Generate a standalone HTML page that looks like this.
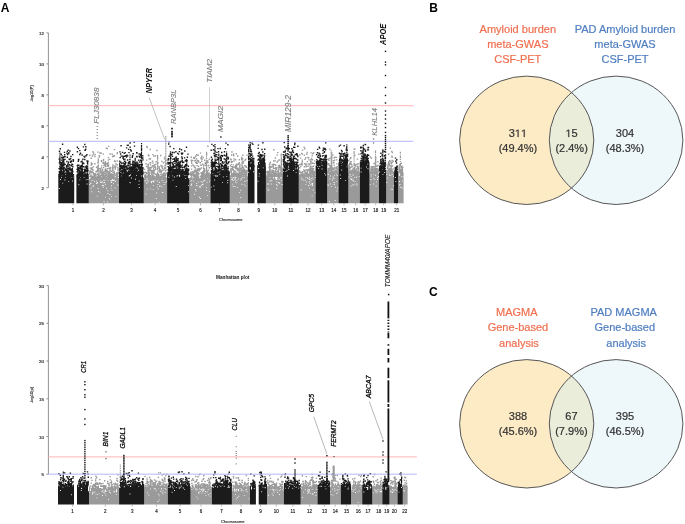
<!DOCTYPE html>
<html><head><meta charset="utf-8"><style>
html,body{margin:0;padding:0;background:#fff;width:685px;height:524px;overflow:hidden}
svg{display:block;font-family:"Liberation Sans",sans-serif;will-change:transform}
</style></head><body>
<svg width="685" height="524" viewBox="0 0 685 524">
<path fill="#9a9a9a" d="M88.8 203.2L88.8 178.8L89.8 178.8L89.8 180.1L90.8 180.1L90.8 177.1L91.8 177.1L91.8 178L92.8 178L92.8 179L93.8 179L93.8 177.3L94.8 177.3L94.8 179.1L95.8 179.1L95.8 177L96.8 177L96.8 177.2L97.8 177.2L97.8 178.1L98.8 178.1L98.8 179.1L99.8 179.1L99.8 177.7L100.8 177.7L100.8 177.5L101.8 177.5L101.8 177.3L102.8 177.3L102.8 177.2L103.8 177.2L103.8 178.8L104.8 178.8L104.8 179.1L105.8 179.1L105.8 177.8L106.8 177.8L106.8 177.9L107.8 177.9L107.8 178.7L108.8 178.7L108.8 177.7L109.8 177.7L109.8 177.8L110.8 177.8L110.8 177.8L111.8 177.8L111.8 181L112.8 181L112.8 177.7L113.8 177.7L113.8 180.6L114.8 180.6L114.8 178.9L115.8 178.9L115.8 178.3L116.8 178.3L116.8 177.8L117.8 177.8L117.8 177.9L119 177.9L119 203.2ZM143.8 203.2L143.8 178.3L144.8 178.3L144.8 181.5L145.8 181.5L145.8 179.4L146.8 179.4L146.8 180.8L147.8 180.8L147.8 178.4L148.8 178.4L148.8 178.7L149.8 178.7L149.8 179L150.8 179L150.8 177.4L151.8 177.4L151.8 177.5L152.8 177.5L152.8 178.2L153.8 178.2L153.8 180.5L154.8 180.5L154.8 177.7L155.8 177.7L155.8 178.8L156.8 178.8L156.8 178.2L157.8 178.2L157.8 178.4L158.8 178.4L158.8 177.3L159.8 177.3L159.8 177.9L160.8 177.9L160.8 177.2L161.8 177.2L161.8 177.1L162.8 177.1L162.8 177.4L163.8 177.4L163.8 177.8L164.8 177.8L164.8 178L165.8 178L165.8 178.5L167.1 178.5L167.1 203.2ZM189.3 203.2L189.3 178.3L190.3 178.3L190.3 178L191.3 178L191.3 180.6L192.3 180.6L192.3 177.1L193.3 177.1L193.3 178.2L194.3 178.2L194.3 177.9L195.3 177.9L195.3 179.1L196.3 179.1L196.3 177.9L197.3 177.9L197.3 179L198.3 179L198.3 179.2L199.3 179.2L199.3 178.3L200.3 178.3L200.3 178L201.3 178L201.3 177.8L202.3 177.8L202.3 179.3L203.3 179.3L203.3 177.1L204.3 177.1L204.3 180.5L205.3 180.5L205.3 178L206.3 178L206.3 178.1L207.3 178.1L207.3 178.1L208.3 178.1L208.3 177.3L209.3 177.3L209.3 177.4L210.4 177.4L210.4 203.2ZM229.8 203.2L229.8 175.5L230.8 175.5L230.8 175.8L231.8 175.8L231.8 174.8L232.8 174.8L232.8 174.1L233.8 174.1L233.8 174.3L234.8 174.3L234.8 178.8L235.8 178.8L235.8 174L236.8 174L236.8 174.5L237.8 174.5L237.8 174.7L238.8 174.7L238.8 174.1L239.8 174.1L239.8 174.5L240.8 174.5L240.8 176.3L241.8 176.3L241.8 178L242.8 178L242.8 174.6L243.8 174.6L243.8 177.2L244.8 177.2L244.8 174.5L245.8 174.5L245.8 174.3L246.8 174.3L246.8 176.3L247.8 176.3L247.8 203.2ZM265.9 203.2L265.9 175L266.9 175L266.9 175.9L267.9 175.9L267.9 174.4L268.9 174.4L268.9 175.2L269.9 175.2L269.9 175.8L270.9 175.8L270.9 175.2L271.9 175.2L271.9 174.9L272.9 174.9L272.9 177.5L273.9 177.5L273.9 174.1L274.9 174.1L274.9 178.4L275.9 178.4L275.9 179.4L276.9 179.4L276.9 176.6L277.9 176.6L277.9 174.1L278.9 174.1L278.9 175.9L279.9 175.9L279.9 174.3L280.9 174.3L280.9 175.1L281.9 175.1L281.9 174.2L282.6 174.2L282.6 203.2ZM298.8 203.2L298.8 174.2L299.8 174.2L299.8 174.9L300.8 174.9L300.8 175.4L301.8 175.4L301.8 176.4L302.8 176.4L302.8 174.7L303.8 174.7L303.8 175.6L304.8 175.6L304.8 175L305.8 175L305.8 174.9L306.8 174.9L306.8 174.1L307.8 174.1L307.8 174.7L308.8 174.7L308.8 177L309.8 177L309.8 174.8L310.8 174.8L310.8 175.4L311.8 175.4L311.8 174.5L312.8 174.5L312.8 174.2L313.8 174.2L313.8 175.5L314.8 175.5L314.8 175.4L315.6 175.4L315.6 203.2ZM327.2 203.2L327.2 171L328.2 171L328.2 171.2L329.2 171.2L329.2 173.5L330.2 173.5L330.2 172.1L331.2 172.1L331.2 173.2L332.2 173.2L332.2 173L333.2 173L333.2 171.1L334.2 171.1L334.2 172.2L335.2 172.2L335.2 172.8L336.2 172.8L336.2 174.5L337.2 174.5L337.2 173.4L338.5 173.4L338.5 203.2ZM348.4 203.2L348.4 172.3L349.4 172.3L349.4 171.1L350.4 171.1L350.4 171.6L351.4 171.6L351.4 171.3L352.4 171.3L352.4 171.9L353.4 171.9L353.4 171.8L354.4 171.8L354.4 172.5L355.4 172.5L355.4 171.8L356.4 171.8L356.4 173.9L357.4 173.9L357.4 173.5L358.4 173.5L358.4 172.6L359.4 172.6L359.4 171.5L359.8 171.5L359.8 203.2ZM369.5 203.2L369.5 172.3L370.5 172.3L370.5 171.3L371.5 171.3L371.5 172L372.5 172L372.5 171.3L373.5 171.3L373.5 171L374.5 171L374.5 171.1L375.5 171.1L375.5 171.3L376.5 171.3L376.5 172.3L377.5 172.3L377.5 172.1L378.5 172.1L378.5 171L379 171L379 203.2ZM386.2 203.2L386.2 171.5L387.2 171.5L387.2 170.7L388.2 170.7L388.2 170.1L389.2 170.1L389.2 171.4L390.2 171.4L390.2 171L391.2 171L391.2 172.5L392.2 172.5L392.2 170.6L393.2 170.6L393.2 171.7L393.9 171.7L393.9 203.2ZM398.1 203.2L398.1 170.7L399.1 170.7L399.1 175.6L400.1 175.6L400.1 170.7L401.1 170.7L401.1 170.5L402.1 170.5L402.1 170.8L403.1 170.8L403.1 172.6L403.6 172.6L403.6 203.2Z"/>
<path fill="#1b1b1b" d="M58.3 203.2L58.3 174L59.3 174L59.3 174.6L60.3 174.6L60.3 174.5L61.3 174.5L61.3 175.8L62.3 175.8L62.3 174.9L63.3 174.9L63.3 176L64.3 176L64.3 174.1L65.3 174.1L65.3 176.7L66.3 176.7L66.3 175L67.3 175L67.3 175.2L68.3 175.2L68.3 175L69.3 175L69.3 174.7L70.3 174.7L70.3 174.2L71.3 174.2L71.3 175.9L72.3 175.9L72.3 174.1L73.3 174.1L73.3 175.4L74.2 175.4L74.2 203.2ZM76.4 203.2L76.4 174.8L77.4 174.8L77.4 177L78.4 177L78.4 176.6L79.4 176.6L79.4 175.3L80.4 175.3L80.4 176.5L81.4 176.5L81.4 174.7L82.4 174.7L82.4 174.5L83.4 174.5L83.4 177.5L84.4 177.5L84.4 177.2L85.4 177.2L85.4 174.2L86.4 174.2L86.4 174.5L87.4 174.5L87.4 176.5L88.4 176.5L88.4 175.4L88.8 175.4L88.8 203.2ZM119 203.2L119 172.1L120 172.1L120 174.6L121 174.6L121 174.4L122 174.4L122 173.8L123 173.8L123 173.4L124 173.4L124 172.1L125 172.1L125 173.3L126 173.3L126 173.6L127 173.6L127 172.7L128 172.7L128 172.1L129 172.1L129 173.7L130 173.7L130 175.5L131 175.5L131 173.3L132 173.3L132 174.2L133 174.2L133 172L134 172L134 173.4L135 173.4L135 173L136 173L136 175.7L137 175.7L137 174.7L138 174.7L138 173.1L139 173.1L139 172.2L140 172.2L140 174.6L141 174.6L141 172.5L142 172.5L142 172.3L143 172.3L143 177.4L143.8 177.4L143.8 203.2ZM167.1 203.2L167.1 172.4L168.1 172.4L168.1 172.2L169.1 172.2L169.1 173.3L170.1 173.3L170.1 172.9L171.1 172.9L171.1 173L172.1 173L172.1 172.3L173.1 172.3L173.1 173.5L174.1 173.5L174.1 172.5L175.1 172.5L175.1 173.9L176.1 173.9L176.1 174L177.1 174L177.1 176.2L178.1 176.2L178.1 172.4L179.1 172.4L179.1 176.8L180.1 176.8L180.1 172.7L181.1 172.7L181.1 174.3L182.1 174.3L182.1 172L183.1 172L183.1 174.6L184.1 174.6L184.1 172.3L185.1 172.3L185.1 173.2L186.1 173.2L186.1 172.2L187.1 172.2L187.1 172.7L188.1 172.7L188.1 178.3L189.3 178.3L189.3 203.2ZM210.4 203.2L210.4 174.2L211.4 174.2L211.4 174.7L212.4 174.7L212.4 172.2L213.4 172.2L213.4 175.6L214.4 175.6L214.4 172.4L215.4 172.4L215.4 176.7L216.4 176.7L216.4 173.7L217.4 173.7L217.4 172.7L218.4 172.7L218.4 172.5L219.4 172.5L219.4 175.1L220.4 175.1L220.4 172.5L221.4 172.5L221.4 174.3L222.4 174.3L222.4 172L223.4 172L223.4 173.5L224.4 173.5L224.4 173L225.4 173L225.4 173.2L226.4 173.2L226.4 174.5L227.4 174.5L227.4 173.9L228.4 173.9L228.4 172.1L229.4 172.1L229.4 173.2L229.8 173.2L229.8 203.2ZM247.8 203.2L247.8 166.7L248.8 166.7L248.8 166.1L249.8 166.1L249.8 169.5L250.8 169.5L250.8 165.8L251.8 165.8L251.8 164.4L252.8 164.4L252.8 166.1L253.8 166.1L253.8 164.3L254.5 164.3L254.5 203.2ZM257.2 203.2L257.2 165.3L258.2 165.3L258.2 165.4L259.2 165.4L259.2 166.4L260.2 166.4L260.2 164.9L261.2 164.9L261.2 166.9L262.2 166.9L262.2 164L263.2 164L263.2 167.1L264.2 167.1L264.2 165.4L265.2 165.4L265.2 166.3L265.9 166.3L265.9 203.2ZM282.6 203.2L282.6 167.7L283.6 167.7L283.6 168.8L284.6 168.8L284.6 165.2L285.6 165.2L285.6 166.4L286.6 166.4L286.6 167.4L287.6 167.4L287.6 168.3L288.6 168.3L288.6 166.9L289.6 166.9L289.6 165.8L290.6 165.8L290.6 167.1L291.6 167.1L291.6 166.6L292.6 166.6L292.6 167.7L293.6 167.7L293.6 167.3L294.6 167.3L294.6 166.8L295.6 166.8L295.6 165.9L296.6 165.9L296.6 169.3L297.6 169.3L297.6 166.4L298.8 166.4L298.8 203.2ZM315.6 203.2L315.6 165.4L316.6 165.4L316.6 163.5L317.6 163.5L317.6 162.2L318.6 162.2L318.6 163L319.6 163L319.6 162.4L320.6 162.4L320.6 163.5L321.6 163.5L321.6 163.2L322.6 163.2L322.6 163.4L323.6 163.4L323.6 162.2L324.6 162.2L324.6 162.2L325.6 162.2L325.6 162.7L326.6 162.7L326.6 162L327.2 162L327.2 203.2ZM338.5 203.2L338.5 162.2L339.5 162.2L339.5 164.4L340.5 164.4L340.5 162.5L341.5 162.5L341.5 164.6L342.5 164.6L342.5 162.8L343.5 162.8L343.5 165L344.5 165L344.5 162.8L345.5 162.8L345.5 162.9L346.5 162.9L346.5 163.1L347.5 163.1L347.5 164.6L348.4 164.6L348.4 203.2ZM359.8 203.2L359.8 161.8L360.8 161.8L360.8 162.7L361.8 162.7L361.8 160.2L362.8 160.2L362.8 160.7L363.8 160.7L363.8 160.9L364.8 160.9L364.8 160L365.8 160L365.8 160.4L366.8 160.4L366.8 161.4L367.8 161.4L367.8 160.6L368.8 160.6L368.8 161.7L369.5 161.7L369.5 203.2ZM379 203.2L379 167L380 167L380 167L381 167L381 166.1L382 166.1L382 168.1L383 168.1L383 166.6L384 166.6L384 167.8L385 167.8L385 169.6L386.2 169.6L386.2 203.2ZM393.9 203.2L393.9 172.5L394.9 172.5L394.9 170.5L395.9 170.5L395.9 170.6L396.9 170.6L396.9 172.1L398.1 172.1L398.1 203.2Z"/>
<path fill="#fff" d="M65.2 176.7h0.9v0.9h-0.9zM62.3 182.7h0.9v0.9h-0.9zM61.1 176.8h0.9v0.9h-0.9zM64.4 179.6h0.9v0.9h-0.9zM70.6 176.7h0.9v0.9h-0.9zM72.2 180.6h0.9v0.9h-0.9zM68.3 174.6h0.9v0.9h-0.9zM68.2 181.2h0.9v0.9h-0.9zM69.9 174.9h0.9v0.9h-0.9zM72.6 176.7h0.9v0.9h-0.9zM60 179h0.9v0.9h-0.9zM58.8 188h0.9v0.9h-0.9zM80.2 176.9h0.9v0.9h-0.9zM87 174.8h0.9v0.9h-0.9zM85.7 179.4h0.9v0.9h-0.9zM80.8 174.6h0.9v0.9h-0.9zM79.4 179.4h0.9v0.9h-0.9zM77.5 175.8h0.9v0.9h-0.9zM87.5 179.1h0.9v0.9h-0.9zM86.6 183.6h0.9v0.9h-0.9zM78.4 184.3h0.9v0.9h-0.9zM92.5 186.2h0.9v0.9h-0.9zM101.5 182.1h0.9v0.9h-0.9zM113 182.9h0.9v0.9h-0.9zM90.3 183h0.9v0.9h-0.9zM109.1 198.6h0.9v0.9h-0.9zM96.7 182.4h0.9v0.9h-0.9zM114.4 179.3h0.9v0.9h-0.9zM100.8 179.3h0.9v0.9h-0.9zM89 178h0.9v0.9h-0.9zM98.5 178.4h0.9v0.9h-0.9zM111.2 185.3h0.9v0.9h-0.9zM105.4 179.6h0.9v0.9h-0.9zM99.4 191.7h0.9v0.9h-0.9zM102.6 184.9h0.9v0.9h-0.9zM101.2 181.5h0.9v0.9h-0.9zM115.1 181.1h0.9v0.9h-0.9zM104 179.8h0.9v0.9h-0.9zM91.3 191.3h0.9v0.9h-0.9zM103.4 185.3h0.9v0.9h-0.9zM111.1 195.9h0.9v0.9h-0.9zM107.3 201.5h0.9v0.9h-0.9zM91.4 180.2h0.9v0.9h-0.9zM110.6 187.7h0.9v0.9h-0.9zM107.6 179.9h0.9v0.9h-0.9zM100.2 182h0.9v0.9h-0.9zM105.1 196.7h0.9v0.9h-0.9zM113 180h0.9v0.9h-0.9zM115.9 178h0.9v0.9h-0.9zM111.3 182.2h0.9v0.9h-0.9zM110.8 181.9h0.9v0.9h-0.9zM102.5 178.7h0.9v0.9h-0.9zM89.8 179h0.9v0.9h-0.9zM103.1 180.2h0.9v0.9h-0.9zM96.7 195.7h0.9v0.9h-0.9zM96 180.5h0.9v0.9h-0.9zM105 183.8h0.9v0.9h-0.9zM114.6 187.5h0.9v0.9h-0.9zM96.1 183h0.9v0.9h-0.9zM107.4 190.3h0.9v0.9h-0.9zM111.5 189.8h0.9v0.9h-0.9zM102.8 186.9h0.9v0.9h-0.9zM92.5 179.3h0.9v0.9h-0.9zM111.2 180.6h0.9v0.9h-0.9zM106 187.8h0.9v0.9h-0.9zM93.1 185.3h0.9v0.9h-0.9zM110.5 178h0.9v0.9h-0.9zM96.4 183h0.9v0.9h-0.9zM115.5 195.9h0.9v0.9h-0.9zM103.5 178.8h0.9v0.9h-0.9zM101.8 181.4h0.9v0.9h-0.9zM103.3 178.3h0.9v0.9h-0.9zM93.5 179.4h0.9v0.9h-0.9zM90.7 187.8h0.9v0.9h-0.9zM109.2 198.3h0.9v0.9h-0.9zM117.4 184.5h0.9v0.9h-0.9zM107.4 193.1h0.9v0.9h-0.9zM101.8 185.1h0.9v0.9h-0.9zM97.1 182.1h0.9v0.9h-0.9zM117.5 203.3h0.9v0.9h-0.9zM103.6 201h0.9v0.9h-0.9zM98 191.1h0.9v0.9h-0.9zM89.3 184.1h0.9v0.9h-0.9zM94 180.9h0.9v0.9h-0.9zM116.5 177.8h0.9v0.9h-0.9zM97.6 188.1h0.9v0.9h-0.9zM109.4 194h0.9v0.9h-0.9zM100 180.3h0.9v0.9h-0.9zM113.8 179.4h0.9v0.9h-0.9zM90.7 182.7h0.9v0.9h-0.9zM103.2 182.4h0.9v0.9h-0.9zM110.2 180.3h0.9v0.9h-0.9zM104.1 182h0.9v0.9h-0.9zM135.6 173.8h0.9v0.9h-0.9zM140.9 175.5h0.9v0.9h-0.9zM137.8 172.8h0.9v0.9h-0.9zM129.9 182.4h0.9v0.9h-0.9zM140.4 174h0.9v0.9h-0.9zM132.1 173h0.9v0.9h-0.9zM129.3 175.1h0.9v0.9h-0.9zM142.8 175.3h0.9v0.9h-0.9zM128.7 175.6h0.9v0.9h-0.9zM137.3 173.3h0.9v0.9h-0.9zM138.5 184.2h0.9v0.9h-0.9zM129.4 182.2h0.9v0.9h-0.9zM128.5 173h0.9v0.9h-0.9zM129 173.2h0.9v0.9h-0.9zM121.1 175.4h0.9v0.9h-0.9zM138.7 180.5h0.9v0.9h-0.9zM131 177.6h0.9v0.9h-0.9zM138.8 187.1h0.9v0.9h-0.9zM135.1 178.8h0.9v0.9h-0.9zM152.8 188.9h0.9v0.9h-0.9zM151 182.3h0.9v0.9h-0.9zM161.4 179.9h0.9v0.9h-0.9zM151.2 181.3h0.9v0.9h-0.9zM149.9 188.4h0.9v0.9h-0.9zM145.7 178.3h0.9v0.9h-0.9zM153.2 181.7h0.9v0.9h-0.9zM162.6 179.7h0.9v0.9h-0.9zM153.2 180.8h0.9v0.9h-0.9zM162.4 179.8h0.9v0.9h-0.9zM162.4 192h0.9v0.9h-0.9zM149.8 178.7h0.9v0.9h-0.9zM161.5 186.3h0.9v0.9h-0.9zM148.9 178.8h0.9v0.9h-0.9zM157.5 184h0.9v0.9h-0.9zM163.5 181.9h0.9v0.9h-0.9zM153.6 203h0.9v0.9h-0.9zM158.6 201.9h0.9v0.9h-0.9zM159.2 182.2h0.9v0.9h-0.9zM159.5 185.2h0.9v0.9h-0.9zM149.5 179.2h0.9v0.9h-0.9zM164.7 179.1h0.9v0.9h-0.9zM146.6 182.1h0.9v0.9h-0.9zM152.6 180.5h0.9v0.9h-0.9zM145.8 179.3h0.9v0.9h-0.9zM161.5 178.1h0.9v0.9h-0.9zM150.7 180.9h0.9v0.9h-0.9zM155.9 198h0.9v0.9h-0.9zM153 184.9h0.9v0.9h-0.9zM152.6 178h0.9v0.9h-0.9zM161 204.4h0.9v0.9h-0.9zM163.5 178.7h0.9v0.9h-0.9zM148.2 180.6h0.9v0.9h-0.9zM165.5 178.6h0.9v0.9h-0.9zM157.8 179.3h0.9v0.9h-0.9zM166 178.2h0.9v0.9h-0.9zM156.3 192.6h0.9v0.9h-0.9zM161.9 192.2h0.9v0.9h-0.9zM152.5 181.2h0.9v0.9h-0.9zM150.1 178.7h0.9v0.9h-0.9zM161.8 216h0.9v0.9h-0.9zM156.6 186.7h0.9v0.9h-0.9zM158.6 181.7h0.9v0.9h-0.9zM156.8 180.5h0.9v0.9h-0.9zM163.6 184h0.9v0.9h-0.9zM154.7 179.3h0.9v0.9h-0.9zM159.4 186.1h0.9v0.9h-0.9zM165.4 182.2h0.9v0.9h-0.9zM146.3 182.9h0.9v0.9h-0.9zM162.3 179.4h0.9v0.9h-0.9zM157.6 188.5h0.9v0.9h-0.9zM166.2 180.8h0.9v0.9h-0.9zM145.6 193.5h0.9v0.9h-0.9zM150.5 178.9h0.9v0.9h-0.9zM146.7 188.7h0.9v0.9h-0.9zM185.2 178.2h0.9v0.9h-0.9zM171.9 175.4h0.9v0.9h-0.9zM168.9 174.3h0.9v0.9h-0.9zM179.4 173.2h0.9v0.9h-0.9zM176.1 175.4h0.9v0.9h-0.9zM168.9 173.3h0.9v0.9h-0.9zM183.7 172.5h0.9v0.9h-0.9zM188.1 184.9h0.9v0.9h-0.9zM188.1 191.3h0.9v0.9h-0.9zM167.2 173.5h0.9v0.9h-0.9zM173.9 176.6h0.9v0.9h-0.9zM168.4 176.8h0.9v0.9h-0.9zM186.5 174.9h0.9v0.9h-0.9zM172.5 179.7h0.9v0.9h-0.9zM184.5 174.9h0.9v0.9h-0.9zM169.8 173.6h0.9v0.9h-0.9zM175.8 186h0.9v0.9h-0.9zM190.7 184.9h0.9v0.9h-0.9zM209.4 179.5h0.9v0.9h-0.9zM209.4 179.7h0.9v0.9h-0.9zM195.5 190.6h0.9v0.9h-0.9zM208.9 178.8h0.9v0.9h-0.9zM203.9 179.2h0.9v0.9h-0.9zM197.3 185.4h0.9v0.9h-0.9zM202.1 178.5h0.9v0.9h-0.9zM199.2 186.3h0.9v0.9h-0.9zM201.9 181.8h0.9v0.9h-0.9zM204.2 179.9h0.9v0.9h-0.9zM190.2 177.8h0.9v0.9h-0.9zM201.8 184h0.9v0.9h-0.9zM206.2 190.2h0.9v0.9h-0.9zM191.6 179.2h0.9v0.9h-0.9zM197.8 181.5h0.9v0.9h-0.9zM207.7 178.3h0.9v0.9h-0.9zM195.5 179.1h0.9v0.9h-0.9zM195.9 185h0.9v0.9h-0.9zM191.3 183.5h0.9v0.9h-0.9zM199 196.8h0.9v0.9h-0.9zM200.7 185h0.9v0.9h-0.9zM204.2 178.3h0.9v0.9h-0.9zM204.5 179.4h0.9v0.9h-0.9zM203.2 180.6h0.9v0.9h-0.9zM191 184h0.9v0.9h-0.9zM206 235.7h0.9v0.9h-0.9zM207.2 194.9h0.9v0.9h-0.9zM200.4 186.4h0.9v0.9h-0.9zM205.8 179.4h0.9v0.9h-0.9zM192 178.3h0.9v0.9h-0.9zM200.1 198h0.9v0.9h-0.9zM200.7 181.1h0.9v0.9h-0.9zM205.5 178.1h0.9v0.9h-0.9zM196.2 183.1h0.9v0.9h-0.9zM204.6 177.7h0.9v0.9h-0.9zM202 178.6h0.9v0.9h-0.9zM199.5 186.8h0.9v0.9h-0.9zM205.9 187.3h0.9v0.9h-0.9zM209.1 191.2h0.9v0.9h-0.9zM190.6 180.5h0.9v0.9h-0.9zM206.7 178.3h0.9v0.9h-0.9zM203.5 178.4h0.9v0.9h-0.9zM193.4 180.6h0.9v0.9h-0.9zM195.2 189h0.9v0.9h-0.9zM194 193.8h0.9v0.9h-0.9zM199.1 196.7h0.9v0.9h-0.9zM208.9 181.4h0.9v0.9h-0.9zM206.7 181.9h0.9v0.9h-0.9zM202.7 183.8h0.9v0.9h-0.9zM227.2 182.3h0.9v0.9h-0.9zM222.9 176.4h0.9v0.9h-0.9zM222.6 172.6h0.9v0.9h-0.9zM213.3 172.5h0.9v0.9h-0.9zM212.5 173h0.9v0.9h-0.9zM217.5 174.5h0.9v0.9h-0.9zM226.3 175.9h0.9v0.9h-0.9zM213.4 185.6h0.9v0.9h-0.9zM227.4 180h0.9v0.9h-0.9zM210.8 186.7h0.9v0.9h-0.9zM222.1 182.2h0.9v0.9h-0.9zM213.9 189.4h0.9v0.9h-0.9zM220.3 173.1h0.9v0.9h-0.9zM216.8 175.8h0.9v0.9h-0.9zM214.2 179.5h0.9v0.9h-0.9zM236.4 179.9h0.9v0.9h-0.9zM243.5 175.5h0.9v0.9h-0.9zM231.8 179.2h0.9v0.9h-0.9zM232 178.6h0.9v0.9h-0.9zM243.8 184.4h0.9v0.9h-0.9zM231.2 178.9h0.9v0.9h-0.9zM239 192.2h0.9v0.9h-0.9zM241 178.7h0.9v0.9h-0.9zM240 179.7h0.9v0.9h-0.9zM240.2 174.7h0.9v0.9h-0.9zM236.9 186.9h0.9v0.9h-0.9zM233.3 177h0.9v0.9h-0.9zM242.1 175.2h0.9v0.9h-0.9zM244.5 181h0.9v0.9h-0.9zM246.3 175.9h0.9v0.9h-0.9zM240.3 197h0.9v0.9h-0.9zM243.8 177.4h0.9v0.9h-0.9zM233.1 177.4h0.9v0.9h-0.9zM239.9 175.1h0.9v0.9h-0.9zM236.3 182.4h0.9v0.9h-0.9zM238.8 175.7h0.9v0.9h-0.9zM240.8 178.3h0.9v0.9h-0.9zM245.4 185.7h0.9v0.9h-0.9zM230.2 176.3h0.9v0.9h-0.9zM232.8 186h0.9v0.9h-0.9zM235.9 176.8h0.9v0.9h-0.9zM246.5 180.3h0.9v0.9h-0.9zM240.4 189.8h0.9v0.9h-0.9zM245.4 175.3h0.9v0.9h-0.9zM237.9 178.6h0.9v0.9h-0.9zM241.8 176.9h0.9v0.9h-0.9zM232.8 180h0.9v0.9h-0.9zM232 183.7h0.9v0.9h-0.9zM234.6 179.4h0.9v0.9h-0.9zM234.5 186h0.9v0.9h-0.9zM235 181.5h0.9v0.9h-0.9zM241.9 176.2h0.9v0.9h-0.9zM241.5 183.8h0.9v0.9h-0.9zM231.4 176.7h0.9v0.9h-0.9zM245.2 174.8h0.9v0.9h-0.9zM234.5 178.7h0.9v0.9h-0.9zM231.2 175.3h0.9v0.9h-0.9zM234.4 186.1h0.9v0.9h-0.9zM251.5 165.6h0.9v0.9h-0.9zM248.2 171.8h0.9v0.9h-0.9zM253.5 165.2h0.9v0.9h-0.9zM253.1 171.3h0.9v0.9h-0.9zM251.6 165.4h0.9v0.9h-0.9zM257.6 180.8h0.9v0.9h-0.9zM262.3 165.5h0.9v0.9h-0.9zM258.2 168h0.9v0.9h-0.9zM258.6 175.7h0.9v0.9h-0.9zM258.9 173.3h0.9v0.9h-0.9zM262.8 167.4h0.9v0.9h-0.9zM267.6 189.8h0.9v0.9h-0.9zM269.9 174.9h0.9v0.9h-0.9zM276.3 184h0.9v0.9h-0.9zM270.9 174.8h0.9v0.9h-0.9zM281.3 180.2h0.9v0.9h-0.9zM269.8 176.1h0.9v0.9h-0.9zM269.7 175.7h0.9v0.9h-0.9zM280.5 177h0.9v0.9h-0.9zM279.1 182.8h0.9v0.9h-0.9zM266.5 175.4h0.9v0.9h-0.9zM276.3 179.1h0.9v0.9h-0.9zM269.7 180.5h0.9v0.9h-0.9zM280.6 178.1h0.9v0.9h-0.9zM276.4 184.2h0.9v0.9h-0.9zM269.6 176.9h0.9v0.9h-0.9zM279.1 176.2h0.9v0.9h-0.9zM273 177.5h0.9v0.9h-0.9zM281.7 184h0.9v0.9h-0.9zM278.1 181.9h0.9v0.9h-0.9zM277.1 176.5h0.9v0.9h-0.9zM269.9 180.2h0.9v0.9h-0.9zM276.7 185.3h0.9v0.9h-0.9zM277.8 178.4h0.9v0.9h-0.9zM276.3 176.7h0.9v0.9h-0.9zM278.9 182.5h0.9v0.9h-0.9zM269.8 175.7h0.9v0.9h-0.9zM267.2 183.6h0.9v0.9h-0.9zM271.3 180.3h0.9v0.9h-0.9zM276.3 188.1h0.9v0.9h-0.9zM278.8 179.2h0.9v0.9h-0.9zM271.6 174.7h0.9v0.9h-0.9zM275.2 175.3h0.9v0.9h-0.9zM266.7 188.2h0.9v0.9h-0.9zM268.5 189.4h0.9v0.9h-0.9zM276.5 181.5h0.9v0.9h-0.9zM280.7 177.2h0.9v0.9h-0.9zM270.8 183.6h0.9v0.9h-0.9zM281.2 175.5h0.9v0.9h-0.9zM275.4 178.7h0.9v0.9h-0.9zM268.2 183.6h0.9v0.9h-0.9zM295.1 167.3h0.9v0.9h-0.9zM294.8 168.4h0.9v0.9h-0.9zM285.5 170.9h0.9v0.9h-0.9zM283.2 171.2h0.9v0.9h-0.9zM297.3 165.6h0.9v0.9h-0.9zM295.7 172.2h0.9v0.9h-0.9zM283.2 166.4h0.9v0.9h-0.9zM286.6 169.9h0.9v0.9h-0.9zM288.4 169.1h0.9v0.9h-0.9zM282.7 166.4h0.9v0.9h-0.9zM287 175.6h0.9v0.9h-0.9zM293.2 170.1h0.9v0.9h-0.9zM309 182.5h0.9v0.9h-0.9zM310.9 176.1h0.9v0.9h-0.9zM306.5 176.6h0.9v0.9h-0.9zM300.8 177.3h0.9v0.9h-0.9zM301.2 178.9h0.9v0.9h-0.9zM307.7 178.4h0.9v0.9h-0.9zM306.5 174.7h0.9v0.9h-0.9zM302.2 178.4h0.9v0.9h-0.9zM309.8 184.6h0.9v0.9h-0.9zM314.5 192.4h0.9v0.9h-0.9zM312.1 177.2h0.9v0.9h-0.9zM310.8 180.4h0.9v0.9h-0.9zM312.6 178.5h0.9v0.9h-0.9zM314.6 174.8h0.9v0.9h-0.9zM311.5 184.1h0.9v0.9h-0.9zM311.8 175.2h0.9v0.9h-0.9zM312.1 185h0.9v0.9h-0.9zM309 187.7h0.9v0.9h-0.9zM300.7 189.5h0.9v0.9h-0.9zM307.1 177.6h0.9v0.9h-0.9zM309.4 179h0.9v0.9h-0.9zM307.2 211.8h0.9v0.9h-0.9zM313.4 174.7h0.9v0.9h-0.9zM307.9 185.1h0.9v0.9h-0.9zM305.1 175.5h0.9v0.9h-0.9zM311.4 183.2h0.9v0.9h-0.9zM304.9 176.9h0.9v0.9h-0.9zM312.1 183.1h0.9v0.9h-0.9zM312.1 184.4h0.9v0.9h-0.9zM303 179.7h0.9v0.9h-0.9zM306.2 181.6h0.9v0.9h-0.9zM305.3 184.2h0.9v0.9h-0.9zM314.7 177.1h0.9v0.9h-0.9zM304.6 179.8h0.9v0.9h-0.9zM308.8 178.4h0.9v0.9h-0.9zM309.1 180.9h0.9v0.9h-0.9zM310.7 178.1h0.9v0.9h-0.9zM309.2 177.2h0.9v0.9h-0.9zM312.8 189.5h0.9v0.9h-0.9zM311.7 195.4h0.9v0.9h-0.9zM325.2 174.6h0.9v0.9h-0.9zM317.3 165.9h0.9v0.9h-0.9zM324.2 173.2h0.9v0.9h-0.9zM321.7 164.5h0.9v0.9h-0.9zM321.7 165.1h0.9v0.9h-0.9zM321.6 168.6h0.9v0.9h-0.9zM319.3 165.9h0.9v0.9h-0.9zM320.3 163.5h0.9v0.9h-0.9zM318.2 167.9h0.9v0.9h-0.9zM332.5 178.4h0.9v0.9h-0.9zM332.8 176.6h0.9v0.9h-0.9zM327.6 183.9h0.9v0.9h-0.9zM334.6 200h0.9v0.9h-0.9zM337 172.2h0.9v0.9h-0.9zM333.9 182.4h0.9v0.9h-0.9zM327.7 185h0.9v0.9h-0.9zM330 175.6h0.9v0.9h-0.9zM333.7 177.9h0.9v0.9h-0.9zM330.1 183.6h0.9v0.9h-0.9zM328.2 173.8h0.9v0.9h-0.9zM329.1 201h0.9v0.9h-0.9zM336.9 187.5h0.9v0.9h-0.9zM336.4 180.9h0.9v0.9h-0.9zM334 175.2h0.9v0.9h-0.9zM336.7 175h0.9v0.9h-0.9zM334.8 173.2h0.9v0.9h-0.9zM332 179.6h0.9v0.9h-0.9zM333.8 184h0.9v0.9h-0.9zM336.6 190.5h0.9v0.9h-0.9zM327.9 173.2h0.9v0.9h-0.9zM327.7 173.5h0.9v0.9h-0.9zM330.8 186.2h0.9v0.9h-0.9zM329.4 178.5h0.9v0.9h-0.9zM335.1 186.8h0.9v0.9h-0.9zM333.5 181.9h0.9v0.9h-0.9zM329.6 203.9h0.9v0.9h-0.9zM346.6 166.4h0.9v0.9h-0.9zM340.2 178h0.9v0.9h-0.9zM339.8 174.5h0.9v0.9h-0.9zM345.2 179.9h0.9v0.9h-0.9zM347.4 164.3h0.9v0.9h-0.9zM341.3 164.7h0.9v0.9h-0.9zM341.3 169.5h0.9v0.9h-0.9zM349.6 174.4h0.9v0.9h-0.9zM350.6 179.2h0.9v0.9h-0.9zM350.6 185.6h0.9v0.9h-0.9zM352.6 175.2h0.9v0.9h-0.9zM352.2 184.4h0.9v0.9h-0.9zM349.5 174.1h0.9v0.9h-0.9zM352.8 184.5h0.9v0.9h-0.9zM354.6 180.9h0.9v0.9h-0.9zM357.4 172.1h0.9v0.9h-0.9zM351.7 205.8h0.9v0.9h-0.9zM356.3 176.6h0.9v0.9h-0.9zM352.6 180.5h0.9v0.9h-0.9zM348.6 176.6h0.9v0.9h-0.9zM352.1 172.1h0.9v0.9h-0.9zM350.8 175.9h0.9v0.9h-0.9zM356.5 183.4h0.9v0.9h-0.9zM354.3 183.7h0.9v0.9h-0.9zM350.8 179h0.9v0.9h-0.9zM352.8 179.8h0.9v0.9h-0.9zM352 173.2h0.9v0.9h-0.9zM356.5 184.6h0.9v0.9h-0.9zM355.9 176.9h0.9v0.9h-0.9zM350.4 177.9h0.9v0.9h-0.9zM354 176.9h0.9v0.9h-0.9zM352.6 174.2h0.9v0.9h-0.9zM351.6 178.5h0.9v0.9h-0.9zM358.7 175.9h0.9v0.9h-0.9zM360.6 171.6h0.9v0.9h-0.9zM360.7 167.7h0.9v0.9h-0.9zM361.8 160.9h0.9v0.9h-0.9zM367.5 168.3h0.9v0.9h-0.9zM367.3 163.6h0.9v0.9h-0.9zM360.6 160.6h0.9v0.9h-0.9zM366.1 166.5h0.9v0.9h-0.9zM377.7 173.1h0.9v0.9h-0.9zM377.5 172.2h0.9v0.9h-0.9zM375.9 181.4h0.9v0.9h-0.9zM370.5 179h0.9v0.9h-0.9zM373.6 174.2h0.9v0.9h-0.9zM373.7 171.9h0.9v0.9h-0.9zM378.1 176.1h0.9v0.9h-0.9zM375.7 185.6h0.9v0.9h-0.9zM377.9 172.2h0.9v0.9h-0.9zM377.2 179h0.9v0.9h-0.9zM375.1 175.2h0.9v0.9h-0.9zM370.7 174.1h0.9v0.9h-0.9zM377.3 177h0.9v0.9h-0.9zM377.7 173h0.9v0.9h-0.9zM369.7 184.2h0.9v0.9h-0.9zM370.5 172.2h0.9v0.9h-0.9zM374.3 178.9h0.9v0.9h-0.9zM370.7 175.5h0.9v0.9h-0.9zM369.9 171.9h0.9v0.9h-0.9zM373.2 183.6h0.9v0.9h-0.9zM373.9 171.6h0.9v0.9h-0.9zM373.2 177.9h0.9v0.9h-0.9zM382.5 174.2h0.9v0.9h-0.9zM384.3 172.1h0.9v0.9h-0.9zM379.1 171.5h0.9v0.9h-0.9zM381.9 168.5h0.9v0.9h-0.9zM379.4 166.8h0.9v0.9h-0.9zM392.4 170.8h0.9v0.9h-0.9zM386.8 177.7h0.9v0.9h-0.9zM391.3 173.4h0.9v0.9h-0.9zM393 185.3h0.9v0.9h-0.9zM386.3 182h0.9v0.9h-0.9zM389.1 174.4h0.9v0.9h-0.9zM390.7 188.8h0.9v0.9h-0.9zM390.4 174.9h0.9v0.9h-0.9zM387.4 171.3h0.9v0.9h-0.9zM387.3 171h0.9v0.9h-0.9zM388.5 172.3h0.9v0.9h-0.9zM391.9 174.2h0.9v0.9h-0.9zM386.7 172h0.9v0.9h-0.9zM389.2 174.8h0.9v0.9h-0.9zM386.8 170.6h0.9v0.9h-0.9zM386.4 174h0.9v0.9h-0.9zM393 175.8h0.9v0.9h-0.9zM392 189.2h0.9v0.9h-0.9zM395.4 181h0.9v0.9h-0.9zM396.9 171.4h0.9v0.9h-0.9zM394.9 177.1h0.9v0.9h-0.9zM399.2 184.7h0.9v0.9h-0.9zM401.5 171.4h0.9v0.9h-0.9zM401.9 180.7h0.9v0.9h-0.9zM398.7 171.1h0.9v0.9h-0.9zM399.9 186.9h0.9v0.9h-0.9zM402.6 176.4h0.9v0.9h-0.9zM399.1 181.1h0.9v0.9h-0.9zM398.8 174.9h0.9v0.9h-0.9zM401.2 176.2h0.9v0.9h-0.9zM399.6 183.9h0.9v0.9h-0.9zM402.3 187.5h0.9v0.9h-0.9zM398.5 172.3h0.9v0.9h-0.9zM400.8 186.7h0.9v0.9h-0.9z"/>
<path fill="#9a9a9a" d="M103.3 175h1.4v1.4h-1.4zM108.2 174.4h1.4v1.4h-1.4zM92.7 166.2h1.4v1.4h-1.4zM89.6 167.4h1.4v1.4h-1.4zM116.4 178.9h1.4v1.4h-1.4zM93.4 177.5h1.4v1.4h-1.4zM91.3 162.9h1.4v1.4h-1.4zM105.9 175.1h1.4v1.4h-1.4zM91.9 168.7h1.4v1.4h-1.4zM112 174.8h1.4v1.4h-1.4zM92.8 173.1h1.4v1.4h-1.4zM106.9 172.7h1.4v1.4h-1.4zM113.7 173.1h1.4v1.4h-1.4zM103.5 175.4h1.4v1.4h-1.4zM105 169.6h1.4v1.4h-1.4zM109.9 177.7h1.4v1.4h-1.4zM117.4 169.6h1.4v1.4h-1.4zM101 167.3h1.4v1.4h-1.4zM111.2 175.5h1.4v1.4h-1.4zM107.2 164.8h1.4v1.4h-1.4zM103.7 164.7h1.4v1.4h-1.4zM102.3 162.3h1.4v1.4h-1.4zM97 168.8h1.4v1.4h-1.4zM97.9 174.8h1.4v1.4h-1.4zM100.6 170.2h1.4v1.4h-1.4zM116.1 178.4h1.4v1.4h-1.4zM117.4 171.6h1.4v1.4h-1.4zM90.9 168.7h1.4v1.4h-1.4zM90.2 175.5h1.4v1.4h-1.4zM94.1 173.2h1.4v1.4h-1.4zM97.6 175.4h1.4v1.4h-1.4zM112.5 169.7h1.4v1.4h-1.4zM98.3 167.9h1.4v1.4h-1.4zM89 171.9h1.4v1.4h-1.4zM116.5 178.1h1.4v1.4h-1.4zM113.9 175.3h1.4v1.4h-1.4zM97.3 178.1h1.4v1.4h-1.4zM114.6 178.7h1.4v1.4h-1.4zM92.2 151.1h1.4v1.4h-1.4zM101.7 177.8h1.4v1.4h-1.4zM103.6 172.8h1.4v1.4h-1.4zM104.6 168.8h1.4v1.4h-1.4zM113.5 177.9h1.4v1.4h-1.4zM105.9 162.7h1.4v1.4h-1.4zM102 171.7h1.4v1.4h-1.4zM91.6 155.4h1.4v1.4h-1.4zM111.5 153.6h1.4v1.4h-1.4zM90.5 157.6h1.4v1.4h-1.4zM94.5 177h1.4v1.4h-1.4zM98.2 175.2h1.4v1.4h-1.4zM106.9 178.8h1.4v1.4h-1.4zM94.4 153.8h1.4v1.4h-1.4zM112.4 166.8h1.4v1.4h-1.4zM103.5 164.5h1.4v1.4h-1.4zM107.7 171.1h1.4v1.4h-1.4zM91.3 167h1.4v1.4h-1.4zM114.1 160.7h1.4v1.4h-1.4zM90.3 164.4h1.4v1.4h-1.4zM99.9 168.6h1.4v1.4h-1.4zM105.7 147.5h1.4v1.4h-1.4zM98.5 156.3h1.4v1.4h-1.4zM106.5 169.8h1.4v1.4h-1.4zM109.1 172.5h1.4v1.4h-1.4zM112.3 164.3h1.4v1.4h-1.4zM116.5 176.6h1.4v1.4h-1.4zM92.5 154.2h1.4v1.4h-1.4zM97.4 170.3h1.4v1.4h-1.4zM106.4 165.7h1.4v1.4h-1.4zM91.3 175.8h1.4v1.4h-1.4zM90.7 167.8h1.4v1.4h-1.4zM114.1 165.3h1.4v1.4h-1.4zM92.5 171.7h1.4v1.4h-1.4zM102.6 176.4h1.4v1.4h-1.4zM103.2 171.5h1.4v1.4h-1.4zM100.5 171.7h1.4v1.4h-1.4zM115.2 165.8h1.4v1.4h-1.4zM93.4 173.8h1.4v1.4h-1.4zM103 161.5h1.4v1.4h-1.4zM91.3 171h1.4v1.4h-1.4zM96.3 166.2h1.4v1.4h-1.4zM98 174.5h1.4v1.4h-1.4zM91.2 171h1.4v1.4h-1.4zM91.2 163.8h1.4v1.4h-1.4zM97.2 177.3h1.4v1.4h-1.4zM114.5 160.9h1.4v1.4h-1.4zM96.2 179h1.4v1.4h-1.4zM100 178.6h1.4v1.4h-1.4zM109 177.3h1.4v1.4h-1.4zM113.7 171.9h1.4v1.4h-1.4zM99.1 176.6h1.4v1.4h-1.4zM109.8 177.4h1.4v1.4h-1.4zM99.9 177.9h1.4v1.4h-1.4zM116.1 175.7h1.4v1.4h-1.4zM117.6 172.8h1.4v1.4h-1.4zM99.3 167.7h1.4v1.4h-1.4zM92.4 169.7h1.4v1.4h-1.4zM94.2 178.8h1.4v1.4h-1.4zM114.4 168.4h1.4v1.4h-1.4zM108.1 175.5h1.4v1.4h-1.4zM90 178.3h1.4v1.4h-1.4zM103.2 178.8h1.4v1.4h-1.4zM103.3 164.8h1.4v1.4h-1.4zM107.7 156.9h1.4v1.4h-1.4zM90.1 178.3h1.4v1.4h-1.4zM114.6 174.6h1.4v1.4h-1.4zM104.2 177.6h1.4v1.4h-1.4zM115.8 177.9h1.4v1.4h-1.4zM100.6 174.7h1.4v1.4h-1.4zM109.5 153.3h1.4v1.4h-1.4zM110 173.8h1.4v1.4h-1.4zM91 163h1.4v1.4h-1.4zM116.8 178.8h1.4v1.4h-1.4zM111.1 175.9h1.4v1.4h-1.4zM102 175.4h1.4v1.4h-1.4zM106.5 164.1h1.4v1.4h-1.4zM108.6 173.1h1.4v1.4h-1.4zM109.4 167.7h1.4v1.4h-1.4zM100.7 160h1.4v1.4h-1.4zM103 177.1h1.4v1.4h-1.4zM95.8 177.8h1.4v1.4h-1.4zM101.5 175.6h1.4v1.4h-1.4zM112.9 155.3h1.4v1.4h-1.4zM98.7 175.4h1.4v1.4h-1.4zM114.8 178.8h1.4v1.4h-1.4zM101.6 174.3h1.4v1.4h-1.4zM116.4 175.6h1.4v1.4h-1.4zM116.6 152.1h1.4v1.4h-1.4zM111.7 167.5h1.4v1.4h-1.4zM113.9 175.4h1.4v1.4h-1.4zM109.2 171.4h1.4v1.4h-1.4zM103.4 176.8h1.4v1.4h-1.4zM94.6 178.4h1.4v1.4h-1.4zM111.6 174.3h1.4v1.4h-1.4zM108 176.4h1.4v1.4h-1.4zM107.8 176.8h1.4v1.4h-1.4zM107.9 164.4h1.4v1.4h-1.4zM106.6 147.9h1.4v1.4h-1.4zM95.3 174.6h1.4v1.4h-1.4zM102.2 172.2h1.4v1.4h-1.4zM99.3 176.8h1.4v1.4h-1.4zM104.4 163.2h1.4v1.4h-1.4zM115.3 163.3h1.4v1.4h-1.4zM90.4 175.4h1.4v1.4h-1.4zM99.7 177.5h1.4v1.4h-1.4zM102.9 166.9h1.4v1.4h-1.4zM108.8 173.1h1.4v1.4h-1.4zM108.3 167.5h1.4v1.4h-1.4zM108.3 176.6h1.4v1.4h-1.4zM106.3 171h1.4v1.4h-1.4zM105 179h1.4v1.4h-1.4zM103.2 172.2h1.4v1.4h-1.4zM99.9 177.8h1.4v1.4h-1.4zM107.7 165.3h1.4v1.4h-1.4zM99 176.3h1.4v1.4h-1.4zM106.7 178.6h1.4v1.4h-1.4zM114.5 178.2h1.4v1.4h-1.4zM99.2 176.7h1.4v1.4h-1.4zM92.2 177.6h1.4v1.4h-1.4zM96.7 170.8h1.4v1.4h-1.4zM117.2 166.8h1.4v1.4h-1.4zM111.6 176.7h1.4v1.4h-1.4zM105.5 169.3h1.4v1.4h-1.4zM97.1 151.4h1.4v1.4h-1.4zM110.3 177.9h1.4v1.4h-1.4zM97.2 162.1h1.4v1.4h-1.4zM117.4 168.6h1.4v1.4h-1.4zM113.9 160.3h1.4v1.4h-1.4zM110.1 173.6h1.4v1.4h-1.4zM95.2 177.5h1.4v1.4h-1.4zM106.8 167.9h1.4v1.4h-1.4zM97.5 176.7h1.4v1.4h-1.4zM89.4 171.8h1.4v1.4h-1.4zM101.6 170.8h1.4v1.4h-1.4zM107.8 178.3h1.4v1.4h-1.4zM102.2 177.7h1.4v1.4h-1.4zM100.4 178.6h1.4v1.4h-1.4zM91.4 168.8h1.4v1.4h-1.4zM95.6 170.5h1.4v1.4h-1.4zM112.3 174h1.4v1.4h-1.4zM113 166.7h1.4v1.4h-1.4zM94.2 155.8h1.4v1.4h-1.4zM109.8 166.7h1.4v1.4h-1.4zM108.9 158.7h1.4v1.4h-1.4zM97.4 167.9h1.4v1.4h-1.4zM103.7 174.9h1.4v1.4h-1.4zM98.2 177.8h1.4v1.4h-1.4zM103 177.3h1.4v1.4h-1.4zM100.9 165.2h1.4v1.4h-1.4zM108.4 172h1.4v1.4h-1.4zM117.1 175.5h1.4v1.4h-1.4zM103.4 177.9h1.4v1.4h-1.4zM100.1 171.9h1.4v1.4h-1.4zM91.3 176.7h1.4v1.4h-1.4zM113.7 155.1h1.4v1.4h-1.4zM111.8 176.9h1.4v1.4h-1.4zM99 176.3h1.4v1.4h-1.4zM94.4 173.1h1.4v1.4h-1.4zM97.6 165.2h1.4v1.4h-1.4zM98.5 175.1h1.4v1.4h-1.4zM115.9 175.8h1.4v1.4h-1.4zM116.6 164h1.4v1.4h-1.4zM107.4 173.6h1.4v1.4h-1.4zM94.5 175.3h1.4v1.4h-1.4zM91.8 175.4h1.4v1.4h-1.4zM100.5 171.8h1.4v1.4h-1.4zM117.3 177.9h1.4v1.4h-1.4zM93 173.8h1.4v1.4h-1.4zM93.4 178.9h1.4v1.4h-1.4zM116 175.4h1.4v1.4h-1.4zM94.3 177.7h1.4v1.4h-1.4zM107.6 159.4h1.4v1.4h-1.4zM89.1 170.8h1.4v1.4h-1.4zM96.2 166.8h1.4v1.4h-1.4zM102.9 171.9h1.4v1.4h-1.4zM102 172.6h1.4v1.4h-1.4zM117.3 175.7h1.4v1.4h-1.4zM90.8 171.6h1.4v1.4h-1.4zM95.5 177.4h1.4v1.4h-1.4zM94.4 175.7h1.4v1.4h-1.4zM116.4 160.3h1.4v1.4h-1.4zM113.4 173.7h1.4v1.4h-1.4zM97.9 170.4h1.4v1.4h-1.4zM101.5 173.1h1.4v1.4h-1.4zM100.9 160.8h1.4v1.4h-1.4zM91 176.9h1.4v1.4h-1.4zM102.6 153.4h1.4v1.4h-1.4zM107.4 175.3h1.4v1.4h-1.4zM94 175.1h1.4v1.4h-1.4zM96.9 170.3h1.4v1.4h-1.4zM117.4 171.7h1.4v1.4h-1.4zM89.8 175.6h1.4v1.4h-1.4zM111.9 155.8h1.4v1.4h-1.4zM105.9 177.1h1.4v1.4h-1.4zM99 175.1h1.4v1.4h-1.4zM113.7 177.4h1.4v1.4h-1.4zM94.3 178.9h1.4v1.4h-1.4zM92.8 152.3h1.4v1.4h-1.4zM106.8 175.8h1.4v1.4h-1.4zM99.3 170.3h1.4v1.4h-1.4zM107.8 177.4h1.4v1.4h-1.4zM100.4 152.6h1.4v1.4h-1.4zM108.6 171.5h1.4v1.4h-1.4zM94.2 163.1h1.4v1.4h-1.4zM102.2 176.2h1.4v1.4h-1.4zM104.2 177.9h1.4v1.4h-1.4zM95.6 178.5h1.4v1.4h-1.4zM94.3 178.1h1.4v1.4h-1.4zM100.7 178.2h1.4v1.4h-1.4zM99.2 152.3h1.4v1.4h-1.4zM89.4 175.8h1.4v1.4h-1.4zM112.1 168h1.4v1.4h-1.4zM101.4 172.9h1.4v1.4h-1.4zM104.4 174.6h1.4v1.4h-1.4zM113.5 171.1h1.4v1.4h-1.4zM98.1 178h1.4v1.4h-1.4zM114.4 178.1h1.4v1.4h-1.4zM107.7 161.8h1.4v1.4h-1.4zM111.8 175h1.4v1.4h-1.4zM102.9 158.8h1.4v1.4h-1.4zM102.1 176.1h1.4v1.4h-1.4zM102.7 176.8h1.4v1.4h-1.4zM110.9 170.7h1.4v1.4h-1.4zM92.9 176h1.4v1.4h-1.4zM99.8 176.7h1.4v1.4h-1.4zM116.3 172.9h1.4v1.4h-1.4zM116.7 152.8h1.4v1.4h-1.4zM108.3 176.1h1.4v1.4h-1.4zM99.5 179h1.4v1.4h-1.4zM112.8 175.5h1.4v1.4h-1.4zM91.1 176.8h1.4v1.4h-1.4zM98.1 176.4h1.4v1.4h-1.4zM89 173h1.4v1.4h-1.4zM114.6 174.4h1.4v1.4h-1.4zM106.9 163.4h1.4v1.4h-1.4zM95.2 177.1h1.4v1.4h-1.4zM110.7 173.3h1.4v1.4h-1.4zM93.4 172.9h1.4v1.4h-1.4zM99.7 169.6h1.4v1.4h-1.4zM90.6 162.2h1.4v1.4h-1.4zM101.7 171.2h1.4v1.4h-1.4zM99.9 177.2h1.4v1.4h-1.4zM99.7 174.9h1.4v1.4h-1.4zM103.1 176.1h1.4v1.4h-1.4zM111.7 176.6h1.4v1.4h-1.4zM102 169.1h1.4v1.4h-1.4zM110.5 175.1h1.4v1.4h-1.4zM112.2 167.1h1.4v1.4h-1.4zM109.6 178.5h1.4v1.4h-1.4zM108.9 172.2h1.4v1.4h-1.4zM96.2 176.6h1.4v1.4h-1.4zM100.2 178.9h1.4v1.4h-1.4zM107.7 174.2h1.4v1.4h-1.4zM111.1 177.5h1.4v1.4h-1.4zM107.3 162.8h1.4v1.4h-1.4zM89.8 169.9h1.4v1.4h-1.4zM96.5 177.3h1.4v1.4h-1.4zM93.8 175.6h1.4v1.4h-1.4zM98.7 155.1h1.4v1.4h-1.4zM104.1 177h1.4v1.4h-1.4zM109.2 175.1h1.4v1.4h-1.4zM109.6 176.1h1.4v1.4h-1.4zM116 172.3h1.4v1.4h-1.4zM96.6 173.6h1.4v1.4h-1.4zM103.7 170.4h1.4v1.4h-1.4zM95.9 176.8h1.4v1.4h-1.4zM99.3 172.3h1.4v1.4h-1.4zM101.4 178.8h1.4v1.4h-1.4zM101.8 171.8h1.4v1.4h-1.4zM89.2 171h1.4v1.4h-1.4zM97.3 173.3h1.4v1.4h-1.4zM99.1 178.7h1.4v1.4h-1.4zM114.7 167.1h1.4v1.4h-1.4zM94.2 176.4h1.4v1.4h-1.4zM99.6 176h1.4v1.4h-1.4zM107.9 145.7h1.4v1.4h-1.4zM108.2 179h1.4v1.4h-1.4zM95.4 171h1.4v1.4h-1.4zM109 168h1.4v1.4h-1.4zM101.7 178.3h1.4v1.4h-1.4zM96.5 175.9h1.4v1.4h-1.4zM117.4 175.8h1.4v1.4h-1.4zM90.2 174.2h1.4v1.4h-1.4zM107.5 176.3h1.4v1.4h-1.4zM113 177.6h1.4v1.4h-1.4zM109.1 178.7h1.4v1.4h-1.4zM114.2 176.9h1.4v1.4h-1.4zM109.9 169.6h1.4v1.4h-1.4zM96.1 178.7h1.4v1.4h-1.4zM105.7 174.5h1.4v1.4h-1.4zM102.6 173.9h1.4v1.4h-1.4zM102.1 176h1.4v1.4h-1.4zM102.8 159.6h1.4v1.4h-1.4zM100.5 177.2h1.4v1.4h-1.4zM97.3 175.4h1.4v1.4h-1.4zM95.9 166.7h1.4v1.4h-1.4zM92.1 175.4h1.4v1.4h-1.4zM104 164.3h1.4v1.4h-1.4zM95.7 177h1.4v1.4h-1.4zM103.3 162.5h1.4v1.4h-1.4zM116.8 174.2h1.4v1.4h-1.4zM101.2 173.7h1.4v1.4h-1.4zM100.8 174.1h1.4v1.4h-1.4zM116.2 178.6h1.4v1.4h-1.4zM94.7 173.5h1.4v1.4h-1.4zM105.8 174.8h1.4v1.4h-1.4zM115.8 177.6h1.4v1.4h-1.4zM114.5 178.6h1.4v1.4h-1.4zM100.1 171.8h1.4v1.4h-1.4zM116 173.9h1.4v1.4h-1.4zM112.6 176.3h1.4v1.4h-1.4zM89.7 178.8h1.4v1.4h-1.4zM116.5 178.7h1.4v1.4h-1.4zM98.2 172.4h1.4v1.4h-1.4zM89.2 154.5h1.4v1.4h-1.4zM91 172.2h1.4v1.4h-1.4zM108.6 171.6h1.4v1.4h-1.4zM113 155.5h1.4v1.4h-1.4zM98.2 174.3h1.4v1.4h-1.4zM115.6 172.8h1.4v1.4h-1.4zM98.9 174.4h1.4v1.4h-1.4zM98.8 178.2h1.4v1.4h-1.4zM113.8 148.9h1.4v1.4h-1.4zM97.7 158.3h1.2v1.2h-1.2zM97.7 159.4h1.2v1.2h-1.2zM97.7 160.3h1.2v1.2h-1.2zM97.7 161h1.2v1.2h-1.2zM97.7 162.2h1.2v1.2h-1.2zM97.7 164.3h1.2v1.2h-1.2zM97.7 165.3h1.2v1.2h-1.2zM97.7 166.6h1.2v1.2h-1.2zM97.7 168.8h1.2v1.2h-1.2zM97.7 169.4h1.2v1.2h-1.2zM97.7 170.5h1.2v1.2h-1.2zM97.7 172.4h1.2v1.2h-1.2zM97.7 173.1h1.2v1.2h-1.2zM97.7 175.2h1.2v1.2h-1.2zM97.7 177.2h1.2v1.2h-1.2zM97.7 178h1.2v1.2h-1.2zM104.9 160.9h1.2v1.2h-1.2zM104.9 162h1.2v1.2h-1.2zM104.9 163.2h1.2v1.2h-1.2zM104.9 164.2h1.2v1.2h-1.2zM104.9 165.2h1.2v1.2h-1.2zM104.9 166.1h1.2v1.2h-1.2zM104.9 168.2h1.2v1.2h-1.2zM104.9 170.2h1.2v1.2h-1.2zM104.9 171.4h1.2v1.2h-1.2zM104.9 173.1h1.2v1.2h-1.2zM104.9 174.5h1.2v1.2h-1.2zM104.9 175.5h1.2v1.2h-1.2zM104.9 176.7h1.2v1.2h-1.2zM104.9 178.8h1.2v1.2h-1.2zM105.6 169.4h1.2v1.2h-1.2zM105.6 170.5h1.2v1.2h-1.2zM105.6 172.4h1.2v1.2h-1.2zM105.6 173.2h1.2v1.2h-1.2zM105.6 175h1.2v1.2h-1.2zM105.6 176.9h1.2v1.2h-1.2zM105.6 178.8h1.2v1.2h-1.2zM109.4 169.7h1.2v1.2h-1.2zM109.4 170.8h1.2v1.2h-1.2zM109.4 172.2h1.2v1.2h-1.2zM109.4 173.2h1.2v1.2h-1.2zM109.4 173.9h1.2v1.2h-1.2zM109.4 175.2h1.2v1.2h-1.2zM109.4 176.9h1.2v1.2h-1.2zM109.4 178.8h1.2v1.2h-1.2zM116.1 175.8h1.2v1.2h-1.2zM116.1 176.9h1.2v1.2h-1.2zM116.1 178.8h1.2v1.2h-1.2zM110.2 174.9h1.2v1.2h-1.2zM110.2 176.3h1.2v1.2h-1.2zM110.2 178.2h1.2v1.2h-1.2zM112.2 165.7h1.2v1.2h-1.2zM112.2 167.1h1.2v1.2h-1.2zM112.2 169.1h1.2v1.2h-1.2zM112.2 170.3h1.2v1.2h-1.2zM112.2 172.1h1.2v1.2h-1.2zM112.2 173.7h1.2v1.2h-1.2zM112.2 174.9h1.2v1.2h-1.2zM112.2 176.3h1.2v1.2h-1.2zM112.2 177.9h1.2v1.2h-1.2zM92 176.7h1.2v1.2h-1.2zM92 178.8h1.2v1.2h-1.2zM144.8 177.6h1.4v1.4h-1.4zM160 154.8h1.4v1.4h-1.4zM158.8 171.1h1.4v1.4h-1.4zM165.5 177.6h1.4v1.4h-1.4zM165.6 172.4h1.4v1.4h-1.4zM148.2 172h1.4v1.4h-1.4zM151.8 170h1.4v1.4h-1.4zM155.3 177.9h1.4v1.4h-1.4zM159.5 176.6h1.4v1.4h-1.4zM161.6 178.6h1.4v1.4h-1.4zM162.7 178.9h1.4v1.4h-1.4zM154.2 176.5h1.4v1.4h-1.4zM155.4 178h1.4v1.4h-1.4zM163.2 178h1.4v1.4h-1.4zM158.4 177.4h1.4v1.4h-1.4zM148.5 168.8h1.4v1.4h-1.4zM144.7 171.5h1.4v1.4h-1.4zM151 176.4h1.4v1.4h-1.4zM151.9 178.4h1.4v1.4h-1.4zM156.3 173.7h1.4v1.4h-1.4zM159.2 177.8h1.4v1.4h-1.4zM150.5 178.9h1.4v1.4h-1.4zM155.5 176.1h1.4v1.4h-1.4zM153.5 166.7h1.4v1.4h-1.4zM148.2 155h1.4v1.4h-1.4zM159.5 176.6h1.4v1.4h-1.4zM164 174.1h1.4v1.4h-1.4zM164 167.5h1.4v1.4h-1.4zM158.7 167.9h1.4v1.4h-1.4zM156.8 175.6h1.4v1.4h-1.4zM145.4 163h1.4v1.4h-1.4zM149.1 175.4h1.4v1.4h-1.4zM152.1 153.9h1.4v1.4h-1.4zM147.6 175.3h1.4v1.4h-1.4zM163 178h1.4v1.4h-1.4zM164.7 170h1.4v1.4h-1.4zM152.3 162.3h1.4v1.4h-1.4zM153.5 172.9h1.4v1.4h-1.4zM153.1 176.9h1.4v1.4h-1.4zM149.9 174.9h1.4v1.4h-1.4zM153.3 178.1h1.4v1.4h-1.4zM153.6 177.4h1.4v1.4h-1.4zM161 178.4h1.4v1.4h-1.4zM152.5 171h1.4v1.4h-1.4zM151.2 173.5h1.4v1.4h-1.4zM159.5 178.5h1.4v1.4h-1.4zM152.2 174.5h1.4v1.4h-1.4zM155.3 173.7h1.4v1.4h-1.4zM165.5 172.7h1.4v1.4h-1.4zM155.8 174.3h1.4v1.4h-1.4zM153.2 178.8h1.4v1.4h-1.4zM149.8 158h1.4v1.4h-1.4zM164.6 164.5h1.4v1.4h-1.4zM150 162h1.4v1.4h-1.4zM148.8 172.1h1.4v1.4h-1.4zM151.3 177.6h1.4v1.4h-1.4zM159.4 171.3h1.4v1.4h-1.4zM165.1 177.7h1.4v1.4h-1.4zM163.7 168.4h1.4v1.4h-1.4zM149.3 178.1h1.4v1.4h-1.4zM157.6 176.5h1.4v1.4h-1.4zM146.2 145.8h1.4v1.4h-1.4zM147.4 163.9h1.4v1.4h-1.4zM153.4 170.8h1.4v1.4h-1.4zM156 177h1.4v1.4h-1.4zM165.2 172.4h1.4v1.4h-1.4zM159.7 176.9h1.4v1.4h-1.4zM160.4 170.9h1.4v1.4h-1.4zM161.9 167.7h1.4v1.4h-1.4zM148.7 174h1.4v1.4h-1.4zM163.7 178.4h1.4v1.4h-1.4zM144.2 176.6h1.4v1.4h-1.4zM164.2 178.9h1.4v1.4h-1.4zM145 177.5h1.4v1.4h-1.4zM163.3 172.2h1.4v1.4h-1.4zM158.9 168.9h1.4v1.4h-1.4zM153.3 155.6h1.4v1.4h-1.4zM153.9 169.3h1.4v1.4h-1.4zM150.5 178.9h1.4v1.4h-1.4zM156.8 178.4h1.4v1.4h-1.4zM149.8 177h1.4v1.4h-1.4zM151.7 177.1h1.4v1.4h-1.4zM157.6 174.9h1.4v1.4h-1.4zM145.1 175.3h1.4v1.4h-1.4zM157.2 177.5h1.4v1.4h-1.4zM165.4 173h1.4v1.4h-1.4zM154.8 167.1h1.4v1.4h-1.4zM144.6 174.2h1.4v1.4h-1.4zM163.8 177.2h1.4v1.4h-1.4zM147.5 165.2h1.4v1.4h-1.4zM159.8 169.4h1.4v1.4h-1.4zM144.8 178.5h1.4v1.4h-1.4zM152.7 178.9h1.4v1.4h-1.4zM145.6 172.1h1.4v1.4h-1.4zM153.4 178.8h1.4v1.4h-1.4zM163 177.7h1.4v1.4h-1.4zM163.1 173.5h1.4v1.4h-1.4zM157.4 173.6h1.4v1.4h-1.4zM158.5 165.9h1.4v1.4h-1.4zM149.4 166.7h1.4v1.4h-1.4zM148.3 170.1h1.4v1.4h-1.4zM160.1 177h1.4v1.4h-1.4zM151.8 170.4h1.4v1.4h-1.4zM148.3 167.3h1.4v1.4h-1.4zM163.2 174.3h1.4v1.4h-1.4zM151 172h1.4v1.4h-1.4zM150.8 178.2h1.4v1.4h-1.4zM148.6 158.3h1.4v1.4h-1.4zM161.9 176.6h1.4v1.4h-1.4zM148.3 176.1h1.4v1.4h-1.4zM146.8 176.9h1.4v1.4h-1.4zM154.8 166.6h1.4v1.4h-1.4zM145 175.9h1.4v1.4h-1.4zM146.4 175.5h1.4v1.4h-1.4zM147.9 168.3h1.4v1.4h-1.4zM152 176.5h1.4v1.4h-1.4zM158.4 167.2h1.4v1.4h-1.4zM161.2 160.7h1.4v1.4h-1.4zM152.1 176.9h1.4v1.4h-1.4zM150.4 167.3h1.4v1.4h-1.4zM161.4 166.9h1.4v1.4h-1.4zM162.7 162.1h1.4v1.4h-1.4zM158.8 177.5h1.4v1.4h-1.4zM149.1 172.6h1.4v1.4h-1.4zM163.8 178.1h1.4v1.4h-1.4zM163.5 172.4h1.4v1.4h-1.4zM161.4 173.8h1.4v1.4h-1.4zM160.6 178.2h1.4v1.4h-1.4zM158.2 178.9h1.4v1.4h-1.4zM165 159.5h1.4v1.4h-1.4zM147.4 170.5h1.4v1.4h-1.4zM161.8 176.7h1.4v1.4h-1.4zM156.2 178.1h1.4v1.4h-1.4zM157.4 162.2h1.4v1.4h-1.4zM159.6 176.1h1.4v1.4h-1.4zM155.9 173.5h1.4v1.4h-1.4zM144 175.8h1.4v1.4h-1.4zM151.7 175.4h1.4v1.4h-1.4zM149 168.3h1.4v1.4h-1.4zM164.9 174.8h1.4v1.4h-1.4zM157.9 174.1h1.4v1.4h-1.4zM158.5 170.3h1.4v1.4h-1.4zM143.8 172h1.4v1.4h-1.4zM147.3 175.3h1.4v1.4h-1.4zM155 168.6h1.4v1.4h-1.4zM160.3 175.7h1.4v1.4h-1.4zM164.5 161.3h1.4v1.4h-1.4zM162.3 169.6h1.4v1.4h-1.4zM145.4 179h1.4v1.4h-1.4zM157.8 173.4h1.4v1.4h-1.4zM153.4 175.8h1.4v1.4h-1.4zM147.7 167.2h1.4v1.4h-1.4zM149.4 148.8h1.4v1.4h-1.4zM147.7 173.2h1.4v1.4h-1.4zM162.6 178.6h1.4v1.4h-1.4zM160.7 176.7h1.4v1.4h-1.4zM154 165.1h1.4v1.4h-1.4zM162 178.7h1.4v1.4h-1.4zM163.6 178.3h1.4v1.4h-1.4zM143.9 175h1.4v1.4h-1.4zM150.4 170.7h1.4v1.4h-1.4zM154.3 178.1h1.4v1.4h-1.4zM163.7 177.8h1.4v1.4h-1.4zM150.1 176.3h1.4v1.4h-1.4zM148.1 174.8h1.4v1.4h-1.4zM159.5 179h1.4v1.4h-1.4zM160.7 165.7h1.4v1.4h-1.4zM152.3 174.9h1.4v1.4h-1.4zM155.6 161h1.4v1.4h-1.4zM161.8 174.2h1.4v1.4h-1.4zM150.5 169.8h1.4v1.4h-1.4zM157.1 175.7h1.4v1.4h-1.4zM152.9 169.2h1.4v1.4h-1.4zM164.5 176.9h1.4v1.4h-1.4zM153.6 164.2h1.4v1.4h-1.4zM153.1 171.5h1.4v1.4h-1.4zM145.9 176.3h1.4v1.4h-1.4zM147.8 163.4h1.4v1.4h-1.4zM155.9 175.5h1.4v1.4h-1.4zM145.8 176.6h1.4v1.4h-1.4zM145.9 175.4h1.4v1.4h-1.4zM159.8 177.8h1.4v1.4h-1.4zM147.5 174.2h1.4v1.4h-1.4zM147.4 166.4h1.4v1.4h-1.4zM145.9 159.4h1.4v1.4h-1.4zM151.1 166.6h1.4v1.4h-1.4zM160.7 175.5h1.4v1.4h-1.4zM160.4 164.8h1.4v1.4h-1.4zM156.2 149.8h1.4v1.4h-1.4zM150.9 177.4h1.4v1.4h-1.4zM160.1 169.3h1.4v1.4h-1.4zM148.3 178h1.4v1.4h-1.4zM151.5 170.3h1.4v1.4h-1.4zM151.8 160.6h1.4v1.4h-1.4zM163.9 177.3h1.4v1.4h-1.4zM160.4 176.2h1.4v1.4h-1.4zM144.6 175.4h1.4v1.4h-1.4zM147.9 170.6h1.4v1.4h-1.4zM148.9 169.6h1.4v1.4h-1.4zM151.1 174.1h1.4v1.4h-1.4zM158.7 175.2h1.4v1.4h-1.4zM162.9 175.1h1.4v1.4h-1.4zM158.9 177.7h1.4v1.4h-1.4zM145.9 165.8h1.4v1.4h-1.4zM163.7 158.2h1.4v1.4h-1.4zM155.1 163.6h1.4v1.4h-1.4zM159.8 173.7h1.4v1.4h-1.4zM151.8 174.8h1.4v1.4h-1.4zM151.9 165h1.4v1.4h-1.4zM161.3 175.1h1.4v1.4h-1.4zM162.1 165.4h1.4v1.4h-1.4zM165.5 163h1.4v1.4h-1.4zM152.1 172.3h1.4v1.4h-1.4zM157.6 178.3h1.4v1.4h-1.4zM144.6 175.5h1.4v1.4h-1.4zM161.1 170.2h1.4v1.4h-1.4zM152 175.4h1.4v1.4h-1.4zM155 178.3h1.4v1.4h-1.4zM143.8 168.7h1.4v1.4h-1.4zM154.8 155h1.4v1.4h-1.4zM147.8 154.3h1.4v1.4h-1.4zM149.7 169.3h1.4v1.4h-1.4zM159.3 177.9h1.4v1.4h-1.4zM164.5 179h1.4v1.4h-1.4zM157.9 176.3h1.4v1.4h-1.4zM163.1 178.1h1.4v1.4h-1.4zM146.5 146.9h1.4v1.4h-1.4zM149.5 178.5h1.4v1.4h-1.4zM145.8 173h1.4v1.4h-1.4zM155.5 160.9h1.4v1.4h-1.4zM161.5 178.9h1.4v1.4h-1.4zM164.2 166.6h1.4v1.4h-1.4zM164.2 175.9h1.4v1.4h-1.4zM152.2 177.9h1.4v1.4h-1.4zM163.8 173.7h1.4v1.4h-1.4zM154.5 173.4h1.4v1.4h-1.4zM158.9 170.1h1.4v1.4h-1.4zM160.6 171.8h1.4v1.4h-1.4zM149.5 162h1.4v1.4h-1.4zM162.3 176.1h1.4v1.4h-1.4zM147.5 178.9h1.4v1.4h-1.4zM164 156.4h1.4v1.4h-1.4zM149.8 164.2h1.4v1.4h-1.4zM144.2 178.5h1.4v1.4h-1.4zM163.6 174h1.2v1.2h-1.2zM163.6 174.6h1.2v1.2h-1.2zM163.6 175.3h1.2v1.2h-1.2zM163.6 177.5h1.2v1.2h-1.2zM157.3 175.7h1.2v1.2h-1.2zM157.3 177.7h1.2v1.2h-1.2zM156.9 176h1.2v1.2h-1.2zM156.9 177.8h1.2v1.2h-1.2zM156.9 178.7h1.2v1.2h-1.2zM157 155h1.2v1.2h-1.2zM157 156h1.2v1.2h-1.2zM157 157.1h1.2v1.2h-1.2zM157 158h1.2v1.2h-1.2zM157 159.5h1.2v1.2h-1.2zM157 161.4h1.2v1.2h-1.2zM157 162.2h1.2v1.2h-1.2zM157 163.6h1.2v1.2h-1.2zM157 165.1h1.2v1.2h-1.2zM157 165.9h1.2v1.2h-1.2zM157 167.3h1.2v1.2h-1.2zM157 168.3h1.2v1.2h-1.2zM157 169.3h1.2v1.2h-1.2zM157 171.4h1.2v1.2h-1.2zM157 172.2h1.2v1.2h-1.2zM157 173.3h1.2v1.2h-1.2zM157 174.9h1.2v1.2h-1.2zM157 176.2h1.2v1.2h-1.2zM157 176.8h1.2v1.2h-1.2zM157 178.8h1.2v1.2h-1.2zM152.9 165.5h1.2v1.2h-1.2zM152.9 167.7h1.2v1.2h-1.2zM152.9 169.7h1.2v1.2h-1.2zM152.9 171h1.2v1.2h-1.2zM152.9 172.8h1.2v1.2h-1.2zM152.9 174.8h1.2v1.2h-1.2zM152.9 175.7h1.2v1.2h-1.2zM152.9 177.8h1.2v1.2h-1.2zM152.9 178.6h1.2v1.2h-1.2zM149.1 176h1.2v1.2h-1.2zM149.1 176.8h1.2v1.2h-1.2zM149.1 178.9h1.2v1.2h-1.2zM164 174.6h1.2v1.2h-1.2zM164 175.7h1.2v1.2h-1.2zM164 176.7h1.2v1.2h-1.2zM164 178.9h1.2v1.2h-1.2zM162.8 172.9h1.2v1.2h-1.2zM162.8 175.1h1.2v1.2h-1.2zM162.8 176.9h1.2v1.2h-1.2zM162.8 177.9h1.2v1.2h-1.2zM147.4 167.8h1.2v1.2h-1.2zM147.4 168.5h1.2v1.2h-1.2zM147.4 170.1h1.2v1.2h-1.2zM147.4 171.7h1.2v1.2h-1.2zM147.4 172.7h1.2v1.2h-1.2zM147.4 173.4h1.2v1.2h-1.2zM147.4 175.5h1.2v1.2h-1.2zM147.4 176.3h1.2v1.2h-1.2zM147.4 177.4h1.2v1.2h-1.2zM147.4 178h1.2v1.2h-1.2zM208.5 172.8h1.4v1.4h-1.4zM190.2 171.8h1.4v1.4h-1.4zM194.9 169.6h1.4v1.4h-1.4zM189.7 178.8h1.4v1.4h-1.4zM201.1 160.5h1.4v1.4h-1.4zM200.4 172.6h1.4v1.4h-1.4zM201.1 178.1h1.4v1.4h-1.4zM190.6 173.1h1.4v1.4h-1.4zM200.1 175.7h1.4v1.4h-1.4zM192.8 172h1.4v1.4h-1.4zM197.4 177.3h1.4v1.4h-1.4zM207.6 174.1h1.4v1.4h-1.4zM190.2 174.4h1.4v1.4h-1.4zM194 176.3h1.4v1.4h-1.4zM189.9 178.1h1.4v1.4h-1.4zM190 178.5h1.4v1.4h-1.4zM202.1 178.6h1.4v1.4h-1.4zM206.8 170.6h1.4v1.4h-1.4zM194.6 159.7h1.4v1.4h-1.4zM208.1 177.6h1.4v1.4h-1.4zM200.3 157.9h1.4v1.4h-1.4zM195.4 178h1.4v1.4h-1.4zM191 165.2h1.4v1.4h-1.4zM193.2 170.4h1.4v1.4h-1.4zM207.6 165.2h1.4v1.4h-1.4zM195.5 174.6h1.4v1.4h-1.4zM200.8 176.7h1.4v1.4h-1.4zM193.7 166.4h1.4v1.4h-1.4zM196.8 168.2h1.4v1.4h-1.4zM197.1 178.9h1.4v1.4h-1.4zM206.6 172.6h1.4v1.4h-1.4zM208.2 174.8h1.4v1.4h-1.4zM194.8 177.4h1.4v1.4h-1.4zM195.3 175h1.4v1.4h-1.4zM192.9 172.8h1.4v1.4h-1.4zM195.1 155.3h1.4v1.4h-1.4zM198.1 169.2h1.4v1.4h-1.4zM190.3 177h1.4v1.4h-1.4zM208.1 178.2h1.4v1.4h-1.4zM190.7 173.1h1.4v1.4h-1.4zM195 175.9h1.4v1.4h-1.4zM201.3 173.8h1.4v1.4h-1.4zM193 175.6h1.4v1.4h-1.4zM198.3 170.1h1.4v1.4h-1.4zM190.6 173.1h1.4v1.4h-1.4zM200.4 179h1.4v1.4h-1.4zM208.4 172.3h1.4v1.4h-1.4zM204.6 161.7h1.4v1.4h-1.4zM208 177.6h1.4v1.4h-1.4zM189.4 178.2h1.4v1.4h-1.4zM198.3 178.1h1.4v1.4h-1.4zM208.6 167.1h1.4v1.4h-1.4zM200.5 156.9h1.4v1.4h-1.4zM197.5 154.5h1.4v1.4h-1.4zM203.3 174.4h1.4v1.4h-1.4zM194.9 177.7h1.4v1.4h-1.4zM195.5 176.8h1.4v1.4h-1.4zM190.9 160.9h1.4v1.4h-1.4zM194.4 166.7h1.4v1.4h-1.4zM190.6 159.5h1.4v1.4h-1.4zM202 177.4h1.4v1.4h-1.4zM208.5 177.5h1.4v1.4h-1.4zM194.5 169.9h1.4v1.4h-1.4zM195.9 172.5h1.4v1.4h-1.4zM194 174.1h1.4v1.4h-1.4zM202.9 167.7h1.4v1.4h-1.4zM195 171.2h1.4v1.4h-1.4zM197.4 171.9h1.4v1.4h-1.4zM193.8 175.8h1.4v1.4h-1.4zM203.4 177.8h1.4v1.4h-1.4zM195.5 175.6h1.4v1.4h-1.4zM207.6 174.8h1.4v1.4h-1.4zM201.4 173.2h1.4v1.4h-1.4zM207.9 178.2h1.4v1.4h-1.4zM189.6 178h1.4v1.4h-1.4zM202.9 166.2h1.4v1.4h-1.4zM205.7 176h1.4v1.4h-1.4zM202.8 175.4h1.4v1.4h-1.4zM200.9 175.3h1.4v1.4h-1.4zM196.7 176.3h1.4v1.4h-1.4zM205.9 153.6h1.4v1.4h-1.4zM196.2 178.6h1.4v1.4h-1.4zM205.9 170.2h1.4v1.4h-1.4zM208.4 177.7h1.4v1.4h-1.4zM196.6 160.1h1.4v1.4h-1.4zM200.1 164.4h1.4v1.4h-1.4zM206.7 171.8h1.4v1.4h-1.4zM208 164.7h1.4v1.4h-1.4zM196.8 175.4h1.4v1.4h-1.4zM197.3 169.8h1.4v1.4h-1.4zM199.8 152.4h1.4v1.4h-1.4zM205.6 169.3h1.4v1.4h-1.4zM207.3 161.8h1.4v1.4h-1.4zM206.2 178.8h1.4v1.4h-1.4zM189.6 172.4h1.4v1.4h-1.4zM195.9 161.6h1.4v1.4h-1.4zM197 175h1.4v1.4h-1.4zM194.1 156.8h1.4v1.4h-1.4zM207 160.3h1.4v1.4h-1.4zM196.5 168.8h1.4v1.4h-1.4zM199.8 175.6h1.4v1.4h-1.4zM198.8 169.8h1.4v1.4h-1.4zM206.6 174.9h1.4v1.4h-1.4zM202.8 171.1h1.4v1.4h-1.4zM196.4 174.5h1.4v1.4h-1.4zM205 164.8h1.4v1.4h-1.4zM191 162.6h1.4v1.4h-1.4zM208.6 175.1h1.4v1.4h-1.4zM201.8 176.5h1.4v1.4h-1.4zM201.2 155.5h1.4v1.4h-1.4zM204 159.5h1.4v1.4h-1.4zM195.1 178.5h1.4v1.4h-1.4zM205.4 178.4h1.4v1.4h-1.4zM193.9 175.4h1.4v1.4h-1.4zM204.6 174.4h1.4v1.4h-1.4zM205.8 168h1.4v1.4h-1.4zM205.9 173.4h1.4v1.4h-1.4zM206.6 176.5h1.4v1.4h-1.4zM196.3 176.8h1.4v1.4h-1.4zM200.8 164.6h1.4v1.4h-1.4zM205.2 177.3h1.4v1.4h-1.4zM191.7 171h1.4v1.4h-1.4zM202.8 176.8h1.4v1.4h-1.4zM190.4 178.6h1.4v1.4h-1.4zM194.2 177.2h1.4v1.4h-1.4zM193.4 177.7h1.4v1.4h-1.4zM192.7 174.1h1.4v1.4h-1.4zM191.1 175.4h1.4v1.4h-1.4zM197.9 168.3h1.4v1.4h-1.4zM206.5 175h1.4v1.4h-1.4zM191.8 178.6h1.4v1.4h-1.4zM202.6 174.3h1.4v1.4h-1.4zM200.5 176.3h1.4v1.4h-1.4zM202.3 178.2h1.4v1.4h-1.4zM195.1 178.1h1.4v1.4h-1.4zM199.6 162h1.4v1.4h-1.4zM194.3 178.5h1.4v1.4h-1.4zM198.4 177.9h1.4v1.4h-1.4zM193.1 165.1h1.4v1.4h-1.4zM207.9 172.7h1.4v1.4h-1.4zM203.3 172.3h1.4v1.4h-1.4zM197.3 176.9h1.4v1.4h-1.4zM192.9 157h1.4v1.4h-1.4zM197.8 177.4h1.4v1.4h-1.4zM208.7 158.5h1.4v1.4h-1.4zM194.5 170.2h1.4v1.4h-1.4zM200.5 171.9h1.4v1.4h-1.4zM197.7 175.5h1.4v1.4h-1.4zM205.3 173.2h1.4v1.4h-1.4zM208.8 176h1.4v1.4h-1.4zM195.8 178.6h1.4v1.4h-1.4zM207.3 173.5h1.4v1.4h-1.4zM190.6 156.5h1.4v1.4h-1.4zM197 174.6h1.4v1.4h-1.4zM195.9 158.3h1.4v1.4h-1.4zM193.6 171h1.4v1.4h-1.4zM194.6 167.4h1.4v1.4h-1.4zM197.7 177.1h1.4v1.4h-1.4zM199.6 168.3h1.4v1.4h-1.4zM190.6 177.6h1.4v1.4h-1.4zM208.4 174h1.4v1.4h-1.4zM196.3 169.9h1.4v1.4h-1.4zM202 163.5h1.4v1.4h-1.4zM197.2 172.2h1.4v1.4h-1.4zM196.2 178.9h1.4v1.4h-1.4zM191.1 178.5h1.4v1.4h-1.4zM195.7 172.8h1.4v1.4h-1.4zM192.1 172.7h1.4v1.4h-1.4zM193.4 178.8h1.4v1.4h-1.4zM205.8 177.3h1.4v1.4h-1.4zM192 159.7h1.4v1.4h-1.4zM194.1 169.6h1.4v1.4h-1.4zM207.9 173.3h1.4v1.4h-1.4zM205.7 171.2h1.4v1.4h-1.4zM200.4 177.9h1.4v1.4h-1.4zM196 154h1.4v1.4h-1.4zM207.2 176.3h1.4v1.4h-1.4zM203.6 171.3h1.4v1.4h-1.4zM195.2 178.5h1.4v1.4h-1.4zM202.1 172.8h1.4v1.4h-1.4zM204 170.3h1.4v1.4h-1.4zM197.1 177.4h1.4v1.4h-1.4zM189.4 173.5h1.4v1.4h-1.4zM207.7 169.5h1.4v1.4h-1.4zM201.4 158.5h1.4v1.4h-1.4zM206.3 160.6h1.4v1.4h-1.4zM201 174h1.4v1.4h-1.4zM204 176.3h1.4v1.4h-1.4zM203.2 176.3h1.4v1.4h-1.4zM207.8 175.1h1.4v1.4h-1.4zM204.9 175.1h1.4v1.4h-1.4zM192.3 164.2h1.4v1.4h-1.4zM202 171.6h1.4v1.4h-1.4zM194.3 173.7h1.4v1.4h-1.4zM193.9 171.3h1.4v1.4h-1.4zM202.1 176.7h1.4v1.4h-1.4zM203.2 164.6h1.4v1.4h-1.4zM195.9 172h1.4v1.4h-1.4zM208.5 177.8h1.4v1.4h-1.4zM197.4 173.7h1.4v1.4h-1.4zM208.5 178.9h1.4v1.4h-1.4zM206.9 173.3h1.4v1.4h-1.4zM195.8 162.5h1.4v1.4h-1.4zM196.6 162.6h1.4v1.4h-1.4zM197.7 159.9h1.4v1.4h-1.4zM198.3 173h1.4v1.4h-1.4zM200.7 167.3h1.4v1.4h-1.4zM208.3 174.4h1.4v1.4h-1.4zM207.2 145.5h1.4v1.4h-1.4zM206 171.1h1.4v1.4h-1.4zM201.6 176h1.4v1.4h-1.4zM197.8 176.5h1.4v1.4h-1.4zM204.6 162.8h1.4v1.4h-1.4zM198 161.1h1.4v1.4h-1.4zM191.1 178.6h1.4v1.4h-1.4zM191.4 174.6h1.4v1.4h-1.4zM196.3 170.9h1.4v1.4h-1.4zM190.9 168.4h1.4v1.4h-1.4zM205.8 175.3h1.4v1.4h-1.4zM193.6 170.6h1.4v1.4h-1.4zM193.9 160.2h1.4v1.4h-1.4zM194.7 177.5h1.4v1.4h-1.4zM198.7 167.7h1.4v1.4h-1.4zM195.1 174h1.4v1.4h-1.4zM195.3 178.5h1.4v1.4h-1.4zM201.8 173.4h1.4v1.4h-1.4zM202.5 156.9h1.4v1.4h-1.4zM194.6 178.7h1.4v1.4h-1.4zM203.6 168h1.4v1.4h-1.4zM200.4 175.8h1.4v1.4h-1.4zM207.6 178.8h1.4v1.4h-1.4zM207.3 176.5h1.4v1.4h-1.4zM203 169.7h1.4v1.4h-1.4zM192.3 174.1h1.4v1.4h-1.4zM194.7 174.9h1.4v1.4h-1.4zM197.8 165.6h1.4v1.4h-1.4zM194.9 161.7h1.4v1.4h-1.4zM189.3 172.7h1.4v1.4h-1.4zM196 176.5h1.4v1.4h-1.4zM195.2 178.9h1.4v1.4h-1.4zM193.4 173.7h1.4v1.4h-1.4zM202.5 173.9h1.4v1.4h-1.4zM203.5 169.6h1.4v1.4h-1.4zM196 177.1h1.4v1.4h-1.4zM193.8 170.6h1.4v1.4h-1.4zM198.3 178.4h1.4v1.4h-1.4zM193.6 157.6h1.4v1.4h-1.4zM203.2 173.2h1.4v1.4h-1.4zM205.2 178h1.4v1.4h-1.4zM203.7 178.3h1.4v1.4h-1.4zM202.4 174.9h1.4v1.4h-1.4zM202.3 176.7h1.4v1.4h-1.4zM196.3 164.9h1.4v1.4h-1.4zM196.2 175.7h1.2v1.2h-1.2zM196.2 177.8h1.2v1.2h-1.2zM196.2 178.6h1.2v1.2h-1.2zM204.6 174h1.2v1.2h-1.2zM204.6 175.2h1.2v1.2h-1.2zM204.6 176.7h1.2v1.2h-1.2zM204.6 178.7h1.2v1.2h-1.2zM190.5 171.4h1.2v1.2h-1.2zM190.5 173.2h1.2v1.2h-1.2zM190.5 174.7h1.2v1.2h-1.2zM190.5 176.4h1.2v1.2h-1.2zM190.5 178.5h1.2v1.2h-1.2zM206 151.8h1.2v1.2h-1.2zM206 152.9h1.2v1.2h-1.2zM206 153.8h1.2v1.2h-1.2zM206 154.6h1.2v1.2h-1.2zM206 156.2h1.2v1.2h-1.2zM206 158.1h1.2v1.2h-1.2zM206 160.1h1.2v1.2h-1.2zM206 162.1h1.2v1.2h-1.2zM206 163.2h1.2v1.2h-1.2zM206 164.3h1.2v1.2h-1.2zM206 165.2h1.2v1.2h-1.2zM206 166.7h1.2v1.2h-1.2zM206 168.8h1.2v1.2h-1.2zM206 170.6h1.2v1.2h-1.2zM206 171.9h1.2v1.2h-1.2zM206 172.8h1.2v1.2h-1.2zM206 174.7h1.2v1.2h-1.2zM206 176.8h1.2v1.2h-1.2zM206 178.6h1.2v1.2h-1.2zM197.1 173.1h1.2v1.2h-1.2zM197.1 175.2h1.2v1.2h-1.2zM197.1 176.2h1.2v1.2h-1.2zM197.1 177.4h1.2v1.2h-1.2zM197.1 178.1h1.2v1.2h-1.2zM197.1 178.7h1.2v1.2h-1.2zM205.4 173.1h1.2v1.2h-1.2zM205.4 174.4h1.2v1.2h-1.2zM205.4 175.7h1.2v1.2h-1.2zM205.4 176.7h1.2v1.2h-1.2zM205.4 178.5h1.2v1.2h-1.2zM243.9 169h1.4v1.4h-1.4zM240.8 175.5h1.4v1.4h-1.4zM234.9 165.6h1.4v1.4h-1.4zM240 174.5h1.4v1.4h-1.4zM238.1 174.5h1.4v1.4h-1.4zM245 170.8h1.4v1.4h-1.4zM232.6 164.2h1.4v1.4h-1.4zM231.2 174.7h1.4v1.4h-1.4zM241.6 166.7h1.4v1.4h-1.4zM238.4 173.7h1.4v1.4h-1.4zM231 175.2h1.4v1.4h-1.4zM235.6 175.8h1.4v1.4h-1.4zM232.9 173.4h1.4v1.4h-1.4zM240.2 172h1.4v1.4h-1.4zM232.7 172.8h1.4v1.4h-1.4zM243 167.3h1.4v1.4h-1.4zM241.2 175.1h1.4v1.4h-1.4zM243.7 172.4h1.4v1.4h-1.4zM232.7 169.4h1.4v1.4h-1.4zM240.2 168h1.4v1.4h-1.4zM237.6 175h1.4v1.4h-1.4zM241.9 158.1h1.4v1.4h-1.4zM230.9 174.5h1.4v1.4h-1.4zM246 175.7h1.4v1.4h-1.4zM240.3 174.5h1.4v1.4h-1.4zM239.3 173.7h1.4v1.4h-1.4zM242.5 160.8h1.4v1.4h-1.4zM237.4 173.7h1.4v1.4h-1.4zM232.5 168.5h1.4v1.4h-1.4zM237.2 169.2h1.4v1.4h-1.4zM238.3 168.3h1.4v1.4h-1.4zM242 175.9h1.4v1.4h-1.4zM233.7 166.2h1.4v1.4h-1.4zM230.8 175.1h1.4v1.4h-1.4zM242.3 161.2h1.4v1.4h-1.4zM232.1 174h1.4v1.4h-1.4zM243.8 170.1h1.4v1.4h-1.4zM235 159.1h1.4v1.4h-1.4zM240.9 156.8h1.4v1.4h-1.4zM242.6 169.3h1.4v1.4h-1.4zM233.9 166.4h1.4v1.4h-1.4zM230.1 175.6h1.4v1.4h-1.4zM231.6 161.1h1.4v1.4h-1.4zM241.6 173h1.4v1.4h-1.4zM234.9 165h1.4v1.4h-1.4zM236.2 168.3h1.4v1.4h-1.4zM245.5 170.1h1.4v1.4h-1.4zM238.7 175.3h1.4v1.4h-1.4zM230.5 171.5h1.4v1.4h-1.4zM242.9 168.5h1.4v1.4h-1.4zM244.6 171.6h1.4v1.4h-1.4zM237.7 174.2h1.4v1.4h-1.4zM232.9 174.8h1.4v1.4h-1.4zM233.1 171.3h1.4v1.4h-1.4zM237.1 173h1.4v1.4h-1.4zM242.5 162.3h1.4v1.4h-1.4zM238.8 169.7h1.4v1.4h-1.4zM237.6 173.8h1.4v1.4h-1.4zM238.2 173.7h1.4v1.4h-1.4zM245.7 169.8h1.4v1.4h-1.4zM230.9 173.1h1.4v1.4h-1.4zM231.3 151.3h1.4v1.4h-1.4zM243.9 169.8h1.4v1.4h-1.4zM231.8 175.1h1.4v1.4h-1.4zM233 154.9h1.4v1.4h-1.4zM241.6 165.7h1.4v1.4h-1.4zM235.7 167.2h1.4v1.4h-1.4zM233.3 160.3h1.4v1.4h-1.4zM245.4 175.7h1.4v1.4h-1.4zM239.2 163.8h1.4v1.4h-1.4zM233.6 174.8h1.4v1.4h-1.4zM229.8 165.1h1.4v1.4h-1.4zM230 158.5h1.4v1.4h-1.4zM243.1 175h1.4v1.4h-1.4zM241.5 173.6h1.4v1.4h-1.4zM236.3 164.3h1.4v1.4h-1.4zM235.6 173h1.4v1.4h-1.4zM240.9 172.4h1.4v1.4h-1.4zM231.8 166.1h1.4v1.4h-1.4zM230.9 154.3h1.4v1.4h-1.4zM237.6 163.5h1.4v1.4h-1.4zM231.7 173.1h1.4v1.4h-1.4zM238.7 166.4h1.4v1.4h-1.4zM241.7 172h1.4v1.4h-1.4zM241 176h1.4v1.4h-1.4zM233.4 172.4h1.4v1.4h-1.4zM234.1 170.3h1.4v1.4h-1.4zM236.4 174.1h1.4v1.4h-1.4zM230 171h1.4v1.4h-1.4zM245.7 173.1h1.4v1.4h-1.4zM234.3 174h1.4v1.4h-1.4zM244.9 158.6h1.4v1.4h-1.4zM241.4 169.8h1.4v1.4h-1.4zM246.1 171.2h1.4v1.4h-1.4zM231.6 167.5h1.4v1.4h-1.4zM245.1 175.7h1.4v1.4h-1.4zM230.6 175.6h1.4v1.4h-1.4zM231 174.5h1.4v1.4h-1.4zM242.6 171.3h1.4v1.4h-1.4zM241.9 161.9h1.4v1.4h-1.4zM235.7 168.1h1.4v1.4h-1.4zM232.6 169.5h1.4v1.4h-1.4zM236.7 164.2h1.4v1.4h-1.4zM242.4 161h1.4v1.4h-1.4zM239.9 174.4h1.4v1.4h-1.4zM239.6 167.7h1.4v1.4h-1.4zM237.1 173.3h1.4v1.4h-1.4zM238.2 173.6h1.4v1.4h-1.4zM239.9 167.5h1.4v1.4h-1.4zM233.4 173.1h1.4v1.4h-1.4zM238.7 159.1h1.4v1.4h-1.4zM241.5 173.9h1.4v1.4h-1.4zM235.3 167.1h1.4v1.4h-1.4zM240.7 169.7h1.4v1.4h-1.4zM234.3 175.3h1.4v1.4h-1.4zM245.6 166h1.4v1.4h-1.4zM246.3 169.9h1.4v1.4h-1.4zM233.4 158.3h1.4v1.4h-1.4zM244.9 175.2h1.4v1.4h-1.4zM244.1 171.9h1.4v1.4h-1.4zM244.8 165h1.4v1.4h-1.4zM236.9 168h1.4v1.4h-1.4zM232.8 166.7h1.4v1.4h-1.4zM237.2 175h1.4v1.4h-1.4zM237.8 162.9h1.4v1.4h-1.4zM231.6 174.6h1.4v1.4h-1.4zM238.5 174.4h1.4v1.4h-1.4zM240.5 174.7h1.4v1.4h-1.4zM239.3 169.4h1.4v1.4h-1.4zM242.2 154.5h1.4v1.4h-1.4zM245.2 172h1.4v1.4h-1.4zM234.2 172.7h1.4v1.4h-1.4zM242.9 174.9h1.4v1.4h-1.4zM243 170.8h1.4v1.4h-1.4zM239.2 165.3h1.4v1.4h-1.4zM240.7 173.6h1.4v1.4h-1.4zM243.7 173.6h1.4v1.4h-1.4zM242.5 173.4h1.4v1.4h-1.4zM236.4 173.9h1.4v1.4h-1.4zM234.8 167.5h1.4v1.4h-1.4zM244.3 159.8h1.4v1.4h-1.4zM245.5 166.7h1.4v1.4h-1.4zM243.9 165.1h1.4v1.4h-1.4zM239.9 174.2h1.4v1.4h-1.4zM230.1 158.8h1.4v1.4h-1.4zM242.4 166.8h1.4v1.4h-1.4zM239.4 171.3h1.4v1.4h-1.4zM241.7 170.6h1.4v1.4h-1.4zM240.7 175.2h1.4v1.4h-1.4zM238.7 172.8h1.4v1.4h-1.4zM239.2 172h1.4v1.4h-1.4zM231.9 175.2h1.4v1.4h-1.4zM231.7 168.9h1.4v1.4h-1.4zM232.8 153.6h1.4v1.4h-1.4zM235.7 174.1h1.4v1.4h-1.4zM233.5 174.2h1.4v1.4h-1.4zM241 173h1.4v1.4h-1.4zM235.6 153.1h1.4v1.4h-1.4zM240.8 172.9h1.4v1.4h-1.4zM236.3 167.3h1.4v1.4h-1.4zM234.8 173.7h1.4v1.4h-1.4zM244.9 174.6h1.4v1.4h-1.4zM246.2 154.4h1.4v1.4h-1.4zM237.2 169.8h1.4v1.4h-1.4zM230.9 174.5h1.4v1.4h-1.4zM235.7 163.6h1.4v1.4h-1.4zM244.7 175.3h1.4v1.4h-1.4zM244.1 175.7h1.4v1.4h-1.4zM241 171h1.4v1.4h-1.4zM238.5 162.1h1.4v1.4h-1.4zM243 174.1h1.4v1.4h-1.4zM234.9 171h1.4v1.4h-1.4zM241.7 175.9h1.4v1.4h-1.4zM244.1 173.4h1.4v1.4h-1.4zM245.7 174.2h1.4v1.4h-1.4zM233.3 171.7h1.4v1.4h-1.4zM238.3 175.5h1.4v1.4h-1.4zM230.1 169.2h1.4v1.4h-1.4zM241 158.5h1.4v1.4h-1.4zM235.7 163.6h1.4v1.4h-1.4zM238.3 171.3h1.4v1.4h-1.4zM236.4 174.1h1.4v1.4h-1.4zM235.8 165.8h1.4v1.4h-1.4zM237.1 175.2h1.4v1.4h-1.4zM237 155.3h1.4v1.4h-1.4zM240.4 173.8h1.4v1.4h-1.4zM236.8 169.9h1.4v1.4h-1.4zM230 168.5h1.4v1.4h-1.4zM245 175.6h1.4v1.4h-1.4zM241.4 157.8h1.2v1.2h-1.2zM241.4 159.6h1.2v1.2h-1.2zM241.4 161.5h1.2v1.2h-1.2zM241.4 163h1.2v1.2h-1.2zM241.4 164.1h1.2v1.2h-1.2zM241.4 165h1.2v1.2h-1.2zM241.4 166.6h1.2v1.2h-1.2zM241.4 168.3h1.2v1.2h-1.2zM241.4 170.1h1.2v1.2h-1.2zM241.4 171h1.2v1.2h-1.2zM241.4 171.6h1.2v1.2h-1.2zM241.4 173.6h1.2v1.2h-1.2zM241.4 175.2h1.2v1.2h-1.2zM241.4 176h1.2v1.2h-1.2zM230.7 159.2h1.2v1.2h-1.2zM230.7 160.9h1.2v1.2h-1.2zM230.7 161.7h1.2v1.2h-1.2zM230.7 163.7h1.2v1.2h-1.2zM230.7 165.9h1.2v1.2h-1.2zM230.7 168h1.2v1.2h-1.2zM230.7 169.9h1.2v1.2h-1.2zM230.7 171h1.2v1.2h-1.2zM230.7 173.1h1.2v1.2h-1.2zM230.7 174.7h1.2v1.2h-1.2zM240.9 171.9h1.2v1.2h-1.2zM240.9 173.9h1.2v1.2h-1.2zM240.9 175.5h1.2v1.2h-1.2zM236.2 172.5h1.2v1.2h-1.2zM236.2 173.8h1.2v1.2h-1.2zM272.7 174h1.4v1.4h-1.4zM272.3 172h1.4v1.4h-1.4zM279.4 174.1h1.4v1.4h-1.4zM278.1 167.2h1.4v1.4h-1.4zM270 170.8h1.4v1.4h-1.4zM267.7 173.8h1.4v1.4h-1.4zM275.6 174.2h1.4v1.4h-1.4zM269 165.7h1.4v1.4h-1.4zM279 173.7h1.4v1.4h-1.4zM274 167.7h1.4v1.4h-1.4zM274.8 167h1.4v1.4h-1.4zM275.7 170.8h1.4v1.4h-1.4zM274.5 160.2h1.4v1.4h-1.4zM268.9 173.1h1.4v1.4h-1.4zM278.3 174.6h1.4v1.4h-1.4zM272.6 165.7h1.4v1.4h-1.4zM268.1 172.7h1.4v1.4h-1.4zM269.7 171.3h1.4v1.4h-1.4zM278.4 165.8h1.4v1.4h-1.4zM277.8 174.4h1.4v1.4h-1.4zM274.2 175.1h1.4v1.4h-1.4zM267.7 174.5h1.4v1.4h-1.4zM266.7 172.3h1.4v1.4h-1.4zM268.7 170.7h1.4v1.4h-1.4zM272.7 170.1h1.4v1.4h-1.4zM277.5 171.1h1.4v1.4h-1.4zM278.5 159.3h1.4v1.4h-1.4zM274.8 173.6h1.4v1.4h-1.4zM271.8 170.3h1.4v1.4h-1.4zM271.8 171.1h1.4v1.4h-1.4zM274.4 174.1h1.4v1.4h-1.4zM280.1 166.4h1.4v1.4h-1.4zM271.9 163.9h1.4v1.4h-1.4zM274.5 173.8h1.4v1.4h-1.4zM278.6 165.8h1.4v1.4h-1.4zM280.8 166.8h1.4v1.4h-1.4zM280.8 163.4h1.4v1.4h-1.4zM269.2 162.8h1.4v1.4h-1.4zM277.6 171.9h1.4v1.4h-1.4zM268.5 174.9h1.4v1.4h-1.4zM277.9 173.4h1.4v1.4h-1.4zM266.1 171.6h1.4v1.4h-1.4zM280.8 170.6h1.4v1.4h-1.4zM278.2 167.9h1.4v1.4h-1.4zM274.3 172.9h1.4v1.4h-1.4zM277.3 170.5h1.4v1.4h-1.4zM269 167.8h1.4v1.4h-1.4zM275.1 172.8h1.4v1.4h-1.4zM267.8 175.7h1.4v1.4h-1.4zM268 172h1.4v1.4h-1.4zM280.6 174.9h1.4v1.4h-1.4zM268.3 171h1.4v1.4h-1.4zM270.5 174.8h1.4v1.4h-1.4zM279.5 172.1h1.4v1.4h-1.4zM272.6 165.1h1.4v1.4h-1.4zM277.8 165.3h1.4v1.4h-1.4zM275 175.6h1.4v1.4h-1.4zM267.1 170.8h1.4v1.4h-1.4zM274.1 172.2h1.4v1.4h-1.4zM268.4 173.6h1.4v1.4h-1.4zM270.3 166.3h1.4v1.4h-1.4zM271.3 169.6h1.4v1.4h-1.4zM273 160.3h1.4v1.4h-1.4zM273.6 174.7h1.4v1.4h-1.4zM280 172.2h1.4v1.4h-1.4zM278.8 174.2h1.4v1.4h-1.4zM280.8 173h1.4v1.4h-1.4zM271.6 163.8h1.4v1.4h-1.4zM267.4 174.8h1.4v1.4h-1.4zM268.9 169.1h1.4v1.4h-1.4zM274 172.5h1.4v1.4h-1.4zM266.6 175.9h1.4v1.4h-1.4zM266.5 171h1.4v1.4h-1.4zM275.7 174.2h1.4v1.4h-1.4zM279.4 166.7h1.4v1.4h-1.4zM275.3 175.2h1.4v1.4h-1.4zM268.7 164.2h1.4v1.4h-1.4zM280.2 169.7h1.4v1.4h-1.4zM277.2 160.4h1.4v1.4h-1.4zM267.4 171.9h1.4v1.4h-1.4zM273.2 174.5h1.4v1.4h-1.4zM274.5 170.6h1.4v1.4h-1.4zM280.8 175.2h1.4v1.4h-1.4zM270.5 175.2h1.4v1.4h-1.4zM269.3 167.9h1.4v1.4h-1.4zM271.5 171.5h1.4v1.4h-1.4zM270.9 166.3h1.4v1.4h-1.4zM268.4 166.9h1.4v1.4h-1.4zM269.2 168.9h1.4v1.4h-1.4zM270.5 174.1h1.4v1.4h-1.4zM273.9 175.6h1.4v1.4h-1.4zM279.1 175.5h1.4v1.4h-1.4zM272.2 165.9h1.4v1.4h-1.4zM268.5 175.7h1.4v1.4h-1.4zM273.3 163.6h1.4v1.4h-1.4zM271.7 173.8h1.4v1.4h-1.4zM276.5 161.6h1.4v1.4h-1.4zM271.2 169.7h1.4v1.4h-1.4zM278.8 164.9h1.4v1.4h-1.4zM271.8 170.3h1.4v1.4h-1.4zM273.6 175.2h1.4v1.4h-1.4zM279.7 175.5h1.4v1.4h-1.4zM277.3 169.4h1.4v1.4h-1.4zM277.9 172.7h1.4v1.4h-1.4zM278.5 164.6h1.4v1.4h-1.4zM269.7 161.6h1.4v1.4h-1.4zM278.6 159.3h1.4v1.4h-1.4zM280.1 169.1h1.4v1.4h-1.4zM280.2 174.6h1.4v1.4h-1.4zM280.3 166h1.4v1.4h-1.4zM280.3 170.3h1.4v1.4h-1.4zM274.4 163.9h1.4v1.4h-1.4zM276.2 171.1h1.4v1.4h-1.4zM270.3 175.7h1.4v1.4h-1.4zM269.9 174.2h1.4v1.4h-1.4zM268.8 166.2h1.4v1.4h-1.4zM276.1 173.5h1.4v1.4h-1.4zM269.8 166.7h1.4v1.4h-1.4zM266.5 173.9h1.4v1.4h-1.4zM278.4 174.2h1.4v1.4h-1.4zM273.1 149.1h1.4v1.4h-1.4zM269.1 175.9h1.4v1.4h-1.4zM278.3 173.5h1.4v1.4h-1.4zM271.1 165.9h1.4v1.4h-1.4zM267.1 174.3h1.4v1.4h-1.4zM274.6 157.3h1.4v1.4h-1.4zM270.7 174.8h1.4v1.4h-1.4zM267.2 171.4h1.4v1.4h-1.4zM275.5 168.6h1.4v1.4h-1.4zM276.5 154.4h1.4v1.4h-1.4zM276.3 167h1.4v1.4h-1.4zM275 164.6h1.4v1.4h-1.4zM277.1 151.9h1.4v1.4h-1.4zM268.6 170.5h1.4v1.4h-1.4zM267.8 173.2h1.4v1.4h-1.4zM280.1 173.2h1.4v1.4h-1.4zM274.6 175.2h1.4v1.4h-1.4zM273.7 175.7h1.4v1.4h-1.4zM274.8 171h1.4v1.4h-1.4zM276.4 175.4h1.4v1.4h-1.4zM274.4 171.2h1.4v1.4h-1.4zM277.7 172.9h1.4v1.4h-1.4zM271 173.7h1.4v1.4h-1.4zM280.8 162.2h1.4v1.4h-1.4zM276.2 175.3h1.4v1.4h-1.4zM278.3 169h1.4v1.4h-1.4zM275.5 173.5h1.4v1.4h-1.4zM277.9 175.8h1.4v1.4h-1.4zM267.4 173.3h1.4v1.4h-1.4zM269 166.3h1.4v1.4h-1.4zM267.7 175.3h1.4v1.4h-1.4zM274 175.7h1.4v1.4h-1.4zM278.1 174.1h1.4v1.4h-1.4zM270.5 174.3h1.4v1.4h-1.4zM280.8 173.1h1.4v1.4h-1.4zM269.4 174.1h1.4v1.4h-1.4zM277.8 170.9h1.4v1.4h-1.4zM268.3 175.7h1.4v1.4h-1.4zM270.6 174.8h1.4v1.4h-1.4zM277.3 173.8h1.4v1.4h-1.4zM277.3 175.6h1.4v1.4h-1.4zM272.5 175.5h1.4v1.4h-1.4zM266.2 175.7h1.4v1.4h-1.4zM278.4 175.5h1.4v1.4h-1.4zM276.5 173.2h1.4v1.4h-1.4zM278.3 167h1.4v1.4h-1.4zM270.9 173.5h1.4v1.4h-1.4zM272.2 175.6h1.4v1.4h-1.4zM280.1 167.9h1.4v1.4h-1.4zM270.3 172.4h1.4v1.4h-1.4zM273.1 173.2h1.4v1.4h-1.4zM280.4 173.9h1.4v1.4h-1.4zM275.3 174.5h1.4v1.4h-1.4zM280.5 175h1.4v1.4h-1.4zM275.8 174.4h1.4v1.4h-1.4zM269.3 162.6h1.2v1.2h-1.2zM269.3 164.4h1.2v1.2h-1.2zM269.3 165.7h1.2v1.2h-1.2zM269.3 166.5h1.2v1.2h-1.2zM269.3 167.8h1.2v1.2h-1.2zM269.3 168.5h1.2v1.2h-1.2zM269.3 169.3h1.2v1.2h-1.2zM269.3 170.1h1.2v1.2h-1.2zM269.3 171.5h1.2v1.2h-1.2zM269.3 172.6h1.2v1.2h-1.2zM269.3 173.5h1.2v1.2h-1.2zM269.3 175.3h1.2v1.2h-1.2zM278.6 173.1h1.2v1.2h-1.2zM278.6 174.7h1.2v1.2h-1.2zM278.6 175.7h1.2v1.2h-1.2zM272.8 166.2h1.2v1.2h-1.2zM272.8 167.7h1.2v1.2h-1.2zM272.8 169.8h1.2v1.2h-1.2zM272.8 171.4h1.2v1.2h-1.2zM272.8 172.5h1.2v1.2h-1.2zM272.8 174.4h1.2v1.2h-1.2zM272.8 175.3h1.2v1.2h-1.2zM274.8 168h1.2v1.2h-1.2zM274.8 169.8h1.2v1.2h-1.2zM274.8 170.5h1.2v1.2h-1.2zM274.8 171.2h1.2v1.2h-1.2zM274.8 172.2h1.2v1.2h-1.2zM274.8 173.6h1.2v1.2h-1.2zM274.8 175.3h1.2v1.2h-1.2zM274.9 171.4h1.2v1.2h-1.2zM274.9 172.5h1.2v1.2h-1.2zM274.9 173.9h1.2v1.2h-1.2zM274.9 175.8h1.2v1.2h-1.2zM280.6 153.4h1.2v1.2h-1.2zM280.6 154.5h1.2v1.2h-1.2zM280.6 155.6h1.2v1.2h-1.2zM280.6 157.5h1.2v1.2h-1.2zM280.6 159.6h1.2v1.2h-1.2zM280.6 161.1h1.2v1.2h-1.2zM280.6 162.4h1.2v1.2h-1.2zM280.6 164.1h1.2v1.2h-1.2zM280.6 165.4h1.2v1.2h-1.2zM280.6 166.9h1.2v1.2h-1.2zM280.6 167.8h1.2v1.2h-1.2zM280.6 168.6h1.2v1.2h-1.2zM280.6 169.8h1.2v1.2h-1.2zM280.6 170.8h1.2v1.2h-1.2zM280.6 171.7h1.2v1.2h-1.2zM280.6 173.8h1.2v1.2h-1.2zM280.6 175.5h1.2v1.2h-1.2zM281.3 173.1h1.2v1.2h-1.2zM281.3 174.3h1.2v1.2h-1.2zM280.9 157.3h1.2v1.2h-1.2zM280.9 158.2h1.2v1.2h-1.2zM280.9 159.7h1.2v1.2h-1.2zM280.9 160.4h1.2v1.2h-1.2zM280.9 161.1h1.2v1.2h-1.2zM280.9 163.1h1.2v1.2h-1.2zM280.9 163.7h1.2v1.2h-1.2zM280.9 164.4h1.2v1.2h-1.2zM280.9 165.2h1.2v1.2h-1.2zM280.9 166.9h1.2v1.2h-1.2zM280.9 168.5h1.2v1.2h-1.2zM280.9 169.5h1.2v1.2h-1.2zM280.9 170.7h1.2v1.2h-1.2zM280.9 172.9h1.2v1.2h-1.2zM280.9 173.8h1.2v1.2h-1.2zM280.9 174.5h1.2v1.2h-1.2zM300.2 175.6h1.4v1.4h-1.4zM305.3 169.2h1.4v1.4h-1.4zM304.1 175.4h1.4v1.4h-1.4zM305 157h1.4v1.4h-1.4zM306.9 173.5h1.4v1.4h-1.4zM311.2 166.1h1.4v1.4h-1.4zM305.8 173.4h1.4v1.4h-1.4zM299.1 175.5h1.4v1.4h-1.4zM304.6 172h1.4v1.4h-1.4zM313.7 162.9h1.4v1.4h-1.4zM303.6 175h1.4v1.4h-1.4zM301.4 173.5h1.4v1.4h-1.4zM306.5 151.8h1.4v1.4h-1.4zM301.6 161.1h1.4v1.4h-1.4zM309.8 171.4h1.4v1.4h-1.4zM299.8 157.4h1.4v1.4h-1.4zM311.5 169.6h1.4v1.4h-1.4zM313.9 171h1.4v1.4h-1.4zM312.4 175.5h1.4v1.4h-1.4zM308.5 170.1h1.4v1.4h-1.4zM304.3 158.7h1.4v1.4h-1.4zM300.2 171.8h1.4v1.4h-1.4zM303.5 146.4h1.4v1.4h-1.4zM310.8 175h1.4v1.4h-1.4zM300.8 175.8h1.4v1.4h-1.4zM301.6 171.3h1.4v1.4h-1.4zM312.2 169.3h1.4v1.4h-1.4zM305 164.3h1.4v1.4h-1.4zM307.7 165.4h1.4v1.4h-1.4zM298.9 170.3h1.4v1.4h-1.4zM307.8 174.3h1.4v1.4h-1.4zM313.2 175.6h1.4v1.4h-1.4zM313.8 172.4h1.4v1.4h-1.4zM301.8 172.6h1.4v1.4h-1.4zM308.6 168.4h1.4v1.4h-1.4zM306.1 153.6h1.4v1.4h-1.4zM312.5 162.4h1.4v1.4h-1.4zM304.3 163h1.4v1.4h-1.4zM299.1 171.6h1.4v1.4h-1.4zM304.2 175.4h1.4v1.4h-1.4zM311.6 159h1.4v1.4h-1.4zM300.8 173.6h1.4v1.4h-1.4zM299.2 154.1h1.4v1.4h-1.4zM307 170.2h1.4v1.4h-1.4zM305.2 172.3h1.4v1.4h-1.4zM309.4 166.2h1.4v1.4h-1.4zM301.6 153.4h1.4v1.4h-1.4zM311.5 172.1h1.4v1.4h-1.4zM311.2 167.9h1.4v1.4h-1.4zM310.2 172.8h1.4v1.4h-1.4zM311.7 162.5h1.4v1.4h-1.4zM310.8 175.6h1.4v1.4h-1.4zM302 175.3h1.4v1.4h-1.4zM306 175.6h1.4v1.4h-1.4zM307.3 156.8h1.4v1.4h-1.4zM313.9 175.5h1.4v1.4h-1.4zM309.3 173.5h1.4v1.4h-1.4zM312.1 175.8h1.4v1.4h-1.4zM300.4 174.8h1.4v1.4h-1.4zM298.9 164h1.4v1.4h-1.4zM302 171.1h1.4v1.4h-1.4zM313.4 173.4h1.4v1.4h-1.4zM306 165.5h1.4v1.4h-1.4zM312.4 173.1h1.4v1.4h-1.4zM298.9 174.6h1.4v1.4h-1.4zM309.9 175.6h1.4v1.4h-1.4zM312 168.1h1.4v1.4h-1.4zM310.5 172.2h1.4v1.4h-1.4zM308 157h1.4v1.4h-1.4zM306 163.2h1.4v1.4h-1.4zM309.6 174.3h1.4v1.4h-1.4zM303.6 166.1h1.4v1.4h-1.4zM305.5 173.6h1.4v1.4h-1.4zM310.4 152.2h1.4v1.4h-1.4zM311.1 171h1.4v1.4h-1.4zM304.4 170.3h1.4v1.4h-1.4zM311.7 173.2h1.4v1.4h-1.4zM309.6 168.3h1.4v1.4h-1.4zM309.1 169.1h1.4v1.4h-1.4zM309.1 173.2h1.4v1.4h-1.4zM299.2 171.2h1.4v1.4h-1.4zM312.6 173.8h1.4v1.4h-1.4zM309 175.1h1.4v1.4h-1.4zM305.9 169.1h1.4v1.4h-1.4zM309.6 171.4h1.4v1.4h-1.4zM300.2 165.7h1.4v1.4h-1.4zM311.9 167.9h1.4v1.4h-1.4zM311.5 155.2h1.4v1.4h-1.4zM301.6 159.4h1.4v1.4h-1.4zM304.7 174.9h1.4v1.4h-1.4zM301.3 162.7h1.4v1.4h-1.4zM308.2 174.2h1.4v1.4h-1.4zM300.3 163.4h1.4v1.4h-1.4zM303.7 170.9h1.4v1.4h-1.4zM308.7 172.6h1.4v1.4h-1.4zM312.8 165.5h1.4v1.4h-1.4zM311 169.6h1.4v1.4h-1.4zM305.4 172.4h1.4v1.4h-1.4zM302.7 175.5h1.4v1.4h-1.4zM310.9 157.8h1.4v1.4h-1.4zM311.6 175.8h1.4v1.4h-1.4zM303.3 175.4h1.4v1.4h-1.4zM312.9 175.1h1.4v1.4h-1.4zM307.1 169.5h1.4v1.4h-1.4zM301.9 149.4h1.4v1.4h-1.4zM313.9 171h1.4v1.4h-1.4zM300.9 163.9h1.4v1.4h-1.4zM306.7 160.9h1.4v1.4h-1.4zM308.3 159.2h1.4v1.4h-1.4zM310.6 172.5h1.4v1.4h-1.4zM310.3 173h1.4v1.4h-1.4zM313.8 174.5h1.4v1.4h-1.4zM299 167.1h1.4v1.4h-1.4zM303.1 169.3h1.4v1.4h-1.4zM308.2 163h1.4v1.4h-1.4zM310.2 174.4h1.4v1.4h-1.4zM311.6 162.3h1.4v1.4h-1.4zM303.8 163.2h1.4v1.4h-1.4zM303.1 174.8h1.4v1.4h-1.4zM305.9 171.9h1.4v1.4h-1.4zM303.3 174.4h1.4v1.4h-1.4zM303.6 174.6h1.4v1.4h-1.4zM307.8 175.8h1.4v1.4h-1.4zM302.6 173.6h1.4v1.4h-1.4zM309.7 171.1h1.4v1.4h-1.4zM300.3 173.5h1.4v1.4h-1.4zM305.5 166h1.4v1.4h-1.4zM303.7 174h1.4v1.4h-1.4zM307.4 175.8h1.4v1.4h-1.4zM313.8 173.5h1.4v1.4h-1.4zM312.9 152.1h1.4v1.4h-1.4zM310.6 169.9h1.4v1.4h-1.4zM312.5 170.5h1.4v1.4h-1.4zM305.2 174.5h1.4v1.4h-1.4zM301.4 164h1.4v1.4h-1.4zM313.7 170.7h1.4v1.4h-1.4zM309.9 170h1.4v1.4h-1.4zM306.4 172.5h1.4v1.4h-1.4zM307.3 174.9h1.4v1.4h-1.4zM310.3 160.8h1.4v1.4h-1.4zM306.6 171.1h1.4v1.4h-1.4zM313.8 174.8h1.4v1.4h-1.4zM309.8 170.5h1.4v1.4h-1.4zM304.1 148.1h1.4v1.4h-1.4zM299.4 175.9h1.4v1.4h-1.4zM308.7 163.9h1.4v1.4h-1.4zM309.8 175.9h1.4v1.4h-1.4zM307.4 173.7h1.4v1.4h-1.4zM309.4 171.6h1.4v1.4h-1.4zM304.2 176h1.4v1.4h-1.4zM303.6 173.6h1.4v1.4h-1.4zM304 170h1.4v1.4h-1.4zM308.8 175h1.4v1.4h-1.4zM311.9 166.1h1.4v1.4h-1.4zM305.5 172.5h1.4v1.4h-1.4zM312.7 171.6h1.4v1.4h-1.4zM313.7 176h1.4v1.4h-1.4zM313.5 175.6h1.4v1.4h-1.4zM312.6 175.5h1.4v1.4h-1.4zM312 153.1h1.4v1.4h-1.4zM309.4 174.2h1.4v1.4h-1.4zM304.8 175.3h1.4v1.4h-1.4zM301 152.7h1.4v1.4h-1.4zM304.1 175.7h1.4v1.4h-1.4zM301.4 174.1h1.4v1.4h-1.4zM301.8 171.4h1.4v1.4h-1.4zM312.8 168.1h1.4v1.4h-1.4zM310.2 173.8h1.4v1.4h-1.4zM309.5 167.4h1.4v1.4h-1.4zM314.1 160.2h1.4v1.4h-1.4zM308.2 169h1.4v1.4h-1.4zM300.8 162.9h1.4v1.4h-1.4zM309.9 160.4h1.4v1.4h-1.4zM304.3 175.8h1.4v1.4h-1.4zM301 173.6h1.4v1.4h-1.4zM303.6 154.4h1.4v1.4h-1.4zM304.5 172.2h1.2v1.2h-1.2zM304.5 173.1h1.2v1.2h-1.2zM304.5 175.3h1.2v1.2h-1.2zM308.5 172.9h1.2v1.2h-1.2zM308.5 175h1.2v1.2h-1.2zM301.8 173.1h1.2v1.2h-1.2zM301.8 174.2h1.2v1.2h-1.2zM301.8 174.9h1.2v1.2h-1.2zM307.8 173.9h1.2v1.2h-1.2zM310.2 159.1h1.2v1.2h-1.2zM310.2 161.2h1.2v1.2h-1.2zM310.2 162.6h1.2v1.2h-1.2zM310.2 163.5h1.2v1.2h-1.2zM310.2 165.4h1.2v1.2h-1.2zM310.2 167.5h1.2v1.2h-1.2zM310.2 168.2h1.2v1.2h-1.2zM310.2 169.6h1.2v1.2h-1.2zM310.2 170.6h1.2v1.2h-1.2zM310.2 172.6h1.2v1.2h-1.2zM310.2 173.4h1.2v1.2h-1.2zM310.2 175.3h1.2v1.2h-1.2zM336.1 170.7h1.4v1.4h-1.4zM334.8 170.9h1.4v1.4h-1.4zM336.3 171.8h1.4v1.4h-1.4zM336.1 171.4h1.4v1.4h-1.4zM329.9 165.9h1.4v1.4h-1.4zM328.6 167.6h1.4v1.4h-1.4zM336.4 173h1.4v1.4h-1.4zM333.5 157.1h1.4v1.4h-1.4zM332.6 167.9h1.4v1.4h-1.4zM333 160.1h1.4v1.4h-1.4zM333 162h1.4v1.4h-1.4zM336.7 171.3h1.4v1.4h-1.4zM329.5 173h1.4v1.4h-1.4zM327.9 170.7h1.4v1.4h-1.4zM336.1 163.2h1.4v1.4h-1.4zM333.2 169.4h1.4v1.4h-1.4zM337 169.2h1.4v1.4h-1.4zM331.1 165.2h1.4v1.4h-1.4zM329.3 172.7h1.4v1.4h-1.4zM331.1 171.3h1.4v1.4h-1.4zM327.4 158.6h1.4v1.4h-1.4zM330.6 172.9h1.4v1.4h-1.4zM333.3 162h1.4v1.4h-1.4zM334 166.7h1.4v1.4h-1.4zM328.6 167.7h1.4v1.4h-1.4zM331.1 170.7h1.4v1.4h-1.4zM330.4 170.6h1.4v1.4h-1.4zM329 169.8h1.4v1.4h-1.4zM329.6 167.3h1.4v1.4h-1.4zM330.9 163.4h1.4v1.4h-1.4zM329.2 167.4h1.4v1.4h-1.4zM330.5 168.6h1.4v1.4h-1.4zM336.7 168.3h1.4v1.4h-1.4zM336.6 166h1.4v1.4h-1.4zM330.3 164.9h1.4v1.4h-1.4zM334 172.7h1.4v1.4h-1.4zM328.3 159.5h1.4v1.4h-1.4zM334.3 156.4h1.4v1.4h-1.4zM329.1 148.4h1.4v1.4h-1.4zM330.2 172h1.4v1.4h-1.4zM330.8 171.9h1.4v1.4h-1.4zM327.8 172.2h1.4v1.4h-1.4zM329.2 168.6h1.4v1.4h-1.4zM335.8 167.9h1.4v1.4h-1.4zM332.2 170.9h1.4v1.4h-1.4zM331.8 168.5h1.4v1.4h-1.4zM335.4 170.1h1.4v1.4h-1.4zM327.5 169.1h1.4v1.4h-1.4zM328.9 157.7h1.4v1.4h-1.4zM334.2 167.9h1.4v1.4h-1.4zM336.4 172.4h1.4v1.4h-1.4zM329.2 172.6h1.4v1.4h-1.4zM336.1 172.3h1.4v1.4h-1.4zM336.1 159.2h1.4v1.4h-1.4zM336.4 171.5h1.4v1.4h-1.4zM335.7 156.7h1.4v1.4h-1.4zM334.2 171.3h1.4v1.4h-1.4zM337.1 169.2h1.4v1.4h-1.4zM329.3 165.4h1.4v1.4h-1.4zM328.1 170.3h1.4v1.4h-1.4zM327.3 169.7h1.4v1.4h-1.4zM331.2 172.1h1.4v1.4h-1.4zM332.1 154.3h1.4v1.4h-1.4zM328.1 162.9h1.4v1.4h-1.4zM328.9 169.3h1.4v1.4h-1.4zM330.6 168.4h1.4v1.4h-1.4zM327.3 163.4h1.4v1.4h-1.4zM331.6 171.5h1.4v1.4h-1.4zM336.9 172.9h1.4v1.4h-1.4zM329.1 171.7h1.4v1.4h-1.4zM328.5 171.9h1.4v1.4h-1.4zM332.2 167.2h1.4v1.4h-1.4zM335.8 166.6h1.4v1.4h-1.4zM333.7 172.9h1.4v1.4h-1.4zM336 170.6h1.4v1.4h-1.4zM336.1 168.2h1.4v1.4h-1.4zM332.1 169h1.4v1.4h-1.4zM327.4 163.5h1.4v1.4h-1.4zM334.2 167.7h1.4v1.4h-1.4zM328.8 164.7h1.4v1.4h-1.4zM332.8 171.7h1.4v1.4h-1.4zM328.5 164.6h1.4v1.4h-1.4zM331.1 170.8h1.4v1.4h-1.4zM330.8 160.9h1.4v1.4h-1.4zM328.5 172.9h1.4v1.4h-1.4zM336.1 166.4h1.4v1.4h-1.4zM336.6 168.9h1.4v1.4h-1.4zM330.7 168.7h1.4v1.4h-1.4zM330.8 171.5h1.4v1.4h-1.4zM335 171h1.4v1.4h-1.4zM331.3 171h1.4v1.4h-1.4zM337.1 172.2h1.4v1.4h-1.4zM334 159.4h1.4v1.4h-1.4zM335.1 171.9h1.4v1.4h-1.4zM327.4 168.1h1.4v1.4h-1.4zM330.5 171.2h1.4v1.4h-1.4zM330.1 173h1.4v1.4h-1.4zM334.4 169.4h1.4v1.4h-1.4zM333.5 164.4h1.4v1.4h-1.4zM331 166.2h1.4v1.4h-1.4zM331.9 167.2h1.4v1.4h-1.4zM330.6 150.3h1.2v1.2h-1.2zM330.6 151.9h1.2v1.2h-1.2zM330.6 153.6h1.2v1.2h-1.2zM330.6 155.3h1.2v1.2h-1.2zM330.6 156h1.2v1.2h-1.2zM330.6 157.3h1.2v1.2h-1.2zM330.6 158.4h1.2v1.2h-1.2zM330.6 159.2h1.2v1.2h-1.2zM330.6 160.8h1.2v1.2h-1.2zM330.6 162.6h1.2v1.2h-1.2zM330.6 163.3h1.2v1.2h-1.2zM330.6 164.7h1.2v1.2h-1.2zM330.6 165.5h1.2v1.2h-1.2zM330.6 167.4h1.2v1.2h-1.2zM330.6 168.9h1.2v1.2h-1.2zM330.6 169.6h1.2v1.2h-1.2zM330.6 171h1.2v1.2h-1.2zM330.6 172h1.2v1.2h-1.2zM330.6 172.9h1.2v1.2h-1.2zM331.3 152.2h1.2v1.2h-1.2zM331.3 154.3h1.2v1.2h-1.2zM331.3 156.3h1.2v1.2h-1.2zM331.3 157.5h1.2v1.2h-1.2zM331.3 159.6h1.2v1.2h-1.2zM331.3 160.3h1.2v1.2h-1.2zM331.3 162.1h1.2v1.2h-1.2zM331.3 163.3h1.2v1.2h-1.2zM331.3 165.3h1.2v1.2h-1.2zM331.3 165.9h1.2v1.2h-1.2zM331.3 167.5h1.2v1.2h-1.2zM331.3 168.2h1.2v1.2h-1.2zM331.3 169.2h1.2v1.2h-1.2zM331.3 170.7h1.2v1.2h-1.2zM331.3 171.6h1.2v1.2h-1.2zM349.7 171.7h1.4v1.4h-1.4zM349.6 170.2h1.4v1.4h-1.4zM349 171.2h1.4v1.4h-1.4zM350.2 157h1.4v1.4h-1.4zM354 170.1h1.4v1.4h-1.4zM355.4 169.7h1.4v1.4h-1.4zM353.2 167.9h1.4v1.4h-1.4zM350.9 163.9h1.4v1.4h-1.4zM349.3 168.1h1.4v1.4h-1.4zM357.7 172.7h1.4v1.4h-1.4zM348.5 168.4h1.4v1.4h-1.4zM353.7 163.2h1.4v1.4h-1.4zM351.8 170.9h1.4v1.4h-1.4zM352.4 172.3h1.4v1.4h-1.4zM348.7 166.7h1.4v1.4h-1.4zM349.2 167.7h1.4v1.4h-1.4zM353.2 171.1h1.4v1.4h-1.4zM355 165.6h1.4v1.4h-1.4zM350.1 170.2h1.4v1.4h-1.4zM358.1 153.6h1.4v1.4h-1.4zM352.3 170.2h1.4v1.4h-1.4zM356.6 172.5h1.4v1.4h-1.4zM349.6 161.9h1.4v1.4h-1.4zM354.1 148.2h1.4v1.4h-1.4zM356.1 171.2h1.4v1.4h-1.4zM352.4 168.3h1.4v1.4h-1.4zM356.9 172.4h1.4v1.4h-1.4zM357.2 166.6h1.4v1.4h-1.4zM356.9 165.4h1.4v1.4h-1.4zM349.5 161.4h1.4v1.4h-1.4zM353.4 172.8h1.4v1.4h-1.4zM349.4 167.5h1.4v1.4h-1.4zM349.7 172.7h1.4v1.4h-1.4zM356.8 158.4h1.4v1.4h-1.4zM358.3 171.4h1.4v1.4h-1.4zM354.1 172.8h1.4v1.4h-1.4zM349.6 163.6h1.4v1.4h-1.4zM354.1 154.6h1.4v1.4h-1.4zM355.9 168.3h1.4v1.4h-1.4zM355.5 172.7h1.4v1.4h-1.4zM353.8 164.5h1.4v1.4h-1.4zM356.6 163.3h1.4v1.4h-1.4zM353.6 168.3h1.4v1.4h-1.4zM348.6 171.6h1.4v1.4h-1.4zM354 169h1.4v1.4h-1.4zM357.2 171.7h1.4v1.4h-1.4zM349.8 171h1.4v1.4h-1.4zM356.2 171.2h1.4v1.4h-1.4zM356.1 171.4h1.4v1.4h-1.4zM357.2 171.9h1.4v1.4h-1.4zM352.4 172.7h1.4v1.4h-1.4zM353.6 164.6h1.4v1.4h-1.4zM353.5 170.4h1.4v1.4h-1.4zM357.6 168.1h1.4v1.4h-1.4zM351.5 165.6h1.4v1.4h-1.4zM355.6 171.2h1.4v1.4h-1.4zM350.5 160.9h1.4v1.4h-1.4zM353.5 169.7h1.4v1.4h-1.4zM349.7 157.8h1.4v1.4h-1.4zM357 167.6h1.4v1.4h-1.4zM351.4 171.1h1.4v1.4h-1.4zM353.8 171.5h1.4v1.4h-1.4zM351.2 170h1.4v1.4h-1.4zM355.1 163.9h1.4v1.4h-1.4zM351.5 169.6h1.4v1.4h-1.4zM355 171h1.4v1.4h-1.4zM350 161.2h1.4v1.4h-1.4zM357.8 163.2h1.4v1.4h-1.4zM350.5 170.4h1.4v1.4h-1.4zM348.5 159.4h1.4v1.4h-1.4zM357.8 172h1.4v1.4h-1.4zM351.8 170.7h1.4v1.4h-1.4zM350.3 166.6h1.4v1.4h-1.4zM352.2 172.9h1.4v1.4h-1.4zM350.6 163.3h1.4v1.4h-1.4zM355.4 172.9h1.4v1.4h-1.4zM353.9 167h1.4v1.4h-1.4zM354.8 165.9h1.4v1.4h-1.4zM356.2 170.6h1.4v1.4h-1.4zM356.9 165.7h1.4v1.4h-1.4zM349 163.9h1.4v1.4h-1.4zM351.8 171.7h1.4v1.4h-1.4zM352.1 171.5h1.4v1.4h-1.4zM354 167.8h1.4v1.4h-1.4zM351.4 166h1.4v1.4h-1.4zM348.8 163.1h1.2v1.2h-1.2zM348.8 164.2h1.2v1.2h-1.2zM348.8 165.7h1.2v1.2h-1.2zM348.8 166.8h1.2v1.2h-1.2zM348.8 168.1h1.2v1.2h-1.2zM348.8 170.1h1.2v1.2h-1.2zM348.8 172.2h1.2v1.2h-1.2zM348.8 172.9h1.2v1.2h-1.2zM353.5 148.8h1.2v1.2h-1.2zM353.5 150.9h1.2v1.2h-1.2zM353.5 151.8h1.2v1.2h-1.2zM353.5 153h1.2v1.2h-1.2zM353.5 155.1h1.2v1.2h-1.2zM353.5 156.5h1.2v1.2h-1.2zM353.5 158.5h1.2v1.2h-1.2zM353.5 160.5h1.2v1.2h-1.2zM353.5 162.7h1.2v1.2h-1.2zM353.5 164.3h1.2v1.2h-1.2zM353.5 165h1.2v1.2h-1.2zM353.5 167.1h1.2v1.2h-1.2zM353.5 168h1.2v1.2h-1.2zM353.5 168.8h1.2v1.2h-1.2zM353.5 170h1.2v1.2h-1.2zM353.5 170.9h1.2v1.2h-1.2zM353.5 171.8h1.2v1.2h-1.2zM357.7 166.3h1.2v1.2h-1.2zM357.7 167.5h1.2v1.2h-1.2zM357.7 169.1h1.2v1.2h-1.2zM357.7 170.2h1.2v1.2h-1.2zM357.7 171.6h1.2v1.2h-1.2zM370.8 172.9h1.4v1.4h-1.4zM373.8 170.9h1.4v1.4h-1.4zM370.3 169.1h1.4v1.4h-1.4zM370.7 170.3h1.4v1.4h-1.4zM371.9 169.6h1.4v1.4h-1.4zM369.6 156.3h1.4v1.4h-1.4zM377.2 171h1.4v1.4h-1.4zM375.7 172.1h1.4v1.4h-1.4zM373.4 162.8h1.4v1.4h-1.4zM371.4 166.7h1.4v1.4h-1.4zM375.4 171.6h1.4v1.4h-1.4zM373.3 172.8h1.4v1.4h-1.4zM375 169h1.4v1.4h-1.4zM371.6 170.1h1.4v1.4h-1.4zM375.3 168.3h1.4v1.4h-1.4zM377.6 169.3h1.4v1.4h-1.4zM377 165.2h1.4v1.4h-1.4zM371.4 169.2h1.4v1.4h-1.4zM372.4 172.4h1.4v1.4h-1.4zM373.3 170.6h1.4v1.4h-1.4zM373.7 170.5h1.4v1.4h-1.4zM375.4 167.9h1.4v1.4h-1.4zM373.3 171.8h1.4v1.4h-1.4zM375.4 169.3h1.4v1.4h-1.4zM376 165.9h1.4v1.4h-1.4zM376.6 172.9h1.4v1.4h-1.4zM374.8 169.4h1.4v1.4h-1.4zM375.8 172.8h1.4v1.4h-1.4zM374.2 162.7h1.4v1.4h-1.4zM375.6 172.4h1.4v1.4h-1.4zM370.8 157.6h1.4v1.4h-1.4zM375.5 171.7h1.4v1.4h-1.4zM372 167.9h1.4v1.4h-1.4zM371.4 170.9h1.4v1.4h-1.4zM377.4 164.8h1.4v1.4h-1.4zM375.6 168.7h1.4v1.4h-1.4zM375.5 170.4h1.4v1.4h-1.4zM371.3 172.4h1.4v1.4h-1.4zM377.6 170.7h1.4v1.4h-1.4zM371.3 171.9h1.4v1.4h-1.4zM371 172.1h1.4v1.4h-1.4zM375.5 171.4h1.4v1.4h-1.4zM373.1 168.5h1.4v1.4h-1.4zM370.8 172.9h1.4v1.4h-1.4zM377.3 161h1.4v1.4h-1.4zM376.7 165.1h1.4v1.4h-1.4zM373.6 172.5h1.4v1.4h-1.4zM371.4 172.3h1.4v1.4h-1.4zM373.8 170.8h1.4v1.4h-1.4zM370.9 172.1h1.4v1.4h-1.4zM374.2 171.6h1.4v1.4h-1.4zM369.6 172h1.4v1.4h-1.4zM376 165.8h1.4v1.4h-1.4zM373.7 169h1.4v1.4h-1.4zM373.3 172.9h1.4v1.4h-1.4zM372.1 172.3h1.4v1.4h-1.4zM370.2 170.6h1.4v1.4h-1.4zM373.1 172.5h1.4v1.4h-1.4zM370.7 170.1h1.4v1.4h-1.4zM376.8 172.2h1.4v1.4h-1.4zM374.1 167.8h1.4v1.4h-1.4zM372.6 166.2h1.4v1.4h-1.4zM374.6 170.9h1.4v1.4h-1.4zM373.2 165.8h1.4v1.4h-1.4zM376.5 170.7h1.4v1.4h-1.4zM373.8 169.7h1.4v1.4h-1.4zM370.7 166.1h1.4v1.4h-1.4zM371.4 170.3h1.4v1.4h-1.4zM370.4 166.2h1.4v1.4h-1.4zM376.9 168.1h1.4v1.4h-1.4zM373.8 169.7h1.4v1.4h-1.4zM375.2 156.6h1.2v1.2h-1.2zM375.2 157.7h1.2v1.2h-1.2zM375.2 158.6h1.2v1.2h-1.2zM375.2 160.5h1.2v1.2h-1.2zM375.2 161.9h1.2v1.2h-1.2zM375.2 162.5h1.2v1.2h-1.2zM375.2 164.1h1.2v1.2h-1.2zM375.2 166.1h1.2v1.2h-1.2zM375.2 168.1h1.2v1.2h-1.2zM375.2 170.2h1.2v1.2h-1.2zM375.2 172.2h1.2v1.2h-1.2zM373.8 167.2h1.2v1.2h-1.2zM373.8 168.8h1.2v1.2h-1.2zM373.8 170h1.2v1.2h-1.2zM373.8 170.7h1.2v1.2h-1.2zM373.8 172.7h1.2v1.2h-1.2zM376.7 170.4h1.2v1.2h-1.2zM376.7 171.4h1.2v1.2h-1.2zM374.9 150.5h1.2v1.2h-1.2zM374.9 151.1h1.2v1.2h-1.2zM374.9 151.9h1.2v1.2h-1.2zM374.9 153.7h1.2v1.2h-1.2zM374.9 155.7h1.2v1.2h-1.2zM374.9 156.9h1.2v1.2h-1.2zM374.9 158.9h1.2v1.2h-1.2zM374.9 159.8h1.2v1.2h-1.2zM374.9 161.3h1.2v1.2h-1.2zM374.9 162.5h1.2v1.2h-1.2zM374.9 163.9h1.2v1.2h-1.2zM374.9 164.8h1.2v1.2h-1.2zM374.9 166h1.2v1.2h-1.2zM374.9 167.4h1.2v1.2h-1.2zM374.9 168.9h1.2v1.2h-1.2zM374.9 169.8h1.2v1.2h-1.2zM374.9 171.4h1.2v1.2h-1.2zM374.9 172.3h1.2v1.2h-1.2zM371.5 168.3h1.2v1.2h-1.2zM371.5 169.4h1.2v1.2h-1.2zM371.5 170.9h1.2v1.2h-1.2zM371.5 172.2h1.2v1.2h-1.2zM370.4 166.5h1.2v1.2h-1.2zM370.4 168h1.2v1.2h-1.2zM370.4 170.2h1.2v1.2h-1.2zM370.4 172.2h1.2v1.2h-1.2zM372 165.9h1.2v1.2h-1.2zM372 167.5h1.2v1.2h-1.2zM372 169h1.2v1.2h-1.2zM372 170.3h1.2v1.2h-1.2zM372 172.1h1.2v1.2h-1.2zM376 168.3h1.2v1.2h-1.2zM376 169.4h1.2v1.2h-1.2zM376 171.5h1.2v1.2h-1.2zM391.4 161.5h1.4v1.4h-1.4zM389.5 170.2h1.4v1.4h-1.4zM388.7 163h1.4v1.4h-1.4zM391.1 150.8h1.4v1.4h-1.4zM391.9 165.2h1.4v1.4h-1.4zM391.5 156.7h1.4v1.4h-1.4zM387.3 171.2h1.4v1.4h-1.4zM392.4 168.3h1.4v1.4h-1.4zM389 169.2h1.4v1.4h-1.4zM391.5 171.9h1.4v1.4h-1.4zM389.3 167.8h1.4v1.4h-1.4zM386.8 166.7h1.4v1.4h-1.4zM391.7 171.3h1.4v1.4h-1.4zM387.8 163h1.4v1.4h-1.4zM389.6 147.4h1.4v1.4h-1.4zM388.4 171.2h1.4v1.4h-1.4zM388.5 163.8h1.4v1.4h-1.4zM388.9 165.1h1.4v1.4h-1.4zM391.1 165.6h1.4v1.4h-1.4zM387.1 167.9h1.4v1.4h-1.4zM391.9 172h1.4v1.4h-1.4zM388.1 163.4h1.4v1.4h-1.4zM387.2 166.4h1.4v1.4h-1.4zM391.6 171.6h1.4v1.4h-1.4zM392.2 171.4h1.4v1.4h-1.4zM386.3 170h1.4v1.4h-1.4zM389.4 171.8h1.4v1.4h-1.4zM390.3 167.7h1.4v1.4h-1.4zM392.5 160.6h1.4v1.4h-1.4zM391.7 151.9h1.4v1.4h-1.4zM391.4 159.7h1.4v1.4h-1.4zM387.9 168.5h1.4v1.4h-1.4zM388.1 169.5h1.4v1.4h-1.4zM386.7 171.4h1.4v1.4h-1.4zM389.4 160.8h1.4v1.4h-1.4zM391.2 171.1h1.4v1.4h-1.4zM389.6 168h1.4v1.4h-1.4zM387.5 165.2h1.4v1.4h-1.4zM390.5 167.8h1.4v1.4h-1.4zM386.8 167.7h1.4v1.4h-1.4zM390.9 169.1h1.4v1.4h-1.4zM388.6 169.2h1.4v1.4h-1.4zM386.3 164.2h1.4v1.4h-1.4zM387.9 153.6h1.4v1.4h-1.4zM391.5 170.9h1.4v1.4h-1.4zM390.3 170.5h1.4v1.4h-1.4zM388.9 160h1.4v1.4h-1.4zM387.9 161.5h1.4v1.4h-1.4zM389.7 167.8h1.4v1.4h-1.4zM391.6 171.1h1.4v1.4h-1.4zM390.1 171.8h1.4v1.4h-1.4zM391.2 155.4h1.4v1.4h-1.4zM390.5 161.4h1.4v1.4h-1.4zM389.7 167.4h1.4v1.4h-1.4zM391.2 170.6h1.4v1.4h-1.4zM389.9 171.1h1.4v1.4h-1.4zM390.9 162.8h1.4v1.4h-1.4zM390.5 163.2h1.2v1.2h-1.2zM390.5 164.9h1.2v1.2h-1.2zM390.5 165.7h1.2v1.2h-1.2zM390.5 166.8h1.2v1.2h-1.2zM390.5 167.6h1.2v1.2h-1.2zM390.5 169.4h1.2v1.2h-1.2zM390.5 170.6h1.2v1.2h-1.2zM391.1 169.6h1.2v1.2h-1.2zM391.1 171.2h1.2v1.2h-1.2zM401 171.2h1.4v1.4h-1.4zM401.8 169.3h1.4v1.4h-1.4zM401.6 171.4h1.4v1.4h-1.4zM398.4 171h1.4v1.4h-1.4zM398.6 171.7h1.4v1.4h-1.4zM399.4 169h1.4v1.4h-1.4zM398.9 170.1h1.4v1.4h-1.4zM401.5 171.5h1.4v1.4h-1.4zM399.1 163.9h1.4v1.4h-1.4zM401.6 167.9h1.4v1.4h-1.4zM398.3 168.7h1.4v1.4h-1.4zM400.6 170.8h1.4v1.4h-1.4zM401.1 171.3h1.4v1.4h-1.4zM400.6 171.6h1.4v1.4h-1.4zM398.7 170.6h1.4v1.4h-1.4zM400.7 162.6h1.4v1.4h-1.4zM399.6 163.8h1.4v1.4h-1.4zM402 166.5h1.4v1.4h-1.4zM398.3 171.8h1.4v1.4h-1.4zM401.3 171.1h1.4v1.4h-1.4zM401.2 170.7h1.4v1.4h-1.4zM400.5 170.8h1.4v1.4h-1.4zM400.3 171.5h1.4v1.4h-1.4zM400.5 169.7h1.4v1.4h-1.4zM401 168.6h1.4v1.4h-1.4zM398.3 167.6h1.4v1.4h-1.4zM398.5 168.3h1.4v1.4h-1.4zM401.3 169.7h1.4v1.4h-1.4zM398.6 166.8h1.4v1.4h-1.4zM398.3 171.5h1.4v1.4h-1.4zM401.1 165.4h1.4v1.4h-1.4zM400.7 166.5h1.4v1.4h-1.4zM400.8 171.6h1.4v1.4h-1.4zM398.5 165.3h1.2v1.2h-1.2zM398.5 166.2h1.2v1.2h-1.2zM398.5 167.1h1.2v1.2h-1.2zM398.5 168h1.2v1.2h-1.2zM398.5 169.1h1.2v1.2h-1.2zM398.5 170.3h1.2v1.2h-1.2zM398.5 171.3h1.2v1.2h-1.2zM400 169.7h1.2v1.2h-1.2zM400 171.1h1.2v1.2h-1.2zM400 171.9h1.2v1.2h-1.2zM398.6 167.9h1.2v1.2h-1.2zM398.6 170.1h1.2v1.2h-1.2zM398.6 172h1.2v1.2h-1.2zM399.8 151.8h1.2v1.2h-1.2zM399.8 153.4h1.2v1.2h-1.2zM399.8 155.6h1.2v1.2h-1.2zM399.8 156.8h1.2v1.2h-1.2zM399.8 158.8h1.2v1.2h-1.2zM399.8 160.9h1.2v1.2h-1.2zM399.8 163.1h1.2v1.2h-1.2zM399.8 164.7h1.2v1.2h-1.2zM399.8 166.2h1.2v1.2h-1.2zM399.8 168.4h1.2v1.2h-1.2zM399.8 169.7h1.2v1.2h-1.2zM399.8 171.5h1.2v1.2h-1.2z"/>
<path fill="#1b1b1b" d="M72.7 159.5h1.4v1.4h-1.4zM67.3 169.4h1.4v1.4h-1.4zM60.6 168h1.4v1.4h-1.4zM58.9 175.5h1.4v1.4h-1.4zM65.8 169h1.4v1.4h-1.4zM71.6 171.7h1.4v1.4h-1.4zM65.8 165.4h1.4v1.4h-1.4zM61.9 175.8h1.4v1.4h-1.4zM61.1 166.9h1.4v1.4h-1.4zM61.2 163.4h1.4v1.4h-1.4zM58.4 167.9h1.4v1.4h-1.4zM60.5 172.8h1.4v1.4h-1.4zM71.1 163.4h1.4v1.4h-1.4zM70.6 160.3h1.4v1.4h-1.4zM69.1 174.7h1.4v1.4h-1.4zM66.1 173.9h1.4v1.4h-1.4zM70.9 165h1.4v1.4h-1.4zM67 172.5h1.4v1.4h-1.4zM63.9 175.4h1.4v1.4h-1.4zM60.5 168.2h1.4v1.4h-1.4zM63.8 151.7h1.4v1.4h-1.4zM66.9 164.2h1.4v1.4h-1.4zM67.6 167.6h1.4v1.4h-1.4zM60.5 153.5h1.4v1.4h-1.4zM61.8 168.1h1.4v1.4h-1.4zM59.7 166.2h1.4v1.4h-1.4zM61.4 166.4h1.4v1.4h-1.4zM62.7 163.7h1.4v1.4h-1.4zM67.9 170.1h1.4v1.4h-1.4zM70.6 160.7h1.4v1.4h-1.4zM71.4 169.2h1.4v1.4h-1.4zM60.4 173.8h1.4v1.4h-1.4zM71.8 169.4h1.4v1.4h-1.4zM60.9 164.1h1.4v1.4h-1.4zM67.6 149.4h1.4v1.4h-1.4zM63.8 167.2h1.4v1.4h-1.4zM61.8 175.8h1.4v1.4h-1.4zM71 171.8h1.4v1.4h-1.4zM66.2 174.7h1.4v1.4h-1.4zM69.2 175.9h1.4v1.4h-1.4zM63.7 175.2h1.4v1.4h-1.4zM60.1 161.7h1.4v1.4h-1.4zM67.8 169.9h1.4v1.4h-1.4zM65.9 166.3h1.4v1.4h-1.4zM63.3 155.9h1.4v1.4h-1.4zM68.2 172.9h1.4v1.4h-1.4zM65.8 165.7h1.4v1.4h-1.4zM71.5 175.3h1.4v1.4h-1.4zM71.8 176h1.4v1.4h-1.4zM69.2 164.4h1.4v1.4h-1.4zM60.3 169.9h1.4v1.4h-1.4zM70.1 175.9h1.4v1.4h-1.4zM67.4 165.2h1.4v1.4h-1.4zM65.7 174.5h1.4v1.4h-1.4zM61.2 170.7h1.4v1.4h-1.4zM60.9 171h1.4v1.4h-1.4zM72 163.9h1.4v1.4h-1.4zM63.2 169.3h1.4v1.4h-1.4zM72.1 171.1h1.4v1.4h-1.4zM72.5 159.1h1.4v1.4h-1.4zM65.9 165.1h1.4v1.4h-1.4zM69.1 173.8h1.4v1.4h-1.4zM64.5 163.7h1.4v1.4h-1.4zM64.3 156.1h1.4v1.4h-1.4zM59.3 171.1h1.4v1.4h-1.4zM65.8 166.3h1.4v1.4h-1.4zM61.9 143.5h1.4v1.4h-1.4zM68.1 151.9h1.4v1.4h-1.4zM67.4 165.6h1.4v1.4h-1.4zM63.1 170.7h1.4v1.4h-1.4zM61.2 173.6h1.4v1.4h-1.4zM61.4 155.2h1.4v1.4h-1.4zM70.5 173.3h1.4v1.4h-1.4zM67.1 171.1h1.4v1.4h-1.4zM66.9 153.8h1.4v1.4h-1.4zM62.7 168.1h1.4v1.4h-1.4zM65.1 172.3h1.4v1.4h-1.4zM67.5 173.5h1.4v1.4h-1.4zM59.2 172.9h1.4v1.4h-1.4zM69.4 164.4h1.4v1.4h-1.4zM68.9 174.1h1.4v1.4h-1.4zM71.5 163.8h1.4v1.4h-1.4zM71 171.8h1.4v1.4h-1.4zM71.6 175.5h1.4v1.4h-1.4zM58.7 175.8h1.4v1.4h-1.4zM62 172h1.4v1.4h-1.4zM61 162.1h1.4v1.4h-1.4zM58.9 171.5h1.4v1.4h-1.4zM60.7 168.4h1.4v1.4h-1.4zM58.6 171h1.4v1.4h-1.4zM71.9 165.9h1.4v1.4h-1.4zM70.1 161.6h1.4v1.4h-1.4zM67.2 174.5h1.4v1.4h-1.4zM66.6 175.3h1.4v1.4h-1.4zM69.9 158h1.4v1.4h-1.4zM70.7 172.8h1.4v1.4h-1.4zM63.2 174.9h1.4v1.4h-1.4zM59.9 163.6h1.4v1.4h-1.4zM69.9 168.5h1.4v1.4h-1.4zM70.8 169h1.4v1.4h-1.4zM60.2 170.3h1.4v1.4h-1.4zM71.1 174.6h1.4v1.4h-1.4zM66.6 150.7h1.4v1.4h-1.4zM67.1 175.2h1.4v1.4h-1.4zM67.9 172.1h1.4v1.4h-1.4zM70.2 169.5h1.4v1.4h-1.4zM68.8 158.9h1.4v1.4h-1.4zM71.2 173.6h1.4v1.4h-1.4zM58.7 173.6h1.4v1.4h-1.4zM61.4 162.6h1.4v1.4h-1.4zM72 153.9h1.4v1.4h-1.4zM62 165.5h1.4v1.4h-1.4zM67.8 175.8h1.4v1.4h-1.4zM63.8 174.7h1.4v1.4h-1.4zM67.9 161.5h1.4v1.4h-1.4zM63.8 173h1.4v1.4h-1.4zM66.1 170.9h1.4v1.4h-1.4zM61.9 171.9h1.4v1.4h-1.4zM64.9 175.1h1.4v1.4h-1.4zM69.2 150.3h1.4v1.4h-1.4zM62.6 175.7h1.4v1.4h-1.4zM69.4 173.9h1.4v1.4h-1.4zM60.2 174.8h1.4v1.4h-1.4zM59.5 171.7h1.4v1.4h-1.4zM62.2 173.5h1.4v1.4h-1.4zM70.4 168.6h1.4v1.4h-1.4zM61 169.6h1.4v1.4h-1.4zM71.1 172.9h1.4v1.4h-1.4zM68.6 174.2h1.4v1.4h-1.4zM68.8 168.1h1.4v1.4h-1.4zM68.1 152.8h1.4v1.4h-1.4zM59.2 159.2h1.4v1.4h-1.4zM69.3 173.3h1.4v1.4h-1.4zM62.2 158.4h1.4v1.4h-1.4zM69.2 166.4h1.4v1.4h-1.4zM60.1 175h1.4v1.4h-1.4zM69.9 160.9h1.4v1.4h-1.4zM68.8 168h1.4v1.4h-1.4zM69.6 175.6h1.4v1.4h-1.4zM67.6 172.5h1.4v1.4h-1.4zM69.3 174.9h1.4v1.4h-1.4zM68.8 169h1.4v1.4h-1.4zM63.8 170.4h1.4v1.4h-1.4zM58.8 150.5h1.4v1.4h-1.4zM66.2 172.6h1.4v1.4h-1.4zM66.2 160.8h1.4v1.4h-1.4zM63.8 173.6h1.4v1.4h-1.4zM71.6 170.4h1.4v1.4h-1.4zM60.3 163.5h1.4v1.4h-1.4zM72.7 174.1h1.4v1.4h-1.4zM68.6 173.4h1.4v1.4h-1.4zM71.6 173h1.4v1.4h-1.4zM59.6 148.1h1.4v1.4h-1.4zM60 173.1h1.4v1.4h-1.4zM66.6 169.3h1.4v1.4h-1.4zM69.2 171.7h1.4v1.4h-1.4zM71.6 174.9h1.4v1.4h-1.4zM69.5 173.8h1.4v1.4h-1.4zM65.2 175.7h1.4v1.4h-1.4zM62.9 160.1h1.4v1.4h-1.4zM68.7 173h1.4v1.4h-1.4zM59.1 160.3h1.4v1.4h-1.4zM61.9 161.3h1.4v1.4h-1.4zM61.6 171.3h1.4v1.4h-1.4zM58.8 162.1h1.4v1.4h-1.4zM60.1 175.2h1.4v1.4h-1.4zM70.8 170.1h1.4v1.4h-1.4zM61 159.4h1.4v1.4h-1.4zM62.2 167.7h1.4v1.4h-1.4zM62.4 164h1.4v1.4h-1.4zM67.4 162.8h1.4v1.4h-1.4zM64 154.1h1.4v1.4h-1.4zM71 174.3h1.4v1.4h-1.4zM60.3 174.4h1.4v1.4h-1.4zM72.5 160.5h1.4v1.4h-1.4zM61.3 168.5h1.4v1.4h-1.4zM65.5 170.2h1.4v1.4h-1.4zM58.9 173h1.4v1.4h-1.4zM67 174.4h1.4v1.4h-1.4zM61.7 156.9h1.4v1.4h-1.4zM71.1 170.2h1.4v1.4h-1.4zM70.3 155.8h1.4v1.4h-1.4zM68.6 167.7h1.4v1.4h-1.4zM68.2 174.1h1.4v1.4h-1.4zM62.7 175.4h1.4v1.4h-1.4zM69.3 175h1.4v1.4h-1.4zM71.6 167.9h1.4v1.4h-1.4zM63.1 160h1.4v1.4h-1.4zM60.5 170.6h1.4v1.4h-1.4zM59.6 168.1h1.4v1.4h-1.4zM66.6 156.6h1.4v1.4h-1.4zM62.4 160.2h1.4v1.4h-1.4zM68.5 158.6h1.4v1.4h-1.4zM72.1 166.2h1.4v1.4h-1.4zM64.3 158.7h1.4v1.4h-1.4zM70.4 172.4h1.4v1.4h-1.4zM68 172.3h1.4v1.4h-1.4zM66.3 170.2h1.4v1.4h-1.4zM59.2 172.2h1.4v1.4h-1.4zM58.5 158.4h1.4v1.4h-1.4zM65.1 172.5h1.4v1.4h-1.4zM68.7 164.1h1.4v1.4h-1.4zM68.9 172.2h1.4v1.4h-1.4zM66.5 167.5h1.4v1.4h-1.4zM71.8 175.2h1.4v1.4h-1.4zM64.9 168.3h1.4v1.4h-1.4zM66.3 175.5h1.4v1.4h-1.4zM66.9 174.5h1.4v1.4h-1.4zM61.1 157.1h1.4v1.4h-1.4zM61.2 165.3h1.4v1.4h-1.4zM69.2 167.3h1.4v1.4h-1.4zM66.3 152.6h1.4v1.4h-1.4zM65.1 169.7h1.4v1.4h-1.4zM70.2 169.9h1.4v1.4h-1.4zM63.3 162h1.2v1.2h-1.2zM63.3 163.2h1.2v1.2h-1.2zM63.3 165.1h1.2v1.2h-1.2zM63.3 167h1.2v1.2h-1.2zM63.3 168.3h1.2v1.2h-1.2zM63.3 170.1h1.2v1.2h-1.2zM63.3 170.7h1.2v1.2h-1.2zM63.3 171.9h1.2v1.2h-1.2zM63.3 173.9h1.2v1.2h-1.2zM63.3 175.4h1.2v1.2h-1.2zM68.1 167.8h1.2v1.2h-1.2zM68.1 169.3h1.2v1.2h-1.2zM68.1 170.6h1.2v1.2h-1.2zM68.1 171.5h1.2v1.2h-1.2zM68.1 172.5h1.2v1.2h-1.2zM68.1 173.6h1.2v1.2h-1.2zM68.1 174.9h1.2v1.2h-1.2zM63.5 162.7h1.2v1.2h-1.2zM63.5 163.9h1.2v1.2h-1.2zM63.5 165.4h1.2v1.2h-1.2zM63.5 167.5h1.2v1.2h-1.2zM63.5 169.6h1.2v1.2h-1.2zM63.5 170.8h1.2v1.2h-1.2zM63.5 171.8h1.2v1.2h-1.2zM63.5 173.8h1.2v1.2h-1.2zM63.5 175.2h1.2v1.2h-1.2zM59.4 159.5h1.2v1.2h-1.2zM59.4 160.6h1.2v1.2h-1.2zM59.4 162h1.2v1.2h-1.2zM59.4 162.9h1.2v1.2h-1.2zM59.4 164.2h1.2v1.2h-1.2zM59.4 166.1h1.2v1.2h-1.2zM59.4 168.1h1.2v1.2h-1.2zM59.4 169.4h1.2v1.2h-1.2zM59.4 171.2h1.2v1.2h-1.2zM59.4 172.6h1.2v1.2h-1.2zM59.4 173.8h1.2v1.2h-1.2zM59.4 175.2h1.2v1.2h-1.2zM63 157h1.2v1.2h-1.2zM63 158.8h1.2v1.2h-1.2zM63 159.5h1.2v1.2h-1.2zM63 161.3h1.2v1.2h-1.2zM63 163.2h1.2v1.2h-1.2zM63 164.5h1.2v1.2h-1.2zM63 165.2h1.2v1.2h-1.2zM63 166.9h1.2v1.2h-1.2zM63 167.9h1.2v1.2h-1.2zM63 169.5h1.2v1.2h-1.2zM63 170.7h1.2v1.2h-1.2zM63 172.3h1.2v1.2h-1.2zM63 173.3h1.2v1.2h-1.2zM63 174.7h1.2v1.2h-1.2zM67.6 171.5h1.2v1.2h-1.2zM67.6 173.7h1.2v1.2h-1.2zM67.6 174.7h1.2v1.2h-1.2zM67.6 175.8h1.2v1.2h-1.2zM59.3 152.6h1.2v1.2h-1.2zM59.3 154.5h1.2v1.2h-1.2zM59.3 156.2h1.2v1.2h-1.2zM59.3 157.1h1.2v1.2h-1.2zM59.3 157.9h1.2v1.2h-1.2zM59.3 159h1.2v1.2h-1.2zM59.3 160.9h1.2v1.2h-1.2zM59.3 162.3h1.2v1.2h-1.2zM59.3 164.3h1.2v1.2h-1.2zM59.3 166h1.2v1.2h-1.2zM59.3 167.6h1.2v1.2h-1.2zM59.3 169.4h1.2v1.2h-1.2zM59.3 171.2h1.2v1.2h-1.2zM59.3 172.4h1.2v1.2h-1.2zM59.3 173.4h1.2v1.2h-1.2zM59.3 174.7h1.2v1.2h-1.2zM60.4 164.7h1.2v1.2h-1.2zM60.4 166.3h1.2v1.2h-1.2zM60.4 167.1h1.2v1.2h-1.2zM60.4 167.9h1.2v1.2h-1.2zM60.4 168.8h1.2v1.2h-1.2zM60.4 169.9h1.2v1.2h-1.2zM60.4 172h1.2v1.2h-1.2zM60.4 172.7h1.2v1.2h-1.2zM60.4 173.5h1.2v1.2h-1.2zM60.4 174.4h1.2v1.2h-1.2zM60.4 175.8h1.2v1.2h-1.2zM81 172.7h1.4v1.4h-1.4zM77.3 174.4h1.4v1.4h-1.4zM78.4 167.9h1.4v1.4h-1.4zM81.3 174.4h1.4v1.4h-1.4zM86.3 160.3h1.4v1.4h-1.4zM85.8 174h1.4v1.4h-1.4zM76.4 168.7h1.4v1.4h-1.4zM79.1 173.9h1.4v1.4h-1.4zM85.2 146.1h1.4v1.4h-1.4zM78.7 169.8h1.4v1.4h-1.4zM86.7 167.6h1.4v1.4h-1.4zM84.1 173.5h1.4v1.4h-1.4zM85.4 174.3h1.4v1.4h-1.4zM82.1 175.9h1.4v1.4h-1.4zM82.5 172h1.4v1.4h-1.4zM77.3 168.3h1.4v1.4h-1.4zM84.8 175h1.4v1.4h-1.4zM79.8 152.6h1.4v1.4h-1.4zM81.4 160.4h1.4v1.4h-1.4zM79.6 171.7h1.4v1.4h-1.4zM83.4 155.8h1.4v1.4h-1.4zM80.6 173h1.4v1.4h-1.4zM84.1 158.8h1.4v1.4h-1.4zM76.7 151.1h1.4v1.4h-1.4zM84.2 173h1.4v1.4h-1.4zM84.4 168.4h1.4v1.4h-1.4zM81.6 169.7h1.4v1.4h-1.4zM81.3 167.9h1.4v1.4h-1.4zM79.8 173.4h1.4v1.4h-1.4zM78.8 170.3h1.4v1.4h-1.4zM78.3 173.3h1.4v1.4h-1.4zM81.5 172.8h1.4v1.4h-1.4zM84.5 149.5h1.4v1.4h-1.4zM79.4 171.9h1.4v1.4h-1.4zM82 173.5h1.4v1.4h-1.4zM77.8 147.9h1.4v1.4h-1.4zM81.6 165.5h1.4v1.4h-1.4zM77.1 169.9h1.4v1.4h-1.4zM85.9 166.5h1.4v1.4h-1.4zM76.5 171h1.4v1.4h-1.4zM80.5 165.9h1.4v1.4h-1.4zM77.2 169.3h1.4v1.4h-1.4zM85.3 170.1h1.4v1.4h-1.4zM81.4 154.3h1.4v1.4h-1.4zM79.9 173.9h1.4v1.4h-1.4zM80.7 173.6h1.4v1.4h-1.4zM77.3 169.3h1.4v1.4h-1.4zM86.9 168.5h1.4v1.4h-1.4zM83.5 168.9h1.4v1.4h-1.4zM82.7 146.2h1.4v1.4h-1.4zM82.9 171.4h1.4v1.4h-1.4zM82.5 175.5h1.4v1.4h-1.4zM82.8 166.1h1.4v1.4h-1.4zM78.2 164.5h1.4v1.4h-1.4zM85.4 170.8h1.4v1.4h-1.4zM82.4 172.5h1.4v1.4h-1.4zM80.8 172.1h1.4v1.4h-1.4zM80.5 161.1h1.4v1.4h-1.4zM84 156.3h1.4v1.4h-1.4zM77.6 160.6h1.4v1.4h-1.4zM86.6 174.4h1.4v1.4h-1.4zM79.1 172.1h1.4v1.4h-1.4zM85.7 165.2h1.4v1.4h-1.4zM76.9 170.7h1.4v1.4h-1.4zM78.5 172.3h1.4v1.4h-1.4zM86.5 174.5h1.4v1.4h-1.4zM78.3 173.3h1.4v1.4h-1.4zM82.2 158.5h1.4v1.4h-1.4zM81.2 174.5h1.4v1.4h-1.4zM80.3 165h1.4v1.4h-1.4zM84.7 175.1h1.4v1.4h-1.4zM85.3 168.7h1.4v1.4h-1.4zM85 176h1.4v1.4h-1.4zM86 173.4h1.4v1.4h-1.4zM81.4 170h1.4v1.4h-1.4zM82 174h1.4v1.4h-1.4zM77.9 173.8h1.4v1.4h-1.4zM77 164.5h1.4v1.4h-1.4zM77.8 167.4h1.4v1.4h-1.4zM80.3 173.5h1.4v1.4h-1.4zM79.5 175.2h1.4v1.4h-1.4zM80 171h1.4v1.4h-1.4zM79.2 173.4h1.4v1.4h-1.4zM84.7 170.5h1.4v1.4h-1.4zM86.2 154h1.4v1.4h-1.4zM79.8 167.6h1.4v1.4h-1.4zM79.2 172.8h1.4v1.4h-1.4zM81.2 160.9h1.4v1.4h-1.4zM86.7 173h1.4v1.4h-1.4zM84.2 171.9h1.4v1.4h-1.4zM77.8 158.7h1.4v1.4h-1.4zM84.1 173.6h1.4v1.4h-1.4zM86.4 175.6h1.4v1.4h-1.4zM77.4 164.4h1.4v1.4h-1.4zM86.7 175.6h1.4v1.4h-1.4zM86.5 165.7h1.4v1.4h-1.4zM77.1 166.7h1.4v1.4h-1.4zM81.4 172.3h1.4v1.4h-1.4zM84.5 166.3h1.4v1.4h-1.4zM87.4 173.9h1.4v1.4h-1.4zM85.3 155h1.4v1.4h-1.4zM85 148.5h1.4v1.4h-1.4zM87.3 174.1h1.4v1.4h-1.4zM81.4 169.7h1.4v1.4h-1.4zM86.8 162.3h1.4v1.4h-1.4zM86.7 170h1.4v1.4h-1.4zM80.5 171.5h1.4v1.4h-1.4zM81.6 168.8h1.4v1.4h-1.4zM80.6 175.5h1.4v1.4h-1.4zM77.9 175.4h1.4v1.4h-1.4zM84.7 169.6h1.4v1.4h-1.4zM83.8 168.8h1.4v1.4h-1.4zM78.9 170.9h1.4v1.4h-1.4zM79.5 166h1.4v1.4h-1.4zM84.8 173.5h1.4v1.4h-1.4zM80 174.4h1.4v1.4h-1.4zM78.5 175.2h1.4v1.4h-1.4zM84.1 143.8h1.4v1.4h-1.4zM79.7 165.9h1.4v1.4h-1.4zM76.8 168.6h1.4v1.4h-1.4zM82.8 174.3h1.4v1.4h-1.4zM80.2 169h1.4v1.4h-1.4zM82.9 174.8h1.4v1.4h-1.4zM84.2 175.2h1.4v1.4h-1.4zM87.1 174.9h1.4v1.4h-1.4zM79.2 174.6h1.4v1.4h-1.4zM87.3 169.8h1.4v1.4h-1.4zM83.1 162.8h1.4v1.4h-1.4zM86.9 175h1.4v1.4h-1.4zM82.1 162.1h1.4v1.4h-1.4zM84.1 170.6h1.4v1.4h-1.4zM80 176h1.4v1.4h-1.4zM76.8 174.1h1.4v1.4h-1.4zM77.2 166.8h1.4v1.4h-1.4zM80.1 174.7h1.4v1.4h-1.4zM76.7 146.5h1.4v1.4h-1.4zM81.2 175.3h1.4v1.4h-1.4zM84.2 175.5h1.4v1.4h-1.4zM79.1 153.8h1.4v1.4h-1.4zM77.4 172.5h1.4v1.4h-1.4zM76.7 174.2h1.4v1.4h-1.4zM76.7 175.5h1.4v1.4h-1.4zM83.4 175.6h1.4v1.4h-1.4zM78.1 159h1.4v1.4h-1.4zM80.1 167.2h1.4v1.4h-1.4zM77.4 172.4h1.4v1.4h-1.4zM83.8 171.3h1.4v1.4h-1.4zM83.2 174.7h1.4v1.4h-1.4zM79.3 170.9h1.4v1.4h-1.4zM86.9 171.4h1.4v1.4h-1.4zM83.4 168.8h1.4v1.4h-1.4zM76.6 165h1.4v1.4h-1.4zM77.1 174.5h1.4v1.4h-1.4zM84 169.8h1.4v1.4h-1.4zM85.1 175h1.4v1.4h-1.4zM78.3 175.7h1.4v1.4h-1.4zM85.8 166.4h1.4v1.4h-1.4zM79.1 149.9h1.4v1.4h-1.4zM80.8 170.8h1.4v1.4h-1.4zM82 175.8h1.4v1.4h-1.4zM81.3 171.4h1.4v1.4h-1.4zM84.2 149.4h1.4v1.4h-1.4zM86 167.7h1.4v1.4h-1.4zM79.9 171.5h1.4v1.4h-1.4zM86.7 171.3h1.4v1.4h-1.4zM77.5 174.2h1.4v1.4h-1.4zM87.3 160.4h1.4v1.4h-1.4zM87.1 160.7h1.2v1.2h-1.2zM87.1 161.5h1.2v1.2h-1.2zM87.1 162.4h1.2v1.2h-1.2zM87.1 163.6h1.2v1.2h-1.2zM87.1 165.6h1.2v1.2h-1.2zM87.1 167.2h1.2v1.2h-1.2zM87.1 168.9h1.2v1.2h-1.2zM87.1 170.5h1.2v1.2h-1.2zM87.1 171.4h1.2v1.2h-1.2zM87.1 173.3h1.2v1.2h-1.2zM87.1 173.9h1.2v1.2h-1.2zM87.1 175.7h1.2v1.2h-1.2zM81.7 163.2h1.2v1.2h-1.2zM81.7 164.6h1.2v1.2h-1.2zM81.7 165.3h1.2v1.2h-1.2zM81.7 166.6h1.2v1.2h-1.2zM81.7 168.3h1.2v1.2h-1.2zM81.7 169h1.2v1.2h-1.2zM81.7 170h1.2v1.2h-1.2zM81.7 170.6h1.2v1.2h-1.2zM81.7 172.1h1.2v1.2h-1.2zM81.7 173.3h1.2v1.2h-1.2zM81.7 174.7h1.2v1.2h-1.2zM81.7 175.7h1.2v1.2h-1.2zM78.3 165h1.2v1.2h-1.2zM78.3 167.1h1.2v1.2h-1.2zM78.3 168.5h1.2v1.2h-1.2zM78.3 169.9h1.2v1.2h-1.2zM78.3 171.8h1.2v1.2h-1.2zM78.3 172.9h1.2v1.2h-1.2zM78.3 174.8h1.2v1.2h-1.2zM78.3 175.9h1.2v1.2h-1.2zM119.3 151.2h1.4v1.4h-1.4zM130.9 171.1h1.4v1.4h-1.4zM123.9 171.1h1.4v1.4h-1.4zM137.5 173.5h1.4v1.4h-1.4zM138.6 165.2h1.4v1.4h-1.4zM127.4 164.6h1.4v1.4h-1.4zM123.3 171h1.4v1.4h-1.4zM138.9 173.9h1.4v1.4h-1.4zM137.4 165.7h1.4v1.4h-1.4zM119.4 172.4h1.4v1.4h-1.4zM136.2 161.4h1.4v1.4h-1.4zM126.3 154.6h1.4v1.4h-1.4zM123.9 160.9h1.4v1.4h-1.4zM121.7 155.4h1.4v1.4h-1.4zM121 170.2h1.4v1.4h-1.4zM136.9 169.7h1.4v1.4h-1.4zM134.5 164h1.4v1.4h-1.4zM133.2 170.4h1.4v1.4h-1.4zM135.3 171.6h1.4v1.4h-1.4zM125.3 171.2h1.4v1.4h-1.4zM121.7 171.3h1.4v1.4h-1.4zM134.3 169.9h1.4v1.4h-1.4zM127.7 170.3h1.4v1.4h-1.4zM123.9 166.1h1.4v1.4h-1.4zM132.6 167.4h1.4v1.4h-1.4zM119.9 153.3h1.4v1.4h-1.4zM142.2 167.7h1.4v1.4h-1.4zM136 151.9h1.4v1.4h-1.4zM134.2 171.1h1.4v1.4h-1.4zM133.6 141.3h1.4v1.4h-1.4zM121.5 171h1.4v1.4h-1.4zM119.5 168.6h1.4v1.4h-1.4zM120.1 161.5h1.4v1.4h-1.4zM135.2 173.9h1.4v1.4h-1.4zM135.1 171.6h1.4v1.4h-1.4zM130.8 166.3h1.4v1.4h-1.4zM133.9 165.8h1.4v1.4h-1.4zM120.5 173.3h1.4v1.4h-1.4zM138.9 170.8h1.4v1.4h-1.4zM138.5 167.5h1.4v1.4h-1.4zM132.5 153h1.4v1.4h-1.4zM136.2 170.6h1.4v1.4h-1.4zM130.6 171h1.4v1.4h-1.4zM134.5 171.9h1.4v1.4h-1.4zM119.6 173h1.4v1.4h-1.4zM123.2 162.8h1.4v1.4h-1.4zM129.4 172.8h1.4v1.4h-1.4zM129.9 167h1.4v1.4h-1.4zM130.9 170h1.4v1.4h-1.4zM122.5 166.3h1.4v1.4h-1.4zM130.3 163.7h1.4v1.4h-1.4zM125 161.8h1.4v1.4h-1.4zM126.4 167.2h1.4v1.4h-1.4zM125.1 162.1h1.4v1.4h-1.4zM127.8 170.9h1.4v1.4h-1.4zM140.7 166.7h1.4v1.4h-1.4zM136.2 164.5h1.4v1.4h-1.4zM138.7 166.3h1.4v1.4h-1.4zM142.1 155.2h1.4v1.4h-1.4zM138.5 165.6h1.4v1.4h-1.4zM136.2 171h1.4v1.4h-1.4zM142.1 157.3h1.4v1.4h-1.4zM122.3 168.7h1.4v1.4h-1.4zM132.5 161.2h1.4v1.4h-1.4zM122.5 157.5h1.4v1.4h-1.4zM127.1 167.4h1.4v1.4h-1.4zM127.5 172.2h1.4v1.4h-1.4zM121.1 162.7h1.4v1.4h-1.4zM137.1 165.2h1.4v1.4h-1.4zM127.5 144.5h1.4v1.4h-1.4zM125.9 156.3h1.4v1.4h-1.4zM140.5 173.6h1.4v1.4h-1.4zM139.1 155.8h1.4v1.4h-1.4zM135.4 163.7h1.4v1.4h-1.4zM131.6 156.6h1.4v1.4h-1.4zM127.6 162.8h1.4v1.4h-1.4zM140.1 171.1h1.4v1.4h-1.4zM137.1 172.7h1.4v1.4h-1.4zM123.3 169.1h1.4v1.4h-1.4zM132.4 165.4h1.4v1.4h-1.4zM124.7 171.7h1.4v1.4h-1.4zM126.6 144.7h1.4v1.4h-1.4zM119.5 168h1.4v1.4h-1.4zM133.1 173.7h1.4v1.4h-1.4zM125.9 147.2h1.4v1.4h-1.4zM142.3 159.2h1.4v1.4h-1.4zM123 164.8h1.4v1.4h-1.4zM123 155.8h1.4v1.4h-1.4zM140.6 171.4h1.4v1.4h-1.4zM120.5 155.4h1.4v1.4h-1.4zM142.1 172h1.4v1.4h-1.4zM124.3 158.4h1.4v1.4h-1.4zM135.3 167.3h1.4v1.4h-1.4zM127.2 168.6h1.4v1.4h-1.4zM125.9 171.7h1.4v1.4h-1.4zM125 173.9h1.4v1.4h-1.4zM136 155.8h1.4v1.4h-1.4zM128.5 170.4h1.4v1.4h-1.4zM124.2 164h1.4v1.4h-1.4zM135.6 168.9h1.4v1.4h-1.4zM130.5 150.3h1.4v1.4h-1.4zM139.3 169.8h1.4v1.4h-1.4zM135 166.7h1.4v1.4h-1.4zM141.1 169.3h1.4v1.4h-1.4zM139.9 171.7h1.4v1.4h-1.4zM142 173.2h1.4v1.4h-1.4zM131.4 173.1h1.4v1.4h-1.4zM123.4 171.8h1.4v1.4h-1.4zM120.5 166.9h1.4v1.4h-1.4zM123.5 152.7h1.4v1.4h-1.4zM120.9 167.9h1.4v1.4h-1.4zM139 171h1.4v1.4h-1.4zM135.5 164.2h1.4v1.4h-1.4zM136.4 161.6h1.4v1.4h-1.4zM135.7 173.3h1.4v1.4h-1.4zM121 164.8h1.4v1.4h-1.4zM133.3 163.4h1.4v1.4h-1.4zM119.2 169.6h1.4v1.4h-1.4zM121.1 170.8h1.4v1.4h-1.4zM127 155.2h1.4v1.4h-1.4zM121.2 166h1.4v1.4h-1.4zM121.3 171.7h1.4v1.4h-1.4zM132.1 172.7h1.4v1.4h-1.4zM141.5 164.4h1.4v1.4h-1.4zM126.9 159.3h1.4v1.4h-1.4zM127.9 171.7h1.4v1.4h-1.4zM142 172.6h1.4v1.4h-1.4zM136.2 163.6h1.4v1.4h-1.4zM128.9 172.5h1.4v1.4h-1.4zM120.1 165.8h1.4v1.4h-1.4zM121.4 164.9h1.4v1.4h-1.4zM124.2 168.6h1.4v1.4h-1.4zM126.7 171.7h1.4v1.4h-1.4zM140.9 155.1h1.4v1.4h-1.4zM134.2 164.4h1.4v1.4h-1.4zM138.2 167.4h1.4v1.4h-1.4zM120.8 167.9h1.4v1.4h-1.4zM123 173.9h1.4v1.4h-1.4zM140.5 166.7h1.4v1.4h-1.4zM128.7 171.7h1.4v1.4h-1.4zM136.8 166.2h1.4v1.4h-1.4zM123.1 158.8h1.4v1.4h-1.4zM141.2 169.1h1.4v1.4h-1.4zM138.3 166.9h1.4v1.4h-1.4zM126 168.2h1.4v1.4h-1.4zM122.5 162.2h1.4v1.4h-1.4zM120.5 174h1.4v1.4h-1.4zM135.7 170.4h1.4v1.4h-1.4zM135.3 162.6h1.4v1.4h-1.4zM138.5 153.3h1.4v1.4h-1.4zM138.8 161.2h1.4v1.4h-1.4zM140.7 173.7h1.4v1.4h-1.4zM125.3 172.6h1.4v1.4h-1.4zM124.9 170.3h1.4v1.4h-1.4zM139.4 172.6h1.4v1.4h-1.4zM123.3 166.9h1.4v1.4h-1.4zM124.2 169.1h1.4v1.4h-1.4zM141.6 170.1h1.4v1.4h-1.4zM129.5 170.9h1.4v1.4h-1.4zM125.3 155.1h1.4v1.4h-1.4zM137.5 172.5h1.4v1.4h-1.4zM135.5 165.6h1.4v1.4h-1.4zM135.8 168.3h1.4v1.4h-1.4zM122 173.9h1.4v1.4h-1.4zM125.9 166.2h1.4v1.4h-1.4zM139.9 169.4h1.4v1.4h-1.4zM136.5 171.8h1.4v1.4h-1.4zM127.3 167.8h1.4v1.4h-1.4zM142.1 169.2h1.4v1.4h-1.4zM137.2 162.7h1.4v1.4h-1.4zM142.3 171.3h1.4v1.4h-1.4zM134.3 168.9h1.4v1.4h-1.4zM129.9 170.5h1.4v1.4h-1.4zM125.5 173.4h1.4v1.4h-1.4zM136.9 168.6h1.4v1.4h-1.4zM138.7 168h1.4v1.4h-1.4zM124.5 164.4h1.4v1.4h-1.4zM140.9 165.1h1.4v1.4h-1.4zM123.7 166.9h1.4v1.4h-1.4zM141.4 166.7h1.4v1.4h-1.4zM140 154.3h1.4v1.4h-1.4zM125.1 166.1h1.4v1.4h-1.4zM137.4 166.6h1.4v1.4h-1.4zM128.2 172.6h1.4v1.4h-1.4zM124.6 163.1h1.4v1.4h-1.4zM140.5 171.5h1.4v1.4h-1.4zM139.5 170.4h1.4v1.4h-1.4zM129.5 168.4h1.4v1.4h-1.4zM124.2 173.3h1.4v1.4h-1.4zM125.2 173.5h1.4v1.4h-1.4zM131.1 171.5h1.4v1.4h-1.4zM137.3 168.7h1.4v1.4h-1.4zM129.4 142.3h1.4v1.4h-1.4zM122.2 157.2h1.4v1.4h-1.4zM132.2 170.9h1.4v1.4h-1.4zM139.9 163.8h1.4v1.4h-1.4zM121.8 151.7h1.4v1.4h-1.4zM131.9 155h1.4v1.4h-1.4zM122.7 170.3h1.4v1.4h-1.4zM135.4 163.7h1.4v1.4h-1.4zM137.9 171.1h1.4v1.4h-1.4zM138.5 155.5h1.4v1.4h-1.4zM134.6 164h1.4v1.4h-1.4zM128.5 160.9h1.4v1.4h-1.4zM139.6 166.3h1.4v1.4h-1.4zM127.9 148.7h1.4v1.4h-1.4zM123.1 165.6h1.4v1.4h-1.4zM139.8 172h1.4v1.4h-1.4zM136.4 156.2h1.4v1.4h-1.4zM119.9 164.7h1.4v1.4h-1.4zM130.2 170.2h1.4v1.4h-1.4zM119.7 166.2h1.4v1.4h-1.4zM126.9 172.8h1.4v1.4h-1.4zM123.6 167.8h1.4v1.4h-1.4zM128.3 151.9h1.4v1.4h-1.4zM135.9 173.3h1.4v1.4h-1.4zM120.5 168.2h1.4v1.4h-1.4zM140.9 148.5h1.4v1.4h-1.4zM140.6 165.8h1.4v1.4h-1.4zM133.2 167.6h1.4v1.4h-1.4zM127.3 172.9h1.4v1.4h-1.4zM124.2 160.6h1.4v1.4h-1.4zM130.9 173.2h1.4v1.4h-1.4zM128.2 173.4h1.4v1.4h-1.4zM133.8 168.3h1.4v1.4h-1.4zM133.4 168.8h1.4v1.4h-1.4zM133.4 173.3h1.4v1.4h-1.4zM127.8 161.9h1.4v1.4h-1.4zM141.1 170.8h1.4v1.4h-1.4zM119.2 169.3h1.4v1.4h-1.4zM139.1 161.3h1.4v1.4h-1.4zM138.1 159.5h1.4v1.4h-1.4zM140.2 171.8h1.4v1.4h-1.4zM129.4 146.5h1.4v1.4h-1.4zM124 169.6h1.4v1.4h-1.4zM125.1 155.1h1.4v1.4h-1.4zM128.9 162.5h1.4v1.4h-1.4zM133.8 145.4h1.4v1.4h-1.4zM119.5 168.6h1.4v1.4h-1.4zM135.6 168.4h1.4v1.4h-1.4zM133.7 161.3h1.4v1.4h-1.4zM120.4 145h1.4v1.4h-1.4zM139.5 172.4h1.4v1.4h-1.4zM135.5 171.9h1.4v1.4h-1.4zM134.6 166.5h1.4v1.4h-1.4zM131.6 171.2h1.4v1.4h-1.4zM119 172.2h1.4v1.4h-1.4zM138.5 171.9h1.4v1.4h-1.4zM120.7 167.8h1.4v1.4h-1.4zM131.1 167.9h1.4v1.4h-1.4zM139.5 167h1.4v1.4h-1.4zM141.7 171.2h1.4v1.4h-1.4zM129.5 173h1.4v1.4h-1.4zM141.4 169.7h1.4v1.4h-1.4zM133.6 171.5h1.4v1.4h-1.4zM138.1 172.2h1.4v1.4h-1.4zM128.8 171.5h1.4v1.4h-1.4zM139.1 169h1.4v1.4h-1.4zM133.8 167.9h1.4v1.4h-1.4zM123.1 165.2h1.4v1.4h-1.4zM136.2 170.3h1.4v1.4h-1.4zM133.3 166.2h1.4v1.4h-1.4zM131 169.3h1.4v1.4h-1.4zM132.2 160.5h1.4v1.4h-1.4zM128.7 167.1h1.4v1.4h-1.4zM139.1 170.2h1.4v1.4h-1.4zM140 153.4h1.4v1.4h-1.4zM121.5 170h1.4v1.4h-1.4zM134.4 172.3h1.4v1.4h-1.4zM128.9 168.3h1.4v1.4h-1.4zM123.5 172.6h1.4v1.4h-1.4zM120.1 168.2h1.4v1.4h-1.4zM126.6 172.4h1.4v1.4h-1.4zM140.9 157.5h1.4v1.4h-1.4zM138 166.8h1.4v1.4h-1.4zM141.3 173.4h1.4v1.4h-1.4zM128 167.7h1.4v1.4h-1.4zM129.9 149.1h1.4v1.4h-1.4zM123.3 173.3h1.4v1.4h-1.4zM140 159.5h1.4v1.4h-1.4zM130.9 167.5h1.4v1.4h-1.4zM124.1 155.6h1.4v1.4h-1.4zM128.3 173.1h1.4v1.4h-1.4zM124.5 151.9h1.4v1.4h-1.4zM129.9 169.2h1.4v1.4h-1.4zM120.2 173.8h1.4v1.4h-1.4zM122.6 167.1h1.4v1.4h-1.4zM137.3 163.9h1.4v1.4h-1.4zM133.4 164.5h1.4v1.4h-1.4zM119.5 156.9h1.4v1.4h-1.4zM142.3 173.1h1.4v1.4h-1.4zM141.2 173h1.4v1.4h-1.4zM124.2 174h1.4v1.4h-1.4zM124.1 169.9h1.4v1.4h-1.4zM129.3 172.2h1.4v1.4h-1.4zM131.8 163.7h1.4v1.4h-1.4zM119.8 170.6h1.4v1.4h-1.4zM141.5 173.7h1.4v1.4h-1.4zM136.2 152.3h1.4v1.4h-1.4zM135.5 163.5h1.4v1.4h-1.4zM127.7 165.1h1.4v1.4h-1.4zM140.3 171h1.4v1.4h-1.4zM121 173.5h1.4v1.4h-1.4zM139.6 172.9h1.4v1.4h-1.4zM121.8 169.9h1.4v1.4h-1.4zM138.8 164.1h1.4v1.4h-1.4zM122.6 170.7h1.4v1.4h-1.4zM125.2 173.6h1.4v1.4h-1.4zM141.6 163.8h1.4v1.4h-1.4zM122.2 167.2h1.4v1.4h-1.4zM142.1 167h1.4v1.4h-1.4zM124.9 171.7h1.4v1.4h-1.4zM131.3 169.4h1.4v1.4h-1.4zM139.6 168.3h1.4v1.4h-1.4zM132.7 171.4h1.4v1.4h-1.4zM131.1 173.9h1.4v1.4h-1.4zM121.6 172.1h1.4v1.4h-1.4zM126.1 165.3h1.4v1.4h-1.4zM135.5 172.2h1.4v1.4h-1.4zM121.6 167.7h1.4v1.4h-1.4zM134.7 172.9h1.4v1.4h-1.4zM135.9 163.7h1.4v1.4h-1.4zM131.9 169.4h1.4v1.4h-1.4zM120.9 167.7h1.4v1.4h-1.4zM136.4 173.7h1.4v1.4h-1.4zM131.4 169.4h1.4v1.4h-1.4zM129.1 158.7h1.4v1.4h-1.4zM134.5 162.8h1.4v1.4h-1.4zM125.4 170.1h1.4v1.4h-1.4zM134.4 162h1.4v1.4h-1.4zM139.3 156.5h1.4v1.4h-1.4zM141.9 169.2h1.4v1.4h-1.4zM140.1 171.4h1.4v1.4h-1.4zM135.6 172.7h1.4v1.4h-1.4zM125.5 166.9h1.2v1.2h-1.2zM125.5 168.2h1.2v1.2h-1.2zM125.5 169.1h1.2v1.2h-1.2zM125.5 171h1.2v1.2h-1.2zM125.5 173.2h1.2v1.2h-1.2zM125.5 173.9h1.2v1.2h-1.2zM119.1 160.5h1.2v1.2h-1.2zM119.1 161.3h1.2v1.2h-1.2zM119.1 162.9h1.2v1.2h-1.2zM119.1 164h1.2v1.2h-1.2zM119.1 164.9h1.2v1.2h-1.2zM119.1 165.9h1.2v1.2h-1.2zM119.1 167.6h1.2v1.2h-1.2zM119.1 168.3h1.2v1.2h-1.2zM119.1 170.3h1.2v1.2h-1.2zM119.1 171.8h1.2v1.2h-1.2zM119.1 172.7h1.2v1.2h-1.2zM119.1 173.7h1.2v1.2h-1.2zM133.9 165h1.2v1.2h-1.2zM133.9 166.2h1.2v1.2h-1.2zM133.9 167.5h1.2v1.2h-1.2zM133.9 169.6h1.2v1.2h-1.2zM133.9 171h1.2v1.2h-1.2zM133.9 173h1.2v1.2h-1.2zM132.3 162.2h1.2v1.2h-1.2zM132.3 163.9h1.2v1.2h-1.2zM132.3 165.3h1.2v1.2h-1.2zM132.3 167.1h1.2v1.2h-1.2zM132.3 168h1.2v1.2h-1.2zM132.3 169.1h1.2v1.2h-1.2zM132.3 171.1h1.2v1.2h-1.2zM132.3 172.3h1.2v1.2h-1.2zM141.1 160.6h1.2v1.2h-1.2zM141.1 161.4h1.2v1.2h-1.2zM141.1 163.2h1.2v1.2h-1.2zM141.1 164.9h1.2v1.2h-1.2zM141.1 165.9h1.2v1.2h-1.2zM141.1 167.9h1.2v1.2h-1.2zM141.1 169.3h1.2v1.2h-1.2zM141.1 170h1.2v1.2h-1.2zM141.1 170.7h1.2v1.2h-1.2zM141.1 171.7h1.2v1.2h-1.2zM141.1 173.2h1.2v1.2h-1.2zM121.3 171.7h1.2v1.2h-1.2zM121.3 173.3h1.2v1.2h-1.2zM129.4 154.5h1.2v1.2h-1.2zM129.4 156.6h1.2v1.2h-1.2zM129.4 158.8h1.2v1.2h-1.2zM129.4 160.6h1.2v1.2h-1.2zM129.4 161.2h1.2v1.2h-1.2zM129.4 162.1h1.2v1.2h-1.2zM129.4 163.6h1.2v1.2h-1.2zM129.4 165.7h1.2v1.2h-1.2zM129.4 166.5h1.2v1.2h-1.2zM129.4 167.9h1.2v1.2h-1.2zM129.4 169.1h1.2v1.2h-1.2zM129.4 170.4h1.2v1.2h-1.2zM129.4 171.4h1.2v1.2h-1.2zM129.4 172.4h1.2v1.2h-1.2zM129.4 173.4h1.2v1.2h-1.2zM132.1 165.3h1.2v1.2h-1.2zM132.1 167h1.2v1.2h-1.2zM132.1 168.7h1.2v1.2h-1.2zM132.1 170.8h1.2v1.2h-1.2zM132.1 171.9h1.2v1.2h-1.2zM132.1 174h1.2v1.2h-1.2zM134.6 157.7h1.2v1.2h-1.2zM134.6 159h1.2v1.2h-1.2zM134.6 160.3h1.2v1.2h-1.2zM134.6 161.9h1.2v1.2h-1.2zM134.6 162.7h1.2v1.2h-1.2zM134.6 164.1h1.2v1.2h-1.2zM134.6 164.9h1.2v1.2h-1.2zM134.6 165.8h1.2v1.2h-1.2zM134.6 167.4h1.2v1.2h-1.2zM134.6 169.6h1.2v1.2h-1.2zM134.6 171.8h1.2v1.2h-1.2zM134.6 172.8h1.2v1.2h-1.2zM134.6 173.6h1.2v1.2h-1.2zM129.4 165h1.2v1.2h-1.2zM129.4 166.8h1.2v1.2h-1.2zM129.4 168.5h1.2v1.2h-1.2zM129.4 170h1.2v1.2h-1.2zM129.4 171.6h1.2v1.2h-1.2zM129.4 173.2h1.2v1.2h-1.2zM140.9 143.1h1.2v1.2h-1.2zM140.9 145.1h1.2v1.2h-1.2zM140.9 145.9h1.2v1.2h-1.2zM140.9 147.2h1.2v1.2h-1.2zM140.9 149.1h1.2v1.2h-1.2zM140.9 150.1h1.2v1.2h-1.2zM140.9 151.7h1.2v1.2h-1.2zM140.9 152.4h1.2v1.2h-1.2zM140.9 153.3h1.2v1.2h-1.2zM140.9 154.6h1.2v1.2h-1.2zM140.9 155.3h1.2v1.2h-1.2zM140.9 156.6h1.2v1.2h-1.2zM140.9 157.5h1.2v1.2h-1.2zM140.9 159.5h1.2v1.2h-1.2zM140.9 160.6h1.2v1.2h-1.2zM140.9 161.8h1.2v1.2h-1.2zM140.9 163.7h1.2v1.2h-1.2zM140.9 165.2h1.2v1.2h-1.2zM140.9 165.9h1.2v1.2h-1.2zM140.9 166.8h1.2v1.2h-1.2zM140.9 168.4h1.2v1.2h-1.2zM140.9 169.3h1.2v1.2h-1.2zM140.9 170.3h1.2v1.2h-1.2zM140.9 171.9h1.2v1.2h-1.2zM140.9 173.3h1.2v1.2h-1.2zM132.2 162h1.2v1.2h-1.2zM132.2 162.7h1.2v1.2h-1.2zM132.2 163.7h1.2v1.2h-1.2zM132.2 164.8h1.2v1.2h-1.2zM132.2 166.8h1.2v1.2h-1.2zM132.2 167.5h1.2v1.2h-1.2zM132.2 168.7h1.2v1.2h-1.2zM132.2 169.6h1.2v1.2h-1.2zM132.2 171.3h1.2v1.2h-1.2zM132.2 173.2h1.2v1.2h-1.2zM132.2 173.9h1.2v1.2h-1.2zM177.8 164.9h1.4v1.4h-1.4zM181.9 161.5h1.4v1.4h-1.4zM180.6 170.9h1.4v1.4h-1.4zM186.6 169.6h1.4v1.4h-1.4zM183.9 171.6h1.4v1.4h-1.4zM175.4 164.5h1.4v1.4h-1.4zM187.4 172.5h1.4v1.4h-1.4zM177.6 172.9h1.4v1.4h-1.4zM168.8 162h1.4v1.4h-1.4zM187.8 170.2h1.4v1.4h-1.4zM169.5 172.2h1.4v1.4h-1.4zM174.3 162.7h1.4v1.4h-1.4zM176.1 169.1h1.4v1.4h-1.4zM177.9 170.3h1.4v1.4h-1.4zM169.4 173.7h1.4v1.4h-1.4zM186.9 171.5h1.4v1.4h-1.4zM186.8 168.3h1.4v1.4h-1.4zM180.4 166h1.4v1.4h-1.4zM169 170.4h1.4v1.4h-1.4zM176.3 173.8h1.4v1.4h-1.4zM173.3 166.9h1.4v1.4h-1.4zM173.6 157.9h1.4v1.4h-1.4zM173.6 170.6h1.4v1.4h-1.4zM177.2 163.1h1.4v1.4h-1.4zM168 143.3h1.4v1.4h-1.4zM167.3 173.7h1.4v1.4h-1.4zM169.2 172.1h1.4v1.4h-1.4zM184.7 160h1.4v1.4h-1.4zM168.9 167.8h1.4v1.4h-1.4zM174 159.4h1.4v1.4h-1.4zM182.8 172.3h1.4v1.4h-1.4zM186.4 159.8h1.4v1.4h-1.4zM174.7 166.1h1.4v1.4h-1.4zM172.9 161.1h1.4v1.4h-1.4zM175.8 167.3h1.4v1.4h-1.4zM171 168.4h1.4v1.4h-1.4zM185 171h1.4v1.4h-1.4zM175.9 158.3h1.4v1.4h-1.4zM186.1 172h1.4v1.4h-1.4zM187.9 173.8h1.4v1.4h-1.4zM179.9 173h1.4v1.4h-1.4zM172.3 158.5h1.4v1.4h-1.4zM179.7 171.4h1.4v1.4h-1.4zM182 152.4h1.4v1.4h-1.4zM170.6 172.2h1.4v1.4h-1.4zM179.8 166.6h1.4v1.4h-1.4zM173.7 170.4h1.4v1.4h-1.4zM181.6 164.4h1.4v1.4h-1.4zM186.7 156.5h1.4v1.4h-1.4zM174.3 165.4h1.4v1.4h-1.4zM181.9 171.5h1.4v1.4h-1.4zM186.9 171.7h1.4v1.4h-1.4zM181.3 153.7h1.4v1.4h-1.4zM186 170.6h1.4v1.4h-1.4zM187.5 173h1.4v1.4h-1.4zM167.9 169.8h1.4v1.4h-1.4zM179.1 169.6h1.4v1.4h-1.4zM168.8 173.1h1.4v1.4h-1.4zM179.1 163.1h1.4v1.4h-1.4zM183 161.5h1.4v1.4h-1.4zM185.4 164.8h1.4v1.4h-1.4zM177.4 168.3h1.4v1.4h-1.4zM171.5 166h1.4v1.4h-1.4zM174.5 173.1h1.4v1.4h-1.4zM170.8 173h1.4v1.4h-1.4zM169.4 145.8h1.4v1.4h-1.4zM178.5 171.4h1.4v1.4h-1.4zM173.9 173.1h1.4v1.4h-1.4zM170.3 166.9h1.4v1.4h-1.4zM170.9 173.3h1.4v1.4h-1.4zM181.7 167h1.4v1.4h-1.4zM181.1 156.2h1.4v1.4h-1.4zM177.6 162.4h1.4v1.4h-1.4zM176 158.7h1.4v1.4h-1.4zM174.2 160.6h1.4v1.4h-1.4zM172.2 168.8h1.4v1.4h-1.4zM174.3 170.6h1.4v1.4h-1.4zM184.7 169h1.4v1.4h-1.4zM174.6 169h1.4v1.4h-1.4zM184.3 168.2h1.4v1.4h-1.4zM181 169.3h1.4v1.4h-1.4zM175.2 170.1h1.4v1.4h-1.4zM179.7 171.6h1.4v1.4h-1.4zM174.8 157.2h1.4v1.4h-1.4zM187.1 170.6h1.4v1.4h-1.4zM168.6 162.8h1.4v1.4h-1.4zM186.7 173.9h1.4v1.4h-1.4zM180.5 173.9h1.4v1.4h-1.4zM178.6 172h1.4v1.4h-1.4zM180.8 149h1.4v1.4h-1.4zM180.7 172.5h1.4v1.4h-1.4zM168.7 171.8h1.4v1.4h-1.4zM172.8 172.7h1.4v1.4h-1.4zM171.2 153.7h1.4v1.4h-1.4zM176.2 163.5h1.4v1.4h-1.4zM177.5 166.1h1.4v1.4h-1.4zM181.9 161.9h1.4v1.4h-1.4zM179.3 173.1h1.4v1.4h-1.4zM176.7 173.9h1.4v1.4h-1.4zM179.7 173.7h1.4v1.4h-1.4zM178.3 172.2h1.4v1.4h-1.4zM184.9 172.3h1.4v1.4h-1.4zM180.8 152.6h1.4v1.4h-1.4zM172.8 165.2h1.4v1.4h-1.4zM174 173.3h1.4v1.4h-1.4zM172.5 173.9h1.4v1.4h-1.4zM181.1 173.9h1.4v1.4h-1.4zM171.2 171.6h1.4v1.4h-1.4zM183.8 166.6h1.4v1.4h-1.4zM176.8 172.2h1.4v1.4h-1.4zM183.9 165.4h1.4v1.4h-1.4zM177.8 173.3h1.4v1.4h-1.4zM177.8 153.4h1.4v1.4h-1.4zM179 163.8h1.4v1.4h-1.4zM185.6 173.8h1.4v1.4h-1.4zM168.4 155.6h1.4v1.4h-1.4zM186.7 173.9h1.4v1.4h-1.4zM167.6 173.9h1.4v1.4h-1.4zM179.1 169.9h1.4v1.4h-1.4zM178.8 165.4h1.4v1.4h-1.4zM167.4 162.1h1.4v1.4h-1.4zM172.4 163.6h1.4v1.4h-1.4zM174.5 170.5h1.4v1.4h-1.4zM175.5 173.9h1.4v1.4h-1.4zM176 170.6h1.4v1.4h-1.4zM174.5 172.7h1.4v1.4h-1.4zM174.1 158.8h1.4v1.4h-1.4zM187.6 165.6h1.4v1.4h-1.4zM185.1 165.9h1.4v1.4h-1.4zM169.2 173.9h1.4v1.4h-1.4zM185.5 171.7h1.4v1.4h-1.4zM169.3 164.7h1.4v1.4h-1.4zM181.8 169.6h1.4v1.4h-1.4zM177.5 171.2h1.4v1.4h-1.4zM173.7 172.7h1.4v1.4h-1.4zM180.3 165.2h1.4v1.4h-1.4zM168.9 169h1.4v1.4h-1.4zM174.4 173.6h1.4v1.4h-1.4zM179.5 164.3h1.4v1.4h-1.4zM172.9 165.5h1.4v1.4h-1.4zM185.8 170.3h1.4v1.4h-1.4zM186.2 171.2h1.4v1.4h-1.4zM180.5 165.7h1.4v1.4h-1.4zM172.9 170.9h1.4v1.4h-1.4zM185.7 159h1.4v1.4h-1.4zM168.9 166.5h1.4v1.4h-1.4zM171.5 169.3h1.4v1.4h-1.4zM179 148.3h1.4v1.4h-1.4zM182.2 172.7h1.4v1.4h-1.4zM174.9 166.2h1.4v1.4h-1.4zM186.1 164.7h1.4v1.4h-1.4zM171 173.4h1.4v1.4h-1.4zM172.3 171.4h1.4v1.4h-1.4zM174.3 169.4h1.4v1.4h-1.4zM177.7 165.5h1.4v1.4h-1.4zM186.9 172.8h1.4v1.4h-1.4zM178.9 166.4h1.4v1.4h-1.4zM170.3 168.1h1.4v1.4h-1.4zM171.3 162h1.4v1.4h-1.4zM173.8 170.7h1.4v1.4h-1.4zM178.3 161.3h1.4v1.4h-1.4zM174 169.8h1.4v1.4h-1.4zM174 170.8h1.4v1.4h-1.4zM181.5 160.2h1.4v1.4h-1.4zM182.2 166.5h1.4v1.4h-1.4zM170.2 169.7h1.4v1.4h-1.4zM175.2 151.1h1.4v1.4h-1.4zM172 171.8h1.4v1.4h-1.4zM185.1 169.6h1.4v1.4h-1.4zM169.4 171.5h1.4v1.4h-1.4zM183.1 172.8h1.4v1.4h-1.4zM178.7 150.9h1.4v1.4h-1.4zM179.8 161.8h1.4v1.4h-1.4zM187.4 172.2h1.4v1.4h-1.4zM185.3 171.9h1.4v1.4h-1.4zM171.3 172.9h1.4v1.4h-1.4zM173.9 172.5h1.4v1.4h-1.4zM183.2 170.8h1.4v1.4h-1.4zM168 158.1h1.4v1.4h-1.4zM179.5 172.7h1.4v1.4h-1.4zM170 167h1.4v1.4h-1.4zM186.2 172.7h1.4v1.4h-1.4zM176.7 159.9h1.4v1.4h-1.4zM178.6 168.4h1.4v1.4h-1.4zM171.2 170.5h1.4v1.4h-1.4zM167.4 159.4h1.4v1.4h-1.4zM167.2 161.7h1.4v1.4h-1.4zM179.3 170.3h1.4v1.4h-1.4zM185.9 167.4h1.4v1.4h-1.4zM169.5 168.8h1.4v1.4h-1.4zM177.5 157.9h1.4v1.4h-1.4zM176.6 165h1.4v1.4h-1.4zM173.8 172.5h1.4v1.4h-1.4zM167.5 171.8h1.4v1.4h-1.4zM186 161.2h1.4v1.4h-1.4zM179 162.7h1.4v1.4h-1.4zM172 163.1h1.4v1.4h-1.4zM176.4 169.9h1.4v1.4h-1.4zM184.1 150.3h1.4v1.4h-1.4zM168.1 161.9h1.4v1.4h-1.4zM171.7 151.8h1.4v1.4h-1.4zM171.5 167h1.4v1.4h-1.4zM170 167.5h1.4v1.4h-1.4zM179.6 168.7h1.4v1.4h-1.4zM168.1 168.1h1.4v1.4h-1.4zM182.4 172.2h1.4v1.4h-1.4zM175.9 172.5h1.4v1.4h-1.4zM167.5 169.1h1.4v1.4h-1.4zM173.1 147.9h1.4v1.4h-1.4zM167.4 165.9h1.4v1.4h-1.4zM182.4 168.9h1.4v1.4h-1.4zM177.5 172.3h1.4v1.4h-1.4zM172.3 173.3h1.4v1.4h-1.4zM185.9 173.7h1.4v1.4h-1.4zM170 157.5h1.4v1.4h-1.4zM176.6 169.7h1.4v1.4h-1.4zM173.2 172.5h1.4v1.4h-1.4zM183.7 170.7h1.4v1.4h-1.4zM173.3 169h1.4v1.4h-1.4zM173.3 171.8h1.4v1.4h-1.4zM178.1 165.8h1.4v1.4h-1.4zM177.5 169.6h1.4v1.4h-1.4zM168.1 169.3h1.4v1.4h-1.4zM183.5 173.6h1.4v1.4h-1.4zM178.5 164.1h1.4v1.4h-1.4zM175.5 172.4h1.4v1.4h-1.4zM180.1 160.7h1.4v1.4h-1.4zM185.8 146.6h1.4v1.4h-1.4zM187.9 168.6h1.4v1.4h-1.4zM172.7 172.5h1.4v1.4h-1.4zM168.6 167.3h1.4v1.4h-1.4zM169.6 153.8h1.4v1.4h-1.4zM181.4 173.4h1.4v1.4h-1.4zM176.7 172h1.4v1.4h-1.4zM186.2 174h1.4v1.4h-1.4zM173.8 169h1.4v1.4h-1.4zM170.9 154h1.4v1.4h-1.4zM177.1 162.5h1.4v1.4h-1.4zM168.4 170.4h1.4v1.4h-1.4zM179.4 173.4h1.4v1.4h-1.4zM168 168.6h1.4v1.4h-1.4zM173.4 151.8h1.4v1.4h-1.4zM181.5 157.6h1.4v1.4h-1.4zM183.9 157.2h1.4v1.4h-1.4zM178.9 167.8h1.4v1.4h-1.4zM171.3 172.3h1.4v1.4h-1.4zM169.4 172.9h1.4v1.4h-1.4zM171.8 155.7h1.4v1.4h-1.4zM172.3 170.8h1.4v1.4h-1.4zM175.9 172.2h1.4v1.4h-1.4zM181.4 172.8h1.4v1.4h-1.4zM178.7 171.2h1.4v1.4h-1.4zM177.1 162.7h1.4v1.4h-1.4zM173.4 166.8h1.4v1.4h-1.4zM176.2 172.2h1.4v1.4h-1.4zM167.5 158.6h1.4v1.4h-1.4zM174.2 171.6h1.4v1.4h-1.4zM175.7 161h1.4v1.4h-1.4zM171.2 167.9h1.4v1.4h-1.4zM178.5 165.4h1.4v1.4h-1.4zM167.7 172.6h1.4v1.4h-1.4zM177 152.7h1.4v1.4h-1.4zM170 169.6h1.4v1.4h-1.4zM181.5 159.4h1.4v1.4h-1.4zM171.8 173.5h1.4v1.4h-1.4zM173.3 171.4h1.4v1.4h-1.4zM174.7 169h1.4v1.4h-1.4zM167.4 163.4h1.4v1.4h-1.4zM167.8 172h1.4v1.4h-1.4zM171.4 171.3h1.4v1.4h-1.4zM184.9 164.1h1.4v1.4h-1.4zM175.2 173.8h1.4v1.4h-1.4zM180.1 170.4h1.4v1.4h-1.4zM169.3 173.9h1.4v1.4h-1.4zM182.3 172.7h1.4v1.4h-1.4zM186 163.3h1.4v1.4h-1.4zM168.1 166.5h1.4v1.4h-1.4zM172.1 165.5h1.4v1.4h-1.4zM168.5 168.2h1.4v1.4h-1.4zM175.6 174h1.4v1.4h-1.4zM177 164.5h1.4v1.4h-1.4zM168.4 141.1h1.4v1.4h-1.4zM177.3 159.4h1.4v1.4h-1.4zM187.3 153.4h1.4v1.4h-1.4zM176.2 170.2h1.4v1.4h-1.4zM185.4 168.5h1.4v1.4h-1.4zM171.5 170.1h1.4v1.4h-1.4zM168.4 167.9h1.4v1.4h-1.4zM177.3 169h1.4v1.4h-1.4zM185.5 160.4h1.4v1.4h-1.4zM172.8 161.2h1.4v1.4h-1.4zM177.5 168.6h1.4v1.4h-1.4zM171.9 166.8h1.4v1.4h-1.4zM182.4 169.9h1.4v1.4h-1.4zM187.8 170h1.4v1.4h-1.4zM172.8 173.2h1.4v1.4h-1.4zM175.3 170.1h1.4v1.4h-1.4zM181.3 171.4h1.4v1.4h-1.4zM172.3 170.7h1.4v1.4h-1.4zM181.7 169.8h1.2v1.2h-1.2zM181.7 171.1h1.2v1.2h-1.2zM181.7 172.8h1.2v1.2h-1.2zM181.7 173.7h1.2v1.2h-1.2zM184.7 171h1.2v1.2h-1.2zM184.7 172.4h1.2v1.2h-1.2zM184.7 173.3h1.2v1.2h-1.2zM177.4 158.1h1.2v1.2h-1.2zM177.4 159.7h1.2v1.2h-1.2zM177.4 161.7h1.2v1.2h-1.2zM177.4 163.4h1.2v1.2h-1.2zM177.4 164.5h1.2v1.2h-1.2zM177.4 165.9h1.2v1.2h-1.2zM177.4 167.6h1.2v1.2h-1.2zM177.4 169.5h1.2v1.2h-1.2zM177.4 171.2h1.2v1.2h-1.2zM177.4 172.6h1.2v1.2h-1.2zM177.4 173.4h1.2v1.2h-1.2zM173 164.3h1.2v1.2h-1.2zM173 166.3h1.2v1.2h-1.2zM173 167.2h1.2v1.2h-1.2zM173 169.3h1.2v1.2h-1.2zM173 170.2h1.2v1.2h-1.2zM173 171h1.2v1.2h-1.2zM173 172.4h1.2v1.2h-1.2zM175.6 156.3h1.2v1.2h-1.2zM175.6 157.5h1.2v1.2h-1.2zM175.6 159.4h1.2v1.2h-1.2zM175.6 160.2h1.2v1.2h-1.2zM175.6 161.2h1.2v1.2h-1.2zM175.6 162h1.2v1.2h-1.2zM175.6 163.8h1.2v1.2h-1.2zM175.6 165.2h1.2v1.2h-1.2zM175.6 166.8h1.2v1.2h-1.2zM175.6 167.8h1.2v1.2h-1.2zM175.6 169.6h1.2v1.2h-1.2zM175.6 171.8h1.2v1.2h-1.2zM175.6 172.5h1.2v1.2h-1.2zM175.6 173.6h1.2v1.2h-1.2zM215.5 168.5h1.4v1.4h-1.4zM220.5 154.8h1.4v1.4h-1.4zM224.6 166.8h1.4v1.4h-1.4zM221.9 155.1h1.4v1.4h-1.4zM225.9 168h1.4v1.4h-1.4zM228.3 171.4h1.4v1.4h-1.4zM211.2 143.7h1.4v1.4h-1.4zM213.5 163.8h1.4v1.4h-1.4zM219.6 172.5h1.4v1.4h-1.4zM218 170.6h1.4v1.4h-1.4zM211.9 164.1h1.4v1.4h-1.4zM218.5 169.6h1.4v1.4h-1.4zM224.6 171h1.4v1.4h-1.4zM210.9 164.4h1.4v1.4h-1.4zM217.8 173.9h1.4v1.4h-1.4zM215 173.3h1.4v1.4h-1.4zM216.4 170.1h1.4v1.4h-1.4zM214.2 170.3h1.4v1.4h-1.4zM213.3 173.9h1.4v1.4h-1.4zM213.6 165.3h1.4v1.4h-1.4zM213.4 165.5h1.4v1.4h-1.4zM226.2 167.9h1.4v1.4h-1.4zM218.9 168.5h1.4v1.4h-1.4zM224.6 163.6h1.4v1.4h-1.4zM224.8 159.2h1.4v1.4h-1.4zM223.9 168.9h1.4v1.4h-1.4zM223.7 154.6h1.4v1.4h-1.4zM211.6 158.5h1.4v1.4h-1.4zM211 171.9h1.4v1.4h-1.4zM221 151.8h1.4v1.4h-1.4zM211.4 165.3h1.4v1.4h-1.4zM216.6 172.8h1.4v1.4h-1.4zM216.4 162.9h1.4v1.4h-1.4zM211.9 165.6h1.4v1.4h-1.4zM211.2 167.6h1.4v1.4h-1.4zM216.3 173.5h1.4v1.4h-1.4zM227.1 167.8h1.4v1.4h-1.4zM226.7 170.3h1.4v1.4h-1.4zM225.4 160.8h1.4v1.4h-1.4zM215.6 161.7h1.4v1.4h-1.4zM211.9 173.9h1.4v1.4h-1.4zM227.2 156.5h1.4v1.4h-1.4zM224.7 163.4h1.4v1.4h-1.4zM212.1 164.4h1.4v1.4h-1.4zM213.5 173.5h1.4v1.4h-1.4zM210.7 164.3h1.4v1.4h-1.4zM215.1 170.2h1.4v1.4h-1.4zM227.7 157.3h1.4v1.4h-1.4zM223.1 171.4h1.4v1.4h-1.4zM223.9 164.6h1.4v1.4h-1.4zM219.9 173.2h1.4v1.4h-1.4zM214.1 171.1h1.4v1.4h-1.4zM215.4 159.6h1.4v1.4h-1.4zM218.8 164.3h1.4v1.4h-1.4zM213.3 163.6h1.4v1.4h-1.4zM227 170.8h1.4v1.4h-1.4zM214.4 169h1.4v1.4h-1.4zM225.8 161.1h1.4v1.4h-1.4zM223.6 172.7h1.4v1.4h-1.4zM217.1 173.2h1.4v1.4h-1.4zM221.8 173.5h1.4v1.4h-1.4zM224.8 173.4h1.4v1.4h-1.4zM210.8 163.6h1.4v1.4h-1.4zM211.5 161.3h1.4v1.4h-1.4zM210.7 156.5h1.4v1.4h-1.4zM225.6 164.5h1.4v1.4h-1.4zM210.5 173.4h1.4v1.4h-1.4zM211.5 170.2h1.4v1.4h-1.4zM219.9 163.1h1.4v1.4h-1.4zM221.1 167.8h1.4v1.4h-1.4zM214.4 150.9h1.4v1.4h-1.4zM227.5 168.1h1.4v1.4h-1.4zM224.7 147.9h1.4v1.4h-1.4zM215.4 172.6h1.4v1.4h-1.4zM223.9 171.8h1.4v1.4h-1.4zM211.6 171.7h1.4v1.4h-1.4zM211.7 158.8h1.4v1.4h-1.4zM215.9 168.2h1.4v1.4h-1.4zM214.8 168.1h1.4v1.4h-1.4zM225.4 165.8h1.4v1.4h-1.4zM224.2 172.9h1.4v1.4h-1.4zM212 169.8h1.4v1.4h-1.4zM226.2 168.8h1.4v1.4h-1.4zM223.2 172.7h1.4v1.4h-1.4zM211.3 170.6h1.4v1.4h-1.4zM222.3 171.2h1.4v1.4h-1.4zM225.6 172.7h1.4v1.4h-1.4zM221.6 161.5h1.4v1.4h-1.4zM224 172.4h1.4v1.4h-1.4zM223.5 158.2h1.4v1.4h-1.4zM221.7 170.2h1.4v1.4h-1.4zM226.9 172.6h1.4v1.4h-1.4zM214.5 161.6h1.4v1.4h-1.4zM221 163.8h1.4v1.4h-1.4zM224.9 167.3h1.4v1.4h-1.4zM212.5 171.7h1.4v1.4h-1.4zM225 170.6h1.4v1.4h-1.4zM211.7 168.1h1.4v1.4h-1.4zM223.2 171.5h1.4v1.4h-1.4zM211.5 162.9h1.4v1.4h-1.4zM227.2 144h1.4v1.4h-1.4zM214.2 165h1.4v1.4h-1.4zM222.4 162.7h1.4v1.4h-1.4zM215.2 170.8h1.4v1.4h-1.4zM217.7 166.6h1.4v1.4h-1.4zM215.5 154.1h1.4v1.4h-1.4zM224.1 166h1.4v1.4h-1.4zM227.7 162h1.4v1.4h-1.4zM227.5 166.2h1.4v1.4h-1.4zM221.8 164.8h1.4v1.4h-1.4zM224.3 158.4h1.4v1.4h-1.4zM226.1 170.2h1.4v1.4h-1.4zM216.9 169.2h1.4v1.4h-1.4zM227 163.2h1.4v1.4h-1.4zM218.4 167.2h1.4v1.4h-1.4zM212.8 162.1h1.4v1.4h-1.4zM222.5 165.8h1.4v1.4h-1.4zM221.8 161h1.4v1.4h-1.4zM223.9 154.7h1.4v1.4h-1.4zM225.6 172.8h1.4v1.4h-1.4zM219.5 147.8h1.4v1.4h-1.4zM219.5 155.9h1.4v1.4h-1.4zM219.8 168.4h1.4v1.4h-1.4zM211.6 174h1.4v1.4h-1.4zM212 161.7h1.4v1.4h-1.4zM217 165.8h1.4v1.4h-1.4zM228.3 172.5h1.4v1.4h-1.4zM225.4 169h1.4v1.4h-1.4zM225.5 171.3h1.4v1.4h-1.4zM224.3 173.9h1.4v1.4h-1.4zM218.8 165.5h1.4v1.4h-1.4zM214.9 170.2h1.4v1.4h-1.4zM217.9 158.1h1.4v1.4h-1.4zM219.8 157.3h1.4v1.4h-1.4zM225.3 142.4h1.4v1.4h-1.4zM222.4 172.3h1.4v1.4h-1.4zM220.8 170h1.4v1.4h-1.4zM214.6 166.4h1.4v1.4h-1.4zM214.5 154.2h1.4v1.4h-1.4zM211.6 168.7h1.4v1.4h-1.4zM217.8 173.8h1.4v1.4h-1.4zM215.4 155.9h1.4v1.4h-1.4zM220.8 173.9h1.4v1.4h-1.4zM220.8 164.7h1.4v1.4h-1.4zM212.8 170.4h1.4v1.4h-1.4zM214.2 172h1.4v1.4h-1.4zM225.2 167.7h1.4v1.4h-1.4zM212.9 171.6h1.4v1.4h-1.4zM221.5 172.4h1.4v1.4h-1.4zM219.9 159.8h1.4v1.4h-1.4zM224.2 167h1.4v1.4h-1.4zM210.6 161.8h1.4v1.4h-1.4zM214.8 162.6h1.4v1.4h-1.4zM213.1 173.2h1.4v1.4h-1.4zM227.5 157.3h1.4v1.4h-1.4zM212.2 166.2h1.4v1.4h-1.4zM211.6 167.7h1.4v1.4h-1.4zM228.3 161h1.4v1.4h-1.4zM218.8 165.2h1.4v1.4h-1.4zM217.3 147.9h1.4v1.4h-1.4zM216.1 172h1.4v1.4h-1.4zM213 164.6h1.4v1.4h-1.4zM220.4 158h1.4v1.4h-1.4zM213 149h1.4v1.4h-1.4zM227.4 158.4h1.4v1.4h-1.4zM212.5 170.8h1.4v1.4h-1.4zM212 166.8h1.4v1.4h-1.4zM224.1 171h1.4v1.4h-1.4zM218.5 172.2h1.4v1.4h-1.4zM222.6 170.1h1.4v1.4h-1.4zM224.7 171.6h1.4v1.4h-1.4zM213.8 163.7h1.4v1.4h-1.4zM216.7 158.5h1.4v1.4h-1.4zM220.4 170.4h1.4v1.4h-1.4zM217.9 151h1.4v1.4h-1.4zM226 153.8h1.4v1.4h-1.4zM220.6 166h1.4v1.4h-1.4zM212.9 145.1h1.4v1.4h-1.4zM224.7 164.7h1.4v1.4h-1.4zM224.6 170.1h1.4v1.4h-1.4zM213.4 161.8h1.4v1.4h-1.4zM210.5 149.6h1.4v1.4h-1.4zM211.5 163.7h1.4v1.4h-1.4zM210.9 159.8h1.4v1.4h-1.4zM226 171.2h1.4v1.4h-1.4zM227.8 170.3h1.4v1.4h-1.4zM213.7 155h1.4v1.4h-1.4zM213.2 152.8h1.4v1.4h-1.4zM227.4 158.1h1.4v1.4h-1.4zM220.4 172.5h1.4v1.4h-1.4zM219.4 172.1h1.4v1.4h-1.4zM216.1 154.2h1.4v1.4h-1.4zM214 173.5h1.4v1.4h-1.4zM223.9 173.8h1.4v1.4h-1.4zM220.7 172.3h1.4v1.4h-1.4zM222.1 170.6h1.4v1.4h-1.4zM219 166.8h1.4v1.4h-1.4zM220.7 157.3h1.4v1.4h-1.4zM226.2 170.8h1.4v1.4h-1.4zM223.1 169.6h1.4v1.4h-1.4zM219.2 169.6h1.4v1.4h-1.4zM223.5 167.5h1.4v1.4h-1.4zM225.1 173.6h1.4v1.4h-1.4zM212.7 149.2h1.4v1.4h-1.4zM223.6 172.7h1.4v1.4h-1.4zM211 172.1h1.4v1.4h-1.4zM216.5 173.5h1.4v1.4h-1.4zM212.2 168.7h1.4v1.4h-1.4zM210.7 170.6h1.4v1.4h-1.4zM210.9 170.1h1.4v1.4h-1.4zM223.9 161.4h1.4v1.4h-1.4zM221.3 165.4h1.4v1.4h-1.4zM213.8 172h1.4v1.4h-1.4zM213.7 163.4h1.4v1.4h-1.4zM220.7 171.3h1.4v1.4h-1.4zM223.8 151h1.4v1.4h-1.4zM214.7 166.5h1.4v1.4h-1.4zM222.1 161.6h1.4v1.4h-1.4zM215.6 171.1h1.4v1.4h-1.4zM220.3 170.5h1.4v1.4h-1.4zM213.4 173.7h1.4v1.4h-1.4zM215.5 173.3h1.4v1.4h-1.4zM213 163.2h1.4v1.4h-1.4zM216.1 165.7h1.4v1.4h-1.4zM216.1 173.3h1.4v1.4h-1.4zM224.4 167h1.4v1.4h-1.4zM218.6 164.8h1.4v1.4h-1.4zM219.2 170.2h1.4v1.4h-1.4zM216.2 170.7h1.4v1.4h-1.4zM227.7 172.8h1.4v1.4h-1.4zM215.5 169.4h1.4v1.4h-1.4zM212.5 171h1.4v1.4h-1.4zM217.7 170.6h1.4v1.4h-1.4zM220.1 168.8h1.4v1.4h-1.4zM222.6 167.4h1.4v1.4h-1.4zM215.2 168.9h1.4v1.4h-1.4zM221.7 155.7h1.4v1.4h-1.4zM225.3 173.8h1.4v1.4h-1.4zM220.1 169.9h1.4v1.4h-1.4zM214.2 171.2h1.4v1.4h-1.4zM224.6 155.2h1.4v1.4h-1.4zM227.8 173.2h1.4v1.4h-1.4zM213.2 170.8h1.4v1.4h-1.4zM216.2 151.7h1.4v1.4h-1.4zM222 171.9h1.4v1.4h-1.4zM212.3 165.2h1.4v1.4h-1.4zM221.6 173.9h1.4v1.4h-1.4zM221 172h1.4v1.4h-1.4zM215.7 172.3h1.4v1.4h-1.4zM228.2 170.9h1.4v1.4h-1.4zM221.5 168.1h1.4v1.4h-1.4zM217.2 156.5h1.4v1.4h-1.4zM223.8 166.8h1.4v1.4h-1.4zM214.9 168.6h1.4v1.4h-1.4zM217.7 169.3h1.4v1.4h-1.4zM225.2 167.6h1.4v1.4h-1.4zM217.1 159h1.4v1.4h-1.4zM220.6 159.5h1.4v1.4h-1.4zM210.6 165.9h1.4v1.4h-1.4zM212.5 173.2h1.4v1.4h-1.4zM215 159.7h1.4v1.4h-1.4zM227.1 171.8h1.2v1.2h-1.2zM227.1 173.6h1.2v1.2h-1.2zM218.2 153.5h1.2v1.2h-1.2zM218.2 154.8h1.2v1.2h-1.2zM218.2 156.9h1.2v1.2h-1.2zM218.2 158.1h1.2v1.2h-1.2zM218.2 158.7h1.2v1.2h-1.2zM218.2 159.5h1.2v1.2h-1.2zM218.2 161.3h1.2v1.2h-1.2zM218.2 162.1h1.2v1.2h-1.2zM218.2 162.8h1.2v1.2h-1.2zM218.2 163.7h1.2v1.2h-1.2zM218.2 165.9h1.2v1.2h-1.2zM218.2 167.2h1.2v1.2h-1.2zM218.2 168h1.2v1.2h-1.2zM218.2 169.7h1.2v1.2h-1.2zM218.2 170.9h1.2v1.2h-1.2zM218.2 172.3h1.2v1.2h-1.2zM223.1 169.8h1.2v1.2h-1.2zM223.1 172h1.2v1.2h-1.2zM223.1 173.4h1.2v1.2h-1.2zM225.9 165.3h1.2v1.2h-1.2zM225.9 167.1h1.2v1.2h-1.2zM225.9 168.2h1.2v1.2h-1.2zM225.9 169.5h1.2v1.2h-1.2zM225.9 170.1h1.2v1.2h-1.2zM225.9 171.1h1.2v1.2h-1.2zM225.9 172.9h1.2v1.2h-1.2zM226 151.4h1.2v1.2h-1.2zM226 152.9h1.2v1.2h-1.2zM226 154.8h1.2v1.2h-1.2zM226 156.2h1.2v1.2h-1.2zM226 157.8h1.2v1.2h-1.2zM226 159.2h1.2v1.2h-1.2zM226 160.4h1.2v1.2h-1.2zM226 162.2h1.2v1.2h-1.2zM226 162.9h1.2v1.2h-1.2zM226 165.1h1.2v1.2h-1.2zM226 167.2h1.2v1.2h-1.2zM226 169.1h1.2v1.2h-1.2zM226 170.5h1.2v1.2h-1.2zM226 171.8h1.2v1.2h-1.2zM226 173.1h1.2v1.2h-1.2zM214.4 144.1h1.2v1.2h-1.2zM214.4 146.1h1.2v1.2h-1.2zM214.4 147.5h1.2v1.2h-1.2zM214.4 149.5h1.2v1.2h-1.2zM214.4 150.5h1.2v1.2h-1.2zM214.4 152.5h1.2v1.2h-1.2zM214.4 154.7h1.2v1.2h-1.2zM214.4 156.3h1.2v1.2h-1.2zM214.4 158.5h1.2v1.2h-1.2zM214.4 160.2h1.2v1.2h-1.2zM214.4 161.9h1.2v1.2h-1.2zM214.4 163.3h1.2v1.2h-1.2zM214.4 164h1.2v1.2h-1.2zM214.4 164.8h1.2v1.2h-1.2zM214.4 166.7h1.2v1.2h-1.2zM214.4 167.6h1.2v1.2h-1.2zM214.4 169.3h1.2v1.2h-1.2zM214.4 170.2h1.2v1.2h-1.2zM214.4 172h1.2v1.2h-1.2zM221.7 171.1h1.2v1.2h-1.2zM221.7 172.8h1.2v1.2h-1.2zM226.2 169.3h1.2v1.2h-1.2zM226.2 170.3h1.2v1.2h-1.2zM226.2 172.4h1.2v1.2h-1.2zM250.1 159.9h1.4v1.4h-1.4zM253.1 157.8h1.4v1.4h-1.4zM251.2 163.8h1.4v1.4h-1.4zM252.9 161.1h1.4v1.4h-1.4zM248.6 147.1h1.4v1.4h-1.4zM250.5 164.5h1.4v1.4h-1.4zM251.1 153.3h1.4v1.4h-1.4zM251.5 165.8h1.4v1.4h-1.4zM252.2 165.3h1.4v1.4h-1.4zM252.3 166h1.4v1.4h-1.4zM251.9 164.7h1.4v1.4h-1.4zM247.9 155.5h1.4v1.4h-1.4zM250.9 160.1h1.4v1.4h-1.4zM252.4 162.3h1.4v1.4h-1.4zM250.3 149.3h1.4v1.4h-1.4zM248.9 164h1.4v1.4h-1.4zM252.5 160.9h1.4v1.4h-1.4zM252.1 157.7h1.4v1.4h-1.4zM252.1 162.8h1.4v1.4h-1.4zM251.1 160.8h1.4v1.4h-1.4zM249.9 158.8h1.4v1.4h-1.4zM251.2 163.1h1.4v1.4h-1.4zM252.7 162.9h1.4v1.4h-1.4zM249 162.8h1.4v1.4h-1.4zM251.9 155.4h1.4v1.4h-1.4zM249.5 158.5h1.4v1.4h-1.4zM248.8 162.1h1.4v1.4h-1.4zM251.8 164.5h1.4v1.4h-1.4zM250.8 154.4h1.4v1.4h-1.4zM252.9 162.3h1.4v1.4h-1.4zM250.2 154.7h1.4v1.4h-1.4zM248.5 147.2h1.4v1.4h-1.4zM249.7 160.7h1.4v1.4h-1.4zM253.1 165.1h1.4v1.4h-1.4zM249.1 165.4h1.4v1.4h-1.4zM251.5 161.5h1.4v1.4h-1.4zM249.1 145.6h1.4v1.4h-1.4zM249.3 158.1h1.4v1.4h-1.4zM249.7 144.2h1.4v1.4h-1.4zM252.6 163.8h1.4v1.4h-1.4zM252.8 161.7h1.4v1.4h-1.4zM251.2 164.4h1.4v1.4h-1.4zM251.5 159.1h1.4v1.4h-1.4zM250.9 156.9h1.4v1.4h-1.4zM250.3 165.8h1.4v1.4h-1.4zM252.6 163.8h1.4v1.4h-1.4zM251.1 163.3h1.4v1.4h-1.4zM248 163.7h1.4v1.4h-1.4zM248.3 164.2h1.4v1.4h-1.4zM252.3 143.7h1.4v1.4h-1.4zM252.1 161.8h1.4v1.4h-1.4zM248 162h1.4v1.4h-1.4zM248.7 162.9h1.4v1.4h-1.4zM249.1 165.1h1.4v1.4h-1.4zM251.4 142.4h1.4v1.4h-1.4zM249.1 152.8h1.4v1.4h-1.4zM251.9 160.5h1.4v1.4h-1.4zM253 159.4h1.4v1.4h-1.4zM247.9 164.6h1.4v1.4h-1.4zM249.5 154.8h1.4v1.4h-1.4zM250.8 158.7h1.4v1.4h-1.4zM247.9 157.6h1.4v1.4h-1.4zM250.7 151.1h1.4v1.4h-1.4zM250.1 164h1.4v1.4h-1.4zM249.4 158.3h1.4v1.4h-1.4zM251.6 164.4h1.4v1.4h-1.4zM252.8 165.9h1.4v1.4h-1.4zM249 161h1.4v1.4h-1.4zM252.1 162.5h1.4v1.4h-1.4zM251.4 159h1.4v1.4h-1.4zM248 144.5h1.2v1.2h-1.2zM248 146.7h1.2v1.2h-1.2zM248 148.8h1.2v1.2h-1.2zM248 150h1.2v1.2h-1.2zM248 151.3h1.2v1.2h-1.2zM248 153.2h1.2v1.2h-1.2zM248 155.4h1.2v1.2h-1.2zM248 156.6h1.2v1.2h-1.2zM248 158.7h1.2v1.2h-1.2zM248 160.4h1.2v1.2h-1.2zM248 161.2h1.2v1.2h-1.2zM248 162.5h1.2v1.2h-1.2zM248 163.2h1.2v1.2h-1.2zM248 164.4h1.2v1.2h-1.2zM248 165.8h1.2v1.2h-1.2zM249.6 142h1.2v1.2h-1.2zM249.6 143.7h1.2v1.2h-1.2zM249.6 145.1h1.2v1.2h-1.2zM249.6 146.7h1.2v1.2h-1.2zM249.6 148h1.2v1.2h-1.2zM249.6 149.6h1.2v1.2h-1.2zM249.6 150.9h1.2v1.2h-1.2zM249.6 153h1.2v1.2h-1.2zM249.6 153.8h1.2v1.2h-1.2zM249.6 155.8h1.2v1.2h-1.2zM249.6 157.6h1.2v1.2h-1.2zM249.6 158.2h1.2v1.2h-1.2zM249.6 159.9h1.2v1.2h-1.2zM249.6 161.1h1.2v1.2h-1.2zM249.6 162.5h1.2v1.2h-1.2zM249.6 163.9h1.2v1.2h-1.2zM249.6 165.7h1.2v1.2h-1.2zM264.3 162.6h1.4v1.4h-1.4zM262.4 165.6h1.4v1.4h-1.4zM257.8 152.8h1.4v1.4h-1.4zM260.6 154.2h1.4v1.4h-1.4zM260.6 164.7h1.4v1.4h-1.4zM262.2 159h1.4v1.4h-1.4zM259.3 160h1.4v1.4h-1.4zM262.2 157.8h1.4v1.4h-1.4zM263.9 153h1.4v1.4h-1.4zM258.8 165h1.4v1.4h-1.4zM261.3 162h1.4v1.4h-1.4zM260 164h1.4v1.4h-1.4zM257.4 155h1.4v1.4h-1.4zM259.7 153.7h1.4v1.4h-1.4zM262.5 160.4h1.4v1.4h-1.4zM257.7 144.4h1.4v1.4h-1.4zM259.8 157.6h1.4v1.4h-1.4zM262.4 159.8h1.4v1.4h-1.4zM262.5 160.1h1.4v1.4h-1.4zM263.2 157.8h1.4v1.4h-1.4zM263.8 158.5h1.4v1.4h-1.4zM260.2 162.6h1.4v1.4h-1.4zM261.3 165h1.4v1.4h-1.4zM261.2 155.4h1.4v1.4h-1.4zM262.1 151.3h1.4v1.4h-1.4zM257.5 147.7h1.4v1.4h-1.4zM263.9 159.4h1.4v1.4h-1.4zM263.9 164.3h1.4v1.4h-1.4zM259.9 164.9h1.4v1.4h-1.4zM262.1 161h1.4v1.4h-1.4zM264 164.6h1.4v1.4h-1.4zM262.8 163.1h1.4v1.4h-1.4zM258.8 159.2h1.4v1.4h-1.4zM261.1 165.6h1.4v1.4h-1.4zM259.9 159.4h1.4v1.4h-1.4zM263.4 163.5h1.4v1.4h-1.4zM261.5 165.3h1.4v1.4h-1.4zM263.9 165.9h1.4v1.4h-1.4zM264.3 164.9h1.4v1.4h-1.4zM262.7 160.5h1.4v1.4h-1.4zM260.9 163.7h1.4v1.4h-1.4zM258.7 165h1.4v1.4h-1.4zM257.9 163h1.4v1.4h-1.4zM262 161h1.4v1.4h-1.4zM261.3 148.8h1.4v1.4h-1.4zM264.1 164h1.4v1.4h-1.4zM259.1 160.6h1.4v1.4h-1.4zM264.3 164.5h1.4v1.4h-1.4zM262.3 159h1.4v1.4h-1.4zM262.1 154.4h1.4v1.4h-1.4zM262.6 160.5h1.4v1.4h-1.4zM264 148.5h1.4v1.4h-1.4zM259.7 164h1.4v1.4h-1.4zM262.2 142h1.4v1.4h-1.4zM261.8 159.6h1.4v1.4h-1.4zM259.8 161.5h1.4v1.4h-1.4zM259.3 158.3h1.4v1.4h-1.4zM263.5 156.6h1.4v1.4h-1.4zM258.7 165.5h1.4v1.4h-1.4zM263.6 160h1.4v1.4h-1.4zM262.2 162.1h1.4v1.4h-1.4zM264.1 164.8h1.4v1.4h-1.4zM263.9 159.7h1.4v1.4h-1.4zM264.1 163.9h1.4v1.4h-1.4zM257.8 158.5h1.4v1.4h-1.4zM258.4 155.9h1.4v1.4h-1.4zM262.7 164.2h1.4v1.4h-1.4zM261.1 164.8h1.4v1.4h-1.4zM263.6 161.2h1.4v1.4h-1.4zM262.5 165.7h1.4v1.4h-1.4zM262.4 164.9h1.4v1.4h-1.4zM262.9 158.7h1.4v1.4h-1.4zM259.5 154.6h1.4v1.4h-1.4zM260 163h1.4v1.4h-1.4zM259.6 156.4h1.4v1.4h-1.4zM260.5 161.1h1.4v1.4h-1.4zM261.6 154.5h1.4v1.4h-1.4zM257.3 159.4h1.4v1.4h-1.4zM264.3 163.7h1.4v1.4h-1.4zM260.4 154.8h1.4v1.4h-1.4zM260.2 160h1.4v1.4h-1.4zM263.5 162.5h1.4v1.4h-1.4zM261.9 162.9h1.4v1.4h-1.4zM262.2 154.5h1.4v1.4h-1.4zM262.9 164.2h1.4v1.4h-1.4zM263.9 155.2h1.4v1.4h-1.4zM263.5 160.3h1.4v1.4h-1.4zM262.1 163.1h1.4v1.4h-1.4zM261.5 159h1.4v1.4h-1.4zM258.6 151.8h1.4v1.4h-1.4zM263.9 165.1h1.4v1.4h-1.4zM261.1 156.3h1.2v1.2h-1.2zM261.1 158.4h1.2v1.2h-1.2zM261.1 160h1.2v1.2h-1.2zM261.1 161.9h1.2v1.2h-1.2zM261.1 163.1h1.2v1.2h-1.2zM261.1 165.1h1.2v1.2h-1.2zM257.9 162h1.2v1.2h-1.2zM257.9 164h1.2v1.2h-1.2zM257.9 165.7h1.2v1.2h-1.2zM259.2 154.6h1.2v1.2h-1.2zM259.2 156.1h1.2v1.2h-1.2zM259.2 157.1h1.2v1.2h-1.2zM259.2 159h1.2v1.2h-1.2zM259.2 160.3h1.2v1.2h-1.2zM259.2 161.9h1.2v1.2h-1.2zM259.2 163.8h1.2v1.2h-1.2zM259.2 165.5h1.2v1.2h-1.2zM291.5 161.1h1.4v1.4h-1.4zM294.1 162.2h1.4v1.4h-1.4zM290.2 164.5h1.4v1.4h-1.4zM286.8 162.9h1.4v1.4h-1.4zM283.5 141.8h1.4v1.4h-1.4zM296.3 161.8h1.4v1.4h-1.4zM292.8 156.8h1.4v1.4h-1.4zM292.9 157.7h1.4v1.4h-1.4zM296.3 164.1h1.4v1.4h-1.4zM287.4 160.1h1.4v1.4h-1.4zM294.1 165.5h1.4v1.4h-1.4zM285.8 166.5h1.4v1.4h-1.4zM294 165.4h1.4v1.4h-1.4zM286.7 165.6h1.4v1.4h-1.4zM286.8 166.3h1.4v1.4h-1.4zM283.3 159.8h1.4v1.4h-1.4zM284.7 154.6h1.4v1.4h-1.4zM283 156.2h1.4v1.4h-1.4zM285.3 165.2h1.4v1.4h-1.4zM293.7 165.9h1.4v1.4h-1.4zM283.4 166h1.4v1.4h-1.4zM293.5 162.6h1.4v1.4h-1.4zM292 150.3h1.4v1.4h-1.4zM289.5 157.9h1.4v1.4h-1.4zM284.2 157.2h1.4v1.4h-1.4zM294.1 146.7h1.4v1.4h-1.4zM286.1 162.9h1.4v1.4h-1.4zM297.1 159.4h1.4v1.4h-1.4zM293.7 157.9h1.4v1.4h-1.4zM289.4 155.8h1.4v1.4h-1.4zM292.8 151.8h1.4v1.4h-1.4zM292.7 165.6h1.4v1.4h-1.4zM288.4 164.4h1.4v1.4h-1.4zM289.7 160.6h1.4v1.4h-1.4zM290.9 164.9h1.4v1.4h-1.4zM292.7 159.4h1.4v1.4h-1.4zM286.1 164.5h1.4v1.4h-1.4zM291.6 161.9h1.4v1.4h-1.4zM291.2 148.1h1.4v1.4h-1.4zM288.6 147.9h1.4v1.4h-1.4zM283.9 158.1h1.4v1.4h-1.4zM288.7 165.2h1.4v1.4h-1.4zM288.4 162.6h1.4v1.4h-1.4zM285.5 148.2h1.4v1.4h-1.4zM286.6 164.2h1.4v1.4h-1.4zM290.8 165.7h1.4v1.4h-1.4zM294.6 153.9h1.4v1.4h-1.4zM285.7 165.3h1.4v1.4h-1.4zM297.2 145.5h1.4v1.4h-1.4zM289.5 164.4h1.4v1.4h-1.4zM293.1 166.9h1.4v1.4h-1.4zM295.3 167h1.4v1.4h-1.4zM283.3 160.4h1.4v1.4h-1.4zM289.4 167h1.4v1.4h-1.4zM286.8 160.2h1.4v1.4h-1.4zM294.1 165.7h1.4v1.4h-1.4zM295.6 158.3h1.4v1.4h-1.4zM297.2 164.7h1.4v1.4h-1.4zM287.2 147.6h1.4v1.4h-1.4zM289.8 163.2h1.4v1.4h-1.4zM290.4 157.6h1.4v1.4h-1.4zM287.2 162.9h1.4v1.4h-1.4zM293.7 155.4h1.4v1.4h-1.4zM292.4 163h1.4v1.4h-1.4zM293 163.8h1.4v1.4h-1.4zM284.7 161.5h1.4v1.4h-1.4zM285.2 162.8h1.4v1.4h-1.4zM291.4 154.1h1.4v1.4h-1.4zM283.4 165.1h1.4v1.4h-1.4zM283.9 155.8h1.4v1.4h-1.4zM291.1 163.1h1.4v1.4h-1.4zM283.2 164.4h1.4v1.4h-1.4zM290.1 162.6h1.4v1.4h-1.4zM292.5 165.2h1.4v1.4h-1.4zM296.1 162.3h1.4v1.4h-1.4zM289.3 162.2h1.4v1.4h-1.4zM288.1 153.9h1.4v1.4h-1.4zM297 161.5h1.4v1.4h-1.4zM286.7 157.1h1.4v1.4h-1.4zM295.9 161.5h1.4v1.4h-1.4zM295 163.8h1.4v1.4h-1.4zM288.9 159.7h1.4v1.4h-1.4zM293.6 166.9h1.4v1.4h-1.4zM296.9 159.3h1.4v1.4h-1.4zM285.3 153.2h1.4v1.4h-1.4zM288.8 165.7h1.4v1.4h-1.4zM293.7 162.7h1.4v1.4h-1.4zM297.2 155.8h1.4v1.4h-1.4zM283.4 157.5h1.4v1.4h-1.4zM282.9 151.3h1.4v1.4h-1.4zM292.5 158.8h1.4v1.4h-1.4zM294.4 161.6h1.4v1.4h-1.4zM293 158.1h1.4v1.4h-1.4zM284 146.3h1.4v1.4h-1.4zM295.7 166.1h1.4v1.4h-1.4zM288.3 157.2h1.4v1.4h-1.4zM286.7 164.8h1.4v1.4h-1.4zM293.1 155.6h1.4v1.4h-1.4zM283.9 166.5h1.4v1.4h-1.4zM284.8 162h1.4v1.4h-1.4zM291.9 161.3h1.4v1.4h-1.4zM288.3 164.4h1.4v1.4h-1.4zM292.9 160.7h1.4v1.4h-1.4zM293.9 165.7h1.4v1.4h-1.4zM294.5 164.1h1.4v1.4h-1.4zM287.3 150.3h1.4v1.4h-1.4zM296.3 163.5h1.4v1.4h-1.4zM294.4 157.6h1.4v1.4h-1.4zM283.6 165.6h1.4v1.4h-1.4zM284.5 154.5h1.4v1.4h-1.4zM292.1 149.7h1.4v1.4h-1.4zM287 153h1.4v1.4h-1.4zM286.5 164.6h1.4v1.4h-1.4zM292.3 164.8h1.4v1.4h-1.4zM297.4 165.3h1.4v1.4h-1.4zM286.1 147.6h1.4v1.4h-1.4zM295.5 166.7h1.4v1.4h-1.4zM287.6 156.2h1.4v1.4h-1.4zM283.6 159h1.4v1.4h-1.4zM294 143.8h1.4v1.4h-1.4zM284.8 163.2h1.4v1.4h-1.4zM286.6 162.9h1.4v1.4h-1.4zM284.6 150.3h1.4v1.4h-1.4zM284.3 151.4h1.4v1.4h-1.4zM293 146.6h1.4v1.4h-1.4zM291.7 160.5h1.4v1.4h-1.4zM290.5 162.7h1.4v1.4h-1.4zM288.8 158.5h1.4v1.4h-1.4zM290.5 160.5h1.4v1.4h-1.4zM290.6 162.3h1.4v1.4h-1.4zM290.2 151.8h1.4v1.4h-1.4zM282.7 160.7h1.4v1.4h-1.4zM291.1 151.4h1.4v1.4h-1.4zM288.9 151.4h1.4v1.4h-1.4zM290 159.3h1.4v1.4h-1.4zM286.2 155h1.4v1.4h-1.4zM296.2 154.3h1.4v1.4h-1.4zM285.9 163.6h1.4v1.4h-1.4zM290.1 160.5h1.4v1.4h-1.4zM282.7 154h1.4v1.4h-1.4zM289.5 159.1h1.4v1.4h-1.4zM282.7 159.1h1.4v1.4h-1.4zM290.5 164.8h1.4v1.4h-1.4zM284.4 161.4h1.4v1.4h-1.4zM290.9 165.3h1.4v1.4h-1.4zM282.9 163.7h1.4v1.4h-1.4zM292.7 161.3h1.4v1.4h-1.4zM293.6 161.6h1.4v1.4h-1.4zM286.4 166.7h1.4v1.4h-1.4zM283.5 161.6h1.4v1.4h-1.4zM289.3 162.8h1.4v1.4h-1.4zM296.7 164.6h1.4v1.4h-1.4zM284.4 161.2h1.4v1.4h-1.4zM284.7 164.2h1.4v1.4h-1.4zM288.7 163.1h1.4v1.4h-1.4zM292.3 161.6h1.4v1.4h-1.4zM292.1 164.9h1.4v1.4h-1.4zM291.2 154.8h1.4v1.4h-1.4zM296.6 153.4h1.4v1.4h-1.4zM284.9 163.2h1.4v1.4h-1.4zM294.1 163.9h1.4v1.4h-1.4zM292.4 163.8h1.4v1.4h-1.4zM296.2 164.1h1.4v1.4h-1.4zM287.4 163.1h1.4v1.4h-1.4zM290.6 158.8h1.4v1.4h-1.4zM290.6 159h1.4v1.4h-1.4zM290.3 166h1.4v1.4h-1.4zM291.3 153.8h1.4v1.4h-1.4zM291.4 166h1.4v1.4h-1.4zM286.5 165h1.4v1.4h-1.4zM283.1 162.8h1.4v1.4h-1.4zM286.8 156.5h1.4v1.4h-1.4zM296.1 165.6h1.4v1.4h-1.4zM290.2 159.1h1.4v1.4h-1.4zM289.2 166.1h1.4v1.4h-1.4zM292.8 161.5h1.4v1.4h-1.4zM292.3 164.4h1.4v1.4h-1.4zM294.2 142.5h1.4v1.4h-1.4zM283.3 161.1h1.4v1.4h-1.4zM291.7 160.4h1.4v1.4h-1.4zM287.1 145.4h1.4v1.4h-1.4zM291.5 158.4h1.4v1.4h-1.4zM285.7 147.6h1.4v1.4h-1.4zM291.5 166.3h1.4v1.4h-1.4zM291.9 163.3h1.4v1.4h-1.4zM289 164.3h1.4v1.4h-1.4zM291.4 164.1h1.4v1.4h-1.4zM295.8 153h1.4v1.4h-1.4zM297 155.2h1.4v1.4h-1.4zM286.8 165h1.4v1.4h-1.4zM283.8 162.1h1.4v1.4h-1.4zM287.1 163h1.4v1.4h-1.4zM293.7 166.2h1.4v1.4h-1.4zM295.6 166.9h1.4v1.4h-1.4zM286.5 162h1.2v1.2h-1.2zM286.5 164h1.2v1.2h-1.2zM286.5 165h1.2v1.2h-1.2zM291.7 163.4h1.2v1.2h-1.2zM291.7 164.1h1.2v1.2h-1.2zM291.7 166h1.2v1.2h-1.2zM291.7 166.8h1.2v1.2h-1.2zM290.5 152.6h1.2v1.2h-1.2zM290.5 153.3h1.2v1.2h-1.2zM290.5 154.6h1.2v1.2h-1.2zM290.5 155.2h1.2v1.2h-1.2zM290.5 157h1.2v1.2h-1.2zM290.5 158.7h1.2v1.2h-1.2zM290.5 159.5h1.2v1.2h-1.2zM290.5 161h1.2v1.2h-1.2zM290.5 161.8h1.2v1.2h-1.2zM290.5 163.6h1.2v1.2h-1.2zM290.5 164.5h1.2v1.2h-1.2zM290.5 165.4h1.2v1.2h-1.2zM290.5 166.4h1.2v1.2h-1.2zM325.2 162.6h1.4v1.4h-1.4zM319.6 155.3h1.4v1.4h-1.4zM323.7 158.2h1.4v1.4h-1.4zM325.6 163.8h1.4v1.4h-1.4zM322.3 149.8h1.4v1.4h-1.4zM324.7 163.7h1.4v1.4h-1.4zM318.9 160.7h1.4v1.4h-1.4zM316.3 163.4h1.4v1.4h-1.4zM324.2 147.7h1.4v1.4h-1.4zM317.1 160.3h1.4v1.4h-1.4zM325.6 163.2h1.4v1.4h-1.4zM322.8 162.8h1.4v1.4h-1.4zM324.9 156.5h1.4v1.4h-1.4zM324.7 163.8h1.4v1.4h-1.4zM321.8 161.1h1.4v1.4h-1.4zM316.7 161.5h1.4v1.4h-1.4zM323.2 159.3h1.4v1.4h-1.4zM321.7 159h1.4v1.4h-1.4zM320.8 158.5h1.4v1.4h-1.4zM324.9 149.1h1.4v1.4h-1.4zM320.1 160.4h1.4v1.4h-1.4zM318.6 163.2h1.4v1.4h-1.4zM316.9 156.3h1.4v1.4h-1.4zM319.8 163.9h1.4v1.4h-1.4zM318.6 146.5h1.4v1.4h-1.4zM318.8 161.3h1.4v1.4h-1.4zM325.5 154.8h1.4v1.4h-1.4zM319.3 163.9h1.4v1.4h-1.4zM319.6 159.3h1.4v1.4h-1.4zM324.7 148.7h1.4v1.4h-1.4zM325 142.2h1.4v1.4h-1.4zM324.5 154.7h1.4v1.4h-1.4zM319.6 162.2h1.4v1.4h-1.4zM322.5 158.5h1.4v1.4h-1.4zM323.9 161h1.4v1.4h-1.4zM323.1 158.7h1.4v1.4h-1.4zM323.5 164h1.4v1.4h-1.4zM324.3 160.5h1.4v1.4h-1.4zM317.1 163.1h1.4v1.4h-1.4zM318.8 160.4h1.4v1.4h-1.4zM324.8 156h1.4v1.4h-1.4zM321.7 162.8h1.4v1.4h-1.4zM325.6 160.5h1.4v1.4h-1.4zM316.5 161.2h1.4v1.4h-1.4zM322.4 149.5h1.4v1.4h-1.4zM323 163.9h1.4v1.4h-1.4zM318.7 160h1.4v1.4h-1.4zM322.2 163.5h1.4v1.4h-1.4zM318.4 162.1h1.4v1.4h-1.4zM316.1 159h1.4v1.4h-1.4zM317.7 162.4h1.4v1.4h-1.4zM317.7 154.6h1.4v1.4h-1.4zM316.7 152.1h1.4v1.4h-1.4zM322.3 161.1h1.4v1.4h-1.4zM319.5 158.9h1.4v1.4h-1.4zM320.2 158.5h1.4v1.4h-1.4zM315.8 162.1h1.4v1.4h-1.4zM322.7 162.3h1.4v1.4h-1.4zM324.2 158.6h1.4v1.4h-1.4zM316 161h1.4v1.4h-1.4zM318.1 156.8h1.4v1.4h-1.4zM324.6 163.8h1.4v1.4h-1.4zM315.9 153.9h1.4v1.4h-1.4zM319.9 162.9h1.4v1.4h-1.4zM321.7 155.4h1.4v1.4h-1.4zM323.6 151.5h1.4v1.4h-1.4zM322.5 154.9h1.4v1.4h-1.4zM316.5 163.5h1.4v1.4h-1.4zM320.2 158.1h1.4v1.4h-1.4zM319.5 163.8h1.4v1.4h-1.4zM316.9 161.5h1.4v1.4h-1.4zM324.4 158.3h1.4v1.4h-1.4zM324.4 148.2h1.4v1.4h-1.4zM323.5 148.7h1.4v1.4h-1.4zM318.2 161.7h1.4v1.4h-1.4zM318.1 163.8h1.4v1.4h-1.4zM325.1 159h1.4v1.4h-1.4zM322 161.3h1.4v1.4h-1.4zM321.1 161h1.4v1.4h-1.4zM323 161.9h1.4v1.4h-1.4zM318.5 163h1.4v1.4h-1.4zM318.9 147.4h1.4v1.4h-1.4zM325.4 163.7h1.4v1.4h-1.4zM324.2 156.5h1.4v1.4h-1.4zM316.4 160.9h1.4v1.4h-1.4zM324.4 162h1.4v1.4h-1.4zM324.9 158.3h1.4v1.4h-1.4zM325.6 156.2h1.4v1.4h-1.4zM316.9 148.7h1.4v1.4h-1.4zM320.1 162.4h1.4v1.4h-1.4zM323.9 151h1.4v1.4h-1.4zM322.2 152.7h1.4v1.4h-1.4zM317.6 161.3h1.4v1.4h-1.4zM323.1 160.4h1.4v1.4h-1.4zM322.7 147.4h1.4v1.4h-1.4zM319.1 163h1.4v1.4h-1.4zM325.7 163.8h1.4v1.4h-1.4zM318.4 152.6h1.4v1.4h-1.4zM316 162.6h1.4v1.4h-1.4zM324.5 163.4h1.4v1.4h-1.4zM321.6 163.8h1.4v1.4h-1.4zM320 163.3h1.4v1.4h-1.4zM319.5 158.2h1.4v1.4h-1.4zM319.9 159h1.4v1.4h-1.4zM319.3 153.3h1.2v1.2h-1.2zM319.3 154.5h1.2v1.2h-1.2zM319.3 156.4h1.2v1.2h-1.2zM319.3 158.1h1.2v1.2h-1.2zM319.3 159.2h1.2v1.2h-1.2zM319.3 160.1h1.2v1.2h-1.2zM319.3 160.8h1.2v1.2h-1.2zM319.3 162.2h1.2v1.2h-1.2zM319.3 163.9h1.2v1.2h-1.2zM325.5 161.8h1.2v1.2h-1.2zM325.5 163.7h1.2v1.2h-1.2zM326 158.7h1.2v1.2h-1.2zM326 160.8h1.2v1.2h-1.2zM326 162h1.2v1.2h-1.2zM326 163.1h1.2v1.2h-1.2zM326 163.7h1.2v1.2h-1.2zM319.6 156.4h1.2v1.2h-1.2zM319.6 158.6h1.2v1.2h-1.2zM319.6 159.3h1.2v1.2h-1.2zM319.6 160.8h1.2v1.2h-1.2zM319.6 161.5h1.2v1.2h-1.2zM319.6 162.2h1.2v1.2h-1.2zM319.6 163.8h1.2v1.2h-1.2zM343 161.5h1.4v1.4h-1.4zM346.6 158.3h1.4v1.4h-1.4zM344.7 158.8h1.4v1.4h-1.4zM339.4 157.5h1.4v1.4h-1.4zM346.4 149.6h1.4v1.4h-1.4zM346.3 162.5h1.4v1.4h-1.4zM345.1 161.2h1.4v1.4h-1.4zM345.9 159.2h1.4v1.4h-1.4zM341.7 159.4h1.4v1.4h-1.4zM342.5 153.5h1.4v1.4h-1.4zM343.2 162.9h1.4v1.4h-1.4zM343.1 163.9h1.4v1.4h-1.4zM339.7 156.6h1.4v1.4h-1.4zM342.4 163.4h1.4v1.4h-1.4zM341.4 150.7h1.4v1.4h-1.4zM340.9 159.8h1.4v1.4h-1.4zM338.8 163.9h1.4v1.4h-1.4zM340.5 158.4h1.4v1.4h-1.4zM346.5 159.7h1.4v1.4h-1.4zM339.2 160.7h1.4v1.4h-1.4zM345.5 149.2h1.4v1.4h-1.4zM344.7 162.6h1.4v1.4h-1.4zM342.7 160.2h1.4v1.4h-1.4zM338.8 152.6h1.4v1.4h-1.4zM340.8 149.7h1.4v1.4h-1.4zM344.2 159.5h1.4v1.4h-1.4zM338.8 160.1h1.4v1.4h-1.4zM345.3 161.5h1.4v1.4h-1.4zM340.6 161.7h1.4v1.4h-1.4zM343.2 160.8h1.4v1.4h-1.4zM341.2 158.8h1.4v1.4h-1.4zM346.1 161.3h1.4v1.4h-1.4zM346 163.6h1.4v1.4h-1.4zM344.3 161.7h1.4v1.4h-1.4zM343 160.1h1.4v1.4h-1.4zM339.2 162.8h1.4v1.4h-1.4zM346.9 153.5h1.4v1.4h-1.4zM346.6 161.3h1.4v1.4h-1.4zM346.1 159.1h1.4v1.4h-1.4zM346.9 155.5h1.4v1.4h-1.4zM340 163.5h1.4v1.4h-1.4zM339.4 155.2h1.4v1.4h-1.4zM341.6 155.5h1.4v1.4h-1.4zM340.2 155.3h1.4v1.4h-1.4zM340.1 159.3h1.4v1.4h-1.4zM341.4 161h1.4v1.4h-1.4zM342 160h1.4v1.4h-1.4zM339.1 162.1h1.4v1.4h-1.4zM339 158.8h1.4v1.4h-1.4zM339.5 157.3h1.4v1.4h-1.4zM345.9 147.5h1.4v1.4h-1.4zM339.5 162.3h1.4v1.4h-1.4zM346.5 161.9h1.4v1.4h-1.4zM345.8 162.9h1.4v1.4h-1.4zM339.9 161.4h1.4v1.4h-1.4zM343.9 161h1.4v1.4h-1.4zM344.5 162.7h1.4v1.4h-1.4zM346 155.3h1.4v1.4h-1.4zM346.5 154.2h1.4v1.4h-1.4zM343.4 145h1.4v1.4h-1.4zM343.5 163.6h1.4v1.4h-1.4zM343.7 163.5h1.4v1.4h-1.4zM343.9 154.5h1.4v1.4h-1.4zM341.5 163.9h1.4v1.4h-1.4zM338.9 163.7h1.4v1.4h-1.4zM340.4 153.5h1.4v1.4h-1.4zM341.2 152.4h1.4v1.4h-1.4zM344.9 156.3h1.4v1.4h-1.4zM344.9 159.8h1.4v1.4h-1.4zM344.6 160.3h1.4v1.4h-1.4zM342 163.9h1.4v1.4h-1.4zM338.6 145.4h1.4v1.4h-1.4zM339.8 144.4h1.4v1.4h-1.4zM341.9 163.1h1.4v1.4h-1.4zM345.5 154.5h1.4v1.4h-1.4zM347 160.1h1.4v1.4h-1.4zM346.4 161.5h1.4v1.4h-1.4zM340.7 163.7h1.4v1.4h-1.4zM344.1 152.6h1.4v1.4h-1.4zM345.4 161.5h1.4v1.4h-1.4zM343.1 160.7h1.4v1.4h-1.4zM343 152.9h1.4v1.4h-1.4zM339 158.9h1.4v1.4h-1.4zM344 158.4h1.4v1.4h-1.4zM346.5 160.7h1.4v1.4h-1.4zM345.4 158h1.4v1.4h-1.4zM345.4 156.9h1.4v1.4h-1.4zM346.1 163.9h1.4v1.4h-1.4zM339.5 153.1h1.4v1.4h-1.4zM343.2 152.9h1.2v1.2h-1.2zM343.2 154h1.2v1.2h-1.2zM343.2 155h1.2v1.2h-1.2zM343.2 155.7h1.2v1.2h-1.2zM343.2 156.9h1.2v1.2h-1.2zM343.2 157.7h1.2v1.2h-1.2zM343.2 159.3h1.2v1.2h-1.2zM343.2 160.4h1.2v1.2h-1.2zM343.2 162.2h1.2v1.2h-1.2zM346.2 144.2h1.2v1.2h-1.2zM346.2 146h1.2v1.2h-1.2zM346.2 146.8h1.2v1.2h-1.2zM346.2 148.9h1.2v1.2h-1.2zM346.2 150.4h1.2v1.2h-1.2zM346.2 151.9h1.2v1.2h-1.2zM346.2 153.6h1.2v1.2h-1.2zM346.2 154.5h1.2v1.2h-1.2zM346.2 155.8h1.2v1.2h-1.2zM346.2 156.6h1.2v1.2h-1.2zM346.2 158.7h1.2v1.2h-1.2zM346.2 160.1h1.2v1.2h-1.2zM346.2 160.9h1.2v1.2h-1.2zM346.2 163.1h1.2v1.2h-1.2zM345.1 154.3h1.2v1.2h-1.2zM345.1 156h1.2v1.2h-1.2zM345.1 157.3h1.2v1.2h-1.2zM345.1 158.4h1.2v1.2h-1.2zM345.1 159h1.2v1.2h-1.2zM345.1 160.6h1.2v1.2h-1.2zM345.1 161.4h1.2v1.2h-1.2zM345.1 162.6h1.2v1.2h-1.2zM366.7 162h1.4v1.4h-1.4zM365.2 161.2h1.4v1.4h-1.4zM365 154.2h1.4v1.4h-1.4zM364.1 153.3h1.4v1.4h-1.4zM364.3 157.2h1.4v1.4h-1.4zM362.7 159h1.4v1.4h-1.4zM361 155.4h1.4v1.4h-1.4zM360.2 150.2h1.4v1.4h-1.4zM362.7 144.7h1.4v1.4h-1.4zM360.9 146.8h1.4v1.4h-1.4zM364.8 150.7h1.4v1.4h-1.4zM366.4 161.8h1.4v1.4h-1.4zM365.9 161.5h1.4v1.4h-1.4zM362.3 158.2h1.4v1.4h-1.4zM364.5 143.8h1.4v1.4h-1.4zM367 154h1.4v1.4h-1.4zM362.1 160.5h1.4v1.4h-1.4zM360.2 150.1h1.4v1.4h-1.4zM366.5 161.8h1.4v1.4h-1.4zM363.9 148.4h1.4v1.4h-1.4zM365.1 157.2h1.4v1.4h-1.4zM367.7 149.2h1.4v1.4h-1.4zM362.4 153.4h1.4v1.4h-1.4zM362.7 156.1h1.4v1.4h-1.4zM363.9 161.5h1.4v1.4h-1.4zM364.8 143.9h1.4v1.4h-1.4zM365.7 159.5h1.4v1.4h-1.4zM360.1 146.5h1.4v1.4h-1.4zM362.9 148.3h1.4v1.4h-1.4zM362 161.7h1.4v1.4h-1.4zM362 161.4h1.4v1.4h-1.4zM365.2 158.8h1.4v1.4h-1.4zM362.4 153.3h1.4v1.4h-1.4zM365.6 159.4h1.4v1.4h-1.4zM360.3 153.2h1.4v1.4h-1.4zM363.6 161.1h1.4v1.4h-1.4zM365.1 160.9h1.4v1.4h-1.4zM362.9 161.3h1.4v1.4h-1.4zM364.8 161.2h1.4v1.4h-1.4zM367.6 157.9h1.4v1.4h-1.4zM367.8 146.8h1.4v1.4h-1.4zM364.1 154.8h1.4v1.4h-1.4zM363 155.4h1.4v1.4h-1.4zM361.4 159.5h1.4v1.4h-1.4zM360.3 160.8h1.4v1.4h-1.4zM361.4 152.3h1.4v1.4h-1.4zM363.5 161h1.4v1.4h-1.4zM362.1 160.7h1.4v1.4h-1.4zM360.5 161.8h1.4v1.4h-1.4zM365.7 160.8h1.4v1.4h-1.4zM366.8 149.2h1.4v1.4h-1.4zM367.4 161h1.4v1.4h-1.4zM366.4 158.5h1.4v1.4h-1.4zM367.6 146.7h1.4v1.4h-1.4zM364.8 155.2h1.4v1.4h-1.4zM361.4 151.4h1.4v1.4h-1.4zM365.8 155.9h1.4v1.4h-1.4zM366.9 161.9h1.4v1.4h-1.4zM366.1 160.7h1.4v1.4h-1.4zM366.2 160.3h1.4v1.4h-1.4zM362.9 160h1.4v1.4h-1.4zM365.6 156.5h1.4v1.4h-1.4zM366.6 162h1.4v1.4h-1.4zM362.2 157.4h1.4v1.4h-1.4zM366.8 160.5h1.4v1.4h-1.4zM365.3 161.8h1.4v1.4h-1.4zM367.4 160.3h1.4v1.4h-1.4zM363.2 159.1h1.4v1.4h-1.4zM362.3 149.8h1.4v1.4h-1.4zM364.2 156.9h1.4v1.4h-1.4zM367.9 154.7h1.4v1.4h-1.4zM365.8 157h1.4v1.4h-1.4zM361.6 161.9h1.4v1.4h-1.4zM360.6 157.8h1.4v1.4h-1.4zM360.3 160h1.4v1.4h-1.4zM363 159.2h1.4v1.4h-1.4zM362.6 160.7h1.4v1.4h-1.4zM363.2 160.7h1.4v1.4h-1.4zM360 147.1h1.4v1.4h-1.4zM366 158.1h1.4v1.4h-1.4zM361.9 156h1.4v1.4h-1.4zM363.2 161h1.4v1.4h-1.4zM366.4 161.9h1.4v1.4h-1.4zM364.6 149.8h1.4v1.4h-1.4zM367.4 147.1h1.4v1.4h-1.4zM363.4 162h1.4v1.4h-1.4zM362.7 157h1.4v1.4h-1.4zM366.9 155.3h1.2v1.2h-1.2zM366.9 156.3h1.2v1.2h-1.2zM366.9 157.7h1.2v1.2h-1.2zM366.9 159.1h1.2v1.2h-1.2zM366.9 161h1.2v1.2h-1.2zM366.9 161.9h1.2v1.2h-1.2zM363.6 156h1.2v1.2h-1.2zM363.6 156.8h1.2v1.2h-1.2zM363.6 157.8h1.2v1.2h-1.2zM363.6 159.1h1.2v1.2h-1.2zM363.6 160.5h1.2v1.2h-1.2zM367.5 157.8h1.2v1.2h-1.2zM367.5 159.9h1.2v1.2h-1.2zM367.5 161.2h1.2v1.2h-1.2zM362.6 145.2h1.2v1.2h-1.2zM362.6 146.9h1.2v1.2h-1.2zM362.6 147.6h1.2v1.2h-1.2zM362.6 149.6h1.2v1.2h-1.2zM362.6 150.2h1.2v1.2h-1.2zM362.6 151.6h1.2v1.2h-1.2zM362.6 152.6h1.2v1.2h-1.2zM362.6 154.1h1.2v1.2h-1.2zM362.6 155h1.2v1.2h-1.2zM362.6 156.6h1.2v1.2h-1.2zM362.6 158.4h1.2v1.2h-1.2zM362.6 160h1.2v1.2h-1.2zM362.6 161.9h1.2v1.2h-1.2zM365.5 155.3h1.2v1.2h-1.2zM365.5 157.3h1.2v1.2h-1.2zM365.5 158.1h1.2v1.2h-1.2zM365.5 160.1h1.2v1.2h-1.2zM365.5 160.7h1.2v1.2h-1.2zM382.7 164h1.4v1.4h-1.4zM381.4 154.3h1.4v1.4h-1.4zM381.1 160.4h1.4v1.4h-1.4zM381.6 165.4h1.4v1.4h-1.4zM379.9 155.9h1.4v1.4h-1.4zM381.6 166.9h1.4v1.4h-1.4zM382.4 167.9h1.4v1.4h-1.4zM380.2 152.5h1.4v1.4h-1.4zM382 165.7h1.4v1.4h-1.4zM379.8 166.8h1.4v1.4h-1.4zM380.3 165.6h1.4v1.4h-1.4zM379.1 167.2h1.4v1.4h-1.4zM381.5 162.6h1.4v1.4h-1.4zM384 155.1h1.4v1.4h-1.4zM380.3 166.9h1.4v1.4h-1.4zM383.9 164.5h1.4v1.4h-1.4zM380.4 161.9h1.4v1.4h-1.4zM384.4 157.4h1.4v1.4h-1.4zM384.4 163.1h1.4v1.4h-1.4zM380.1 161.5h1.4v1.4h-1.4zM379.7 167.4h1.4v1.4h-1.4zM379.5 162.9h1.4v1.4h-1.4zM380 167h1.4v1.4h-1.4zM383 163.2h1.4v1.4h-1.4zM379.1 166.1h1.4v1.4h-1.4zM383.8 150.8h1.4v1.4h-1.4zM380.3 162.7h1.4v1.4h-1.4zM382.2 150.1h1.4v1.4h-1.4zM384.2 167.5h1.4v1.4h-1.4zM383.9 163.4h1.4v1.4h-1.4zM382.7 165.1h1.4v1.4h-1.4zM382.1 167.8h1.4v1.4h-1.4zM383.3 162.3h1.4v1.4h-1.4zM382.3 164.2h1.4v1.4h-1.4zM379.6 167.9h1.4v1.4h-1.4zM379.7 166.9h1.4v1.4h-1.4zM383.6 167.2h1.4v1.4h-1.4zM381.2 158.4h1.4v1.4h-1.4zM380.5 162.5h1.4v1.4h-1.4zM384.3 164h1.4v1.4h-1.4zM382.4 163.4h1.4v1.4h-1.4zM381.6 167.8h1.4v1.4h-1.4zM382.7 161h1.4v1.4h-1.4zM383 161.4h1.4v1.4h-1.4zM384 163.4h1.4v1.4h-1.4zM381.2 167.7h1.4v1.4h-1.4zM379.2 165.4h1.4v1.4h-1.4zM380.8 163.5h1.4v1.4h-1.4zM380.9 166.3h1.4v1.4h-1.4zM383.5 165.8h1.4v1.4h-1.4zM384.7 162.1h1.4v1.4h-1.4zM384.4 165.4h1.4v1.4h-1.4zM379.3 167.9h1.4v1.4h-1.4zM380.1 158.8h1.2v1.2h-1.2zM380.1 160.1h1.2v1.2h-1.2zM380.1 161.2h1.2v1.2h-1.2zM380.1 163h1.2v1.2h-1.2zM380.1 164.9h1.2v1.2h-1.2zM380.1 166.8h1.2v1.2h-1.2zM380.1 167.8h1.2v1.2h-1.2zM383 159.3h1.2v1.2h-1.2zM383 161.2h1.2v1.2h-1.2zM383 163.2h1.2v1.2h-1.2zM383 164.4h1.2v1.2h-1.2zM383 165.1h1.2v1.2h-1.2zM383 166.3h1.2v1.2h-1.2zM383 167.4h1.2v1.2h-1.2zM383.1 160h1.2v1.2h-1.2zM383.1 161.6h1.2v1.2h-1.2zM383.1 163.6h1.2v1.2h-1.2zM383.1 165.2h1.2v1.2h-1.2zM383.1 167.2h1.2v1.2h-1.2zM382.2 149.2h1.2v1.2h-1.2zM382.2 150.6h1.2v1.2h-1.2zM382.2 151.8h1.2v1.2h-1.2zM382.2 153.6h1.2v1.2h-1.2zM382.2 155.1h1.2v1.2h-1.2zM382.2 156.3h1.2v1.2h-1.2zM382.2 158h1.2v1.2h-1.2zM382.2 159.4h1.2v1.2h-1.2zM382.2 160.2h1.2v1.2h-1.2zM382.2 162h1.2v1.2h-1.2zM382.2 163.4h1.2v1.2h-1.2zM382.2 165.5h1.2v1.2h-1.2zM382.2 167.5h1.2v1.2h-1.2zM380.6 165h1.2v1.2h-1.2zM380.6 166h1.2v1.2h-1.2zM380.6 167.9h1.2v1.2h-1.2zM384.7 156.6h1.2v1.2h-1.2zM384.7 158.3h1.2v1.2h-1.2zM384.7 159.9h1.2v1.2h-1.2zM384.7 161.6h1.2v1.2h-1.2zM384.7 163.7h1.2v1.2h-1.2zM384.7 164.9h1.2v1.2h-1.2zM384.7 165.8h1.2v1.2h-1.2zM384.7 167.7h1.2v1.2h-1.2zM396 167.5h1.4v1.4h-1.4zM395.6 171.2h1.4v1.4h-1.4zM396.5 170.7h1.4v1.4h-1.4zM395.7 170.4h1.4v1.4h-1.4zM396.5 171.7h1.4v1.4h-1.4zM394.6 168.4h1.4v1.4h-1.4zM395.8 167.4h1.4v1.4h-1.4zM394.8 157.4h1.4v1.4h-1.4zM395.1 160.6h1.4v1.4h-1.4zM396.5 166.2h1.4v1.4h-1.4zM395.1 168.6h1.4v1.4h-1.4zM394.3 171.3h1.4v1.4h-1.4zM396.5 165.5h1.4v1.4h-1.4zM394.1 170.7h1.4v1.4h-1.4zM394.6 167.1h1.4v1.4h-1.4zM394.9 171.9h1.4v1.4h-1.4zM395.8 168h1.4v1.4h-1.4zM394.2 171.2h1.4v1.4h-1.4zM396.1 166.8h1.4v1.4h-1.4zM394.4 170.2h1.4v1.4h-1.4zM394.7 169.1h1.4v1.4h-1.4zM396.1 159h1.4v1.4h-1.4zM395.8 162.3h1.4v1.4h-1.4zM396.5 168.8h1.4v1.4h-1.4zM394.7 168.2h1.4v1.4h-1.4zM395.6 166.5h1.2v1.2h-1.2zM395.6 167.2h1.2v1.2h-1.2zM395.6 168.4h1.2v1.2h-1.2zM395.6 170.3h1.2v1.2h-1.2zM395.6 171.1h1.2v1.2h-1.2zM395.6 171.8h1.2v1.2h-1.2zM396.3 165.5h1.2v1.2h-1.2zM396.3 167.7h1.2v1.2h-1.2zM396.3 169h1.2v1.2h-1.2zM396.3 170.7h1.2v1.2h-1.2z"/>
<g stroke="#777" stroke-width="0.8" fill="none">
<path d="M48.4 32.9V187.7"/>
<path d="M46.4 187.7H48.4"/>
<path d="M46.4 156.8H48.4"/>
<path d="M46.4 125.8H48.4"/>
<path d="M46.4 94.8H48.4"/>
<path d="M46.4 63.9H48.4"/>
<path d="M46.4 32.9H48.4"/>
</g>
<text x="44" y="189.7" font-size="4.4" text-anchor="end" fill="#333" stroke="#333" stroke-width="0.2">2</text>
<text x="44" y="158.8" font-size="4.4" text-anchor="end" fill="#333" stroke="#333" stroke-width="0.2">4</text>
<text x="44" y="127.8" font-size="4.4" text-anchor="end" fill="#333" stroke="#333" stroke-width="0.2">6</text>
<text x="44" y="96.8" font-size="4.4" text-anchor="end" fill="#333" stroke="#333" stroke-width="0.2">8</text>
<text x="44" y="65.9" font-size="4.4" text-anchor="end" fill="#333" stroke="#333" stroke-width="0.2">10</text>
<text x="44" y="34.9" font-size="4.4" text-anchor="end" fill="#333" stroke="#333" stroke-width="0.2">12</text>
<text transform="translate(32.6,93.5) rotate(-90)" font-size="4" text-anchor="middle" fill="#333" stroke="#333" stroke-width="0.15">-log10(P)</text>
<path d="M48.4 105.7H413.4" stroke="#ffb3b3" stroke-width="1"/>
<path d="M48.4 141.3H413.4" stroke="#b5b5ff" stroke-width="1"/>
<text x="73" y="211.9" font-size="4.5" text-anchor="middle" fill="#222" stroke="#222" stroke-width="0.15">1</text>
<path d="M73 203.3V205.3" stroke="#777" stroke-width="0.5"/>
<text x="103.4" y="211.9" font-size="4.5" text-anchor="middle" fill="#222" stroke="#222" stroke-width="0.15">2</text>
<path d="M103.4 203.3V205.3" stroke="#777" stroke-width="0.5"/>
<text x="131.6" y="211.9" font-size="4.5" text-anchor="middle" fill="#222" stroke="#222" stroke-width="0.15">3</text>
<path d="M131.6 203.3V205.3" stroke="#777" stroke-width="0.5"/>
<text x="155" y="211.9" font-size="4.5" text-anchor="middle" fill="#222" stroke="#222" stroke-width="0.15">4</text>
<path d="M155 203.3V205.3" stroke="#777" stroke-width="0.5"/>
<text x="178" y="211.9" font-size="4.5" text-anchor="middle" fill="#222" stroke="#222" stroke-width="0.15">5</text>
<path d="M178 203.3V205.3" stroke="#777" stroke-width="0.5"/>
<text x="200.5" y="211.9" font-size="4.5" text-anchor="middle" fill="#222" stroke="#222" stroke-width="0.15">6</text>
<path d="M200.5 203.3V205.3" stroke="#777" stroke-width="0.5"/>
<text x="219.6" y="211.9" font-size="4.5" text-anchor="middle" fill="#222" stroke="#222" stroke-width="0.15">7</text>
<path d="M219.6 203.3V205.3" stroke="#777" stroke-width="0.5"/>
<text x="238.5" y="211.9" font-size="4.5" text-anchor="middle" fill="#222" stroke="#222" stroke-width="0.15">8</text>
<path d="M238.5 203.3V205.3" stroke="#777" stroke-width="0.5"/>
<text x="258.8" y="211.9" font-size="4.5" text-anchor="middle" fill="#222" stroke="#222" stroke-width="0.15">9</text>
<path d="M258.8 203.3V205.3" stroke="#777" stroke-width="0.5"/>
<text x="274.8" y="211.9" font-size="4.5" text-anchor="middle" fill="#222" stroke="#222" stroke-width="0.15">10</text>
<path d="M274.8 203.3V205.3" stroke="#777" stroke-width="0.5"/>
<text x="290.9" y="211.9" font-size="4.5" text-anchor="middle" fill="#222" stroke="#222" stroke-width="0.15">11</text>
<path d="M290.9 203.3V205.3" stroke="#777" stroke-width="0.5"/>
<text x="308" y="211.9" font-size="4.5" text-anchor="middle" fill="#222" stroke="#222" stroke-width="0.15">12</text>
<path d="M308 203.3V205.3" stroke="#777" stroke-width="0.5"/>
<text x="321.7" y="211.9" font-size="4.5" text-anchor="middle" fill="#222" stroke="#222" stroke-width="0.15">13</text>
<path d="M321.7 203.3V205.3" stroke="#777" stroke-width="0.5"/>
<text x="333.7" y="211.9" font-size="4.5" text-anchor="middle" fill="#222" stroke="#222" stroke-width="0.15">14</text>
<path d="M333.7 203.3V205.3" stroke="#777" stroke-width="0.5"/>
<text x="344" y="211.9" font-size="4.5" text-anchor="middle" fill="#222" stroke="#222" stroke-width="0.15">15</text>
<path d="M344 203.3V205.3" stroke="#777" stroke-width="0.5"/>
<text x="355.7" y="211.9" font-size="4.5" text-anchor="middle" fill="#222" stroke="#222" stroke-width="0.15">16</text>
<path d="M355.7 203.3V205.3" stroke="#777" stroke-width="0.5"/>
<text x="365.2" y="211.9" font-size="4.5" text-anchor="middle" fill="#222" stroke="#222" stroke-width="0.15">17</text>
<path d="M365.2 203.3V205.3" stroke="#777" stroke-width="0.5"/>
<text x="375.7" y="211.9" font-size="4.5" text-anchor="middle" fill="#222" stroke="#222" stroke-width="0.15">18</text>
<path d="M375.7 203.3V205.3" stroke="#777" stroke-width="0.5"/>
<text x="383.7" y="211.9" font-size="4.5" text-anchor="middle" fill="#222" stroke="#222" stroke-width="0.15">19</text>
<path d="M383.7 203.3V205.3" stroke="#777" stroke-width="0.5"/>
<text x="396.7" y="211.9" font-size="4.5" text-anchor="middle" fill="#222" stroke="#222" stroke-width="0.15">21</text>
<path d="M396.7 203.3V205.3" stroke="#777" stroke-width="0.5"/>
<text x="219.1" y="221.3" font-size="4.4" fill="#222" stroke="#222" stroke-width="0.12" textLength="23.4" lengthAdjust="spacingAndGlyphs">Chromosome</text>
<rect x="96.7" y="126" width="1.0" height="1.0" fill="#666"/><rect x="96.7" y="129" width="1.0" height="1.0" fill="#666"/><rect x="96.7" y="132" width="1.0" height="1.0" fill="#666"/><rect x="96.7" y="135" width="1.0" height="1.0" fill="#666"/><rect x="96.7" y="138" width="1.0" height="1.0" fill="#666"/>
<rect x="171.2" y="127.8" width="1.6" height="1.6" fill="#111"/><rect x="171.2" y="130.8" width="1.6" height="1.6" fill="#111"/><rect x="171.2" y="132.4" width="1.6" height="1.6" fill="#111"/><rect x="171.2" y="134" width="1.6" height="1.6" fill="#111"/><rect x="171.2" y="135.8" width="1.6" height="1.6" fill="#111"/>
<rect x="165.2" y="135.9" width="1.2" height="1.2" fill="#999"/><rect x="165.2" y="137.6" width="1.2" height="1.2" fill="#999"/><rect x="165.2" y="139.3" width="1.2" height="1.2" fill="#999"/><rect x="165.2" y="141" width="1.2" height="1.2" fill="#999"/><rect x="165.2" y="142.7" width="1.2" height="1.2" fill="#999"/><rect x="165.2" y="144.4" width="1.2" height="1.2" fill="#999"/><rect x="165.2" y="146.1" width="1.2" height="1.2" fill="#999"/><rect x="165.2" y="147.8" width="1.2" height="1.2" fill="#999"/><rect x="165.2" y="149.5" width="1.2" height="1.2" fill="#999"/><rect x="165.2" y="151.2" width="1.2" height="1.2" fill="#999"/><rect x="165.2" y="152.9" width="1.2" height="1.2" fill="#999"/><rect x="165.2" y="154.6" width="1.2" height="1.2" fill="#999"/><rect x="165.2" y="156.3" width="1.2" height="1.2" fill="#999"/><rect x="165.2" y="158" width="1.2" height="1.2" fill="#999"/><rect x="165.2" y="159.7" width="1.2" height="1.2" fill="#999"/><rect x="165.2" y="161.4" width="1.2" height="1.2" fill="#999"/><rect x="165.2" y="163.1" width="1.2" height="1.2" fill="#999"/><rect x="165.2" y="164.8" width="1.2" height="1.2" fill="#999"/><rect x="165.2" y="166.5" width="1.2" height="1.2" fill="#999"/><rect x="165.2" y="168.2" width="1.2" height="1.2" fill="#999"/><rect x="165.2" y="169.9" width="1.2" height="1.2" fill="#999"/>
<rect x="169.9" y="151.3" width="1.3" height="1.3" fill="#1b1b1b"/><rect x="169.9" y="152.7" width="1.3" height="1.3" fill="#1b1b1b"/><rect x="169.9" y="154" width="1.3" height="1.3" fill="#1b1b1b"/><rect x="169.9" y="155.3" width="1.3" height="1.3" fill="#1b1b1b"/><rect x="169.9" y="156.6" width="1.3" height="1.3" fill="#1b1b1b"/><rect x="169.9" y="157.9" width="1.3" height="1.3" fill="#1b1b1b"/><rect x="169.9" y="159.2" width="1.3" height="1.3" fill="#1b1b1b"/><rect x="169.9" y="160.5" width="1.3" height="1.3" fill="#1b1b1b"/><rect x="169.9" y="161.8" width="1.3" height="1.3" fill="#1b1b1b"/><rect x="169.9" y="163.1" width="1.3" height="1.3" fill="#1b1b1b"/><rect x="169.9" y="164.4" width="1.3" height="1.3" fill="#1b1b1b"/><rect x="169.9" y="165.7" width="1.3" height="1.3" fill="#1b1b1b"/><rect x="169.9" y="167" width="1.3" height="1.3" fill="#1b1b1b"/><rect x="169.9" y="168.3" width="1.3" height="1.3" fill="#1b1b1b"/><rect x="169.9" y="169.6" width="1.3" height="1.3" fill="#1b1b1b"/><rect x="169.9" y="170.9" width="1.3" height="1.3" fill="#1b1b1b"/>
<rect x="220.2" y="136.3" width="1.4" height="1.4" fill="#111"/>
<rect x="287.4" y="135.1" width="1.5" height="1.5" fill="#111"/><rect x="287.4" y="136.8" width="1.5" height="1.5" fill="#111"/><rect x="287.4" y="138.8" width="1.5" height="1.5" fill="#111"/><rect x="287.4" y="140.8" width="1.5" height="1.5" fill="#111"/><rect x="287.4" y="142.8" width="1.5" height="1.5" fill="#111"/><rect x="287.4" y="144.8" width="1.5" height="1.5" fill="#111"/><rect x="287.4" y="146.8" width="1.5" height="1.5" fill="#111"/><rect x="287.4" y="148.8" width="1.5" height="1.5" fill="#111"/>
<rect x="384.8" y="50.7" width="1.4" height="1.4" fill="#111"/><rect x="384.8" y="61.4" width="1.4" height="1.4" fill="#111"/><rect x="384.8" y="64.1" width="1.4" height="1.4" fill="#111"/><rect x="384.8" y="74.8" width="1.4" height="1.4" fill="#111"/><rect x="384.8" y="86.8" width="1.4" height="1.4" fill="#111"/><rect x="384.8" y="94.8" width="1.4" height="1.4" fill="#111"/><rect x="384.8" y="102.3" width="1.4" height="1.4" fill="#111"/><rect x="384.8" y="110.3" width="1.4" height="1.4" fill="#111"/><rect x="384.8" y="114.3" width="1.4" height="1.4" fill="#111"/><rect x="384.8" y="118.3" width="1.4" height="1.4" fill="#111"/><rect x="384.8" y="122.8" width="1.4" height="1.4" fill="#111"/><rect x="384.8" y="126.8" width="1.4" height="1.4" fill="#111"/><rect x="384.8" y="131.7" width="1.4" height="1.4" fill="#111"/><rect x="384.8" y="134.9" width="1.4" height="1.4" fill="#111"/><rect x="384.8" y="136.8" width="1.4" height="1.4" fill="#111"/><rect x="384.8" y="138.8" width="1.4" height="1.4" fill="#111"/><rect x="384.8" y="140.8" width="1.4" height="1.4" fill="#111"/><rect x="384.8" y="142.8" width="1.4" height="1.4" fill="#111"/><rect x="384.8" y="144.8" width="1.4" height="1.4" fill="#111"/><rect x="384.8" y="146.8" width="1.4" height="1.4" fill="#111"/><rect x="384.8" y="148.8" width="1.4" height="1.4" fill="#111"/><rect x="384.8" y="151.3" width="1.4" height="1.4" fill="#111"/><rect x="384.8" y="154.3" width="1.4" height="1.4" fill="#111"/><rect x="384.8" y="157.3" width="1.4" height="1.4" fill="#111"/>
<rect x="372.9" y="138.3" width="1.3" height="1.3" fill="#777"/><rect x="372.9" y="142.3" width="1.3" height="1.3" fill="#777"/>
<path d="M149.1 97.4L164.7 139.5" stroke="#999" stroke-width="0.6"/>
<path d="M209.5 87.2V142.9" stroke="#bbb" stroke-width="0.7"/>
<text transform="translate(99.45,123.7) rotate(-90)" font-size="7.92" font-style="italic" font-weight="normal" fill="#7c7c7c" stroke="#7c7c7c" stroke-width="0.12" textLength="36.1" lengthAdjust="spacingAndGlyphs">FLJ30838</text>
<text transform="translate(151.65,93.6) rotate(-90)" font-size="8.33" font-style="italic" font-weight="bold" fill="#111" textLength="25.6" lengthAdjust="spacingAndGlyphs">NPY5R</text>
<text transform="translate(175.65,124.1) rotate(-90)" font-size="8.06" font-style="italic" font-weight="normal" fill="#7c7c7c" stroke="#7c7c7c" stroke-width="0.12" textLength="34.6" lengthAdjust="spacingAndGlyphs">RANBP3L</text>
<text transform="translate(211.95,82.7) rotate(-90)" font-size="7.50" font-style="italic" font-weight="normal" fill="#7c7c7c" stroke="#7c7c7c" stroke-width="0.12" textLength="23.8" lengthAdjust="spacingAndGlyphs">TIAM2</text>
<text transform="translate(223.45,132.1) rotate(-90)" font-size="6.94" font-style="italic" font-weight="normal" fill="#7c7c7c" stroke="#7c7c7c" stroke-width="0.12" textLength="26.2" lengthAdjust="spacingAndGlyphs">MAGI2</text>
<text transform="translate(291.45,132.1) rotate(-90)" font-size="8.89" font-style="italic" font-weight="normal" fill="#7c7c7c" stroke="#7c7c7c" stroke-width="0.12" textLength="37.1" lengthAdjust="spacingAndGlyphs">MIR129-2</text>
<text transform="translate(376.75,135.8) rotate(-90)" font-size="8.06" font-style="italic" font-weight="normal" fill="#7c7c7c" stroke="#7c7c7c" stroke-width="0.12" textLength="27.9" lengthAdjust="spacingAndGlyphs">KLHL14</text>
<text transform="translate(386.05,44.9) rotate(-90)" font-size="8.33" font-style="italic" font-weight="bold" fill="#111" textLength="21.2" lengthAdjust="spacingAndGlyphs">APOE</text>
<path fill="#9a9a9a" d="M89 504.4L89 487.4L90 487.4L90 490.9L91 490.9L91 488.3L92 488.3L92 487.4L93 487.4L93 487.5L94 487.5L94 490L95 490L95 487.2L96 487.2L96 488.3L97 488.3L97 488.9L98 488.9L98 487L99 487L99 489.3L100 489.3L100 488.1L101 488.1L101 489.1L102 489.1L102 489L103 489L103 487.2L104 487.2L104 487L105 487L105 491.4L106 491.4L106 489.4L107 489.4L107 487.5L108 487.5L108 490.6L109 490.6L109 487.5L110 487.5L110 488.3L111 488.3L111 489.4L112 489.4L112 489.5L113 489.5L113 488.8L114 488.8L114 488.7L115 488.7L115 487.2L116 487.2L116 492.2L117 492.2L117 487.1L118 487.1L118 488.7L119.1 488.7L119.1 504.4ZM144.2 504.4L144.2 486.5L145.2 486.5L145.2 485.9L146.2 485.9L146.2 487.9L147.2 487.9L147.2 486.8L148.2 486.8L148.2 486.7L149.2 486.7L149.2 486.6L150.2 486.6L150.2 487.8L151.2 487.8L151.2 485.9L152.2 485.9L152.2 485.5L153.2 485.5L153.2 485.5L154.2 485.5L154.2 486L155.2 486L155.2 485.5L156.2 485.5L156.2 486.7L157.2 486.7L157.2 485.5L158.2 485.5L158.2 485.1L159.2 485.1L159.2 486.1L160.2 486.1L160.2 488L161.2 488L161.2 486.2L162.2 486.2L162.2 485.3L163.2 485.3L163.2 487L164.2 487L164.2 486.2L165.2 486.2L165.2 485.2L166.2 485.2L166.2 485.8L167.2 485.8L167.2 486.1L167.8 486.1L167.8 504.4ZM190.6 504.4L190.6 489.2L191.6 489.2L191.6 488.8L192.6 488.8L192.6 487.3L193.6 487.3L193.6 488.3L194.6 488.3L194.6 487.5L195.6 487.5L195.6 488.4L196.6 488.4L196.6 486.2L197.6 486.2L197.6 486.2L198.6 486.2L198.6 489.2L199.6 489.2L199.6 488L200.6 488L200.6 490.2L201.6 490.2L201.6 487.8L202.6 487.8L202.6 491.4L203.6 491.4L203.6 487.6L204.6 487.6L204.6 487.9L205.6 487.9L205.6 487.6L206.6 487.6L206.6 487.7L207.6 487.7L207.6 488.4L208.6 488.4L208.6 486.7L209.6 486.7L209.6 486.5L210.6 486.5L210.6 487.5L211.9 487.5L211.9 504.4ZM231.9 504.4L231.9 488L232.9 488L232.9 486.9L233.9 486.9L233.9 489.7L234.9 489.7L234.9 486.7L235.9 486.7L235.9 489.5L236.9 489.5L236.9 488.2L237.9 488.2L237.9 491.2L238.9 491.2L238.9 486.2L239.9 486.2L239.9 486L240.9 486L240.9 488.7L241.9 488.7L241.9 486.9L242.9 486.9L242.9 486.8L243.9 486.8L243.9 486.6L244.9 486.6L244.9 486.9L245.9 486.9L245.9 488.6L246.9 488.6L246.9 486.7L247.9 486.7L247.9 486.5L248.9 486.5L248.9 486.1L250 486.1L250 504.4ZM267 504.4L267 486.9L268 486.9L268 486.1L269 486.1L269 486.6L270 486.6L270 486.1L271 486.1L271 487.2L272 487.2L272 488.8L273 488.8L273 488.9L274 488.9L274 488.2L275 488.2L275 486L276 486L276 486.9L277 486.9L277 488.1L278 488.1L278 487.7L279 487.7L279 487.6L280 487.6L280 488.4L281 488.4L281 486.4L282 486.4L282 487.4L283 487.4L283 488.9L283.9 488.9L283.9 504.4ZM300.7 504.4L300.7 486.9L301.7 486.9L301.7 486.9L302.7 486.9L302.7 486.2L303.7 486.2L303.7 486.9L304.7 486.9L304.7 489.7L305.7 489.7L305.7 488L306.7 488L306.7 488.2L307.7 488.2L307.7 486.5L308.7 486.5L308.7 491.2L309.7 491.2L309.7 486.9L310.7 486.9L310.7 487.5L311.7 487.5L311.7 486.6L312.7 486.6L312.7 486.7L313.7 486.7L313.7 486.7L314.7 486.7L314.7 486.3L315.7 486.3L315.7 488.4L316.7 488.4L316.7 486.8L317.5 486.8L317.5 504.4ZM330.1 504.4L330.1 487.7L331.1 487.7L331.1 486.1L332.1 486.1L332.1 486.8L333.1 486.8L333.1 488.8L334.1 488.8L334.1 489.3L335.1 489.3L335.1 487.6L336.1 487.6L336.1 487.5L337.1 487.5L337.1 488.9L338.1 488.9L338.1 487.4L339.1 487.4L339.1 487.6L340.1 487.6L340.1 487.2L340.8 487.2L340.8 504.4ZM351 504.4L351 487.7L352 487.7L352 487L353 487L353 486.6L354 486.6L354 486.1L355 486.1L355 486.5L356 486.5L356 488.3L357 488.3L357 486.6L358 486.6L358 487.3L359 487.3L359 486.2L360 486.2L360 487.2L361 487.2L361 486.4L362.2 486.4L362.2 504.4ZM372.3 504.4L372.3 486.5L373.3 486.5L373.3 487.4L374.3 487.4L374.3 489.9L375.3 489.9L375.3 486.7L376.3 486.7L376.3 487.1L377.3 487.1L377.3 488.5L378.3 488.5L378.3 486.2L379.3 486.2L379.3 486.9L380.3 486.9L380.3 489.5L381.3 489.5L381.3 488.6L382.3 488.6L382.3 504.4ZM389.5 504.4L389.5 486.3L390.5 486.3L390.5 487.5L391.5 487.5L391.5 487.1L392.5 487.1L392.5 487.4L393.5 487.4L393.5 486.4L394.5 486.4L394.5 486.6L395.5 486.6L395.5 487.8L396.5 487.8L396.5 487.4L397.5 487.4L397.5 504.4ZM402.8 504.4L402.8 486L403.8 486L403.8 487.5L404.8 487.5L404.8 488L405.8 488L405.8 487.1L406.8 487.1L406.8 486.8L407.6 486.8L407.6 504.4Z"/>
<path fill="#1b1b1b" d="M58 504.4L58 484.6L59 484.6L59 483.8L60 483.8L60 484.9L61 484.9L61 483.5L62 483.5L62 486.1L63 486.1L63 484.9L64 484.9L64 484.9L65 484.9L65 486.9L66 486.9L66 484.9L67 484.9L67 486.2L68 486.2L68 483.6L69 483.6L69 486.5L70 486.5L70 484.5L71 484.5L71 483.9L72 483.9L72 487L73 487L73 484.5L74 484.5L74 504.4ZM77 504.4L77 484.8L78 484.8L78 486.7L79 486.7L79 485.2L80 485.2L80 484.2L81 484.2L81 483.7L82 483.7L82 484.7L83 484.7L83 485.6L84 485.6L84 486.2L85 486.2L85 485.3L86 485.3L86 484L87 484L87 484.8L88 484.8L88 491.3L89 491.3L89 504.4ZM119.1 504.4L119.1 487.2L120.1 487.2L120.1 483L121.1 483L121.1 486L122.1 486L122.1 484.3L123.1 484.3L123.1 483.8L124.1 483.8L124.1 484.3L125.1 484.3L125.1 484.3L126.1 484.3L126.1 483.5L127.1 483.5L127.1 484.3L128.1 484.3L128.1 486.1L129.1 486.1L129.1 483.7L130.1 483.7L130.1 487L131.1 487L131.1 483.5L132.1 483.5L132.1 484.8L133.1 484.8L133.1 485.4L134.1 485.4L134.1 484.1L135.1 484.1L135.1 483.9L136.1 483.9L136.1 483.1L137.1 483.1L137.1 484.6L138.1 484.6L138.1 486.7L139.1 486.7L139.1 484.1L140.1 484.1L140.1 484.7L141.1 484.7L141.1 485.7L142.1 485.7L142.1 484.2L143.1 484.2L143.1 483.9L144.2 483.9L144.2 504.4ZM167.8 504.4L167.8 485.9L168.8 485.9L168.8 484.8L169.8 484.8L169.8 487.5L170.8 487.5L170.8 484.4L171.8 484.4L171.8 484.5L172.8 484.5L172.8 485.6L173.8 485.6L173.8 486.5L174.8 486.5L174.8 485.6L175.8 485.6L175.8 486.8L176.8 486.8L176.8 485.7L177.8 485.7L177.8 484.8L178.8 484.8L178.8 488.8L179.8 488.8L179.8 484.3L180.8 484.3L180.8 486.7L181.8 486.7L181.8 484.6L182.8 484.6L182.8 488.6L183.8 488.6L183.8 484.1L184.8 484.1L184.8 486.1L185.8 486.1L185.8 485.1L186.8 485.1L186.8 484.5L187.8 484.5L187.8 485.6L188.8 485.6L188.8 484.5L189.8 484.5L189.8 486.6L190.6 486.6L190.6 504.4ZM211.9 504.4L211.9 484.3L212.9 484.3L212.9 483.5L213.9 483.5L213.9 485.6L214.9 485.6L214.9 486.8L215.9 486.8L215.9 485.9L216.9 485.9L216.9 483.3L217.9 483.3L217.9 485.9L218.9 485.9L218.9 483.8L219.9 483.8L219.9 486.6L220.9 486.6L220.9 485.5L221.9 485.5L221.9 486L222.9 486L222.9 484.2L223.9 484.2L223.9 485.3L224.9 485.3L224.9 483.9L225.9 483.9L225.9 484.8L226.9 484.8L226.9 483.6L227.9 483.6L227.9 486.8L228.9 486.8L228.9 485L229.9 485L229.9 483.5L230.9 483.5L230.9 483L231.9 483L231.9 504.4ZM250 504.4L250 485.4L251 485.4L251 489.6L252 489.6L252 486.2L253 486.2L253 484.2L254 484.2L254 484.3L255 484.3L255 484.5L255.9 484.5L255.9 504.4ZM258.7 504.4L258.7 484.8L259.7 484.8L259.7 484.8L260.7 484.8L260.7 485.3L261.7 485.3L261.7 485.1L262.7 485.1L262.7 485.7L263.7 485.7L263.7 484.1L264.7 484.1L264.7 488.3L265.7 488.3L265.7 484.4L267 484.4L267 504.4ZM283.9 504.4L283.9 484.7L284.9 484.7L284.9 484.4L285.9 484.4L285.9 486.3L286.9 486.3L286.9 486.1L287.9 486.1L287.9 484.4L288.9 484.4L288.9 486.8L289.9 486.8L289.9 484.9L290.9 484.9L290.9 484.5L291.9 484.5L291.9 484.8L292.9 484.8L292.9 485.2L293.9 485.2L293.9 486.9L294.9 486.9L294.9 485.6L295.9 485.6L295.9 486.4L296.9 486.4L296.9 484.7L297.9 484.7L297.9 486.4L298.9 486.4L298.9 485.7L299.9 485.7L299.9 484.2L300.7 484.2L300.7 504.4ZM317.5 504.4L317.5 485.1L318.5 485.1L318.5 485.6L319.5 485.6L319.5 485.8L320.5 485.8L320.5 485.7L321.5 485.7L321.5 484.3L322.5 484.3L322.5 483.4L323.5 483.4L323.5 484.1L324.5 484.1L324.5 483.9L325.5 483.9L325.5 483.1L326.5 483.1L326.5 484.8L327.5 484.8L327.5 484.2L328.5 484.2L328.5 483L329.5 483L329.5 485.6L330.1 485.6L330.1 504.4ZM340.8 504.4L340.8 484.7L341.8 484.7L341.8 484.3L342.8 484.3L342.8 485.1L343.8 485.1L343.8 484.9L344.8 484.9L344.8 487.1L345.8 487.1L345.8 486L346.8 486L346.8 484.1L347.8 484.1L347.8 484.5L348.8 484.5L348.8 486.6L349.8 486.6L349.8 484.7L351 484.7L351 504.4ZM362.2 504.4L362.2 484.9L363.2 484.9L363.2 485.4L364.2 485.4L364.2 487.8L365.2 487.8L365.2 485.2L366.2 485.2L366.2 488L367.2 488L367.2 489.9L368.2 489.9L368.2 485.9L369.2 485.9L369.2 485.6L370.2 485.6L370.2 488L371.2 488L371.2 485.8L372.3 485.8L372.3 504.4ZM382.3 504.4L382.3 485.3L383.3 485.3L383.3 484.2L384.3 484.2L384.3 485.1L385.3 485.1L385.3 489.7L386.3 489.7L386.3 485.2L387.3 485.2L387.3 484.6L388.3 484.6L388.3 485.3L389.5 485.3L389.5 504.4ZM397.5 504.4L397.5 486.8L398.5 486.8L398.5 484.1L399.5 484.1L399.5 484.5L400.5 484.5L400.5 484.5L401.5 484.5L401.5 486.7L402.8 486.7L402.8 504.4Z"/>
<path fill="#fff" d="M62.5 486.5h0.9v0.9h-0.9zM60.8 484.2h0.9v0.9h-0.9zM72.4 485.4h0.9v0.9h-0.9zM67.2 484.5h0.9v0.9h-0.9zM70.9 494.3h0.9v0.9h-0.9zM58.6 485.3h0.9v0.9h-0.9zM69.2 484.3h0.9v0.9h-0.9zM58.4 484.4h0.9v0.9h-0.9zM60.1 490.1h0.9v0.9h-0.9zM80.8 490h0.9v0.9h-0.9zM82 484.5h0.9v0.9h-0.9zM81 488h0.9v0.9h-0.9zM87.6 484.8h0.9v0.9h-0.9zM78 484.7h0.9v0.9h-0.9zM83.8 484.9h0.9v0.9h-0.9zM81.3 487.7h0.9v0.9h-0.9zM114.5 489h0.9v0.9h-0.9zM101.4 490.8h0.9v0.9h-0.9zM113.6 487.8h0.9v0.9h-0.9zM97.1 493.9h0.9v0.9h-0.9zM94.7 487.7h0.9v0.9h-0.9zM95.5 493.7h0.9v0.9h-0.9zM109.9 492.6h0.9v0.9h-0.9zM105.5 491h0.9v0.9h-0.9zM104.2 492.6h0.9v0.9h-0.9zM108 499h0.9v0.9h-0.9zM115.4 488.4h0.9v0.9h-0.9zM90.1 490.1h0.9v0.9h-0.9zM102 495.1h0.9v0.9h-0.9zM98 488h0.9v0.9h-0.9zM109.3 492.2h0.9v0.9h-0.9zM89.2 492.2h0.9v0.9h-0.9zM94.9 488.5h0.9v0.9h-0.9zM102.4 490.6h0.9v0.9h-0.9zM105.4 494.5h0.9v0.9h-0.9zM102.7 492.2h0.9v0.9h-0.9zM94.8 489.2h0.9v0.9h-0.9zM113.9 489h0.9v0.9h-0.9zM92.2 493.5h0.9v0.9h-0.9zM110 488h0.9v0.9h-0.9zM100.3 488.3h0.9v0.9h-0.9zM115.1 489h0.9v0.9h-0.9zM96.3 497.4h0.9v0.9h-0.9zM103 488.3h0.9v0.9h-0.9zM92.7 491.8h0.9v0.9h-0.9zM109.2 488h0.9v0.9h-0.9zM94.3 491.5h0.9v0.9h-0.9zM91.2 508.1h0.9v0.9h-0.9zM105.6 487.9h0.9v0.9h-0.9zM109.2 490.6h0.9v0.9h-0.9zM107.3 508.8h0.9v0.9h-0.9zM105.7 490.9h0.9v0.9h-0.9zM106.9 488h0.9v0.9h-0.9zM98.7 493.4h0.9v0.9h-0.9zM105.6 487.7h0.9v0.9h-0.9zM114.3 491.6h0.9v0.9h-0.9zM96.2 487.7h0.9v0.9h-0.9zM116 493.9h0.9v0.9h-0.9zM98 488.3h0.9v0.9h-0.9zM113.9 488.1h0.9v0.9h-0.9zM104.2 490.7h0.9v0.9h-0.9zM116.4 489.5h0.9v0.9h-0.9zM92.1 492.6h0.9v0.9h-0.9zM115.6 488.8h0.9v0.9h-0.9zM91.6 487.6h0.9v0.9h-0.9zM113.4 491h0.9v0.9h-0.9zM102.5 489.7h0.9v0.9h-0.9zM100.6 488.8h0.9v0.9h-0.9zM101.7 488.3h0.9v0.9h-0.9zM104.6 489h0.9v0.9h-0.9zM135.2 484.3h0.9v0.9h-0.9zM127.9 483.5h0.9v0.9h-0.9zM119.5 487.1h0.9v0.9h-0.9zM141.1 483.6h0.9v0.9h-0.9zM123.8 485.9h0.9v0.9h-0.9zM120.9 484.2h0.9v0.9h-0.9zM137.3 484.1h0.9v0.9h-0.9zM126.5 484.3h0.9v0.9h-0.9zM124.1 486.4h0.9v0.9h-0.9zM142.1 484.2h0.9v0.9h-0.9zM125.3 484.6h0.9v0.9h-0.9zM135.8 484.2h0.9v0.9h-0.9zM138.9 484.2h0.9v0.9h-0.9zM123.9 483.7h0.9v0.9h-0.9zM129.5 493.5h0.9v0.9h-0.9zM147.7 486.5h0.9v0.9h-0.9zM165.1 488.2h0.9v0.9h-0.9zM149.6 486.8h0.9v0.9h-0.9zM148 485.5h0.9v0.9h-0.9zM151.7 486.3h0.9v0.9h-0.9zM164.3 487.2h0.9v0.9h-0.9zM155.7 490.2h0.9v0.9h-0.9zM155.4 485.6h0.9v0.9h-0.9zM160.9 487.5h0.9v0.9h-0.9zM164.8 492h0.9v0.9h-0.9zM147.2 486.9h0.9v0.9h-0.9zM144.5 486.2h0.9v0.9h-0.9zM160.3 490.8h0.9v0.9h-0.9zM165.6 488.9h0.9v0.9h-0.9zM150.5 485.7h0.9v0.9h-0.9zM160.9 487.7h0.9v0.9h-0.9zM146.8 492.3h0.9v0.9h-0.9zM165.8 485.9h0.9v0.9h-0.9zM157.9 493.8h0.9v0.9h-0.9zM158.2 486.2h0.9v0.9h-0.9zM164.6 486.9h0.9v0.9h-0.9zM158.8 486.2h0.9v0.9h-0.9zM148.3 494.5h0.9v0.9h-0.9zM150.1 488.6h0.9v0.9h-0.9zM163.7 487.9h0.9v0.9h-0.9zM157 485.7h0.9v0.9h-0.9zM161.7 491.7h0.9v0.9h-0.9zM157.5 501.1h0.9v0.9h-0.9zM154.9 488.3h0.9v0.9h-0.9zM161 488.5h0.9v0.9h-0.9zM158 487.7h0.9v0.9h-0.9zM148.8 486.9h0.9v0.9h-0.9zM162.4 493.3h0.9v0.9h-0.9zM162 486.1h0.9v0.9h-0.9zM151.7 487.1h0.9v0.9h-0.9zM150.9 486.3h0.9v0.9h-0.9zM154 488.3h0.9v0.9h-0.9zM166.6 485.7h0.9v0.9h-0.9zM158.7 499.4h0.9v0.9h-0.9zM162.7 490.4h0.9v0.9h-0.9zM158.9 495.4h0.9v0.9h-0.9zM153.3 487.3h0.9v0.9h-0.9zM184 485.5h0.9v0.9h-0.9zM172.8 487.7h0.9v0.9h-0.9zM172 486.6h0.9v0.9h-0.9zM174 490h0.9v0.9h-0.9zM171.6 491.8h0.9v0.9h-0.9zM175.9 487.1h0.9v0.9h-0.9zM184.2 488.9h0.9v0.9h-0.9zM179.6 484.6h0.9v0.9h-0.9zM179.6 487h0.9v0.9h-0.9zM187.4 485.2h0.9v0.9h-0.9zM171.2 485.4h0.9v0.9h-0.9zM185 484.5h0.9v0.9h-0.9zM168.6 487h0.9v0.9h-0.9zM198.9 487.3h0.9v0.9h-0.9zM207.8 489.1h0.9v0.9h-0.9zM201.4 488.1h0.9v0.9h-0.9zM192.2 488h0.9v0.9h-0.9zM191.7 488.8h0.9v0.9h-0.9zM209.9 487.8h0.9v0.9h-0.9zM201.1 488.4h0.9v0.9h-0.9zM209.8 492.9h0.9v0.9h-0.9zM205 491h0.9v0.9h-0.9zM206.5 487.7h0.9v0.9h-0.9zM195 488.5h0.9v0.9h-0.9zM197 488.9h0.9v0.9h-0.9zM199.2 491.4h0.9v0.9h-0.9zM201.2 489.4h0.9v0.9h-0.9zM201.9 490.9h0.9v0.9h-0.9zM191.2 488.6h0.9v0.9h-0.9zM206.7 491.6h0.9v0.9h-0.9zM203.9 487.4h0.9v0.9h-0.9zM205.5 495.2h0.9v0.9h-0.9zM203.7 489.3h0.9v0.9h-0.9zM199.4 488.4h0.9v0.9h-0.9zM209.7 495.7h0.9v0.9h-0.9zM198.4 493.2h0.9v0.9h-0.9zM207.9 494.3h0.9v0.9h-0.9zM196.3 496.4h0.9v0.9h-0.9zM197.5 498.4h0.9v0.9h-0.9zM192.9 487.8h0.9v0.9h-0.9zM198.1 491.8h0.9v0.9h-0.9zM195.6 487.8h0.9v0.9h-0.9zM195.8 489.7h0.9v0.9h-0.9zM195.8 489.4h0.9v0.9h-0.9zM204.5 492.9h0.9v0.9h-0.9zM199.8 491.4h0.9v0.9h-0.9zM195.7 488.2h0.9v0.9h-0.9zM201.4 488h0.9v0.9h-0.9zM202 486.9h0.9v0.9h-0.9zM199.1 488.1h0.9v0.9h-0.9zM201.5 492.7h0.9v0.9h-0.9zM215.4 483.8h0.9v0.9h-0.9zM227.6 487h0.9v0.9h-0.9zM212.8 487.1h0.9v0.9h-0.9zM217.1 486.6h0.9v0.9h-0.9zM220.5 485.5h0.9v0.9h-0.9zM223.8 485.8h0.9v0.9h-0.9zM228.9 486.9h0.9v0.9h-0.9zM219.1 485.2h0.9v0.9h-0.9zM212.4 486h0.9v0.9h-0.9zM212.9 485.4h0.9v0.9h-0.9zM229.5 485.6h0.9v0.9h-0.9zM212.8 483.9h0.9v0.9h-0.9zM236.9 497.1h0.9v0.9h-0.9zM246.6 491.3h0.9v0.9h-0.9zM240.7 490.3h0.9v0.9h-0.9zM242.7 490.4h0.9v0.9h-0.9zM232.2 489.8h0.9v0.9h-0.9zM240.7 487.4h0.9v0.9h-0.9zM237 487.9h0.9v0.9h-0.9zM246 488.9h0.9v0.9h-0.9zM235.7 490.8h0.9v0.9h-0.9zM246 489h0.9v0.9h-0.9zM234.1 490.6h0.9v0.9h-0.9zM243.8 494.9h0.9v0.9h-0.9zM232.1 488.3h0.9v0.9h-0.9zM248.5 498.4h0.9v0.9h-0.9zM236.4 486.7h0.9v0.9h-0.9zM240.1 487.6h0.9v0.9h-0.9zM234.6 489.4h0.9v0.9h-0.9zM235 494.2h0.9v0.9h-0.9zM235.9 498.7h0.9v0.9h-0.9zM238 488.1h0.9v0.9h-0.9zM244.9 489.7h0.9v0.9h-0.9zM234.3 489h0.9v0.9h-0.9zM241.4 489.3h0.9v0.9h-0.9zM238.4 495.8h0.9v0.9h-0.9zM242.5 486.9h0.9v0.9h-0.9zM247.1 487.7h0.9v0.9h-0.9zM236.6 486.8h0.9v0.9h-0.9zM232.6 487.1h0.9v0.9h-0.9zM236.3 488.9h0.9v0.9h-0.9zM235.8 489.7h0.9v0.9h-0.9zM241 488.2h0.9v0.9h-0.9zM239.3 488h0.9v0.9h-0.9zM254.6 485.6h0.9v0.9h-0.9zM253.8 488.2h0.9v0.9h-0.9zM251.1 485.2h0.9v0.9h-0.9zM262.2 485.5h0.9v0.9h-0.9zM263.3 486.1h0.9v0.9h-0.9zM262.6 486.5h0.9v0.9h-0.9zM261.2 491.3h0.9v0.9h-0.9zM279 489.9h0.9v0.9h-0.9zM277.3 489.7h0.9v0.9h-0.9zM270.1 487.6h0.9v0.9h-0.9zM272.9 490.4h0.9v0.9h-0.9zM271.7 489h0.9v0.9h-0.9zM273.6 491.6h0.9v0.9h-0.9zM282.9 489.7h0.9v0.9h-0.9zM274.7 487.5h0.9v0.9h-0.9zM276.7 487.5h0.9v0.9h-0.9zM279.1 494.1h0.9v0.9h-0.9zM270.2 488.9h0.9v0.9h-0.9zM277.2 492h0.9v0.9h-0.9zM272.8 494.8h0.9v0.9h-0.9zM268.1 487.7h0.9v0.9h-0.9zM271.8 493.4h0.9v0.9h-0.9zM270 487.1h0.9v0.9h-0.9zM273.1 489.3h0.9v0.9h-0.9zM278.8 486.9h0.9v0.9h-0.9zM278.7 487h0.9v0.9h-0.9zM274.2 488.7h0.9v0.9h-0.9zM269.6 487.8h0.9v0.9h-0.9zM272.8 488.1h0.9v0.9h-0.9zM275.5 489.5h0.9v0.9h-0.9zM276.5 486.7h0.9v0.9h-0.9zM280 489.3h0.9v0.9h-0.9zM268.1 494.8h0.9v0.9h-0.9zM269.8 487.9h0.9v0.9h-0.9zM279.1 486.6h0.9v0.9h-0.9zM282.2 488.5h0.9v0.9h-0.9zM276.7 487.4h0.9v0.9h-0.9zM285.2 487.7h0.9v0.9h-0.9zM295.7 486.9h0.9v0.9h-0.9zM288 487.5h0.9v0.9h-0.9zM293.2 485.2h0.9v0.9h-0.9zM292.3 487.8h0.9v0.9h-0.9zM296.5 484.8h0.9v0.9h-0.9zM298.3 487.7h0.9v0.9h-0.9zM299.8 486.7h0.9v0.9h-0.9zM299 485.8h0.9v0.9h-0.9zM285.8 485h0.9v0.9h-0.9zM311.9 493.6h0.9v0.9h-0.9zM316.4 489h0.9v0.9h-0.9zM306.9 493.2h0.9v0.9h-0.9zM308.1 486.6h0.9v0.9h-0.9zM306.9 490.4h0.9v0.9h-0.9zM308.8 487.7h0.9v0.9h-0.9zM311.7 488.9h0.9v0.9h-0.9zM300.9 487.2h0.9v0.9h-0.9zM312.6 493.5h0.9v0.9h-0.9zM316.1 492.2h0.9v0.9h-0.9zM308.8 487.7h0.9v0.9h-0.9zM308.3 491.5h0.9v0.9h-0.9zM302.1 497h0.9v0.9h-0.9zM307.3 490.9h0.9v0.9h-0.9zM307.6 489.3h0.9v0.9h-0.9zM315.4 487.2h0.9v0.9h-0.9zM303 491.7h0.9v0.9h-0.9zM309.3 487.4h0.9v0.9h-0.9zM314.1 492.1h0.9v0.9h-0.9zM305.8 487.7h0.9v0.9h-0.9zM310.6 487.2h0.9v0.9h-0.9zM310.1 492.7h0.9v0.9h-0.9zM308.4 492.3h0.9v0.9h-0.9zM301.8 486.7h0.9v0.9h-0.9zM315.5 494.8h0.9v0.9h-0.9zM301.3 488.2h0.9v0.9h-0.9zM310 487.1h0.9v0.9h-0.9zM307.3 487.8h0.9v0.9h-0.9zM310.4 487.2h0.9v0.9h-0.9zM300.9 486.8h0.9v0.9h-0.9zM324.6 485.8h0.9v0.9h-0.9zM328.4 485.5h0.9v0.9h-0.9zM318.2 484.8h0.9v0.9h-0.9zM321.1 485.8h0.9v0.9h-0.9zM325.5 488.4h0.9v0.9h-0.9zM327 483.9h0.9v0.9h-0.9zM319.6 486.2h0.9v0.9h-0.9zM336.7 487.8h0.9v0.9h-0.9zM332.5 487.3h0.9v0.9h-0.9zM330.1 491.3h0.9v0.9h-0.9zM333 486.7h0.9v0.9h-0.9zM334.5 490.3h0.9v0.9h-0.9zM337.5 491.7h0.9v0.9h-0.9zM332 488.5h0.9v0.9h-0.9zM339.1 488.5h0.9v0.9h-0.9zM335.5 487.6h0.9v0.9h-0.9zM337.4 489.4h0.9v0.9h-0.9zM334 487.2h0.9v0.9h-0.9zM336.3 493h0.9v0.9h-0.9zM334 487.2h0.9v0.9h-0.9zM332.5 494.7h0.9v0.9h-0.9zM330.6 494.1h0.9v0.9h-0.9zM331 487.5h0.9v0.9h-0.9zM336 487.7h0.9v0.9h-0.9zM336.6 489.4h0.9v0.9h-0.9zM332.2 487.4h0.9v0.9h-0.9zM342.6 485.2h0.9v0.9h-0.9zM348.1 487.4h0.9v0.9h-0.9zM345.3 485.4h0.9v0.9h-0.9zM349.6 485.4h0.9v0.9h-0.9zM347.5 488.5h0.9v0.9h-0.9zM348.1 485.4h0.9v0.9h-0.9zM354.8 486.8h0.9v0.9h-0.9zM351.7 490.9h0.9v0.9h-0.9zM353.3 490.5h0.9v0.9h-0.9zM355.3 486.6h0.9v0.9h-0.9zM351.2 487.7h0.9v0.9h-0.9zM360.8 487.6h0.9v0.9h-0.9zM355.2 487.4h0.9v0.9h-0.9zM351 488.8h0.9v0.9h-0.9zM357.8 502.2h0.9v0.9h-0.9zM357.6 491.4h0.9v0.9h-0.9zM352 488.5h0.9v0.9h-0.9zM353.2 487h0.9v0.9h-0.9zM351.8 488.5h0.9v0.9h-0.9zM352.5 488.5h0.9v0.9h-0.9zM351.3 487.8h0.9v0.9h-0.9zM354.4 488.9h0.9v0.9h-0.9zM358.7 490.4h0.9v0.9h-0.9zM354.3 486.8h0.9v0.9h-0.9zM355.4 488.3h0.9v0.9h-0.9zM355 492.1h0.9v0.9h-0.9zM367.2 485.4h0.9v0.9h-0.9zM369.9 484.6h0.9v0.9h-0.9zM369.8 487.6h0.9v0.9h-0.9zM362.3 485.4h0.9v0.9h-0.9zM363.4 491.5h0.9v0.9h-0.9zM369.3 485.9h0.9v0.9h-0.9zM377.4 488.8h0.9v0.9h-0.9zM375.1 487.8h0.9v0.9h-0.9zM375.9 490.3h0.9v0.9h-0.9zM378.5 489.7h0.9v0.9h-0.9zM373.7 487.2h0.9v0.9h-0.9zM381.3 491.3h0.9v0.9h-0.9zM374.9 490.5h0.9v0.9h-0.9zM379.7 491.6h0.9v0.9h-0.9zM374.4 487.8h0.9v0.9h-0.9zM380 490.8h0.9v0.9h-0.9zM381.1 490.8h0.9v0.9h-0.9zM376.9 491.3h0.9v0.9h-0.9zM373.2 492.4h0.9v0.9h-0.9zM377.8 487.7h0.9v0.9h-0.9zM373.8 486.7h0.9v0.9h-0.9zM375.7 492.4h0.9v0.9h-0.9zM373 487.8h0.9v0.9h-0.9zM373.9 487.7h0.9v0.9h-0.9zM385.9 486.7h0.9v0.9h-0.9zM386.8 486.1h0.9v0.9h-0.9zM382.8 487.7h0.9v0.9h-0.9zM387.4 486.3h0.9v0.9h-0.9zM396.5 490.2h0.9v0.9h-0.9zM391.6 491.8h0.9v0.9h-0.9zM390.3 491.4h0.9v0.9h-0.9zM393.6 487.2h0.9v0.9h-0.9zM390.4 490.4h0.9v0.9h-0.9zM394.3 488h0.9v0.9h-0.9zM392.7 490.5h0.9v0.9h-0.9zM395.1 488.5h0.9v0.9h-0.9zM392.2 492.1h0.9v0.9h-0.9zM394.2 486.8h0.9v0.9h-0.9zM394.3 489.6h0.9v0.9h-0.9zM394.9 486.8h0.9v0.9h-0.9zM391.9 488.9h0.9v0.9h-0.9zM392.6 488.6h0.9v0.9h-0.9zM398.5 491.7h0.9v0.9h-0.9zM400.5 485.7h0.9v0.9h-0.9zM401 487h0.9v0.9h-0.9zM403.4 487h0.9v0.9h-0.9zM404.1 490.6h0.9v0.9h-0.9zM404.4 486.5h0.9v0.9h-0.9zM403 487.2h0.9v0.9h-0.9zM405.1 486.7h0.9v0.9h-0.9zM404.5 487.9h0.9v0.9h-0.9zM402.9 487.7h0.9v0.9h-0.9zM403 490.2h0.9v0.9h-0.9z"/>
<path fill="#9a9a9a" d="M96.9 487.5h1.4v1.4h-1.4zM112.8 487.6h1.4v1.4h-1.4zM93.1 485.4h1.4v1.4h-1.4zM90.6 477.1h1.4v1.4h-1.4zM113 488.3h1.4v1.4h-1.4zM117.4 474.1h1.4v1.4h-1.4zM94.1 485.6h1.4v1.4h-1.4zM102.3 485.3h1.4v1.4h-1.4zM94.9 487.4h1.4v1.4h-1.4zM108.3 485.1h1.4v1.4h-1.4zM116.9 480.5h1.4v1.4h-1.4zM102.8 485.9h1.4v1.4h-1.4zM100 485.6h1.4v1.4h-1.4zM111.6 487.1h1.4v1.4h-1.4zM92.3 486.3h1.4v1.4h-1.4zM107 480.8h1.4v1.4h-1.4zM113.9 485.4h1.4v1.4h-1.4zM102.2 488.6h1.4v1.4h-1.4zM103.9 486.4h1.4v1.4h-1.4zM104.1 487.1h1.4v1.4h-1.4zM93.9 488.5h1.4v1.4h-1.4zM109.5 487.8h1.4v1.4h-1.4zM117.3 486.3h1.4v1.4h-1.4zM90.9 488.2h1.4v1.4h-1.4zM116.9 486.3h1.4v1.4h-1.4zM93.7 484.3h1.4v1.4h-1.4zM94.6 483.9h1.4v1.4h-1.4zM110 486.9h1.4v1.4h-1.4zM107.9 483h1.4v1.4h-1.4zM115.2 483.6h1.4v1.4h-1.4zM110.1 487.3h1.4v1.4h-1.4zM96.9 483.6h1.4v1.4h-1.4zM97.4 488.1h1.4v1.4h-1.4zM103.8 485.1h1.4v1.4h-1.4zM103.5 487.8h1.4v1.4h-1.4zM99.1 478.9h1.4v1.4h-1.4zM108.4 484.1h1.4v1.4h-1.4zM100.9 488.6h1.4v1.4h-1.4zM111.8 486.1h1.4v1.4h-1.4zM111.3 488.8h1.4v1.4h-1.4zM99.1 482.2h1.4v1.4h-1.4zM115.7 487.5h1.4v1.4h-1.4zM117.2 485.4h1.4v1.4h-1.4zM94.7 489h1.4v1.4h-1.4zM115.7 487.6h1.4v1.4h-1.4zM109.7 482.2h1.4v1.4h-1.4zM91.5 485.3h1.4v1.4h-1.4zM107.5 488.4h1.4v1.4h-1.4zM116.5 484.4h1.4v1.4h-1.4zM89.5 485.5h1.4v1.4h-1.4zM114.8 488h1.4v1.4h-1.4zM112 488.6h1.4v1.4h-1.4zM114.3 485.3h1.4v1.4h-1.4zM100.6 483.1h1.4v1.4h-1.4zM96 476.8h1.4v1.4h-1.4zM91.3 479.7h1.4v1.4h-1.4zM109.6 482h1.4v1.4h-1.4zM114.3 483.5h1.4v1.4h-1.4zM108.5 487.2h1.4v1.4h-1.4zM101.6 488.9h1.4v1.4h-1.4zM98 489h1.4v1.4h-1.4zM96.4 482.2h1.4v1.4h-1.4zM104.6 485.2h1.4v1.4h-1.4zM98.4 488h1.4v1.4h-1.4zM91.2 487.7h1.4v1.4h-1.4zM106.9 482.7h1.4v1.4h-1.4zM108.7 487.5h1.4v1.4h-1.4zM105.2 487.4h1.4v1.4h-1.4zM91.4 488.9h1.4v1.4h-1.4zM105.3 485.3h1.4v1.4h-1.4zM93.4 484.5h1.4v1.4h-1.4zM93 487.5h1.4v1.4h-1.4zM107.6 488.8h1.4v1.4h-1.4zM96.8 482.5h1.4v1.4h-1.4zM108.4 484.9h1.4v1.4h-1.4zM108 488.1h1.4v1.4h-1.4zM90.6 482.4h1.4v1.4h-1.4zM93.2 484.5h1.4v1.4h-1.4zM113.1 488.7h1.4v1.4h-1.4zM113.6 485.8h1.4v1.4h-1.4zM100.1 488.5h1.4v1.4h-1.4zM104 480.1h1.4v1.4h-1.4zM94.8 487.9h1.4v1.4h-1.4zM103.3 487.3h1.4v1.4h-1.4zM101 488.4h1.4v1.4h-1.4zM116.6 485h1.4v1.4h-1.4zM111.6 484.2h1.4v1.4h-1.4zM104.7 486.5h1.4v1.4h-1.4zM107.8 487.9h1.4v1.4h-1.4zM93.1 488.1h1.4v1.4h-1.4zM95.1 475.4h1.4v1.4h-1.4zM98.3 483.3h1.4v1.4h-1.4zM103.7 485.9h1.4v1.4h-1.4zM89.1 487.8h1.4v1.4h-1.4zM113.9 486.8h1.4v1.4h-1.4zM99.5 482.8h1.4v1.4h-1.4zM92.1 488.9h1.4v1.4h-1.4zM115 486.5h1.4v1.4h-1.4zM104.4 486.4h1.4v1.4h-1.4zM111.3 487.9h1.4v1.4h-1.4zM101.2 485.5h1.4v1.4h-1.4zM100.7 489h1.4v1.4h-1.4zM102.2 482.8h1.4v1.4h-1.4zM117.2 486.7h1.4v1.4h-1.4zM104.3 488.3h1.4v1.4h-1.4zM97.1 488.6h1.4v1.4h-1.4zM116.9 488.6h1.4v1.4h-1.4zM107.4 486.9h1.4v1.4h-1.4zM116 483.4h1.4v1.4h-1.4zM94.2 483.8h1.4v1.4h-1.4zM103.8 487.6h1.4v1.4h-1.4zM114.6 488.7h1.4v1.4h-1.4zM109.7 479.2h1.4v1.4h-1.4zM108.2 488.6h1.4v1.4h-1.4zM115.2 487.1h1.4v1.4h-1.4zM98.3 483.2h1.4v1.4h-1.4zM115.4 486.3h1.4v1.4h-1.4zM102.7 484.9h1.4v1.4h-1.4zM104.4 485.5h1.4v1.4h-1.4zM99.7 487.9h1.4v1.4h-1.4zM109.8 487.4h1.4v1.4h-1.4zM94.4 483.5h1.4v1.4h-1.4zM97.7 485.5h1.4v1.4h-1.4zM97.3 486.8h1.4v1.4h-1.4zM92.8 483.9h1.4v1.4h-1.4zM94.4 484.1h1.4v1.4h-1.4zM92 486.5h1.4v1.4h-1.4zM116.2 479.7h1.4v1.4h-1.4zM114.6 488.6h1.4v1.4h-1.4zM111.6 488.5h1.4v1.4h-1.4zM116.3 477.8h1.4v1.4h-1.4zM108.9 485.2h1.4v1.4h-1.4zM110.7 486.4h1.4v1.4h-1.4zM107.8 483.2h1.4v1.4h-1.4zM96.3 487.1h1.4v1.4h-1.4zM103.5 485.5h1.4v1.4h-1.4zM95.1 486.2h1.4v1.4h-1.4zM114.4 488.5h1.4v1.4h-1.4zM103.1 486.5h1.4v1.4h-1.4zM92.2 488h1.4v1.4h-1.4zM101.5 488.8h1.4v1.4h-1.4zM96.4 486.3h1.4v1.4h-1.4zM95.6 483.3h1.4v1.4h-1.4zM117 487.5h1.4v1.4h-1.4zM100.5 485.3h1.4v1.4h-1.4zM97.8 488.2h1.4v1.4h-1.4zM107.6 488.5h1.4v1.4h-1.4zM89.1 487.3h1.4v1.4h-1.4zM114.2 488.5h1.4v1.4h-1.4zM114.6 482.6h1.4v1.4h-1.4zM112.9 483.2h1.4v1.4h-1.4zM109.4 475.9h1.4v1.4h-1.4zM93.9 487.7h1.4v1.4h-1.4zM105.4 488.3h1.4v1.4h-1.4zM103.9 488.1h1.4v1.4h-1.4zM117.1 483.2h1.4v1.4h-1.4zM117.7 485.4h1.2v1.2h-1.2zM117.7 486.8h1.2v1.2h-1.2zM117.7 488.5h1.2v1.2h-1.2zM111 480.4h1.2v1.2h-1.2zM111 481.3h1.2v1.2h-1.2zM111 482.3h1.2v1.2h-1.2zM111 483.8h1.2v1.2h-1.2zM111 485.2h1.2v1.2h-1.2zM111 486.4h1.2v1.2h-1.2zM111 488.5h1.2v1.2h-1.2zM95.1 478.2h1.2v1.2h-1.2zM95.1 479.7h1.2v1.2h-1.2zM95.1 481.6h1.2v1.2h-1.2zM95.1 483.1h1.2v1.2h-1.2zM95.1 483.7h1.2v1.2h-1.2zM95.1 485.1h1.2v1.2h-1.2zM95.1 486h1.2v1.2h-1.2zM95.1 486.9h1.2v1.2h-1.2zM95.1 488.8h1.2v1.2h-1.2zM149.9 486.6h1.4v1.4h-1.4zM162.8 483.6h1.4v1.4h-1.4zM156.4 484.8h1.4v1.4h-1.4zM163.7 477.3h1.4v1.4h-1.4zM159.8 472.2h1.4v1.4h-1.4zM144.3 475.7h1.4v1.4h-1.4zM157.6 486.9h1.4v1.4h-1.4zM147.9 486h1.4v1.4h-1.4zM153.4 486h1.4v1.4h-1.4zM149.6 484h1.4v1.4h-1.4zM145.7 486.4h1.4v1.4h-1.4zM149.4 480.7h1.4v1.4h-1.4zM147.9 486.5h1.4v1.4h-1.4zM153.5 483h1.4v1.4h-1.4zM157.7 476.7h1.4v1.4h-1.4zM154 479.3h1.4v1.4h-1.4zM159.2 481.3h1.4v1.4h-1.4zM153.7 485.2h1.4v1.4h-1.4zM155.9 485.4h1.4v1.4h-1.4zM147.5 481.8h1.4v1.4h-1.4zM154.1 483.3h1.4v1.4h-1.4zM148.4 485.2h1.4v1.4h-1.4zM146.3 481h1.4v1.4h-1.4zM159.5 482.8h1.4v1.4h-1.4zM145.4 482.9h1.4v1.4h-1.4zM161.5 479.3h1.4v1.4h-1.4zM147.9 481.8h1.4v1.4h-1.4zM148.7 486.6h1.4v1.4h-1.4zM147.1 486.9h1.4v1.4h-1.4zM149.6 483h1.4v1.4h-1.4zM154.8 484.2h1.4v1.4h-1.4zM146.3 486.4h1.4v1.4h-1.4zM151.4 480.9h1.4v1.4h-1.4zM160.4 481.9h1.4v1.4h-1.4zM158.5 485.5h1.4v1.4h-1.4zM158.1 483.2h1.4v1.4h-1.4zM161.7 478.8h1.4v1.4h-1.4zM163.9 479.1h1.4v1.4h-1.4zM162.8 486.1h1.4v1.4h-1.4zM144.7 486.3h1.4v1.4h-1.4zM165.2 486h1.4v1.4h-1.4zM157 483.3h1.4v1.4h-1.4zM158.3 486.7h1.4v1.4h-1.4zM154.7 482.6h1.4v1.4h-1.4zM162.1 486.3h1.4v1.4h-1.4zM166.4 483.3h1.4v1.4h-1.4zM150.6 485.5h1.4v1.4h-1.4zM165.1 486.5h1.4v1.4h-1.4zM158.4 486.2h1.4v1.4h-1.4zM161.8 486h1.4v1.4h-1.4zM160.1 483.9h1.4v1.4h-1.4zM147.6 486.5h1.4v1.4h-1.4zM165.8 484h1.4v1.4h-1.4zM154.6 486.4h1.4v1.4h-1.4zM155.1 481.4h1.4v1.4h-1.4zM149.7 478.7h1.4v1.4h-1.4zM152.1 486h1.4v1.4h-1.4zM162.2 486h1.4v1.4h-1.4zM158.4 480.8h1.4v1.4h-1.4zM160.2 485.7h1.4v1.4h-1.4zM157.9 472.2h1.4v1.4h-1.4zM149 476.7h1.4v1.4h-1.4zM149.2 486.4h1.4v1.4h-1.4zM156 480.4h1.4v1.4h-1.4zM147.6 484h1.4v1.4h-1.4zM150.2 481.7h1.4v1.4h-1.4zM155.1 480.4h1.4v1.4h-1.4zM147.4 483.9h1.4v1.4h-1.4zM149.8 483.7h1.4v1.4h-1.4zM161.4 485.4h1.4v1.4h-1.4zM151.3 483h1.4v1.4h-1.4zM160.1 485.7h1.4v1.4h-1.4zM149.9 486h1.4v1.4h-1.4zM144.7 484.9h1.4v1.4h-1.4zM166.4 485.5h1.4v1.4h-1.4zM165 485.4h1.4v1.4h-1.4zM164.5 486.8h1.4v1.4h-1.4zM151.2 479.7h1.4v1.4h-1.4zM164.4 484h1.4v1.4h-1.4zM159.3 483.8h1.4v1.4h-1.4zM166.1 473.5h1.4v1.4h-1.4zM162.4 486.7h1.4v1.4h-1.4zM165 475.2h1.4v1.4h-1.4zM160 486.9h1.4v1.4h-1.4zM153.4 485.1h1.4v1.4h-1.4zM152.1 481.4h1.4v1.4h-1.4zM150.6 487h1.4v1.4h-1.4zM153.8 482.3h1.4v1.4h-1.4zM152.6 485.2h1.4v1.4h-1.4zM152.8 483.3h1.4v1.4h-1.4zM150.9 486.5h1.4v1.4h-1.4zM161.5 474.4h1.4v1.4h-1.4zM161.8 485.3h1.4v1.4h-1.4zM161.5 485h1.4v1.4h-1.4zM150.7 486.1h1.4v1.4h-1.4zM154.6 483.7h1.4v1.4h-1.4zM163.3 473.6h1.4v1.4h-1.4zM150.6 486.3h1.4v1.4h-1.4zM150.5 480.5h1.4v1.4h-1.4zM149.3 485.7h1.4v1.4h-1.4zM149.2 485.1h1.4v1.4h-1.4zM161.2 486.3h1.4v1.4h-1.4zM151.3 486.6h1.4v1.4h-1.4zM164.4 478.2h1.4v1.4h-1.4zM152.5 483.5h1.4v1.4h-1.4zM149.3 485.8h1.4v1.4h-1.4zM156.5 485.6h1.4v1.4h-1.4zM164.3 480.8h1.4v1.4h-1.4zM146.9 480.9h1.4v1.4h-1.4zM153.6 486.9h1.4v1.4h-1.4zM165.4 485.1h1.4v1.4h-1.4zM154.7 484.4h1.4v1.4h-1.4zM163.2 485.8h1.4v1.4h-1.4zM153 486.7h1.4v1.4h-1.4zM153 485.6h1.4v1.4h-1.4zM149.7 485.2h1.4v1.4h-1.4zM148 486.8h1.4v1.4h-1.4zM163.5 486.9h1.4v1.4h-1.4zM164 483.6h1.4v1.4h-1.4zM153 484h1.4v1.4h-1.4zM152.9 482.2h1.4v1.4h-1.4zM157.1 485.5h1.4v1.4h-1.4zM150.1 480h1.2v1.2h-1.2zM150.1 481.6h1.2v1.2h-1.2zM150.1 483.7h1.2v1.2h-1.2zM150.1 484.5h1.2v1.2h-1.2zM150.1 485.9h1.2v1.2h-1.2zM150.1 486.6h1.2v1.2h-1.2zM146.5 477.6h1.2v1.2h-1.2zM146.5 479h1.2v1.2h-1.2zM146.5 480.4h1.2v1.2h-1.2zM146.5 481.6h1.2v1.2h-1.2zM146.5 482.8h1.2v1.2h-1.2zM146.5 484.8h1.2v1.2h-1.2zM146.5 486.7h1.2v1.2h-1.2zM162.5 480.1h1.2v1.2h-1.2zM162.5 480.8h1.2v1.2h-1.2zM162.5 481.8h1.2v1.2h-1.2zM162.5 483h1.2v1.2h-1.2zM162.5 484.3h1.2v1.2h-1.2zM162.5 485.2h1.2v1.2h-1.2zM162.5 487h1.2v1.2h-1.2zM158.8 483.7h1.2v1.2h-1.2zM158.8 485.8h1.2v1.2h-1.2zM158 481.4h1.2v1.2h-1.2zM158 482.8h1.2v1.2h-1.2zM158 485h1.2v1.2h-1.2zM158 486.9h1.2v1.2h-1.2zM197.5 487.9h1.4v1.4h-1.4zM206.5 487.5h1.4v1.4h-1.4zM204.8 486.1h1.4v1.4h-1.4zM208 486.7h1.4v1.4h-1.4zM204.1 486.4h1.4v1.4h-1.4zM210.2 487.1h1.4v1.4h-1.4zM207.2 486.7h1.4v1.4h-1.4zM200.2 487.5h1.4v1.4h-1.4zM192.3 487.1h1.4v1.4h-1.4zM195.1 475.8h1.4v1.4h-1.4zM208.3 487.5h1.4v1.4h-1.4zM196.4 479.1h1.4v1.4h-1.4zM205.8 487.5h1.4v1.4h-1.4zM207 479.8h1.4v1.4h-1.4zM203 477.9h1.4v1.4h-1.4zM210 486.7h1.4v1.4h-1.4zM209.4 482.6h1.4v1.4h-1.4zM192.8 479.6h1.4v1.4h-1.4zM205.4 487.8h1.4v1.4h-1.4zM197 482.6h1.4v1.4h-1.4zM195.2 487h1.4v1.4h-1.4zM199.4 473.2h1.4v1.4h-1.4zM206.9 487.8h1.4v1.4h-1.4zM195.8 487.2h1.4v1.4h-1.4zM198.6 487h1.4v1.4h-1.4zM208.8 480.7h1.4v1.4h-1.4zM202.2 485.9h1.4v1.4h-1.4zM194.8 484.3h1.4v1.4h-1.4zM208.7 479.2h1.4v1.4h-1.4zM209.1 483.8h1.4v1.4h-1.4zM204.5 485h1.4v1.4h-1.4zM201.7 486.5h1.4v1.4h-1.4zM196.5 486.7h1.4v1.4h-1.4zM198.8 485.8h1.4v1.4h-1.4zM207.7 486.7h1.4v1.4h-1.4zM191.4 485.1h1.4v1.4h-1.4zM210.2 477.8h1.4v1.4h-1.4zM196.2 479.3h1.4v1.4h-1.4zM203.1 483h1.4v1.4h-1.4zM199.8 484.9h1.4v1.4h-1.4zM203.9 484.7h1.4v1.4h-1.4zM197.3 476.1h1.4v1.4h-1.4zM208.7 487h1.4v1.4h-1.4zM191.1 487.4h1.4v1.4h-1.4zM208 477.8h1.4v1.4h-1.4zM198.5 474.2h1.4v1.4h-1.4zM209.4 481.9h1.4v1.4h-1.4zM198 484.1h1.4v1.4h-1.4zM202.4 484h1.4v1.4h-1.4zM208.1 482.1h1.4v1.4h-1.4zM207.6 487.3h1.4v1.4h-1.4zM194.7 484h1.4v1.4h-1.4zM192.1 484.8h1.4v1.4h-1.4zM191.1 479.8h1.4v1.4h-1.4zM204.1 487.4h1.4v1.4h-1.4zM201 487.4h1.4v1.4h-1.4zM206.9 485.5h1.4v1.4h-1.4zM195.3 480.8h1.4v1.4h-1.4zM205.6 484.8h1.4v1.4h-1.4zM191.9 487.8h1.4v1.4h-1.4zM209.1 484.1h1.4v1.4h-1.4zM194.7 485.9h1.4v1.4h-1.4zM199.8 484.3h1.4v1.4h-1.4zM192.2 486.7h1.4v1.4h-1.4zM209.7 486.2h1.4v1.4h-1.4zM194.7 487.1h1.4v1.4h-1.4zM203.5 486.1h1.4v1.4h-1.4zM195.6 485.2h1.4v1.4h-1.4zM191 487.9h1.4v1.4h-1.4zM203.3 486.3h1.4v1.4h-1.4zM199.9 486.8h1.4v1.4h-1.4zM191.2 482.8h1.4v1.4h-1.4zM205.3 483.8h1.4v1.4h-1.4zM203.6 483.8h1.4v1.4h-1.4zM204.4 480.8h1.4v1.4h-1.4zM203 475h1.4v1.4h-1.4zM196.4 485.3h1.4v1.4h-1.4zM199.8 486.2h1.4v1.4h-1.4zM201.1 486.6h1.4v1.4h-1.4zM192.5 486.3h1.4v1.4h-1.4zM204 484.6h1.4v1.4h-1.4zM201.3 483.1h1.4v1.4h-1.4zM190.6 487.6h1.4v1.4h-1.4zM206.6 484.8h1.4v1.4h-1.4zM201.3 480.5h1.4v1.4h-1.4zM202.5 478.8h1.4v1.4h-1.4zM203.4 485.2h1.4v1.4h-1.4zM202.3 484.5h1.4v1.4h-1.4zM192 478h1.4v1.4h-1.4zM202.9 484.6h1.4v1.4h-1.4zM207.8 487.6h1.4v1.4h-1.4zM192.2 486.5h1.4v1.4h-1.4zM195.5 480.8h1.4v1.4h-1.4zM210.1 476.8h1.4v1.4h-1.4zM203 484.7h1.4v1.4h-1.4zM208.7 485.3h1.4v1.4h-1.4zM192.5 486.8h1.4v1.4h-1.4zM197.2 487.2h1.4v1.4h-1.4zM197.9 482.1h1.4v1.4h-1.4zM205.4 486.8h1.4v1.4h-1.4zM207 484.1h1.4v1.4h-1.4zM197.3 485.5h1.4v1.4h-1.4zM204.2 485.5h1.4v1.4h-1.4zM200.7 487.5h1.4v1.4h-1.4zM203.2 487.3h1.4v1.4h-1.4zM196.1 484.2h1.4v1.4h-1.4zM207.4 484.7h1.4v1.4h-1.4zM196.3 485.5h1.4v1.4h-1.4zM200.6 484.4h1.4v1.4h-1.4zM194.1 481.4h1.4v1.4h-1.4zM198.3 482.4h1.2v1.2h-1.2zM198.3 484h1.2v1.2h-1.2zM198.3 485.2h1.2v1.2h-1.2zM198.3 487h1.2v1.2h-1.2zM205 485.9h1.2v1.2h-1.2zM205 486.7h1.2v1.2h-1.2zM245 483.4h1.4v1.4h-1.4zM241.7 485.8h1.4v1.4h-1.4zM236.6 485.3h1.4v1.4h-1.4zM237.5 487.1h1.4v1.4h-1.4zM237.3 476.9h1.4v1.4h-1.4zM238.9 479.6h1.4v1.4h-1.4zM236.2 483.2h1.4v1.4h-1.4zM232.6 487.5h1.4v1.4h-1.4zM235.5 477.2h1.4v1.4h-1.4zM234.8 484h1.4v1.4h-1.4zM248.5 486.3h1.4v1.4h-1.4zM234.3 486.9h1.4v1.4h-1.4zM240.8 486.3h1.4v1.4h-1.4zM232.4 485.3h1.4v1.4h-1.4zM232.2 481.5h1.4v1.4h-1.4zM239.5 483.1h1.4v1.4h-1.4zM236.2 485.7h1.4v1.4h-1.4zM245.7 487.6h1.4v1.4h-1.4zM235.5 484.5h1.4v1.4h-1.4zM245.6 485.2h1.4v1.4h-1.4zM244.4 486.9h1.4v1.4h-1.4zM237.2 485.9h1.4v1.4h-1.4zM239.3 485.1h1.4v1.4h-1.4zM248.5 486.1h1.4v1.4h-1.4zM244.9 487.4h1.4v1.4h-1.4zM247.1 485.5h1.4v1.4h-1.4zM247.3 485.7h1.4v1.4h-1.4zM246.5 482.9h1.4v1.4h-1.4zM233.6 485.6h1.4v1.4h-1.4zM248.3 486.4h1.4v1.4h-1.4zM240.8 484h1.4v1.4h-1.4zM239.2 486.5h1.4v1.4h-1.4zM237.1 486.8h1.4v1.4h-1.4zM236.3 487.6h1.4v1.4h-1.4zM244.4 485.7h1.4v1.4h-1.4zM235.6 487.3h1.4v1.4h-1.4zM238.3 487.1h1.4v1.4h-1.4zM239 487h1.4v1.4h-1.4zM241.5 479.7h1.4v1.4h-1.4zM246.5 483.5h1.4v1.4h-1.4zM245.7 474.9h1.4v1.4h-1.4zM234.5 487.6h1.4v1.4h-1.4zM239.7 484.1h1.4v1.4h-1.4zM245.8 486.9h1.4v1.4h-1.4zM240.6 487.1h1.4v1.4h-1.4zM241.5 481.8h1.4v1.4h-1.4zM237.7 477.6h1.4v1.4h-1.4zM242.5 484.9h1.4v1.4h-1.4zM234.9 482.7h1.4v1.4h-1.4zM232.8 477.3h1.4v1.4h-1.4zM232.8 475.7h1.4v1.4h-1.4zM237.7 486.4h1.4v1.4h-1.4zM247 483.6h1.4v1.4h-1.4zM240.4 485.9h1.4v1.4h-1.4zM240.6 486h1.4v1.4h-1.4zM244.2 486.5h1.4v1.4h-1.4zM234.4 481.3h1.4v1.4h-1.4zM240.2 484.3h1.4v1.4h-1.4zM232.6 487.8h1.4v1.4h-1.4zM237.8 479.4h1.4v1.4h-1.4zM239.8 485.6h1.4v1.4h-1.4zM238 487.7h1.4v1.4h-1.4zM237.4 486.6h1.4v1.4h-1.4zM232.5 484.8h1.4v1.4h-1.4zM237.1 484.8h1.4v1.4h-1.4zM241.8 487.1h1.4v1.4h-1.4zM236.8 486.6h1.4v1.4h-1.4zM244.5 487.7h1.4v1.4h-1.4zM241.2 481.4h1.4v1.4h-1.4zM238 485.1h1.4v1.4h-1.4zM240.5 484.5h1.4v1.4h-1.4zM234.7 486.2h1.4v1.4h-1.4zM235.1 482.1h1.4v1.4h-1.4zM244.3 482.2h1.4v1.4h-1.4zM243.8 484h1.4v1.4h-1.4zM241.5 487h1.4v1.4h-1.4zM242.6 487.8h1.4v1.4h-1.4zM239.9 486.5h1.4v1.4h-1.4zM243.5 482.9h1.4v1.4h-1.4zM237.4 486.6h1.4v1.4h-1.4zM243.8 483.2h1.4v1.4h-1.4zM236.2 487.6h1.4v1.4h-1.4zM246.5 487.4h1.4v1.4h-1.4zM235.2 486h1.4v1.4h-1.4zM232.7 487.4h1.4v1.4h-1.4zM238.1 487.6h1.4v1.4h-1.4zM232.6 485.2h1.4v1.4h-1.4zM234.8 486.1h1.4v1.4h-1.4zM232.7 487.3h1.4v1.4h-1.4zM241.4 487.5h1.4v1.4h-1.4zM239.9 484.8h1.4v1.4h-1.4zM241.9 486.4h1.4v1.4h-1.4zM238.7 482.5h1.4v1.4h-1.4zM235.5 481.4h1.4v1.4h-1.4zM236.4 482.5h1.2v1.2h-1.2zM236.4 484.2h1.2v1.2h-1.2zM236.4 485.4h1.2v1.2h-1.2zM236.4 487.3h1.2v1.2h-1.2zM247.7 477.7h1.2v1.2h-1.2zM247.7 478.3h1.2v1.2h-1.2zM247.7 479.9h1.2v1.2h-1.2zM247.7 481.9h1.2v1.2h-1.2zM247.7 482.6h1.2v1.2h-1.2zM247.7 484.4h1.2v1.2h-1.2zM247.7 485.9h1.2v1.2h-1.2zM247.7 487.3h1.2v1.2h-1.2zM244.3 481.5h1.2v1.2h-1.2zM244.3 482.4h1.2v1.2h-1.2zM244.3 483.5h1.2v1.2h-1.2zM244.3 485.7h1.2v1.2h-1.2zM244.3 487h1.2v1.2h-1.2zM244.3 487.8h1.2v1.2h-1.2zM244.8 485.6h1.2v1.2h-1.2zM244.8 487.4h1.2v1.2h-1.2zM271.7 483.7h1.4v1.4h-1.4zM276.6 486.4h1.4v1.4h-1.4zM268.6 487.3h1.4v1.4h-1.4zM267.2 481.7h1.4v1.4h-1.4zM275.7 487.6h1.4v1.4h-1.4zM267.6 487.6h1.4v1.4h-1.4zM276 482.4h1.4v1.4h-1.4zM280.9 486.2h1.4v1.4h-1.4zM278.5 486h1.4v1.4h-1.4zM267.8 483.8h1.4v1.4h-1.4zM272 487.3h1.4v1.4h-1.4zM268.8 484.4h1.4v1.4h-1.4zM280.7 475.7h1.4v1.4h-1.4zM269.1 485.4h1.4v1.4h-1.4zM270 485.1h1.4v1.4h-1.4zM269.3 480.9h1.4v1.4h-1.4zM270.3 487.2h1.4v1.4h-1.4zM272.8 487.7h1.4v1.4h-1.4zM274.1 484.3h1.4v1.4h-1.4zM271.8 485.5h1.4v1.4h-1.4zM279.2 483h1.4v1.4h-1.4zM271.2 481.3h1.4v1.4h-1.4zM273.5 486.8h1.4v1.4h-1.4zM281.7 486.2h1.4v1.4h-1.4zM273.2 486.8h1.4v1.4h-1.4zM279.5 485.6h1.4v1.4h-1.4zM281.1 485.9h1.4v1.4h-1.4zM279.8 487.7h1.4v1.4h-1.4zM270.9 484.6h1.4v1.4h-1.4zM273.7 483h1.4v1.4h-1.4zM269 485.9h1.4v1.4h-1.4zM277 487.4h1.4v1.4h-1.4zM269.4 480.5h1.4v1.4h-1.4zM271.1 480.4h1.4v1.4h-1.4zM279.9 484h1.4v1.4h-1.4zM274 484.8h1.4v1.4h-1.4zM272.7 481.6h1.4v1.4h-1.4zM277.8 486.3h1.4v1.4h-1.4zM267.1 479.8h1.4v1.4h-1.4zM274.4 484.7h1.4v1.4h-1.4zM277.3 479.1h1.4v1.4h-1.4zM269 474.9h1.4v1.4h-1.4zM271.5 485.8h1.4v1.4h-1.4zM267.4 482.5h1.4v1.4h-1.4zM269.8 477.7h1.4v1.4h-1.4zM273 483.5h1.4v1.4h-1.4zM270.4 488h1.4v1.4h-1.4zM274.7 487h1.4v1.4h-1.4zM269.8 487.7h1.4v1.4h-1.4zM275.6 483.1h1.4v1.4h-1.4zM281.9 487.4h1.4v1.4h-1.4zM280 485h1.4v1.4h-1.4zM267.2 486.3h1.4v1.4h-1.4zM282.2 481.2h1.4v1.4h-1.4zM277.4 478.4h1.4v1.4h-1.4zM281.8 483.9h1.4v1.4h-1.4zM269.1 487.9h1.4v1.4h-1.4zM275.8 486.1h1.4v1.4h-1.4zM281.5 474.2h1.4v1.4h-1.4zM275.8 484.2h1.4v1.4h-1.4zM269 481.2h1.4v1.4h-1.4zM273.6 486.5h1.4v1.4h-1.4zM279.4 487.8h1.4v1.4h-1.4zM282.1 481.1h1.4v1.4h-1.4zM272.3 486.6h1.4v1.4h-1.4zM270.3 485.2h1.4v1.4h-1.4zM280.9 484.1h1.4v1.4h-1.4zM272.2 486.6h1.4v1.4h-1.4zM273.5 486.4h1.4v1.4h-1.4zM275 484.8h1.4v1.4h-1.4zM278.1 487.7h1.4v1.4h-1.4zM281.6 482.2h1.4v1.4h-1.4zM273.8 484.1h1.4v1.4h-1.4zM281.1 487.7h1.4v1.4h-1.4zM280.1 476.4h1.4v1.4h-1.4zM275.3 484h1.4v1.4h-1.4zM275.3 484.7h1.4v1.4h-1.4zM281.4 486.8h1.4v1.4h-1.4zM274.1 487.9h1.4v1.4h-1.4zM281 480.8h1.4v1.4h-1.4zM269.2 480.9h1.4v1.4h-1.4zM270.9 484.8h1.4v1.4h-1.4zM275.3 486.4h1.4v1.4h-1.4zM274 485.8h1.4v1.4h-1.4zM277.2 487.1h1.4v1.4h-1.4zM272.9 487.6h1.4v1.4h-1.4zM268.8 487.6h1.4v1.4h-1.4zM269.9 484.9h1.2v1.2h-1.2zM269.9 486.1h1.2v1.2h-1.2zM269.9 486.9h1.2v1.2h-1.2zM305.5 486.8h1.4v1.4h-1.4zM314.5 484.8h1.4v1.4h-1.4zM308.9 486.9h1.4v1.4h-1.4zM310.3 486.2h1.4v1.4h-1.4zM307.8 484.5h1.4v1.4h-1.4zM308.3 487.5h1.4v1.4h-1.4zM303.8 484.5h1.4v1.4h-1.4zM311.7 485h1.4v1.4h-1.4zM315.7 477.7h1.4v1.4h-1.4zM308.6 487.6h1.4v1.4h-1.4zM306 484h1.4v1.4h-1.4zM302.1 486.2h1.4v1.4h-1.4zM305.9 484.1h1.4v1.4h-1.4zM310 487.9h1.4v1.4h-1.4zM302.5 483.3h1.4v1.4h-1.4zM309 483.4h1.4v1.4h-1.4zM312 481.1h1.4v1.4h-1.4zM301.7 475h1.4v1.4h-1.4zM305.1 485.2h1.4v1.4h-1.4zM315.4 487.6h1.4v1.4h-1.4zM303.9 484.5h1.4v1.4h-1.4zM312.2 476.6h1.4v1.4h-1.4zM315.7 484h1.4v1.4h-1.4zM312.7 484.4h1.4v1.4h-1.4zM305.1 481.4h1.4v1.4h-1.4zM311.6 473.7h1.4v1.4h-1.4zM314.8 484.8h1.4v1.4h-1.4zM304.6 487.7h1.4v1.4h-1.4zM304.4 485.7h1.4v1.4h-1.4zM306.4 485.3h1.4v1.4h-1.4zM302.7 487.8h1.4v1.4h-1.4zM309.5 486.4h1.4v1.4h-1.4zM315.4 486.1h1.4v1.4h-1.4zM303.1 485.2h1.4v1.4h-1.4zM315.6 485.8h1.4v1.4h-1.4zM309 481.4h1.4v1.4h-1.4zM310.5 487.6h1.4v1.4h-1.4zM308 486.5h1.4v1.4h-1.4zM309 487.7h1.4v1.4h-1.4zM315.5 485.1h1.4v1.4h-1.4zM311.1 487.6h1.4v1.4h-1.4zM301.1 486.2h1.4v1.4h-1.4zM314.7 481.7h1.4v1.4h-1.4zM314.2 486.7h1.4v1.4h-1.4zM314.3 486.4h1.4v1.4h-1.4zM305.1 481.4h1.4v1.4h-1.4zM302.1 480.8h1.4v1.4h-1.4zM313 484.8h1.4v1.4h-1.4zM313.9 481.8h1.4v1.4h-1.4zM303.3 487.2h1.4v1.4h-1.4zM301.9 487h1.4v1.4h-1.4zM305.5 480.8h1.4v1.4h-1.4zM313.9 486.2h1.4v1.4h-1.4zM307.9 482.8h1.4v1.4h-1.4zM306.7 482.1h1.4v1.4h-1.4zM314.2 487.6h1.4v1.4h-1.4zM313.3 486.6h1.4v1.4h-1.4zM301 486.5h1.4v1.4h-1.4zM314.4 486.1h1.4v1.4h-1.4zM303.2 486.9h1.4v1.4h-1.4zM314.8 487.6h1.4v1.4h-1.4zM301.6 486.4h1.4v1.4h-1.4zM305.6 475.9h1.4v1.4h-1.4zM311.1 479.5h1.4v1.4h-1.4zM305.6 485.2h1.4v1.4h-1.4zM313.3 481.2h1.4v1.4h-1.4zM314.9 486.7h1.4v1.4h-1.4zM309.4 486h1.4v1.4h-1.4zM311.7 478.3h1.4v1.4h-1.4zM302.9 482.7h1.4v1.4h-1.4zM303 487.9h1.4v1.4h-1.4zM310.8 476.9h1.4v1.4h-1.4zM310.4 479.1h1.4v1.4h-1.4zM306.8 487.4h1.4v1.4h-1.4zM315.4 484.1h1.4v1.4h-1.4zM314.5 486.5h1.4v1.4h-1.4zM312.2 486.8h1.4v1.4h-1.4zM313.4 484.1h1.4v1.4h-1.4zM300.9 483.6h1.4v1.4h-1.4zM304.9 487.2h1.4v1.4h-1.4zM306 488h1.4v1.4h-1.4zM308.6 483.9h1.4v1.4h-1.4zM310.2 487.6h1.4v1.4h-1.4zM315.7 480.8h1.4v1.4h-1.4zM302.5 480.8h1.4v1.4h-1.4zM305.8 483.8h1.4v1.4h-1.4zM306.5 486.3h1.4v1.4h-1.4zM304.8 480h1.2v1.2h-1.2zM304.8 481h1.2v1.2h-1.2zM304.8 482.3h1.2v1.2h-1.2zM304.8 483.4h1.2v1.2h-1.2zM304.8 485.4h1.2v1.2h-1.2zM304.8 486.9h1.2v1.2h-1.2zM304.8 487.7h1.2v1.2h-1.2zM312.7 479.9h1.2v1.2h-1.2zM312.7 480.9h1.2v1.2h-1.2zM312.7 482.4h1.2v1.2h-1.2zM312.7 483.8h1.2v1.2h-1.2zM312.7 485.1h1.2v1.2h-1.2zM312.7 486.8h1.2v1.2h-1.2zM313.5 484.2h1.2v1.2h-1.2zM313.5 485.8h1.2v1.2h-1.2zM313.5 486.6h1.2v1.2h-1.2zM313.5 487.5h1.2v1.2h-1.2zM309.6 479.9h1.2v1.2h-1.2zM309.6 480.6h1.2v1.2h-1.2zM309.6 482h1.2v1.2h-1.2zM309.6 482.8h1.2v1.2h-1.2zM309.6 483.7h1.2v1.2h-1.2zM309.6 485.7h1.2v1.2h-1.2zM309.6 487.3h1.2v1.2h-1.2zM312.7 483.7h1.2v1.2h-1.2zM312.7 485.3h1.2v1.2h-1.2zM312.7 486.6h1.2v1.2h-1.2zM312.7 487.9h1.2v1.2h-1.2zM302.7 484.3h1.2v1.2h-1.2zM302.7 485.1h1.2v1.2h-1.2zM302.7 486.5h1.2v1.2h-1.2zM302.7 487.8h1.2v1.2h-1.2zM312.2 481.3h1.2v1.2h-1.2zM312.2 483.1h1.2v1.2h-1.2zM312.2 485h1.2v1.2h-1.2zM312.2 487h1.2v1.2h-1.2zM332.4 483.3h1.4v1.4h-1.4zM332.5 476.6h1.4v1.4h-1.4zM334.5 487h1.4v1.4h-1.4zM331.2 474.1h1.4v1.4h-1.4zM333.9 486.1h1.4v1.4h-1.4zM331.7 485.8h1.4v1.4h-1.4zM337.3 487.1h1.4v1.4h-1.4zM335.6 485.2h1.4v1.4h-1.4zM338.7 485.1h1.4v1.4h-1.4zM334.4 474.8h1.4v1.4h-1.4zM337.7 483.2h1.4v1.4h-1.4zM337.2 487.7h1.4v1.4h-1.4zM334.4 479.5h1.4v1.4h-1.4zM332.2 484.1h1.4v1.4h-1.4zM331.3 485.9h1.4v1.4h-1.4zM335.3 487.1h1.4v1.4h-1.4zM335.7 486.5h1.4v1.4h-1.4zM334.7 483.5h1.4v1.4h-1.4zM336.9 484h1.4v1.4h-1.4zM331.7 480.3h1.4v1.4h-1.4zM335.2 485.1h1.4v1.4h-1.4zM330.5 487.3h1.4v1.4h-1.4zM337.4 482.8h1.4v1.4h-1.4zM334.4 487.1h1.4v1.4h-1.4zM337.8 483.5h1.4v1.4h-1.4zM335.6 485.3h1.4v1.4h-1.4zM337.9 484.5h1.4v1.4h-1.4zM331.7 473.1h1.4v1.4h-1.4zM335.8 486.8h1.4v1.4h-1.4zM337.9 485.2h1.4v1.4h-1.4zM330.4 481.8h1.4v1.4h-1.4zM336.6 474.8h1.4v1.4h-1.4zM332.3 487.1h1.4v1.4h-1.4zM339.1 484.6h1.4v1.4h-1.4zM334 486.4h1.4v1.4h-1.4zM337.2 481.2h1.4v1.4h-1.4zM332.5 476.1h1.4v1.4h-1.4zM339.2 478.4h1.4v1.4h-1.4zM330.3 486.7h1.4v1.4h-1.4zM331.5 482.1h1.4v1.4h-1.4zM333.5 477.1h1.4v1.4h-1.4zM332.8 484.6h1.4v1.4h-1.4zM334.7 477.8h1.4v1.4h-1.4zM337.2 485.2h1.4v1.4h-1.4zM339.1 486h1.4v1.4h-1.4zM334.5 485.1h1.4v1.4h-1.4zM330.4 483.6h1.4v1.4h-1.4zM330.8 487.8h1.4v1.4h-1.4zM331.2 485.2h1.4v1.4h-1.4zM335.3 480.5h1.4v1.4h-1.4zM336 487.6h1.4v1.4h-1.4zM332.8 487.5h1.4v1.4h-1.4zM338.5 487.7h1.4v1.4h-1.4zM336 485.9h1.4v1.4h-1.4zM330.8 479.8h1.4v1.4h-1.4zM331.5 480.2h1.2v1.2h-1.2zM331.5 481.4h1.2v1.2h-1.2zM331.5 483.4h1.2v1.2h-1.2zM331.5 485.3h1.2v1.2h-1.2zM331.5 486.6h1.2v1.2h-1.2zM332.4 484.9h1.2v1.2h-1.2zM332.4 486h1.2v1.2h-1.2zM354.4 484.7h1.4v1.4h-1.4zM352.8 482.2h1.4v1.4h-1.4zM356.3 486.1h1.4v1.4h-1.4zM352.9 483.9h1.4v1.4h-1.4zM352 487.5h1.4v1.4h-1.4zM353 480.3h1.4v1.4h-1.4zM356.2 484.7h1.4v1.4h-1.4zM357.5 486h1.4v1.4h-1.4zM351.8 487.9h1.4v1.4h-1.4zM357.3 481.9h1.4v1.4h-1.4zM359.4 484.4h1.4v1.4h-1.4zM356.4 485.6h1.4v1.4h-1.4zM354.5 481h1.4v1.4h-1.4zM360.6 474.6h1.4v1.4h-1.4zM353.3 486.4h1.4v1.4h-1.4zM357.7 481.1h1.4v1.4h-1.4zM357.3 483.9h1.4v1.4h-1.4zM358.6 484.6h1.4v1.4h-1.4zM352.1 487.4h1.4v1.4h-1.4zM355.6 484.4h1.4v1.4h-1.4zM352.1 478.3h1.4v1.4h-1.4zM354.1 486.4h1.4v1.4h-1.4zM360.6 484.8h1.4v1.4h-1.4zM359.6 480.5h1.4v1.4h-1.4zM351.6 485.3h1.4v1.4h-1.4zM358.3 474.7h1.4v1.4h-1.4zM353.5 485.8h1.4v1.4h-1.4zM357.3 484.4h1.4v1.4h-1.4zM356 486h1.4v1.4h-1.4zM351.7 487.2h1.4v1.4h-1.4zM353 487.7h1.4v1.4h-1.4zM360 475.9h1.4v1.4h-1.4zM354 477.8h1.4v1.4h-1.4zM358.9 482.1h1.4v1.4h-1.4zM357.9 484.3h1.4v1.4h-1.4zM357.6 487.9h1.4v1.4h-1.4zM356.8 487.3h1.4v1.4h-1.4zM357.2 483h1.4v1.4h-1.4zM354.7 484.4h1.4v1.4h-1.4zM356.1 488h1.4v1.4h-1.4zM357.9 487.9h1.4v1.4h-1.4zM360.2 486.5h1.4v1.4h-1.4zM354.6 483.4h1.4v1.4h-1.4zM359 484h1.4v1.4h-1.4zM355.1 481.8h1.4v1.4h-1.4zM353 484.3h1.4v1.4h-1.4zM357.6 485.3h1.4v1.4h-1.4zM357.1 488h1.4v1.4h-1.4zM353 487.7h1.4v1.4h-1.4zM353.8 484.8h1.4v1.4h-1.4zM356.4 485.2h1.4v1.4h-1.4zM354.6 482h1.4v1.4h-1.4zM355.3 486.7h1.4v1.4h-1.4zM355 487.2h1.4v1.4h-1.4zM352.8 485.3h1.4v1.4h-1.4zM356.2 487.9h1.4v1.4h-1.4zM353.9 487h1.4v1.4h-1.4zM354.3 487.1h1.4v1.4h-1.4zM376.1 485.8h1.4v1.4h-1.4zM376.3 487.6h1.4v1.4h-1.4zM378.3 487.6h1.4v1.4h-1.4zM372.5 480.5h1.4v1.4h-1.4zM373.4 486.1h1.4v1.4h-1.4zM373.7 486.9h1.4v1.4h-1.4zM379.6 487.3h1.4v1.4h-1.4zM375.3 480h1.4v1.4h-1.4zM372.4 476.1h1.4v1.4h-1.4zM379.2 486.3h1.4v1.4h-1.4zM380.4 482.2h1.4v1.4h-1.4zM373.5 487.7h1.4v1.4h-1.4zM378.6 487.6h1.4v1.4h-1.4zM374.6 486.8h1.4v1.4h-1.4zM375.6 485h1.4v1.4h-1.4zM376.7 484.1h1.4v1.4h-1.4zM379.9 483.5h1.4v1.4h-1.4zM374.6 487.9h1.4v1.4h-1.4zM380.4 484.4h1.4v1.4h-1.4zM380.4 477.4h1.4v1.4h-1.4zM376 484.1h1.4v1.4h-1.4zM378.5 486.8h1.4v1.4h-1.4zM372.8 487.7h1.4v1.4h-1.4zM377.2 482.2h1.4v1.4h-1.4zM377.9 481.7h1.4v1.4h-1.4zM373 481.3h1.4v1.4h-1.4zM378.3 486h1.4v1.4h-1.4zM376.7 485.8h1.4v1.4h-1.4zM375.3 486.5h1.4v1.4h-1.4zM380.5 479.7h1.4v1.4h-1.4zM380.2 487.6h1.4v1.4h-1.4zM378.7 485.1h1.4v1.4h-1.4zM377.9 484.6h1.4v1.4h-1.4zM377.2 486.9h1.4v1.4h-1.4zM380 485.7h1.4v1.4h-1.4zM379.7 480.9h1.4v1.4h-1.4zM377.2 486.6h1.4v1.4h-1.4zM375.8 487.3h1.4v1.4h-1.4zM374.8 487.7h1.4v1.4h-1.4zM380.5 485.5h1.4v1.4h-1.4zM376.7 487.8h1.4v1.4h-1.4zM376.8 479.1h1.4v1.4h-1.4zM373.9 473.8h1.4v1.4h-1.4zM374 487.3h1.4v1.4h-1.4zM378.9 486.2h1.4v1.4h-1.4zM379.9 487.1h1.4v1.4h-1.4zM373 481.9h1.4v1.4h-1.4zM372.5 486.6h1.4v1.4h-1.4zM377.3 487.2h1.4v1.4h-1.4zM376.6 481.7h1.4v1.4h-1.4zM373.8 483.6h1.4v1.4h-1.4zM376.2 485.3h1.4v1.4h-1.4zM373.1 485.4h1.2v1.2h-1.2zM373.1 486.5h1.2v1.2h-1.2zM392.1 487.2h1.4v1.4h-1.4zM390.2 485.6h1.4v1.4h-1.4zM394.1 486.2h1.4v1.4h-1.4zM395.2 486.8h1.4v1.4h-1.4zM389.6 486.3h1.4v1.4h-1.4zM390.5 486.3h1.4v1.4h-1.4zM390.8 486h1.4v1.4h-1.4zM395.5 478.6h1.4v1.4h-1.4zM394.3 487.9h1.4v1.4h-1.4zM393 487.7h1.4v1.4h-1.4zM390.9 486.7h1.4v1.4h-1.4zM392.1 483.3h1.4v1.4h-1.4zM390.2 486.5h1.4v1.4h-1.4zM395.9 483.6h1.4v1.4h-1.4zM389.6 486.8h1.4v1.4h-1.4zM389.5 487h1.4v1.4h-1.4zM394.2 480h1.4v1.4h-1.4zM395.4 486.1h1.4v1.4h-1.4zM393.4 477h1.4v1.4h-1.4zM391 480.4h1.4v1.4h-1.4zM393.8 486.9h1.4v1.4h-1.4zM394.9 486.4h1.4v1.4h-1.4zM392 481.5h1.4v1.4h-1.4zM390.1 479.9h1.4v1.4h-1.4zM395.3 487.7h1.4v1.4h-1.4zM395 482.3h1.4v1.4h-1.4zM392.3 487.1h1.4v1.4h-1.4zM394.7 484.8h1.4v1.4h-1.4zM393.6 487.1h1.4v1.4h-1.4zM394.5 480.5h1.4v1.4h-1.4zM395.6 483h1.4v1.4h-1.4zM389.9 483.1h1.4v1.4h-1.4zM391.1 487.2h1.4v1.4h-1.4zM394.7 482h1.4v1.4h-1.4zM389.9 486.7h1.4v1.4h-1.4zM392.6 480.8h1.4v1.4h-1.4zM392.6 487.6h1.4v1.4h-1.4zM394.3 481.7h1.4v1.4h-1.4zM390.6 482.1h1.4v1.4h-1.4zM395.8 484.2h1.4v1.4h-1.4zM395 483.7h1.4v1.4h-1.4zM394.3 476.3h1.2v1.2h-1.2zM394.3 477.4h1.2v1.2h-1.2zM394.3 478h1.2v1.2h-1.2zM394.3 478.8h1.2v1.2h-1.2zM394.3 479.7h1.2v1.2h-1.2zM394.3 481.3h1.2v1.2h-1.2zM394.3 482.8h1.2v1.2h-1.2zM394.3 484h1.2v1.2h-1.2zM394.3 485.6h1.2v1.2h-1.2zM394.3 486.7h1.2v1.2h-1.2zM394.3 487.8h1.2v1.2h-1.2zM394.6 484.9h1.2v1.2h-1.2zM394.6 486.4h1.2v1.2h-1.2zM405.4 487.1h1.4v1.4h-1.4zM404.9 486h1.4v1.4h-1.4zM405.2 484.2h1.4v1.4h-1.4zM406 485.8h1.4v1.4h-1.4zM403.1 486h1.4v1.4h-1.4zM404.1 484.4h1.4v1.4h-1.4zM403.5 485.3h1.4v1.4h-1.4zM405.7 486.7h1.4v1.4h-1.4zM404.5 486.4h1.4v1.4h-1.4zM405.6 480.2h1.4v1.4h-1.4zM404.3 484.6h1.4v1.4h-1.4zM403.4 486.5h1.4v1.4h-1.4zM404.1 476.5h1.4v1.4h-1.4zM403.4 484.6h1.4v1.4h-1.4zM403 486.7h1.4v1.4h-1.4zM405 477.2h1.4v1.4h-1.4zM403.5 485.8h1.4v1.4h-1.4zM403.6 479.5h1.4v1.4h-1.4zM403.6 487.8h1.4v1.4h-1.4zM406 482.7h1.4v1.4h-1.4zM403.5 485.6h1.4v1.4h-1.4zM405.7 486.3h1.4v1.4h-1.4zM404.4 482.1h1.4v1.4h-1.4zM402.9 484.7h1.4v1.4h-1.4zM406.3 485.3h1.2v1.2h-1.2zM406.3 485.9h1.2v1.2h-1.2zM406.3 487.5h1.2v1.2h-1.2z"/>
<path fill="#1b1b1b" d="M58.1 482.9h1.4v1.4h-1.4zM68.4 481.7h1.4v1.4h-1.4zM61.6 483.9h1.4v1.4h-1.4zM68.9 483.6h1.4v1.4h-1.4zM67.1 481.6h1.4v1.4h-1.4zM72.5 485.5h1.4v1.4h-1.4zM63.7 478.6h1.4v1.4h-1.4zM58.3 482.2h1.4v1.4h-1.4zM69.2 485.1h1.4v1.4h-1.4zM66.6 476.3h1.4v1.4h-1.4zM65.8 485.5h1.4v1.4h-1.4zM59.7 483h1.4v1.4h-1.4zM58.2 473h1.4v1.4h-1.4zM61.9 484.9h1.4v1.4h-1.4zM69.4 483.2h1.4v1.4h-1.4zM69.7 483.2h1.4v1.4h-1.4zM63 478.4h1.4v1.4h-1.4zM65.3 479.7h1.4v1.4h-1.4zM64 472.2h1.4v1.4h-1.4zM61.2 477.4h1.4v1.4h-1.4zM69.7 472.5h1.4v1.4h-1.4zM63.5 485h1.4v1.4h-1.4zM67.4 482.3h1.4v1.4h-1.4zM70.8 485.3h1.4v1.4h-1.4zM72.5 476h1.4v1.4h-1.4zM66.5 483.8h1.4v1.4h-1.4zM67.9 484.5h1.4v1.4h-1.4zM70.2 484h1.4v1.4h-1.4zM60.5 481.8h1.4v1.4h-1.4zM67.2 483.9h1.4v1.4h-1.4zM67.7 478.3h1.4v1.4h-1.4zM65.3 479.9h1.4v1.4h-1.4zM69.6 478.7h1.4v1.4h-1.4zM70.1 485h1.4v1.4h-1.4zM70.6 478h1.4v1.4h-1.4zM65.1 480.5h1.4v1.4h-1.4zM61.3 485h1.4v1.4h-1.4zM64.5 484.7h1.4v1.4h-1.4zM59.9 479.1h1.4v1.4h-1.4zM72.2 477.7h1.4v1.4h-1.4zM72.4 481.2h1.4v1.4h-1.4zM64.8 485.3h1.4v1.4h-1.4zM59.2 483.9h1.4v1.4h-1.4zM66.2 475.9h1.4v1.4h-1.4zM67.5 485.2h1.4v1.4h-1.4zM70.6 479.4h1.4v1.4h-1.4zM59.2 482.1h1.4v1.4h-1.4zM63.3 479.9h1.4v1.4h-1.4zM70.1 480.6h1.4v1.4h-1.4zM59.7 484.4h1.4v1.4h-1.4zM62.6 475.1h1.4v1.4h-1.4zM59.7 474.5h1.4v1.4h-1.4zM72.2 481.2h1.4v1.4h-1.4zM66 483.7h1.4v1.4h-1.4zM71.1 485.1h1.4v1.4h-1.4zM70.4 484.3h1.4v1.4h-1.4zM63.9 484.9h1.4v1.4h-1.4zM60.1 477h1.4v1.4h-1.4zM68.7 484.7h1.4v1.4h-1.4zM68.1 480.5h1.4v1.4h-1.4zM58.4 481.1h1.4v1.4h-1.4zM60.4 484.7h1.4v1.4h-1.4zM64.6 483.8h1.4v1.4h-1.4zM71.3 482.2h1.4v1.4h-1.4zM60.8 483.5h1.4v1.4h-1.4zM67.3 477.5h1.4v1.4h-1.4zM64.6 483.1h1.4v1.4h-1.4zM62.8 483.7h1.4v1.4h-1.4zM62 479.7h1.4v1.4h-1.4zM63 481.2h1.4v1.4h-1.4zM67.4 483.4h1.4v1.4h-1.4zM61 485h1.4v1.4h-1.4zM68 483.7h1.4v1.4h-1.4zM67.5 482.9h1.4v1.4h-1.4zM61 481.5h1.4v1.4h-1.4zM60 481.7h1.4v1.4h-1.4zM68.9 483h1.4v1.4h-1.4zM62.7 484.9h1.4v1.4h-1.4zM67.2 481.2h1.4v1.4h-1.4zM68.6 476h1.4v1.4h-1.4zM61.9 484.3h1.4v1.4h-1.4zM70.5 483.1h1.4v1.4h-1.4zM68.4 479h1.4v1.4h-1.4zM60.4 482.5h1.2v1.2h-1.2zM60.4 483.6h1.2v1.2h-1.2zM62.7 471.4h1.2v1.2h-1.2zM62.7 472.5h1.2v1.2h-1.2zM62.7 474.4h1.2v1.2h-1.2zM62.7 475.7h1.2v1.2h-1.2zM62.7 476.6h1.2v1.2h-1.2zM62.7 477.5h1.2v1.2h-1.2zM62.7 478.6h1.2v1.2h-1.2zM62.7 479.4h1.2v1.2h-1.2zM62.7 481.4h1.2v1.2h-1.2zM62.7 483.4h1.2v1.2h-1.2zM62.7 485.3h1.2v1.2h-1.2zM71.1 481.3h1.2v1.2h-1.2zM71.1 483.3h1.2v1.2h-1.2zM71.1 484.9h1.2v1.2h-1.2zM87.5 481.8h1.4v1.4h-1.4zM82.3 481.8h1.4v1.4h-1.4zM84.2 484.6h1.4v1.4h-1.4zM83.9 482.6h1.4v1.4h-1.4zM87.5 483.7h1.4v1.4h-1.4zM79.5 485.3h1.4v1.4h-1.4zM86.8 471.2h1.4v1.4h-1.4zM83.2 477.4h1.4v1.4h-1.4zM87.1 485.1h1.4v1.4h-1.4zM78.6 480.3h1.4v1.4h-1.4zM87.6 476.5h1.4v1.4h-1.4zM83.4 481.6h1.4v1.4h-1.4zM78.7 485.4h1.4v1.4h-1.4zM78.5 484.7h1.4v1.4h-1.4zM82.4 483.6h1.4v1.4h-1.4zM87.4 480.7h1.4v1.4h-1.4zM82.9 484.6h1.4v1.4h-1.4zM80.4 485.2h1.4v1.4h-1.4zM84 483.2h1.4v1.4h-1.4zM86.8 484.5h1.4v1.4h-1.4zM86 483.1h1.4v1.4h-1.4zM83.9 481.2h1.4v1.4h-1.4zM85.6 484.7h1.4v1.4h-1.4zM78.7 484.7h1.4v1.4h-1.4zM81 479.3h1.4v1.4h-1.4zM81.9 476.1h1.4v1.4h-1.4zM83.2 479.7h1.4v1.4h-1.4zM82.3 485.1h1.4v1.4h-1.4zM83.3 484.5h1.4v1.4h-1.4zM77.9 484.2h1.4v1.4h-1.4zM78.8 482.9h1.4v1.4h-1.4zM80 484h1.4v1.4h-1.4zM81.4 478.3h1.4v1.4h-1.4zM79.7 481.1h1.4v1.4h-1.4zM79.7 482.1h1.4v1.4h-1.4zM80.2 477h1.4v1.4h-1.4zM87.4 482.9h1.4v1.4h-1.4zM86.2 484.4h1.4v1.4h-1.4zM82.1 483.3h1.4v1.4h-1.4zM78 482.4h1.4v1.4h-1.4zM87 481.7h1.4v1.4h-1.4zM79.2 479.3h1.4v1.4h-1.4zM84.8 479.8h1.4v1.4h-1.4zM87 483.4h1.4v1.4h-1.4zM87.3 473.5h1.4v1.4h-1.4zM83.5 482h1.4v1.4h-1.4zM79.8 480.7h1.4v1.4h-1.4zM79.3 483.2h1.4v1.4h-1.4zM80.5 483.5h1.4v1.4h-1.4zM86.4 481.9h1.4v1.4h-1.4zM87.1 484.2h1.4v1.4h-1.4zM83.9 484.9h1.4v1.4h-1.4zM82.5 472.8h1.4v1.4h-1.4zM85.6 481.5h1.4v1.4h-1.4zM82.6 485.3h1.4v1.4h-1.4zM78.8 483.1h1.4v1.4h-1.4zM82.7 483.8h1.4v1.4h-1.4zM82.9 484.2h1.4v1.4h-1.4zM78.2 480.8h1.4v1.4h-1.4zM79 478.7h1.4v1.4h-1.4zM81.9 483.2h1.4v1.4h-1.4zM81.2 479.9h1.4v1.4h-1.4zM120 478.5h1.4v1.4h-1.4zM132.4 480h1.4v1.4h-1.4zM132.6 481.4h1.4v1.4h-1.4zM124.4 483.3h1.4v1.4h-1.4zM126.8 481.4h1.4v1.4h-1.4zM141.8 482.8h1.4v1.4h-1.4zM133.9 484.6h1.4v1.4h-1.4zM132.1 478.7h1.4v1.4h-1.4zM122.4 484.7h1.4v1.4h-1.4zM142.6 484.8h1.4v1.4h-1.4zM138.7 477.5h1.4v1.4h-1.4zM138.1 479.6h1.4v1.4h-1.4zM134.5 481h1.4v1.4h-1.4zM133.2 478.9h1.4v1.4h-1.4zM138.5 482.1h1.4v1.4h-1.4zM129.9 484.3h1.4v1.4h-1.4zM121.8 482.4h1.4v1.4h-1.4zM128.5 471.9h1.4v1.4h-1.4zM131.4 483.8h1.4v1.4h-1.4zM123.9 482.1h1.4v1.4h-1.4zM125.5 472.8h1.4v1.4h-1.4zM121.5 478.6h1.4v1.4h-1.4zM122.7 479.8h1.4v1.4h-1.4zM138.3 482.8h1.4v1.4h-1.4zM134.4 482.7h1.4v1.4h-1.4zM141.9 483.7h1.4v1.4h-1.4zM123.6 482.6h1.4v1.4h-1.4zM135.2 481.8h1.4v1.4h-1.4zM123.4 482.2h1.4v1.4h-1.4zM120.6 479.1h1.4v1.4h-1.4zM126.9 474.1h1.4v1.4h-1.4zM128.6 484.3h1.4v1.4h-1.4zM119.4 484.5h1.4v1.4h-1.4zM125.3 483.5h1.4v1.4h-1.4zM137.6 484.8h1.4v1.4h-1.4zM125.3 484.3h1.4v1.4h-1.4zM122 481.4h1.4v1.4h-1.4zM120.4 483.8h1.4v1.4h-1.4zM128.5 474.4h1.4v1.4h-1.4zM133.7 483.2h1.4v1.4h-1.4zM137 481.8h1.4v1.4h-1.4zM121.7 475.6h1.4v1.4h-1.4zM138.2 483.6h1.4v1.4h-1.4zM135.6 484.8h1.4v1.4h-1.4zM124.5 478.1h1.4v1.4h-1.4zM139.6 484.1h1.4v1.4h-1.4zM132.1 483.2h1.4v1.4h-1.4zM123.5 478.8h1.4v1.4h-1.4zM135.1 484.7h1.4v1.4h-1.4zM134.9 484.9h1.4v1.4h-1.4zM121.4 483.3h1.4v1.4h-1.4zM119.9 479.5h1.4v1.4h-1.4zM135.3 482.8h1.4v1.4h-1.4zM135.6 484.7h1.4v1.4h-1.4zM121.2 477.5h1.4v1.4h-1.4zM119.8 476.6h1.4v1.4h-1.4zM140.2 485h1.4v1.4h-1.4zM138 483.5h1.4v1.4h-1.4zM142.2 478h1.4v1.4h-1.4zM139.3 484.7h1.4v1.4h-1.4zM138.2 477.7h1.4v1.4h-1.4zM127.7 480.2h1.4v1.4h-1.4zM121.8 481.3h1.4v1.4h-1.4zM136 483.7h1.4v1.4h-1.4zM141.1 481.2h1.4v1.4h-1.4zM124.5 484h1.4v1.4h-1.4zM141.8 480.8h1.4v1.4h-1.4zM128.4 484.3h1.4v1.4h-1.4zM124.7 480.2h1.4v1.4h-1.4zM142.3 478.7h1.4v1.4h-1.4zM139.3 484.5h1.4v1.4h-1.4zM134.5 482.7h1.4v1.4h-1.4zM127.4 472.7h1.4v1.4h-1.4zM136.7 483.3h1.4v1.4h-1.4zM125.2 484.1h1.4v1.4h-1.4zM125.2 483.8h1.4v1.4h-1.4zM122.9 482.6h1.4v1.4h-1.4zM130 483.8h1.4v1.4h-1.4zM134.2 483.2h1.4v1.4h-1.4zM134.7 478.3h1.4v1.4h-1.4zM121.3 482.7h1.4v1.4h-1.4zM130.9 480.2h1.4v1.4h-1.4zM141.8 484.6h1.4v1.4h-1.4zM133.7 481.2h1.4v1.4h-1.4zM130.5 480.8h1.4v1.4h-1.4zM136 477h1.4v1.4h-1.4zM129 475.5h1.4v1.4h-1.4zM133.5 484.3h1.4v1.4h-1.4zM127.6 477.2h1.4v1.4h-1.4zM122.9 483.2h1.4v1.4h-1.4zM134.2 483.7h1.4v1.4h-1.4zM123.8 484.8h1.4v1.4h-1.4zM133.3 484.3h1.4v1.4h-1.4zM137.3 478.6h1.4v1.4h-1.4zM138.1 482.7h1.4v1.4h-1.4zM131.9 482h1.4v1.4h-1.4zM129.4 484.2h1.4v1.4h-1.4zM128.8 480.8h1.4v1.4h-1.4zM134 479h1.4v1.4h-1.4zM142.1 482.1h1.4v1.4h-1.4zM132.7 482.6h1.4v1.4h-1.4zM131.3 470.1h1.4v1.4h-1.4zM142.4 484.6h1.4v1.4h-1.4zM135 484.8h1.4v1.4h-1.4zM121.7 483.2h1.4v1.4h-1.4zM121.4 483.8h1.4v1.4h-1.4zM130.9 483.9h1.4v1.4h-1.4zM139.3 482h1.4v1.4h-1.4zM125 484.1h1.4v1.4h-1.4zM119.6 481.6h1.4v1.4h-1.4zM134.4 482.9h1.4v1.4h-1.4zM138.5 483h1.4v1.4h-1.4zM124.2 484.8h1.4v1.4h-1.4zM123.3 477.2h1.4v1.4h-1.4zM126.9 481.6h1.4v1.4h-1.4zM120.4 484.8h1.4v1.4h-1.4zM135.1 481.1h1.4v1.4h-1.4zM137.7 472.4h1.4v1.4h-1.4zM127.7 483.8h1.4v1.4h-1.4zM137.2 483.4h1.4v1.4h-1.4zM138.2 483.8h1.4v1.4h-1.4zM125 481.5h1.4v1.4h-1.4zM134.4 479.4h1.4v1.4h-1.4zM138.6 484.9h1.4v1.4h-1.4zM123 478.8h1.4v1.4h-1.4zM120.5 482.1h1.4v1.4h-1.4zM129.8 479.7h1.4v1.4h-1.4zM127.4 481.3h1.4v1.4h-1.4zM133.1 484.7h1.4v1.4h-1.4zM120 482.5h1.4v1.4h-1.4zM124.8 478.3h1.2v1.2h-1.2zM124.8 479.9h1.2v1.2h-1.2zM124.8 481.2h1.2v1.2h-1.2zM124.8 483.3h1.2v1.2h-1.2zM122.4 482.1h1.2v1.2h-1.2zM122.4 482.9h1.2v1.2h-1.2zM122.4 484.7h1.2v1.2h-1.2zM129.9 482.1h1.2v1.2h-1.2zM129.9 484.1h1.2v1.2h-1.2zM186.2 481.7h1.4v1.4h-1.4zM188.1 485.7h1.4v1.4h-1.4zM172.6 476.6h1.4v1.4h-1.4zM186.9 481.5h1.4v1.4h-1.4zM180.6 480h1.4v1.4h-1.4zM168.2 476.1h1.4v1.4h-1.4zM181.9 483.9h1.4v1.4h-1.4zM178.8 483.4h1.4v1.4h-1.4zM172.7 485.9h1.4v1.4h-1.4zM169.8 482.6h1.4v1.4h-1.4zM188.7 485.7h1.4v1.4h-1.4zM182.2 484.5h1.4v1.4h-1.4zM178.4 486h1.4v1.4h-1.4zM179.9 481.2h1.4v1.4h-1.4zM185.7 477.4h1.4v1.4h-1.4zM185.2 485.7h1.4v1.4h-1.4zM186.6 483.6h1.4v1.4h-1.4zM186.4 479.5h1.4v1.4h-1.4zM169.5 483.3h1.4v1.4h-1.4zM178.6 481.9h1.4v1.4h-1.4zM187.9 485.8h1.4v1.4h-1.4zM180.7 484.1h1.4v1.4h-1.4zM170.7 481.6h1.4v1.4h-1.4zM183.4 485.9h1.4v1.4h-1.4zM170 482.8h1.4v1.4h-1.4zM188.3 480.7h1.4v1.4h-1.4zM182 484.3h1.4v1.4h-1.4zM188.2 485.6h1.4v1.4h-1.4zM170.8 485.1h1.4v1.4h-1.4zM169.8 480.9h1.4v1.4h-1.4zM178.6 483h1.4v1.4h-1.4zM186 482h1.4v1.4h-1.4zM184.7 483.4h1.4v1.4h-1.4zM176.1 485.8h1.4v1.4h-1.4zM173.2 483.5h1.4v1.4h-1.4zM174.6 481.9h1.4v1.4h-1.4zM174.6 482.9h1.4v1.4h-1.4zM170.4 484.3h1.4v1.4h-1.4zM185 476.7h1.4v1.4h-1.4zM169.3 483.3h1.4v1.4h-1.4zM188.5 485.9h1.4v1.4h-1.4zM185.2 485.1h1.4v1.4h-1.4zM182.3 478.3h1.4v1.4h-1.4zM170.2 480.1h1.4v1.4h-1.4zM175.2 483.4h1.4v1.4h-1.4zM184 484.6h1.4v1.4h-1.4zM174.2 483.6h1.4v1.4h-1.4zM176.5 485.4h1.4v1.4h-1.4zM168.4 478.6h1.4v1.4h-1.4zM182.9 486h1.4v1.4h-1.4zM181.8 480.4h1.4v1.4h-1.4zM175.2 483.8h1.4v1.4h-1.4zM172.7 482.9h1.4v1.4h-1.4zM170.7 484.9h1.4v1.4h-1.4zM176.5 481h1.4v1.4h-1.4zM184 485.6h1.4v1.4h-1.4zM174.5 484.1h1.4v1.4h-1.4zM174.8 484.2h1.4v1.4h-1.4zM170.8 477.4h1.4v1.4h-1.4zM188 485.8h1.4v1.4h-1.4zM178.2 485.3h1.4v1.4h-1.4zM175.2 484.3h1.4v1.4h-1.4zM179.3 479.1h1.4v1.4h-1.4zM172.9 481.6h1.4v1.4h-1.4zM183.8 481.2h1.4v1.4h-1.4zM186.8 483h1.4v1.4h-1.4zM184.9 478.7h1.4v1.4h-1.4zM186.1 477.8h1.4v1.4h-1.4zM174 483.6h1.4v1.4h-1.4zM183.2 473.3h1.4v1.4h-1.4zM176.3 484.2h1.4v1.4h-1.4zM174.9 484.8h1.4v1.4h-1.4zM188.3 477.7h1.4v1.4h-1.4zM176.9 481h1.4v1.4h-1.4zM168.1 480.4h1.4v1.4h-1.4zM175.4 484.8h1.4v1.4h-1.4zM170.7 484.8h1.4v1.4h-1.4zM180.4 478.1h1.4v1.4h-1.4zM188.7 483.5h1.4v1.4h-1.4zM180.9 481h1.4v1.4h-1.4zM173.7 484.1h1.4v1.4h-1.4zM181.2 482.5h1.4v1.4h-1.4zM174.3 484.5h1.4v1.4h-1.4zM168.6 481.6h1.4v1.4h-1.4zM175.8 480.6h1.4v1.4h-1.4zM176.3 484.8h1.4v1.4h-1.4zM186.2 485.9h1.4v1.4h-1.4zM168.3 485.8h1.4v1.4h-1.4zM184.7 482.2h1.4v1.4h-1.4zM188 484.3h1.4v1.4h-1.4zM176.5 484.5h1.4v1.4h-1.4zM188.1 482.5h1.4v1.4h-1.4zM175.8 478.6h1.4v1.4h-1.4zM169.1 479.5h1.4v1.4h-1.4zM181.6 485.4h1.4v1.4h-1.4zM181.8 482.2h1.4v1.4h-1.4zM184.2 485h1.4v1.4h-1.4zM179 484.6h1.4v1.4h-1.4zM181.3 471.1h1.4v1.4h-1.4zM188.1 472.3h1.4v1.4h-1.4zM185 480.5h1.4v1.4h-1.4zM178.7 471.3h1.4v1.4h-1.4zM184.7 484.8h1.4v1.4h-1.4zM168 485.3h1.4v1.4h-1.4zM177.7 471.8h1.4v1.4h-1.4zM176.8 480.2h1.4v1.4h-1.4zM168.2 475.6h1.4v1.4h-1.4zM188.2 484.9h1.4v1.4h-1.4zM173 478.4h1.4v1.4h-1.4zM175.7 484.2h1.4v1.4h-1.4zM169 481.9h1.4v1.4h-1.4zM167.8 479h1.4v1.4h-1.4zM167.9 480.4h1.4v1.4h-1.4zM175.3 484.7h1.4v1.4h-1.4zM178.3 483.6h1.4v1.4h-1.4zM172.2 481.5h1.4v1.4h-1.4zM187.2 481.1h1.4v1.4h-1.4zM173.7 483.4h1.4v1.4h-1.4zM170.9 483.8h1.2v1.2h-1.2zM170.9 485.1h1.2v1.2h-1.2zM174.9 483h1.2v1.2h-1.2zM174.9 484.9h1.2v1.2h-1.2zM174.9 485.6h1.2v1.2h-1.2zM175.8 480.9h1.2v1.2h-1.2zM175.8 482.9h1.2v1.2h-1.2zM175.8 483.5h1.2v1.2h-1.2zM175.8 485h1.2v1.2h-1.2zM175.8 485.6h1.2v1.2h-1.2zM176.4 483.5h1.2v1.2h-1.2zM176.4 484.8h1.2v1.2h-1.2zM176.4 486h1.2v1.2h-1.2zM173.2 482.3h1.2v1.2h-1.2zM173.2 483.3h1.2v1.2h-1.2zM173.2 484.5h1.2v1.2h-1.2zM168.5 476h1.2v1.2h-1.2zM168.5 477.9h1.2v1.2h-1.2zM168.5 479h1.2v1.2h-1.2zM168.5 479.7h1.2v1.2h-1.2zM168.5 481.5h1.2v1.2h-1.2zM168.5 483h1.2v1.2h-1.2zM168.5 484.1h1.2v1.2h-1.2zM168.5 485.3h1.2v1.2h-1.2zM183.1 481.4h1.2v1.2h-1.2zM183.1 482.4h1.2v1.2h-1.2zM183.1 483.9h1.2v1.2h-1.2zM183.1 484.7h1.2v1.2h-1.2zM183.1 485.7h1.2v1.2h-1.2zM183.5 483.8h1.2v1.2h-1.2zM183.5 485.1h1.2v1.2h-1.2zM221 483.2h1.4v1.4h-1.4zM226.7 484.6h1.4v1.4h-1.4zM228.6 482.4h1.4v1.4h-1.4zM229.9 479.5h1.4v1.4h-1.4zM219.3 477.9h1.4v1.4h-1.4zM220.5 483.8h1.4v1.4h-1.4zM215.6 484.6h1.4v1.4h-1.4zM226 484.8h1.4v1.4h-1.4zM229.3 484.1h1.4v1.4h-1.4zM230.1 479.4h1.4v1.4h-1.4zM225.6 480.7h1.4v1.4h-1.4zM221.8 480h1.4v1.4h-1.4zM221.3 484.3h1.4v1.4h-1.4zM226.2 481.1h1.4v1.4h-1.4zM219.6 483.5h1.4v1.4h-1.4zM222.9 478.6h1.4v1.4h-1.4zM225 482.7h1.4v1.4h-1.4zM226.6 481.4h1.4v1.4h-1.4zM225.6 483h1.4v1.4h-1.4zM224.5 481.7h1.4v1.4h-1.4zM219.2 482.4h1.4v1.4h-1.4zM219.7 484.7h1.4v1.4h-1.4zM228.6 476.9h1.4v1.4h-1.4zM214.2 472.4h1.4v1.4h-1.4zM223.4 481.4h1.4v1.4h-1.4zM218 484.1h1.4v1.4h-1.4zM220.2 484.5h1.4v1.4h-1.4zM224.4 481.9h1.4v1.4h-1.4zM217.4 482.8h1.4v1.4h-1.4zM221.6 484.1h1.4v1.4h-1.4zM214.5 483.8h1.4v1.4h-1.4zM227.3 479.9h1.4v1.4h-1.4zM226.5 479.4h1.4v1.4h-1.4zM217.5 483.6h1.4v1.4h-1.4zM213 474h1.4v1.4h-1.4zM221.9 478.6h1.4v1.4h-1.4zM224.1 484.3h1.4v1.4h-1.4zM220.9 480.6h1.4v1.4h-1.4zM214.1 484.4h1.4v1.4h-1.4zM225 484.2h1.4v1.4h-1.4zM219.7 484.1h1.4v1.4h-1.4zM216.7 481.4h1.4v1.4h-1.4zM225.6 482.3h1.4v1.4h-1.4zM225.9 481.5h1.4v1.4h-1.4zM223.1 480.3h1.4v1.4h-1.4zM219.7 483.4h1.4v1.4h-1.4zM212.9 484.5h1.4v1.4h-1.4zM224.6 484.6h1.4v1.4h-1.4zM215.4 480h1.4v1.4h-1.4zM229.2 482.7h1.4v1.4h-1.4zM215.2 482.6h1.4v1.4h-1.4zM213.1 484.5h1.4v1.4h-1.4zM225.1 480.2h1.4v1.4h-1.4zM229.2 484.3h1.4v1.4h-1.4zM219.7 476.7h1.4v1.4h-1.4zM216.6 483.1h1.4v1.4h-1.4zM230.1 481.2h1.4v1.4h-1.4zM228.2 483.9h1.4v1.4h-1.4zM228.6 471.6h1.4v1.4h-1.4zM217.4 484.6h1.4v1.4h-1.4zM224.3 483.6h1.4v1.4h-1.4zM218 477.5h1.4v1.4h-1.4zM219.6 484.3h1.4v1.4h-1.4zM227.9 473.4h1.4v1.4h-1.4zM226.9 481.1h1.4v1.4h-1.4zM230.1 478.8h1.4v1.4h-1.4zM217.8 482.4h1.4v1.4h-1.4zM227 482.8h1.4v1.4h-1.4zM229.3 484.3h1.4v1.4h-1.4zM212.9 476.9h1.4v1.4h-1.4zM216.6 482.1h1.4v1.4h-1.4zM214.3 471.1h1.4v1.4h-1.4zM215.7 484.7h1.4v1.4h-1.4zM229.6 483.1h1.4v1.4h-1.4zM218.7 483.8h1.4v1.4h-1.4zM227.2 476.5h1.4v1.4h-1.4zM229 481.8h1.4v1.4h-1.4zM226.5 475.8h1.4v1.4h-1.4zM227.5 483.8h1.4v1.4h-1.4zM221 483.8h1.4v1.4h-1.4zM217.6 483.1h1.4v1.4h-1.4zM226.8 484.7h1.4v1.4h-1.4zM214.1 483.3h1.4v1.4h-1.4zM221.1 479.6h1.4v1.4h-1.4zM215.8 479.1h1.4v1.4h-1.4zM216.7 482.6h1.4v1.4h-1.4zM228.7 478h1.4v1.4h-1.4zM216 480.7h1.4v1.4h-1.4zM225.8 482.9h1.4v1.4h-1.4zM223.6 483.5h1.4v1.4h-1.4zM225.9 483h1.4v1.4h-1.4zM217 482.4h1.4v1.4h-1.4zM226.5 481.6h1.4v1.4h-1.4zM222.3 484.4h1.4v1.4h-1.4zM224.7 484.5h1.4v1.4h-1.4zM216.9 483.5h1.4v1.4h-1.4zM224.3 474.9h1.4v1.4h-1.4zM224.6 482.3h1.4v1.4h-1.4zM223.3 481.9h1.4v1.4h-1.4zM230.2 484.6h1.4v1.4h-1.4zM215.1 476.9h1.4v1.4h-1.4zM222.8 482.5h1.4v1.4h-1.4zM229.6 482.5h1.4v1.4h-1.4zM215.4 481.8h1.4v1.4h-1.4zM224.8 475.9h1.2v1.2h-1.2zM224.8 476.6h1.2v1.2h-1.2zM224.8 478.1h1.2v1.2h-1.2zM224.8 479.6h1.2v1.2h-1.2zM224.8 480.8h1.2v1.2h-1.2zM224.8 482h1.2v1.2h-1.2zM224.8 483.6h1.2v1.2h-1.2zM226.6 478.1h1.2v1.2h-1.2zM226.6 479.5h1.2v1.2h-1.2zM226.6 480.5h1.2v1.2h-1.2zM226.6 482.3h1.2v1.2h-1.2zM226.6 483.2h1.2v1.2h-1.2zM226.6 483.8h1.2v1.2h-1.2zM226.6 484.6h1.2v1.2h-1.2zM219.8 478.5h1.2v1.2h-1.2zM219.8 480.6h1.2v1.2h-1.2zM219.8 482.6h1.2v1.2h-1.2zM219.8 484.5h1.2v1.2h-1.2zM253.2 485h1.4v1.4h-1.4zM254.1 485.8h1.4v1.4h-1.4zM252.6 484h1.4v1.4h-1.4zM252 484.7h1.4v1.4h-1.4zM251.5 485.6h1.4v1.4h-1.4zM253 481.7h1.4v1.4h-1.4zM253.5 475.2h1.4v1.4h-1.4zM251.7 482.6h1.4v1.4h-1.4zM254.3 483.4h1.4v1.4h-1.4zM252.3 479.5h1.4v1.4h-1.4zM250.1 473.6h1.4v1.4h-1.4zM251.9 482.3h1.4v1.4h-1.4zM250.6 483.4h1.4v1.4h-1.4zM252.6 482.6h1.4v1.4h-1.4zM252.7 483.4h1.4v1.4h-1.4zM254.2 485.4h1.4v1.4h-1.4zM252 482.8h1.4v1.4h-1.4zM252.1 482.9h1.4v1.4h-1.4zM252.3 480.1h1.4v1.4h-1.4zM253.1 480.5h1.4v1.4h-1.4zM250.1 483h1.4v1.4h-1.4zM253.4 485.7h1.4v1.4h-1.4zM253.5 481.2h1.4v1.4h-1.4zM253.4 483.2h1.4v1.4h-1.4zM251.2 484.5h1.4v1.4h-1.4zM254.2 485.4h1.4v1.4h-1.4zM254.1 481.6h1.4v1.4h-1.4zM254.2 485.9h1.4v1.4h-1.4zM253.6 482.3h1.4v1.4h-1.4zM252.5 485.1h1.4v1.4h-1.4zM259.8 484.7h1.4v1.4h-1.4zM258.9 482h1.4v1.4h-1.4zM261.1 475.1h1.4v1.4h-1.4zM260.6 471.6h1.4v1.4h-1.4zM260.7 485.5h1.4v1.4h-1.4zM260.6 483.1h1.4v1.4h-1.4zM261.1 483.8h1.4v1.4h-1.4zM260.3 485.4h1.4v1.4h-1.4zM259.8 473.8h1.4v1.4h-1.4zM264.8 482.7h1.4v1.4h-1.4zM263.7 484.7h1.4v1.4h-1.4zM260.7 473h1.4v1.4h-1.4zM262 476.1h1.4v1.4h-1.4zM264.3 479.3h1.4v1.4h-1.4zM261.8 484.4h1.4v1.4h-1.4zM259.1 471.9h1.4v1.4h-1.4zM263.5 485.7h1.4v1.4h-1.4zM264.5 485.5h1.4v1.4h-1.4zM264.6 485.6h1.4v1.4h-1.4zM258.9 481.6h1.4v1.4h-1.4zM264.8 477.9h1.4v1.4h-1.4zM265 483.5h1.4v1.4h-1.4zM259.7 471.5h1.4v1.4h-1.4zM265.2 481.2h1.4v1.4h-1.4zM261 479.5h1.4v1.4h-1.4zM258.7 485.1h1.4v1.4h-1.4zM264.6 485.1h1.4v1.4h-1.4zM259.6 484.2h1.4v1.4h-1.4zM263.3 485h1.4v1.4h-1.4zM264.3 482.8h1.4v1.4h-1.4zM260.2 484.2h1.4v1.4h-1.4zM264.5 481.7h1.4v1.4h-1.4zM263.9 485.1h1.4v1.4h-1.4zM264.3 476.2h1.4v1.4h-1.4zM264 483.7h1.4v1.4h-1.4zM261.4 482.3h1.4v1.4h-1.4zM264.3 480.1h1.4v1.4h-1.4zM262.4 485.5h1.4v1.4h-1.4zM260.2 479h1.4v1.4h-1.4zM263.9 481.2h1.4v1.4h-1.4zM265.5 483.9h1.4v1.4h-1.4zM265.4 485.1h1.4v1.4h-1.4zM260 476.7h1.4v1.4h-1.4zM291.2 482.7h1.4v1.4h-1.4zM297 481h1.4v1.4h-1.4zM284.5 485.9h1.4v1.4h-1.4zM291.6 485.5h1.4v1.4h-1.4zM291.8 485.6h1.4v1.4h-1.4zM291.7 482.7h1.4v1.4h-1.4zM284.1 482.9h1.4v1.4h-1.4zM284.5 483.6h1.4v1.4h-1.4zM286.2 481.9h1.4v1.4h-1.4zM296.3 480.4h1.4v1.4h-1.4zM294.6 482.9h1.4v1.4h-1.4zM296.3 485.1h1.4v1.4h-1.4zM284.4 473.9h1.4v1.4h-1.4zM295 485.3h1.4v1.4h-1.4zM287.8 477.4h1.4v1.4h-1.4zM287.2 482.6h1.4v1.4h-1.4zM298.4 479.8h1.4v1.4h-1.4zM297 482.6h1.4v1.4h-1.4zM298.6 482.6h1.4v1.4h-1.4zM287.7 481.9h1.4v1.4h-1.4zM289.8 481.7h1.4v1.4h-1.4zM292.8 476.9h1.4v1.4h-1.4zM292.3 483.1h1.4v1.4h-1.4zM286.8 480.8h1.4v1.4h-1.4zM293.7 484.6h1.4v1.4h-1.4zM296.4 483.5h1.4v1.4h-1.4zM285.3 485.8h1.4v1.4h-1.4zM296 480.7h1.4v1.4h-1.4zM294.6 480.5h1.4v1.4h-1.4zM299.1 485.3h1.4v1.4h-1.4zM292.3 486h1.4v1.4h-1.4zM285.1 481.1h1.4v1.4h-1.4zM288.9 481.8h1.4v1.4h-1.4zM284 483.3h1.4v1.4h-1.4zM291.3 485.2h1.4v1.4h-1.4zM293.7 477.8h1.4v1.4h-1.4zM294.8 479.2h1.4v1.4h-1.4zM290.7 486h1.4v1.4h-1.4zM287 481.2h1.4v1.4h-1.4zM287.8 482.6h1.4v1.4h-1.4zM293.6 484.9h1.4v1.4h-1.4zM284.7 485.7h1.4v1.4h-1.4zM284.3 476.5h1.4v1.4h-1.4zM290.2 479.8h1.4v1.4h-1.4zM290.1 482.1h1.4v1.4h-1.4zM299.2 485.7h1.4v1.4h-1.4zM287.1 483.1h1.4v1.4h-1.4zM287.2 481.5h1.4v1.4h-1.4zM292.7 486h1.4v1.4h-1.4zM286.8 483.9h1.4v1.4h-1.4zM289.7 484.2h1.4v1.4h-1.4zM294.8 482.1h1.4v1.4h-1.4zM290.1 485.7h1.4v1.4h-1.4zM287.3 477.7h1.4v1.4h-1.4zM288.1 479.5h1.4v1.4h-1.4zM287.3 483.7h1.4v1.4h-1.4zM289.8 481.2h1.4v1.4h-1.4zM289 484.6h1.4v1.4h-1.4zM288 483.6h1.4v1.4h-1.4zM291.1 482.1h1.4v1.4h-1.4zM284.2 484.5h1.4v1.4h-1.4zM296.5 484.4h1.4v1.4h-1.4zM285.8 484.9h1.4v1.4h-1.4zM293.6 480.8h1.4v1.4h-1.4zM284.7 483.2h1.4v1.4h-1.4zM291.8 483h1.4v1.4h-1.4zM292.6 481.3h1.4v1.4h-1.4zM297.6 483.4h1.4v1.4h-1.4zM287 476.3h1.4v1.4h-1.4zM287.2 486h1.4v1.4h-1.4zM295.9 483.4h1.4v1.4h-1.4zM285.5 484.5h1.4v1.4h-1.4zM285.1 480.5h1.4v1.4h-1.4zM291 480.4h1.4v1.4h-1.4zM297.9 484.9h1.4v1.4h-1.4zM292.2 485.4h1.4v1.4h-1.4zM286.6 477.9h1.4v1.4h-1.4zM297.2 485.8h1.4v1.4h-1.4zM284 484.8h1.4v1.4h-1.4zM291.6 485.9h1.4v1.4h-1.4zM286.1 484.9h1.4v1.4h-1.4zM296.9 483.5h1.4v1.4h-1.4zM286 482.9h1.4v1.4h-1.4zM292.8 477.9h1.4v1.4h-1.4zM295.3 484h1.4v1.4h-1.4zM284.7 473.3h1.4v1.4h-1.4zM293.2 483.1h1.4v1.4h-1.4zM293.7 479h1.2v1.2h-1.2zM293.7 479.7h1.2v1.2h-1.2zM293.7 481.5h1.2v1.2h-1.2zM293.7 482.9h1.2v1.2h-1.2zM293.7 484.5h1.2v1.2h-1.2zM323.8 484.3h1.4v1.4h-1.4zM326.6 478.3h1.4v1.4h-1.4zM328.5 481.5h1.4v1.4h-1.4zM323.6 484.5h1.4v1.4h-1.4zM319.4 484.1h1.4v1.4h-1.4zM328 480.6h1.4v1.4h-1.4zM326 480.1h1.4v1.4h-1.4zM328 483.5h1.4v1.4h-1.4zM327.7 484.9h1.4v1.4h-1.4zM324.1 476.7h1.4v1.4h-1.4zM326 484.8h1.4v1.4h-1.4zM321.3 477.4h1.4v1.4h-1.4zM319.7 483h1.4v1.4h-1.4zM324 484.8h1.4v1.4h-1.4zM318.9 475.2h1.4v1.4h-1.4zM320.4 483.4h1.4v1.4h-1.4zM318.3 481.2h1.4v1.4h-1.4zM324 483.3h1.4v1.4h-1.4zM324.6 480.9h1.4v1.4h-1.4zM319.4 478.3h1.4v1.4h-1.4zM322.7 479.5h1.4v1.4h-1.4zM319.1 484.5h1.4v1.4h-1.4zM321.7 483.5h1.4v1.4h-1.4zM319.4 484.3h1.4v1.4h-1.4zM319.3 478h1.4v1.4h-1.4zM317.8 484.7h1.4v1.4h-1.4zM323.3 480.5h1.4v1.4h-1.4zM322.6 482.6h1.4v1.4h-1.4zM325.9 480h1.4v1.4h-1.4zM326.2 479.4h1.4v1.4h-1.4zM326.5 481h1.4v1.4h-1.4zM326 481.8h1.4v1.4h-1.4zM323.3 480.8h1.4v1.4h-1.4zM323.2 484.9h1.4v1.4h-1.4zM319.4 471.4h1.4v1.4h-1.4zM321.6 484.4h1.4v1.4h-1.4zM321.5 477.5h1.4v1.4h-1.4zM328.6 483.3h1.4v1.4h-1.4zM317.9 475.1h1.4v1.4h-1.4zM328.4 483h1.4v1.4h-1.4zM321.5 476.3h1.4v1.4h-1.4zM320.4 481.8h1.4v1.4h-1.4zM326.9 482.5h1.4v1.4h-1.4zM318.9 483.6h1.4v1.4h-1.4zM319.3 483.6h1.4v1.4h-1.4zM319.8 482.9h1.4v1.4h-1.4zM320.6 481.1h1.4v1.4h-1.4zM325 483.1h1.4v1.4h-1.4zM323.9 482.4h1.4v1.4h-1.4zM328.5 484h1.4v1.4h-1.4zM321.4 480.5h1.4v1.4h-1.4zM323.8 482.5h1.4v1.4h-1.4zM322.1 481.8h1.4v1.4h-1.4zM325.8 480.8h1.4v1.4h-1.4zM324.9 483.6h1.4v1.4h-1.4zM325.1 484.4h1.4v1.4h-1.4zM327 480.5h1.4v1.4h-1.4zM320.6 480.6h1.4v1.4h-1.4zM324.6 481.1h1.4v1.4h-1.4zM325.6 484.1h1.4v1.4h-1.4zM324.1 482.8h1.4v1.4h-1.4zM326.7 482.4h1.4v1.4h-1.4zM328.5 470.9h1.4v1.4h-1.4zM322.5 483.5h1.4v1.4h-1.4zM320.5 484.1h1.4v1.4h-1.4zM326.3 475.9h1.2v1.2h-1.2zM326.3 478h1.2v1.2h-1.2zM326.3 478.9h1.2v1.2h-1.2zM326.3 480.7h1.2v1.2h-1.2zM326.3 482.3h1.2v1.2h-1.2zM326.3 483.4h1.2v1.2h-1.2zM323.1 479.7h1.2v1.2h-1.2zM323.1 481.9h1.2v1.2h-1.2zM323.1 483.4h1.2v1.2h-1.2zM324.1 481.6h1.2v1.2h-1.2zM324.1 483.3h1.2v1.2h-1.2zM324.1 484.1h1.2v1.2h-1.2zM324.1 484.8h1.2v1.2h-1.2zM326.1 482.6h1.2v1.2h-1.2zM326.1 484.6h1.2v1.2h-1.2zM342.1 476h1.4v1.4h-1.4zM344 484.5h1.4v1.4h-1.4zM349.5 483.6h1.4v1.4h-1.4zM345.6 480.5h1.4v1.4h-1.4zM347.9 483.3h1.4v1.4h-1.4zM348.6 482.8h1.4v1.4h-1.4zM345.9 484.3h1.4v1.4h-1.4zM348.8 484.9h1.4v1.4h-1.4zM346.3 483.7h1.4v1.4h-1.4zM347.8 484.9h1.4v1.4h-1.4zM348.4 482.5h1.4v1.4h-1.4zM343.4 481.4h1.4v1.4h-1.4zM348.1 485.2h1.4v1.4h-1.4zM340.9 485.3h1.4v1.4h-1.4zM342 483.9h1.4v1.4h-1.4zM342 485.8h1.4v1.4h-1.4zM343.2 478.3h1.4v1.4h-1.4zM347.3 485.1h1.4v1.4h-1.4zM349 485.6h1.4v1.4h-1.4zM348.5 486h1.4v1.4h-1.4zM346.1 482.9h1.4v1.4h-1.4zM347.1 481.8h1.4v1.4h-1.4zM348 483h1.4v1.4h-1.4zM342.2 474.6h1.4v1.4h-1.4zM346.8 475.3h1.4v1.4h-1.4zM344.6 484.1h1.4v1.4h-1.4zM349.2 485h1.4v1.4h-1.4zM346 483.9h1.4v1.4h-1.4zM347.3 478.2h1.4v1.4h-1.4zM343 482.2h1.4v1.4h-1.4zM344.6 473.3h1.4v1.4h-1.4zM344 483.3h1.4v1.4h-1.4zM345.2 481.3h1.4v1.4h-1.4zM346.6 474.7h1.4v1.4h-1.4zM343.7 479.9h1.4v1.4h-1.4zM341.9 477.7h1.4v1.4h-1.4zM344.8 479.8h1.4v1.4h-1.4zM343.1 481.6h1.4v1.4h-1.4zM349 481.5h1.4v1.4h-1.4zM342.4 478.8h1.4v1.4h-1.4zM346.5 483.8h1.4v1.4h-1.4zM342.4 483.7h1.4v1.4h-1.4zM347.7 483.7h1.4v1.4h-1.4zM347.8 483.1h1.4v1.4h-1.4zM347.9 482.9h1.4v1.4h-1.4zM349.1 485.1h1.4v1.4h-1.4zM347.6 480.3h1.4v1.4h-1.4zM342.6 481.9h1.4v1.4h-1.4zM343 485.2h1.4v1.4h-1.4zM348.3 483.7h1.4v1.4h-1.4zM343.8 484.2h1.4v1.4h-1.4zM345.5 485.7h1.4v1.4h-1.4zM343.6 482.3h1.4v1.4h-1.4zM340.8 483.1h1.2v1.2h-1.2zM340.8 485h1.2v1.2h-1.2zM342.7 482.2h1.2v1.2h-1.2zM342.7 484.2h1.2v1.2h-1.2zM342.7 486h1.2v1.2h-1.2zM368.5 482.4h1.4v1.4h-1.4zM368.2 482.1h1.4v1.4h-1.4zM366.9 479.2h1.4v1.4h-1.4zM367.9 481.4h1.4v1.4h-1.4zM367.3 474.9h1.4v1.4h-1.4zM370.5 484.7h1.4v1.4h-1.4zM363.1 486h1.4v1.4h-1.4zM363.5 474.1h1.4v1.4h-1.4zM363.8 483.5h1.4v1.4h-1.4zM362.7 482h1.4v1.4h-1.4zM365.7 484.8h1.4v1.4h-1.4zM367.4 483.3h1.4v1.4h-1.4zM362.7 482.2h1.4v1.4h-1.4zM363 475.4h1.4v1.4h-1.4zM365.9 483.1h1.4v1.4h-1.4zM367.4 481h1.4v1.4h-1.4zM370.4 485h1.4v1.4h-1.4zM365.9 476.9h1.4v1.4h-1.4zM368.6 480.3h1.4v1.4h-1.4zM369.2 482.1h1.4v1.4h-1.4zM362.7 484.2h1.4v1.4h-1.4zM364.5 485.9h1.4v1.4h-1.4zM365.7 484.3h1.4v1.4h-1.4zM362.9 480.6h1.4v1.4h-1.4zM365.5 485.7h1.4v1.4h-1.4zM368.9 480.5h1.4v1.4h-1.4zM366.2 482.5h1.4v1.4h-1.4zM370.1 483.9h1.4v1.4h-1.4zM368.8 485.3h1.4v1.4h-1.4zM370.5 481h1.4v1.4h-1.4zM366.5 485.7h1.4v1.4h-1.4zM369.6 483.7h1.4v1.4h-1.4zM369.1 481.8h1.4v1.4h-1.4zM370.6 484.9h1.4v1.4h-1.4zM368.9 484.1h1.4v1.4h-1.4zM370.2 484.3h1.4v1.4h-1.4zM363.4 485h1.4v1.4h-1.4zM363.3 475.2h1.4v1.4h-1.4zM364.3 485.5h1.4v1.4h-1.4zM369.6 473.1h1.4v1.4h-1.4zM367.6 483.4h1.4v1.4h-1.4zM363.1 478.5h1.4v1.4h-1.4zM362.7 481.8h1.4v1.4h-1.4zM369.5 483.7h1.4v1.4h-1.4zM367.3 484.1h1.4v1.4h-1.4zM367.8 483.8h1.4v1.4h-1.4zM364.5 480.3h1.4v1.4h-1.4zM368.7 483.2h1.4v1.4h-1.4zM366.9 482h1.4v1.4h-1.4zM367.5 484h1.4v1.4h-1.4zM362.5 485h1.4v1.4h-1.4zM368.5 484.4h1.4v1.4h-1.4zM369 481.3h1.2v1.2h-1.2zM369 482.8h1.2v1.2h-1.2zM369 484.6h1.2v1.2h-1.2zM369 485.6h1.2v1.2h-1.2zM385.1 484.2h1.4v1.4h-1.4zM384.6 483.7h1.4v1.4h-1.4zM382.5 481.6h1.4v1.4h-1.4zM386.1 478.5h1.4v1.4h-1.4zM382.9 485.1h1.4v1.4h-1.4zM385.3 479.6h1.4v1.4h-1.4zM385.3 481.6h1.4v1.4h-1.4zM387 485.3h1.4v1.4h-1.4zM388 478.2h1.4v1.4h-1.4zM384.3 478.1h1.4v1.4h-1.4zM383.4 479h1.4v1.4h-1.4zM385.5 483.6h1.4v1.4h-1.4zM384 481h1.4v1.4h-1.4zM385.7 482.6h1.4v1.4h-1.4zM386.4 483.6h1.4v1.4h-1.4zM385.6 485.8h1.4v1.4h-1.4zM382.5 483.3h1.4v1.4h-1.4zM386.2 483h1.4v1.4h-1.4zM385.2 483.3h1.4v1.4h-1.4zM382.6 484.4h1.4v1.4h-1.4zM386.8 480.7h1.4v1.4h-1.4zM384.5 482.9h1.4v1.4h-1.4zM383.7 483.4h1.4v1.4h-1.4zM385.4 471.2h1.4v1.4h-1.4zM386.6 483.4h1.4v1.4h-1.4zM386.8 481h1.4v1.4h-1.4zM386.7 483.5h1.4v1.4h-1.4zM386.4 485.7h1.4v1.4h-1.4zM382.6 484.8h1.4v1.4h-1.4zM386.7 485.4h1.4v1.4h-1.4zM387.5 480.4h1.4v1.4h-1.4zM386.2 483.9h1.4v1.4h-1.4zM386.9 482.1h1.4v1.4h-1.4zM383.9 484.9h1.4v1.4h-1.4zM385.6 479.3h1.4v1.4h-1.4zM385.8 484.5h1.4v1.4h-1.4zM383.3 484.2h1.4v1.4h-1.4zM385.5 478.4h1.2v1.2h-1.2zM385.5 479.2h1.2v1.2h-1.2zM385.5 480.1h1.2v1.2h-1.2zM385.5 481h1.2v1.2h-1.2zM385.5 482.5h1.2v1.2h-1.2zM385.5 484.5h1.2v1.2h-1.2zM384.3 475.7h1.2v1.2h-1.2zM384.3 477.1h1.2v1.2h-1.2zM384.3 479h1.2v1.2h-1.2zM384.3 480.6h1.2v1.2h-1.2zM384.3 481.4h1.2v1.2h-1.2zM384.3 482.7h1.2v1.2h-1.2zM384.3 483.7h1.2v1.2h-1.2zM384.3 484.8h1.2v1.2h-1.2zM384.3 485.5h1.2v1.2h-1.2zM400.6 485.5h1.4v1.4h-1.4zM398.8 485.8h1.4v1.4h-1.4zM399.1 483.4h1.4v1.4h-1.4zM398.8 485.8h1.4v1.4h-1.4zM398.3 485h1.4v1.4h-1.4zM397.6 481.8h1.4v1.4h-1.4zM398.9 484.8h1.4v1.4h-1.4zM400.2 479.1h1.4v1.4h-1.4zM400.5 479h1.4v1.4h-1.4zM398.8 485.5h1.4v1.4h-1.4zM398.2 485h1.4v1.4h-1.4zM399.8 484.4h1.4v1.4h-1.4zM400.8 484.3h1.4v1.4h-1.4zM398.6 482.9h1.4v1.4h-1.4zM400.2 472.3h1.4v1.4h-1.4zM401 476.8h1.4v1.4h-1.4zM397.5 482h1.4v1.4h-1.4zM398.3 483.5h1.4v1.4h-1.4zM398.7 481.3h1.4v1.4h-1.4zM399.2 485.9h1.4v1.4h-1.4zM400.8 484.2h1.4v1.4h-1.4zM400 484.3h1.4v1.4h-1.4zM397.9 485.8h1.4v1.4h-1.4zM399.4 479.4h1.4v1.4h-1.4zM400.3 474h1.4v1.4h-1.4zM399.5 485.9h1.4v1.4h-1.4zM399 473.4h1.4v1.4h-1.4zM401 476.6h1.2v1.2h-1.2zM401 477.2h1.2v1.2h-1.2zM401 478.1h1.2v1.2h-1.2zM401 479.7h1.2v1.2h-1.2zM401 480.5h1.2v1.2h-1.2zM401 481.9h1.2v1.2h-1.2zM401 484.1h1.2v1.2h-1.2zM401 485.5h1.2v1.2h-1.2zM400.8 481.4h1.2v1.2h-1.2zM400.8 483.3h1.2v1.2h-1.2zM400.8 483.9h1.2v1.2h-1.2zM400.8 485.9h1.2v1.2h-1.2z"/>
<g stroke="#777" stroke-width="0.8" fill="none">
<path d="M48.4 285.6V474.2"/>
<path d="M46.4 474.2H48.4"/>
<path d="M46.4 436.5H48.4"/>
<path d="M46.4 398.8H48.4"/>
<path d="M46.4 361H48.4"/>
<path d="M46.4 323.3H48.4"/>
<path d="M46.4 285.6H48.4"/>
</g>
<text x="44" y="476.2" font-size="4.4" text-anchor="end" fill="#333" stroke="#333" stroke-width="0.2">5</text>
<text x="44" y="438.5" font-size="4.4" text-anchor="end" fill="#333" stroke="#333" stroke-width="0.2">10</text>
<text x="44" y="400.8" font-size="4.4" text-anchor="end" fill="#333" stroke="#333" stroke-width="0.2">15</text>
<text x="44" y="363" font-size="4.4" text-anchor="end" fill="#333" stroke="#333" stroke-width="0.2">20</text>
<text x="44" y="325.3" font-size="4.4" text-anchor="end" fill="#333" stroke="#333" stroke-width="0.2">25</text>
<text x="44" y="287.6" font-size="4.4" text-anchor="end" fill="#333" stroke="#333" stroke-width="0.2">30</text>
<text transform="translate(32.6,395) rotate(-90)" font-size="4" text-anchor="middle" fill="#333" stroke="#333" stroke-width="0.15">-log10(p)</text>
<path d="M48.4 456.9H416.8" stroke="#ffb3b3" stroke-width="1"/>
<path d="M48.4 474.2H416.8" stroke="#b5b5ff" stroke-width="1"/>
<text x="72.6" y="513.4" font-size="4.5" text-anchor="middle" fill="#222" stroke="#222" stroke-width="0.15">1</text>
<path d="M72.6 504.6V506.6" stroke="#777" stroke-width="0.5"/>
<text x="105.3" y="513.4" font-size="4.5" text-anchor="middle" fill="#222" stroke="#222" stroke-width="0.15">2</text>
<path d="M105.3 504.6V506.6" stroke="#777" stroke-width="0.5"/>
<text x="132.2" y="513.4" font-size="4.5" text-anchor="middle" fill="#222" stroke="#222" stroke-width="0.15">3</text>
<path d="M132.2 504.6V506.6" stroke="#777" stroke-width="0.5"/>
<text x="156.4" y="513.4" font-size="4.5" text-anchor="middle" fill="#222" stroke="#222" stroke-width="0.15">4</text>
<path d="M156.4 504.6V506.6" stroke="#777" stroke-width="0.5"/>
<text x="180" y="513.4" font-size="4.5" text-anchor="middle" fill="#222" stroke="#222" stroke-width="0.15">5</text>
<path d="M180 504.6V506.6" stroke="#777" stroke-width="0.5"/>
<text x="201" y="513.4" font-size="4.5" text-anchor="middle" fill="#222" stroke="#222" stroke-width="0.15">6</text>
<path d="M201 504.6V506.6" stroke="#777" stroke-width="0.5"/>
<text x="221.4" y="513.4" font-size="4.5" text-anchor="middle" fill="#222" stroke="#222" stroke-width="0.15">7</text>
<path d="M221.4 504.6V506.6" stroke="#777" stroke-width="0.5"/>
<text x="241" y="513.4" font-size="4.5" text-anchor="middle" fill="#222" stroke="#222" stroke-width="0.15">8</text>
<path d="M241 504.6V506.6" stroke="#777" stroke-width="0.5"/>
<text x="260.5" y="513.4" font-size="4.5" text-anchor="middle" fill="#222" stroke="#222" stroke-width="0.15">9</text>
<path d="M260.5 504.6V506.6" stroke="#777" stroke-width="0.5"/>
<text x="276.2" y="513.4" font-size="4.5" text-anchor="middle" fill="#222" stroke="#222" stroke-width="0.15">10</text>
<path d="M276.2 504.6V506.6" stroke="#777" stroke-width="0.5"/>
<text x="292.9" y="513.4" font-size="4.5" text-anchor="middle" fill="#222" stroke="#222" stroke-width="0.15">11</text>
<path d="M292.9 504.6V506.6" stroke="#777" stroke-width="0.5"/>
<text x="309.5" y="513.4" font-size="4.5" text-anchor="middle" fill="#222" stroke="#222" stroke-width="0.15">12</text>
<path d="M309.5 504.6V506.6" stroke="#777" stroke-width="0.5"/>
<text x="324.6" y="513.4" font-size="4.5" text-anchor="middle" fill="#222" stroke="#222" stroke-width="0.15">13</text>
<path d="M324.6 504.6V506.6" stroke="#777" stroke-width="0.5"/>
<text x="335.2" y="513.4" font-size="4.5" text-anchor="middle" fill="#222" stroke="#222" stroke-width="0.15">14</text>
<path d="M335.2 504.6V506.6" stroke="#777" stroke-width="0.5"/>
<text x="346.6" y="513.4" font-size="4.5" text-anchor="middle" fill="#222" stroke="#222" stroke-width="0.15">15</text>
<path d="M346.6 504.6V506.6" stroke="#777" stroke-width="0.5"/>
<text x="358.2" y="513.4" font-size="4.5" text-anchor="middle" fill="#222" stroke="#222" stroke-width="0.15">16</text>
<path d="M358.2 504.6V506.6" stroke="#777" stroke-width="0.5"/>
<text x="368.1" y="513.4" font-size="4.5" text-anchor="middle" fill="#222" stroke="#222" stroke-width="0.15">17</text>
<path d="M368.1 504.6V506.6" stroke="#777" stroke-width="0.5"/>
<text x="378.7" y="513.4" font-size="4.5" text-anchor="middle" fill="#222" stroke="#222" stroke-width="0.15">18</text>
<path d="M378.7 504.6V506.6" stroke="#777" stroke-width="0.5"/>
<text x="386.8" y="513.4" font-size="4.5" text-anchor="middle" fill="#222" stroke="#222" stroke-width="0.15">19</text>
<path d="M386.8 504.6V506.6" stroke="#777" stroke-width="0.5"/>
<text x="394.3" y="513.4" font-size="4.5" text-anchor="middle" fill="#222" stroke="#222" stroke-width="0.15">20</text>
<path d="M394.3 504.6V506.6" stroke="#777" stroke-width="0.5"/>
<text x="404.7" y="513.4" font-size="4.5" text-anchor="middle" fill="#222" stroke="#222" stroke-width="0.15">22</text>
<path d="M404.7 504.6V506.6" stroke="#777" stroke-width="0.5"/>
<text x="220.9" y="522.6" font-size="4.4" fill="#222" stroke="#222" stroke-width="0.12" textLength="23.6" lengthAdjust="spacingAndGlyphs">Chromosome</text>
<text x="216" y="278.6" font-size="4.7" font-weight="bold" fill="#111">Manhattan plot</text>
<rect x="84.2" y="381.1" width="1.4" height="1.4" fill="#111"/><rect x="84.2" y="384" width="1.4" height="1.4" fill="#111"/><rect x="84.2" y="389" width="1.4" height="1.4" fill="#111"/><rect x="84.2" y="394" width="1.4" height="1.4" fill="#111"/><rect x="84.2" y="396.5" width="1.4" height="1.4" fill="#111"/><rect x="84.2" y="408.9" width="1.4" height="1.4" fill="#111"/><rect x="84.2" y="418.3" width="1.4" height="1.4" fill="#111"/><rect x="84.2" y="423.8" width="1.4" height="1.4" fill="#111"/><rect x="84.2" y="439.9" width="1.4" height="1.4" fill="#111"/><rect x="84.2" y="442.1" width="1.4" height="1.4" fill="#111"/><rect x="84.2" y="444.3" width="1.4" height="1.4" fill="#111"/><rect x="84.2" y="446.5" width="1.4" height="1.4" fill="#111"/><rect x="84.2" y="448.7" width="1.4" height="1.4" fill="#111"/><rect x="84.2" y="450.9" width="1.4" height="1.4" fill="#111"/><rect x="84.2" y="453.1" width="1.4" height="1.4" fill="#111"/><rect x="84.2" y="455.3" width="1.4" height="1.4" fill="#111"/><rect x="84.2" y="457.5" width="1.4" height="1.4" fill="#111"/><rect x="84.2" y="459.7" width="1.4" height="1.4" fill="#111"/><rect x="84.2" y="461.9" width="1.4" height="1.4" fill="#111"/><rect x="84.2" y="464.1" width="1.4" height="1.4" fill="#111"/><rect x="84.2" y="466.3" width="1.4" height="1.4" fill="#111"/><rect x="84.2" y="468.5" width="1.4" height="1.4" fill="#111"/><rect x="84.2" y="470.7" width="1.4" height="1.4" fill="#111"/><rect x="84.2" y="472.9" width="1.4" height="1.4" fill="#111"/><rect x="84.2" y="475.1" width="1.4" height="1.4" fill="#111"/><rect x="84.2" y="477.3" width="1.4" height="1.4" fill="#111"/>
<rect x="105.4" y="451.2" width="1.2" height="1.2" fill="#555"/><rect x="105.4" y="458.1" width="1.2" height="1.2" fill="#555"/>
<rect x="123.2" y="454.8" width="1.4" height="1.4" fill="#111"/><rect x="123.2" y="456.4" width="1.4" height="1.4" fill="#111"/><rect x="123.2" y="458" width="1.4" height="1.4" fill="#111"/><rect x="123.2" y="459.6" width="1.4" height="1.4" fill="#111"/><rect x="123.2" y="461.2" width="1.4" height="1.4" fill="#111"/><rect x="123.2" y="462.8" width="1.4" height="1.4" fill="#111"/><rect x="123.2" y="464.4" width="1.4" height="1.4" fill="#111"/><rect x="123.2" y="466" width="1.4" height="1.4" fill="#111"/><rect x="123.2" y="467.6" width="1.4" height="1.4" fill="#111"/><rect x="123.2" y="469.2" width="1.4" height="1.4" fill="#111"/><rect x="123.2" y="470.8" width="1.4" height="1.4" fill="#111"/><rect x="123.2" y="472.4" width="1.4" height="1.4" fill="#111"/><rect x="123.2" y="474" width="1.4" height="1.4" fill="#111"/><rect x="123.2" y="475.6" width="1.4" height="1.4" fill="#111"/><rect x="123.2" y="477.2" width="1.4" height="1.4" fill="#111"/><rect x="123.2" y="478.8" width="1.4" height="1.4" fill="#111"/><rect x="123.2" y="480.4" width="1.4" height="1.4" fill="#111"/>
<rect x="119.8" y="464.5" width="1.0" height="1.0" fill="#888"/><rect x="119.8" y="466.3" width="1.0" height="1.0" fill="#888"/><rect x="119.8" y="468.1" width="1.0" height="1.0" fill="#888"/><rect x="119.8" y="469.9" width="1.0" height="1.0" fill="#888"/><rect x="119.8" y="471.7" width="1.0" height="1.0" fill="#888"/><rect x="119.8" y="473.5" width="1.0" height="1.0" fill="#888"/><rect x="119.8" y="475.3" width="1.0" height="1.0" fill="#888"/><rect x="119.8" y="477.1" width="1.0" height="1.0" fill="#888"/><rect x="119.8" y="478.9" width="1.0" height="1.0" fill="#888"/><rect x="119.8" y="480.7" width="1.0" height="1.0" fill="#888"/>
<rect x="235.7" y="435.8" width="1.0" height="1.0" fill="#666"/><rect x="235.7" y="446.3" width="1.0" height="1.0" fill="#666"/><rect x="235.7" y="451" width="1.0" height="1.0" fill="#666"/><rect x="235.7" y="453" width="1.0" height="1.0" fill="#666"/><rect x="235.7" y="455" width="1.0" height="1.0" fill="#666"/><rect x="235.7" y="457.7" width="1.0" height="1.0" fill="#666"/><rect x="235.7" y="463.4" width="1.0" height="1.0" fill="#666"/>
<rect x="326.2" y="455" width="1.4" height="1.4" fill="#111"/><rect x="326.2" y="461.7" width="1.4" height="1.4" fill="#111"/><rect x="326.2" y="463.3" width="1.4" height="1.4" fill="#111"/><rect x="326.2" y="464.9" width="1.4" height="1.4" fill="#111"/><rect x="326.2" y="466.5" width="1.4" height="1.4" fill="#111"/><rect x="326.2" y="468.1" width="1.4" height="1.4" fill="#111"/><rect x="326.2" y="469.7" width="1.4" height="1.4" fill="#111"/><rect x="326.2" y="471.3" width="1.4" height="1.4" fill="#111"/><rect x="326.2" y="472.9" width="1.4" height="1.4" fill="#111"/><rect x="326.2" y="474.5" width="1.4" height="1.4" fill="#111"/><rect x="326.2" y="476.1" width="1.4" height="1.4" fill="#111"/><rect x="326.2" y="477.7" width="1.4" height="1.4" fill="#111"/><rect x="326.2" y="479.3" width="1.4" height="1.4" fill="#111"/>
<rect x="333.4" y="456" width="1.2" height="1.2" fill="#555"/>
<rect x="332.6" y="465.6" width="2.1" height="16" fill="#999"/>
<rect x="382.3" y="440.3" width="1.4" height="1.4" fill="#222"/><rect x="382.3" y="451.3" width="1.4" height="1.4" fill="#222"/><rect x="382.3" y="454.3" width="1.4" height="1.4" fill="#222"/><rect x="382.3" y="459.3" width="1.4" height="1.4" fill="#222"/><rect x="382.3" y="462.3" width="1.4" height="1.4" fill="#222"/>
<rect x="294.3" y="458.3" width="1.4" height="1.4" fill="#111"/><rect x="294.3" y="462.3" width="1.4" height="1.4" fill="#111"/><rect x="294.3" y="469.3" width="1.4" height="1.4" fill="#111"/><rect x="294.3" y="471.3" width="1.4" height="1.4" fill="#111"/><rect x="294.3" y="473.3" width="1.4" height="1.4" fill="#111"/><rect x="294.3" y="475.3" width="1.4" height="1.4" fill="#111"/><rect x="294.3" y="477.3" width="1.4" height="1.4" fill="#111"/>
<rect x="387.9" y="293.8" width="1.5" height="1.5" fill="#111"/>
<rect x="387.5" y="301.5" width="1.8" height="16.9" fill="#111"/>
<rect x="387.5" y="319.8" width="1.8" height="1.2" fill="#111"/>
<rect x="387.5" y="322.5" width="1.8" height="1.5" fill="#111"/>
<rect x="387.5" y="325.5" width="1.8" height="1.5" fill="#111"/>
<rect x="387.5" y="328.5" width="1.8" height="1.5" fill="#111"/>
<rect x="387.5" y="331.5" width="1.8" height="1.0" fill="#111"/>
<rect x="387.5" y="333" width="1.8" height="5.3" fill="#111"/>
<rect x="387.5" y="344.2" width="1.8" height="1.5" fill="#111"/>
<rect x="387.5" y="348.8" width="1.8" height="6.2" fill="#111"/>
<rect x="387.5" y="358" width="1.8" height="4.5" fill="#111"/>
<rect x="387.5" y="367.7" width="1.8" height="10.5" fill="#111"/>
<rect x="387.5" y="380.3" width="1.8" height="22.2" fill="#111"/>
<rect x="387.5" y="404" width="1.8" height="3.0" fill="#111"/>
<rect x="387.5" y="408.5" width="1.8" height="73.5" fill="#111"/>
<path d="M313.7 416.6L326.9 454" stroke="#888" stroke-width="0.6"/>
<path d="M369.3 401.5L383 439.3" stroke="#888" stroke-width="0.6"/>
<text transform="translate(86.25,372.8) rotate(-90)" font-size="7.22" font-style="italic" font-weight="normal" fill="#000" stroke="#000" stroke-width="0.25" textLength="11.7" lengthAdjust="spacingAndGlyphs">CR1</text>
<text transform="translate(107.75,446.5) rotate(-90)" font-size="6.67" font-style="italic" font-weight="normal" fill="#000" stroke="#000" stroke-width="0.25" textLength="15.0" lengthAdjust="spacingAndGlyphs">BIN1</text>
<text transform="translate(125.25,448.6) rotate(-90)" font-size="7.36" font-style="italic" font-weight="normal" fill="#000" stroke="#000" stroke-width="0.25" textLength="21.5" lengthAdjust="spacingAndGlyphs">GADL1</text>
<text transform="translate(236.95,430.4) rotate(-90)" font-size="6.39" font-style="italic" font-weight="normal" fill="#000" stroke="#000" stroke-width="0.25" textLength="12.3" lengthAdjust="spacingAndGlyphs">CLU</text>
<text transform="translate(314.45,412.2) rotate(-90)" font-size="7.08" font-style="italic" font-weight="normal" fill="#000" stroke="#000" stroke-width="0.25" textLength="18.2" lengthAdjust="spacingAndGlyphs">GPC5</text>
<text transform="translate(336.15,446.8) rotate(-90)" font-size="7.08" font-style="italic" font-weight="normal" fill="#000" stroke="#000" stroke-width="0.25" textLength="26.5" lengthAdjust="spacingAndGlyphs">FERMT2</text>
<text transform="translate(371.25,398.3) rotate(-90)" font-size="6.67" font-style="italic" font-weight="normal" fill="#000" stroke="#000" stroke-width="0.25" textLength="22.8" lengthAdjust="spacingAndGlyphs">ABCA7</text>
<text transform="translate(389.55,287.2) rotate(-90)" font-size="6.81" font-style="italic" font-weight="normal" fill="#111" stroke="#111" stroke-width="0.08" textLength="52.7" lengthAdjust="spacingAndGlyphs">TOMMM40/APOE</text>
<clipPath id="cl0"><ellipse cx="526.7" cy="140.3" rx="67.1" ry="64.2"/></clipPath>
<ellipse cx="526.7" cy="140.3" rx="67.1" ry="64.2" fill="#fdebc6"/>
<ellipse cx="616.1" cy="140.3" rx="66.8" ry="64.2" fill="#eef7fa"/>
<ellipse cx="616.1" cy="140.3" rx="66.8" ry="64.2" fill="#e9edd9" clip-path="url(#cl0)"/>
<ellipse cx="526.7" cy="140.3" rx="67.1" ry="64.2" fill="none" stroke="#555" stroke-width="1"/>
<ellipse cx="616.1" cy="140.3" rx="66.8" ry="64.2" fill="none" stroke="#555" stroke-width="1"/>
<text transform="translate(517.8 32.6) scale(1.045 1)" font-size="10.55" text-anchor="middle" fill="#ef7050" stroke="#ef7050" stroke-width="0.2">Amyloid burden</text>
<text transform="translate(517.8 47.8) scale(1.045 1)" font-size="10.55" text-anchor="middle" fill="#ef7050" stroke="#ef7050" stroke-width="0.2">meta-GWAS</text>
<text transform="translate(517.8 63) scale(1.045 1)" font-size="10.55" text-anchor="middle" fill="#ef7050" stroke="#ef7050" stroke-width="0.2">CSF-PET</text>
<text transform="translate(625.0 32.6) scale(1.045 1)" font-size="10.55" text-anchor="middle" fill="#4f7ec0" stroke="#4f7ec0" stroke-width="0.2">PAD Amyloid burden</text>
<text transform="translate(625.0 47.8) scale(1.045 1)" font-size="10.55" text-anchor="middle" fill="#4f7ec0" stroke="#4f7ec0" stroke-width="0.2">meta-GWAS</text>
<text transform="translate(625.0 63) scale(1.045 1)" font-size="10.55" text-anchor="middle" fill="#4f7ec0" stroke="#4f7ec0" stroke-width="0.2">CSF-PET</text>
<text transform="translate(508.70 136.9) scale(1.045 1)" font-size="10.55" fill="#333" stroke="#333" stroke-width="0.2">3</text><path transform="translate(514.83 136.90) scale(0.00538 -0.00515)" d="M515 0L515 1237L197 1010L197 1180L530 1409L696 1409L696 0Z" fill="#333" stroke="#333" stroke-width="0.2" vector-effect="non-scaling-stroke"/><path transform="translate(520.97 136.90) scale(0.00538 -0.00515)" d="M515 0L515 1237L197 1010L197 1180L530 1409L696 1409L696 0Z" fill="#333" stroke="#333" stroke-width="0.2" vector-effect="non-scaling-stroke"/>
<text transform="translate(517.9 151.5) scale(1.045 1)" font-size="10.55" text-anchor="middle" fill="#333" stroke="#333" stroke-width="0.2">(49.4%)</text>
<path transform="translate(565.47 136.90) scale(0.00538 -0.00515)" d="M515 0L515 1237L197 1010L197 1180L530 1409L696 1409L696 0Z" fill="#333" stroke="#333" stroke-width="0.2" vector-effect="non-scaling-stroke"/><text transform="translate(571.60 136.9) scale(1.045 1)" font-size="10.55" fill="#333" stroke="#333" stroke-width="0.2">5</text>
<text transform="translate(571.6 151.5) scale(1.045 1)" font-size="10.55" text-anchor="middle" fill="#333" stroke="#333" stroke-width="0.2">(2.4%)</text>
<text transform="translate(625.0 136.9) scale(1.045 1)" font-size="10.55" text-anchor="middle" fill="#333" stroke="#333" stroke-width="0.2">304</text>
<text transform="translate(625.0 151.5) scale(1.045 1)" font-size="10.55" text-anchor="middle" fill="#333" stroke="#333" stroke-width="0.2">(48.3%)</text>
<clipPath id="cl283"><ellipse cx="526.7" cy="423.8" rx="67.1" ry="64.2"/></clipPath>
<ellipse cx="526.7" cy="423.8" rx="67.1" ry="64.2" fill="#fdebc6"/>
<ellipse cx="616.1" cy="423.8" rx="66.8" ry="64.2" fill="#eef7fa"/>
<ellipse cx="616.1" cy="423.8" rx="66.8" ry="64.2" fill="#e9edd9" clip-path="url(#cl283)"/>
<ellipse cx="526.7" cy="423.8" rx="67.1" ry="64.2" fill="none" stroke="#555" stroke-width="1"/>
<ellipse cx="616.1" cy="423.8" rx="66.8" ry="64.2" fill="none" stroke="#555" stroke-width="1"/>
<text transform="translate(516.8 316.1) scale(1.045 1)" font-size="10.55" text-anchor="middle" fill="#ef7050" stroke="#ef7050" stroke-width="0.2">MAGMA</text>
<text transform="translate(517.9 331.3) scale(1.045 1)" font-size="10.55" text-anchor="middle" fill="#ef7050" stroke="#ef7050" stroke-width="0.2">Gene-based</text>
<text transform="translate(519.0 346.5) scale(1.045 1)" font-size="10.55" text-anchor="middle" fill="#ef7050" stroke="#ef7050" stroke-width="0.2">analysis</text>
<text transform="translate(623.7 316.1) scale(1.045 1)" font-size="10.55" text-anchor="middle" fill="#4f7ec0" stroke="#4f7ec0" stroke-width="0.2">PAD MAGMA</text>
<text transform="translate(624.8 331.3) scale(1.045 1)" font-size="10.55" text-anchor="middle" fill="#4f7ec0" stroke="#4f7ec0" stroke-width="0.2">Gene-based</text>
<text transform="translate(626.2 346.5) scale(1.045 1)" font-size="10.55" text-anchor="middle" fill="#4f7ec0" stroke="#4f7ec0" stroke-width="0.2">analysis</text>
<text transform="translate(518.0 420.4) scale(1.045 1)" font-size="10.55" text-anchor="middle" fill="#333" stroke="#333" stroke-width="0.2">388</text>
<text transform="translate(518.0 435) scale(1.045 1)" font-size="10.55" text-anchor="middle" fill="#333" stroke="#333" stroke-width="0.2">(45.6%)</text>
<text transform="translate(571.4 420.4) scale(1.045 1)" font-size="10.55" text-anchor="middle" fill="#333" stroke="#333" stroke-width="0.2">67</text>
<text transform="translate(571.4 435) scale(1.045 1)" font-size="10.55" text-anchor="middle" fill="#333" stroke="#333" stroke-width="0.2">(7.9%)</text>
<text transform="translate(625.0 420.4) scale(1.045 1)" font-size="10.55" text-anchor="middle" fill="#333" stroke="#333" stroke-width="0.2">395</text>
<text transform="translate(625.0 435) scale(1.045 1)" font-size="10.55" text-anchor="middle" fill="#333" stroke="#333" stroke-width="0.2">(46.5%)</text>
<text x="0.8" y="11.8" font-size="12" font-weight="bold" fill="#000">A</text>
<text x="429.3" y="12.3" font-size="12" font-weight="bold" fill="#000">B</text>
<text x="429.1" y="295.6" font-size="12" font-weight="bold" fill="#000">C</text>
</svg>
</body></html>
